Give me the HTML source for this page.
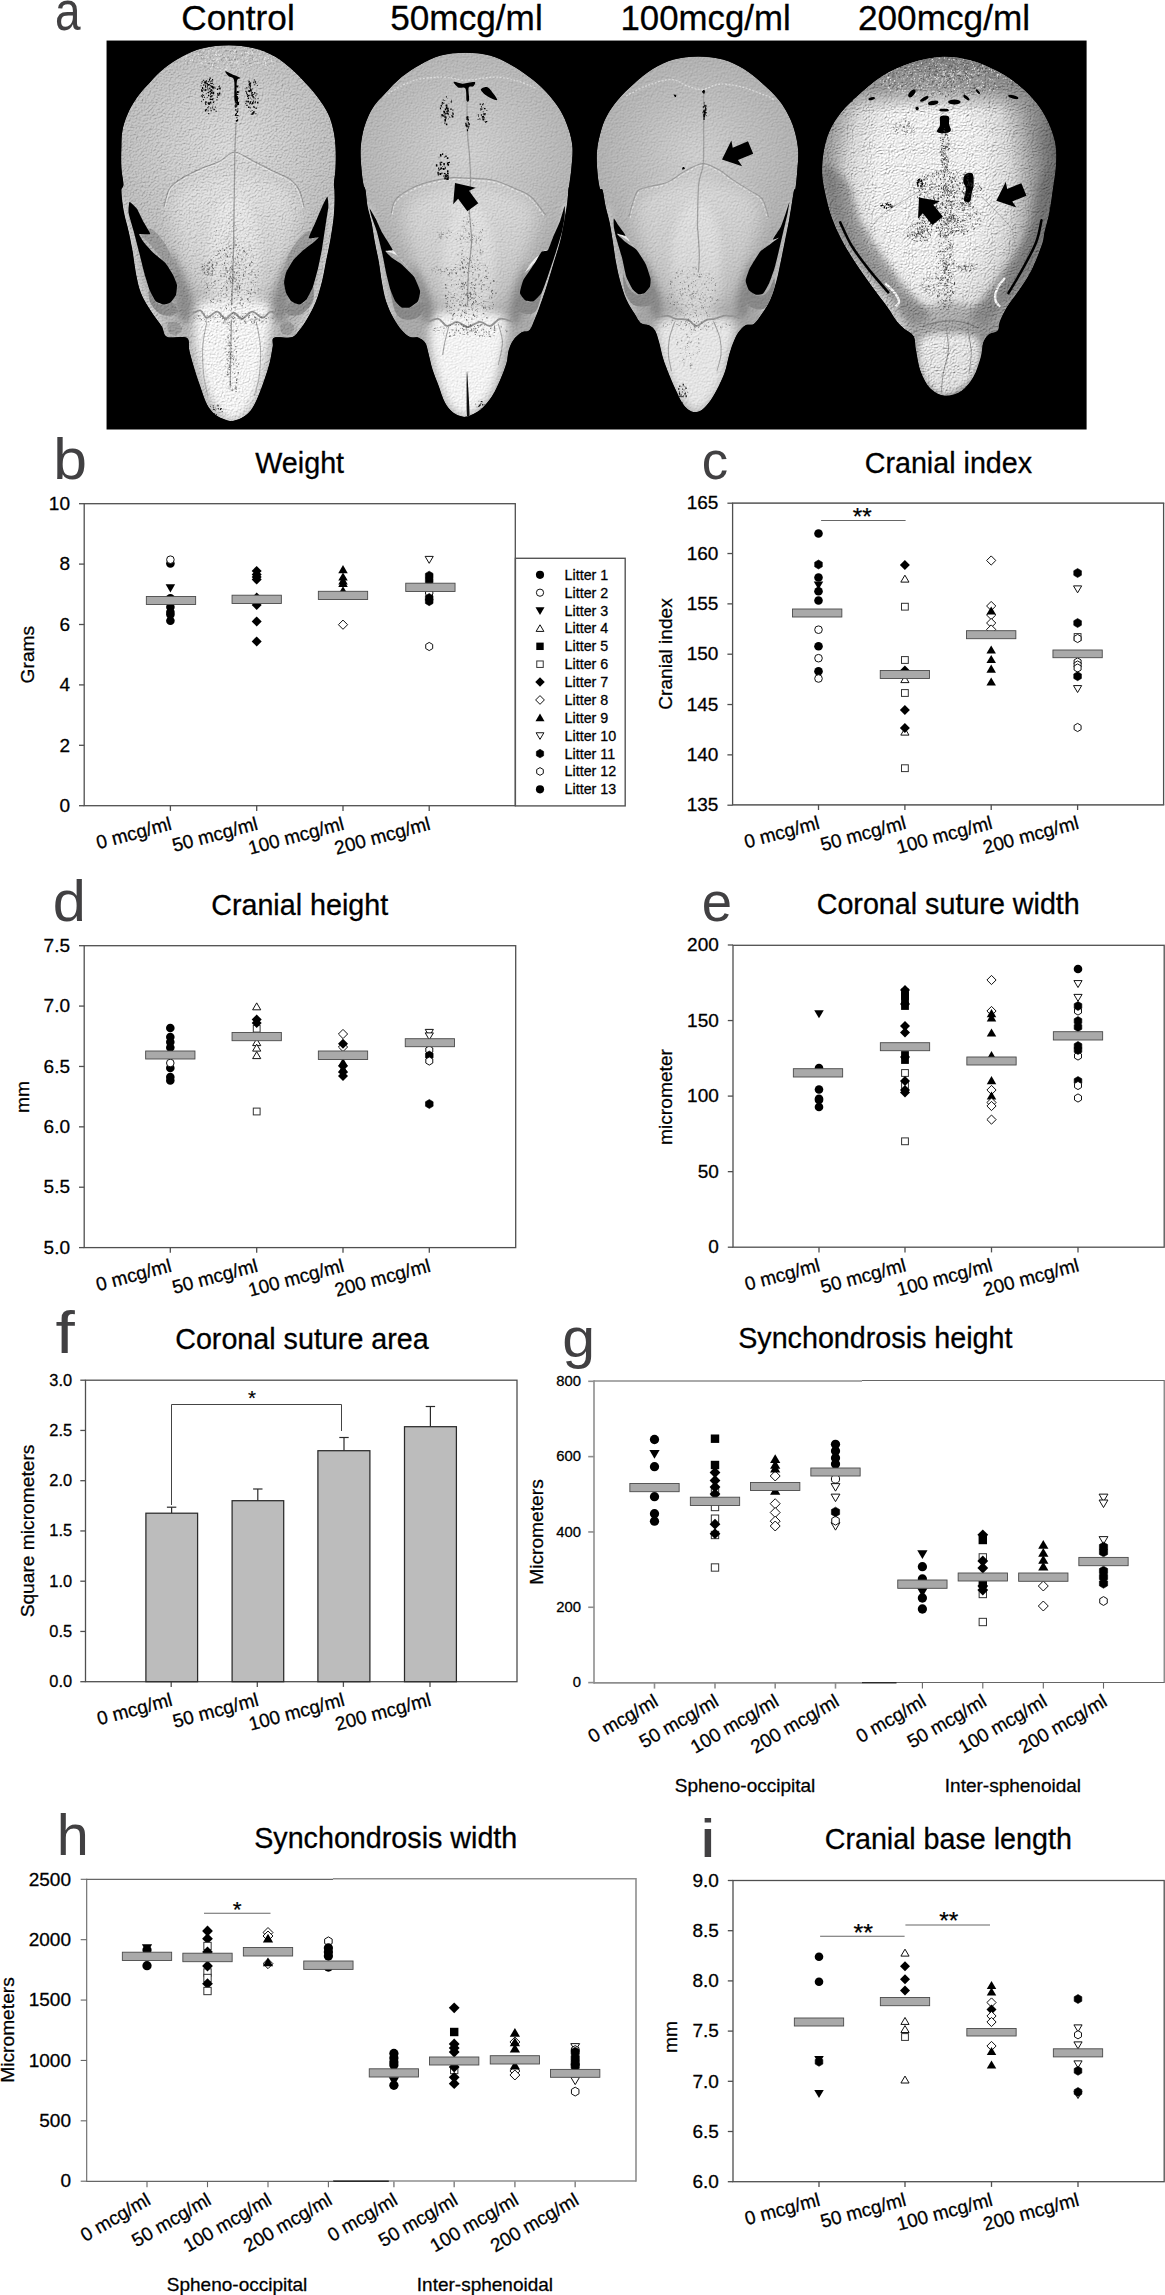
<!DOCTYPE html>
<html lang="en"><head><meta charset="utf-8"><title>Figure</title>
<style>
html,body{margin:0;padding:0;background:#fff;}
body{width:1165px;height:2295px;overflow:hidden;}
svg{display:block;}
text{font-family:"Liberation Sans",sans-serif;stroke:#000;stroke-width:0.28px;}
.lt{stroke:#414042;stroke-width:0;}
</style></head><body>
<svg width="1165" height="2295" viewBox="0 0 1165 2295">
<rect width="1165" height="2295" fill="#fff"/>
<defs>
<radialGradient id="g1" gradientUnits="userSpaceOnUse" cx="228" cy="150" r="130"><stop offset="0" stop-color="#e0e0e0"/><stop offset="0.45" stop-color="#d2d2d2"/><stop offset="0.8" stop-color="#c6c6c6"/><stop offset="1" stop-color="#bcbcbc"/></radialGradient>
<radialGradient id="g2" gradientUnits="userSpaceOnUse" cx="466" cy="155" r="130"><stop offset="0" stop-color="#d8d8d8"/><stop offset="0.45" stop-color="#c8c8c8"/><stop offset="0.8" stop-color="#bcbcbc"/><stop offset="1" stop-color="#b0b0b0"/></radialGradient>
<radialGradient id="g3" gradientUnits="userSpaceOnUse" cx="697" cy="155" r="125"><stop offset="0" stop-color="#d6d6d6"/><stop offset="0.45" stop-color="#c4c4c4"/><stop offset="0.8" stop-color="#b8b8b8"/><stop offset="1" stop-color="#acacac"/></radialGradient>
<radialGradient id="g4" gradientUnits="userSpaceOnUse" cx="930" cy="185" r="128" gradientTransform="translate(930 185) scale(1 1.75) translate(-930 -185)"><stop offset="0" stop-color="#ffffff"/><stop offset="0.4" stop-color="#ffffff"/><stop offset="0.5" stop-color="#f6f6f6"/><stop offset="0.63" stop-color="#e6e6e6"/><stop offset="0.81" stop-color="#a8a8a8"/><stop offset="0.95" stop-color="#848484"/><stop offset="1" stop-color="#707070"/></radialGradient>
<linearGradient id="sn1" gradientUnits="userSpaceOnUse" x1="0" y1="230" x2="0" y2="400"><stop offset="0" stop-color="#fff" stop-opacity="0"/><stop offset="0.55" stop-color="#fff" stop-opacity="0.55"/><stop offset="1" stop-color="#fff" stop-opacity="0.85"/></linearGradient>
<linearGradient id="sn2" gradientUnits="userSpaceOnUse" x1="0" y1="240" x2="0" y2="400"><stop offset="0" stop-color="#fff" stop-opacity="0"/><stop offset="0.55" stop-color="#fff" stop-opacity="0.55"/><stop offset="1" stop-color="#fff" stop-opacity="0.85"/></linearGradient>
<linearGradient id="sn3" gradientUnits="userSpaceOnUse" x1="0" y1="240" x2="0" y2="395"><stop offset="0" stop-color="#fff" stop-opacity="0"/><stop offset="0.55" stop-color="#fff" stop-opacity="0.55"/><stop offset="1" stop-color="#fff" stop-opacity="0.85"/></linearGradient>
<linearGradient id="top4" gradientUnits="userSpaceOnUse" x1="0" y1="55" x2="0" y2="112"><stop offset="0" stop-color="#808080" stop-opacity="0.95"/><stop offset="0.6" stop-color="#909090" stop-opacity="0.75"/><stop offset="1" stop-color="#a0a0a0" stop-opacity="0"/></linearGradient>
<filter id="bl6" x="-30%" y="-30%" width="160%" height="160%"><feGaussianBlur stdDeviation="5"/></filter><filter id="bl8" x="-30%" y="-30%" width="160%" height="160%"><feGaussianBlur stdDeviation="8"/></filter><filter id="bl3" x="-30%" y="-30%" width="160%" height="160%"><feGaussianBlur stdDeviation="3"/></filter>
<filter id="tex1" x="-2%" y="-2%" width="104%" height="104%" color-interpolation-filters="sRGB">
<feTurbulence type="fractalNoise" baseFrequency="0.85" numOctaves="2" seed="3" result="n"/>
<feDiffuseLighting in="n" surfaceScale="1.15" diffuseConstant="1.05" lighting-color="#ffffff" result="l"><feDistantLight azimuth="235" elevation="66"/></feDiffuseLighting>
<feComposite in="l" in2="SourceGraphic" operator="arithmetic" k1="1" k2="0" k3="0" k4="0" result="m"/>
<feComposite in="m" in2="SourceGraphic" operator="in"/>
</filter>
<filter id="tex2" x="-2%" y="-2%" width="104%" height="104%" color-interpolation-filters="sRGB">
<feTurbulence type="fractalNoise" baseFrequency="0.8" numOctaves="2" seed="7" result="n"/>
<feDiffuseLighting in="n" surfaceScale="0.6" diffuseConstant="1.05" lighting-color="#ffffff" result="l"><feDistantLight azimuth="235" elevation="66"/></feDiffuseLighting>
<feComposite in="l" in2="SourceGraphic" operator="arithmetic" k1="1" k2="0" k3="0" k4="0" result="m"/>
<feComposite in="m" in2="SourceGraphic" operator="in"/>
</filter>
<filter id="tex3" x="-2%" y="-2%" width="104%" height="104%" color-interpolation-filters="sRGB">
<feTurbulence type="fractalNoise" baseFrequency="0.8" numOctaves="2" seed="11" result="n"/>
<feDiffuseLighting in="n" surfaceScale="0.6" diffuseConstant="1.05" lighting-color="#ffffff" result="l"><feDistantLight azimuth="235" elevation="66"/></feDiffuseLighting>
<feComposite in="l" in2="SourceGraphic" operator="arithmetic" k1="1" k2="0" k3="0" k4="0" result="m"/>
<feComposite in="m" in2="SourceGraphic" operator="in"/>
</filter>
<filter id="tex4" x="-2%" y="-2%" width="104%" height="104%" color-interpolation-filters="sRGB">
<feTurbulence type="fractalNoise" baseFrequency="0.95" numOctaves="2" seed="5" result="n"/>
<feDiffuseLighting in="n" surfaceScale="1.6" diffuseConstant="1.05" lighting-color="#ffffff" result="l"><feDistantLight azimuth="235" elevation="62"/></feDiffuseLighting>
<feComposite in="l" in2="SourceGraphic" operator="arithmetic" k1="1" k2="0" k3="0" k4="0" result="m"/>
<feComposite in="m" in2="SourceGraphic" operator="in"/>
</filter>
</defs>
<g id="panel-a">
<text transform="translate(55.01 29.75) scale(0.9195 1.1012)" x="0" y="0" font-size="50" fill="#414042" class="lt">a</text>
<text x="238" y="29.6" font-size="35.2" text-anchor="middle" fill="#000" >Control</text>
<text x="466.5" y="29.6" font-size="35.2" text-anchor="middle" fill="#000" >50mcg/ml</text>
<text x="705.6" y="29.6" font-size="34.8" text-anchor="middle" fill="#000" >100mcg/ml</text>
<text x="944" y="29.6" font-size="35.2" text-anchor="middle" fill="#000" >200mcg/ml</text>
<rect x="106.55" y="40.55" width="980.05" height="388.95" fill="#000"/>
<clipPath id="clip1"><path d="M228.46,45.15C237.04,45.15 246.49,46.35 254.21,48.24C261.94,50.13 268.63,53.05 274.81,56.48C280.99,59.91 286.14,64.38 291.29,68.84C296.44,73.31 301.25,78.46 305.71,83.26C310.18,88.07 314.3,92.53 318.08,97.68C321.85,102.83 325.8,108.67 328.38,114.17C330.95,119.66 332.33,125.15 333.53,130.65C334.73,136.14 335.24,140.95 335.59,147.13C335.93,153.31 335.86,161.55 335.59,167.73C335.31,173.91 334.11,180.5 333.94,184.21C333.77,187.92 334.45,186.98 334.56,190C334.66,193.02 334.73,197.55 334.56,202.36C334.39,207.17 334.21,212.66 333.53,218.84C332.84,225.02 331.64,232.58 330.44,239.44C329.23,246.31 327.69,253.18 326.32,260.05C324.94,266.91 323.91,273.78 322.2,280.65C320.48,287.51 318.42,295.07 316.02,301.25C313.61,307.43 310.52,312.92 307.78,317.73C305.03,322.54 302.21,326.83 299.53,330.09C296.86,333.35 295.93,336.03 291.71,337.3C287.48,338.57 277.35,336.17 274.19,337.71C271.04,339.26 273.51,342.35 272.75,346.57C272,350.8 271.04,357.56 269.66,363.05C268.29,368.55 266.4,374.04 264.51,379.53C262.62,385.03 260.39,391.21 258.33,396.02C256.27,400.82 254.55,404.94 252.15,408.38C249.75,411.81 247,414.56 243.91,416.62C240.82,418.68 236.7,420.22 233.61,420.74C230.52,421.25 228.46,420.74 225.37,419.71C222.28,418.68 218.16,417.13 215.07,414.56C211.98,411.98 209.23,408.72 206.83,404.26C204.42,399.79 202.71,393.61 200.65,387.78C198.59,381.94 196.35,375.41 194.47,369.23C192.58,363.05 190.62,355.95 189.32,350.69C188.01,345.44 190.35,340.01 186.64,337.71C182.93,335.41 171.26,338.85 167.07,336.89C162.88,334.93 164.15,330.19 161.5,325.97C158.86,321.75 154.64,317.04 151.2,311.55C147.77,306.06 143.48,299.53 140.9,293.01C138.33,286.48 137.13,279.27 135.75,272.41C134.38,265.54 133.86,258.67 132.66,251.8C131.46,244.94 129.91,237.38 128.54,231.2C127.17,225.02 125.45,219.53 124.42,214.72C123.39,209.91 122.88,206.48 122.36,202.36C121.85,198.24 121.16,193.02 121.33,190C121.5,186.98 123.39,187.92 123.39,184.21C123.39,180.5 121.67,173.91 121.33,167.73C120.99,161.55 121.16,153.31 121.33,147.13C121.5,140.95 121.33,136.14 122.36,130.65C123.39,125.15 125.11,119.66 127.51,114.17C129.91,108.67 133.18,102.83 136.78,97.68C140.39,92.53 144.68,88.07 149.14,83.26C153.61,78.46 158.07,73.31 163.56,68.84C169.06,64.38 175.58,59.91 182.11,56.48C188.63,53.05 194.98,50.13 202.71,48.24C210.43,46.35 219.88,45.15 228.46,45.15Z"/></clipPath>
<g filter="url(#tex1)">
<path d="M228.46,45.15C237.04,45.15 246.49,46.35 254.21,48.24C261.94,50.13 268.63,53.05 274.81,56.48C280.99,59.91 286.14,64.38 291.29,68.84C296.44,73.31 301.25,78.46 305.71,83.26C310.18,88.07 314.3,92.53 318.08,97.68C321.85,102.83 325.8,108.67 328.38,114.17C330.95,119.66 332.33,125.15 333.53,130.65C334.73,136.14 335.24,140.95 335.59,147.13C335.93,153.31 335.86,161.55 335.59,167.73C335.31,173.91 334.11,180.5 333.94,184.21C333.77,187.92 334.45,186.98 334.56,190C334.66,193.02 334.73,197.55 334.56,202.36C334.39,207.17 334.21,212.66 333.53,218.84C332.84,225.02 331.64,232.58 330.44,239.44C329.23,246.31 327.69,253.18 326.32,260.05C324.94,266.91 323.91,273.78 322.2,280.65C320.48,287.51 318.42,295.07 316.02,301.25C313.61,307.43 310.52,312.92 307.78,317.73C305.03,322.54 302.21,326.83 299.53,330.09C296.86,333.35 295.93,336.03 291.71,337.3C287.48,338.57 277.35,336.17 274.19,337.71C271.04,339.26 273.51,342.35 272.75,346.57C272,350.8 271.04,357.56 269.66,363.05C268.29,368.55 266.4,374.04 264.51,379.53C262.62,385.03 260.39,391.21 258.33,396.02C256.27,400.82 254.55,404.94 252.15,408.38C249.75,411.81 247,414.56 243.91,416.62C240.82,418.68 236.7,420.22 233.61,420.74C230.52,421.25 228.46,420.74 225.37,419.71C222.28,418.68 218.16,417.13 215.07,414.56C211.98,411.98 209.23,408.72 206.83,404.26C204.42,399.79 202.71,393.61 200.65,387.78C198.59,381.94 196.35,375.41 194.47,369.23C192.58,363.05 190.62,355.95 189.32,350.69C188.01,345.44 190.35,340.01 186.64,337.71C182.93,335.41 171.26,338.85 167.07,336.89C162.88,334.93 164.15,330.19 161.5,325.97C158.86,321.75 154.64,317.04 151.2,311.55C147.77,306.06 143.48,299.53 140.9,293.01C138.33,286.48 137.13,279.27 135.75,272.41C134.38,265.54 133.86,258.67 132.66,251.8C131.46,244.94 129.91,237.38 128.54,231.2C127.17,225.02 125.45,219.53 124.42,214.72C123.39,209.91 122.88,206.48 122.36,202.36C121.85,198.24 121.16,193.02 121.33,190C121.5,186.98 123.39,187.92 123.39,184.21C123.39,180.5 121.67,173.91 121.33,167.73C120.99,161.55 121.16,153.31 121.33,147.13C121.5,140.95 121.33,136.14 122.36,130.65C123.39,125.15 125.11,119.66 127.51,114.17C129.91,108.67 133.18,102.83 136.78,97.68C140.39,92.53 144.68,88.07 149.14,83.26C153.61,78.46 158.07,73.31 163.56,68.84C169.06,64.38 175.58,59.91 182.11,56.48C188.63,53.05 194.98,50.13 202.71,48.24C210.43,46.35 219.88,45.15 228.46,45.15Z" fill="url(#g1)"/>
<g clip-path="url(#clip1)">
<path d="M198.59,305.37C204.77,296.44 221.94,301.25 233.61,301.25C245.28,301.25 263.14,296.44 268.63,305.37C274.13,314.3 268.98,339.02 266.57,354.81C264.17,370.61 259.7,389.15 254.21,400.14C248.72,411.12 240.48,420.05 233.61,420.74C226.74,421.42 219.19,415.24 213.01,404.26C206.83,393.27 198.93,371.29 196.53,354.81C194.12,338.33 192.41,314.3 198.59,305.37Z" fill="#ffffff" opacity="0.97" filter="url(#bl6)"/>
<path d="M175.93,194.12C185.54,183.13 213.69,175.58 233.61,175.58C253.52,175.58 285.46,183.13 295.41,194.12C305.37,205.11 297.13,226.05 293.35,241.5C289.58,256.96 282.71,275.5 272.75,286.83C262.79,298.16 246.31,309.49 233.61,309.49C220.91,309.49 206.14,298.16 196.53,286.83C186.91,275.5 179.36,256.96 175.93,241.5C172.49,226.05 166.31,205.11 175.93,194.12Z" fill="#ffffff" opacity="0.38" filter="url(#bl8)"/>
<path d="M169.74,251.8C171.12,249.06 178.33,264.17 182.11,272.41C185.88,280.65 191.38,293.01 192.41,301.25C193.44,309.49 190.69,319.45 188.29,321.85C185.88,324.25 180.39,321.16 177.99,315.67C175.58,310.18 175.24,299.53 173.86,288.89C172.49,278.24 168.37,254.55 169.74,251.8Z" fill="#606060" opacity="0.45" filter="url(#bl3)"/>
<path d="M293.35,251.8C291.81,249.06 284.43,264.17 280.99,272.41C277.56,280.65 273.44,293.01 272.75,301.25C272.07,309.49 274.47,319.45 276.87,321.85C279.28,324.25 284.94,321.16 287.17,315.67C289.41,310.18 289.23,299.53 290.26,288.89C291.29,278.24 294.9,254.55 293.35,251.8Z" fill="#606060" opacity="0.45" filter="url(#bl3)"/>
<path d="M121.95,198.24C122.36,200.99 123.32,209.23 124.42,214.72C125.52,220.22 127.17,225.02 128.54,231.2C129.91,237.38 131.46,244.94 132.66,251.8C133.86,258.67 134.38,265.54 135.75,272.41C137.13,279.27 138.33,286.48 140.9,293.01C143.48,299.53 147.77,306.06 151.2,311.55C154.64,317.04 159.79,323.57 161.5,325.97" fill="none" stroke="#f0f0f0" stroke-width="8" opacity="0.5" filter="url(#bl3)"/>
<path d="M334.56,198.24C334.39,201.67 334.21,211.98 333.53,218.84C332.84,225.71 331.64,232.58 330.44,239.44C329.23,246.31 327.69,253.18 326.32,260.05C324.94,266.91 323.91,273.78 322.2,280.65C320.48,287.51 318.42,295.07 316.02,301.25C313.61,307.43 310.52,312.92 307.78,317.73C305.03,322.54 300.91,328.03 299.53,330.09" fill="none" stroke="#f0f0f0" stroke-width="8" opacity="0.5" filter="url(#bl3)"/>
<ellipse cx="233.61" cy="257.99" rx="26" ry="62" fill="#fff" opacity="0.38" filter="url(#bl6)"/>
<path d="M149.14,289.92C150.07,289.81 153.26,299.15 155.74,301.66C158.21,304.17 161.3,304.85 163.98,304.96C166.65,305.06 169.47,301.18 171.8,302.28C174.14,303.38 178.33,309.32 177.99,311.55C177.64,313.78 172.83,315.33 169.74,315.67C166.65,316.01 162.71,315.84 159.44,313.61C156.18,311.38 151.89,306.23 150.17,302.28C148.46,298.33 148.22,290.02 149.14,289.92Z" fill="#929292"/>
<path d="M312.93,286.83C311.9,286.55 308.98,296.58 306.74,299.6C304.51,302.62 302.11,304.61 299.53,304.96C296.96,305.3 293.7,300.56 291.29,301.66C288.89,302.76 284.77,309.21 285.11,311.55C285.46,313.88 290.26,315.5 293.35,315.67C296.44,315.84 300.39,314.98 303.65,312.58C306.92,310.18 311.38,305.54 312.93,301.25C314.47,296.96 313.96,287.1 312.93,286.83Z" fill="#929292"/>
<path d="M151.2,229.14C154.98,230.34 160.13,236.7 163.56,241.5C167,246.31 169.74,252.83 171.8,257.99C173.86,263.14 176.27,270.69 175.93,272.41C175.58,274.12 172.49,271.03 169.74,268.29C167,265.54 162.88,260.05 159.44,255.93C156.01,251.8 152.23,247.17 149.14,243.56C146.05,239.96 140.56,236.7 140.9,234.29C141.25,231.89 147.43,227.94 151.2,229.14Z" fill="#a0a0a0"/>
<path d="M307.78,231.2C304,232.16 298.85,239.1 295.41,243.56C291.98,248.03 288.89,253.52 287.17,257.99C285.46,262.45 284.43,269.66 285.11,270.35C285.8,271.03 288.55,265.2 291.29,262.11C294.04,259.02 298.16,254.89 301.59,251.8C305.03,248.71 309.15,245.9 311.9,243.56C314.64,241.23 318.76,239.86 318.08,237.8C317.39,235.74 311.55,230.24 307.78,231.2Z" fill="#a0a0a0"/>
<path d="M167.68,323.91C168.71,322.02 173.52,321.16 175.93,321.85C178.33,322.54 181.76,325.97 182.11,328.03C182.45,330.09 180.05,333.35 177.99,334.21C175.93,335.07 171.46,334.9 169.74,333.18C168.03,331.46 166.65,325.8 167.68,323.91Z" fill="#a0a0a0"/>
<path d="M280.99,323.91C282.19,322.02 287,321.16 289.23,321.85C291.47,322.54 294.38,325.97 294.38,328.03C294.38,330.09 291.29,333.35 289.23,334.21C287.17,335.07 283.4,334.9 282.02,333.18C280.65,331.46 279.79,325.8 280.99,323.91Z" fill="#a0a0a0"/>
<path d="M163.98,206.87C164.94,203.78 166.72,193.14 169.74,188.33C172.77,183.52 176.61,181.46 182.11,178.03C187.6,174.6 196.53,170.48 202.71,167.73C208.89,164.98 213.87,164.12 219.19,161.55C224.51,158.97 228.8,152.28 234.64,152.28C240.48,152.28 247.52,158.29 254.21,161.55C260.91,164.81 268.63,168.76 274.81,171.85C280.99,174.94 287.17,177 291.29,180.09C295.41,183.18 297.41,185.93 299.53,190.39C301.66,194.86 303.31,204.13 304.07,206.87" fill="none" stroke="#9c9c9c" stroke-width="1.1"/>
<path d="M164.8,208.11C165.76,205.05 167.62,194.51 170.57,189.77C173.52,185.04 177.09,183.08 182.52,179.68C187.94,176.28 196.94,172.12 203.12,169.38C209.3,166.63 214.35,165.7 219.6,163.2C224.85,160.69 228.94,154.34 234.64,154.34C240.34,154.34 247.17,160 253.8,163.2C260.43,166.39 268.29,170.41 274.4,173.5C280.51,176.59 286.49,178.68 290.47,181.74C294.45,184.79 296.24,187.51 298.3,191.83C300.36,196.16 302.08,205.05 302.83,207.7" fill="none" stroke="#ffffff" stroke-width="1" opacity="0.55"/>
<path d="M236.08,122.41C235.88,127.38 235.12,141.98 234.85,152.28C234.57,162.58 234.64,169.58 234.43,184.21C234.23,198.84 233.75,230.49 233.61,240.04C233.47,249.59 233.75,235.42 233.61,241.5C233.47,247.58 233.13,265.88 232.79,276.53C232.44,287.17 231.76,300.56 231.55,305.37" fill="none" stroke="#a2a2a2" stroke-width="1.3"/>
<path d="M192.41,313.61C193.78,313.09 198.24,309.83 200.65,310.52C203.05,311.21 204.08,317.56 206.83,317.73C209.57,317.9 214.04,311.38 217.13,311.55C220.22,311.72 222.62,318.59 225.37,318.76C228.12,318.93 230.86,312.58 233.61,312.58C236.36,312.58 238.76,318.93 241.85,318.76C244.94,318.59 248.72,311.72 252.15,311.55C255.58,311.38 259.36,317.73 262.45,317.73C265.54,317.73 268.29,311.89 270.69,311.55C273.1,311.21 275.84,314.98 276.87,315.67" fill="none" stroke="#9a9a9a" stroke-width="1.8"/>
<path d="M206.83,321.85C206.14,325.97 203.22,337.64 202.71,346.57C202.19,355.5 202.88,367.17 203.74,375.41C204.6,383.65 207.17,392.58 207.86,396.02" fill="none" stroke="#b5b5b5" stroke-width="1.1"/>
<path d="M256.27,321.85C256.96,325.97 259.88,337.64 260.39,346.57C260.91,355.5 260.39,367.17 259.36,375.41C258.33,383.65 255.07,392.58 254.21,396.02" fill="none" stroke="#b5b5b5" stroke-width="1.1"/>
<path d="M231.55,319.79C231.41,325.63 230.93,343.48 230.73,354.81C230.52,366.14 230.38,382.28 230.31,387.78" fill="none" stroke="#a8a8a8" stroke-width="1.1"/>
<path d="M229.13,57.84h0.69v0.57h-0.69zM228.32,49.44h1.12v0.77h-1.12zM227.78,59.02h0.65v0.72h-0.65zM247.47,59.18h0.95v1.09h-0.95zM237.93,66.69h1.07v0.65h-1.07zM244.91,49.78h0.74v0.56h-0.74zM254.04,57.05h0.56v0.39h-0.56zM251.74,51.65h1.06v1.42h-1.06zM183.76,55.88h0.76v0.88h-0.76zM248.64,51.01h1.1v1.3h-1.1zM229.92,57.21h0.66v0.59h-0.66zM247.35,60.62h0.57v0.5h-0.57zM215.3,54.08h0.76v0.61h-0.76zM226.46,69.94h0.95v1.15h-0.95zM250.61,67h0.61v0.6h-0.61zM268.05,57.96h0.89v1.14h-0.89zM254.61,50.16h0.66v0.42h-0.66zM223.6,62.91h0.65v1h-0.65zM247.42,54.8h0.96v0.95h-0.96zM256.45,54.98h0.69v0.58h-0.69zM213.37,56.77h0.91v1.36h-0.91zM217.6,60.99h1.2v1.33h-1.2zM236.51,59.31h0.58v0.71h-0.58zM238.69,52.21h0.54v0.53h-0.54zM263.56,58.35h1.18v1.72h-1.18zM271.2,59.23h0.98v1.11h-0.98zM227.68,67.28h0.58v0.6h-0.58zM185.21,61.87h1.11v0.96h-1.11zM216.57,58.53h1.14v1.67h-1.14zM220.6,66.91h0.93v0.7h-0.93zM234.1,50.78h1.05v1.18h-1.05zM254.27,58.56h0.51v0.79h-0.51zM263.34,51.26h0.72v0.47h-0.72zM266.22,50.53h0.56v0.61h-0.56zM268.99,62.72h1.04v0.75h-1.04zM199.05,59.76h0.69v1.01h-0.69zM216.61,60.42h0.88v1.17h-0.88zM238.23,63.6h1.2v1.5h-1.2zM202.37,61.41h0.58v0.48h-0.58zM213.42,65.58h0.66v0.54h-0.66zM264.23,62.29h0.66v0.99h-0.66zM236.53,57.09h0.67v0.85h-0.67zM234.25,61.38h1.15v1.35h-1.15zM189.98,60.27h1.07v0.84h-1.07zM254.3,62.35h0.8v0.85h-0.8zM226.58,49.52h1.19v0.83h-1.19zM212.34,61.78h1.1v0.94h-1.1zM242.02,64.91h0.8v0.7h-0.8zM231.61,69.89h0.81v1.18h-0.81zM225.66,58.08h1.2v1.72h-1.2zM278.05,56.34h1.09v0.84h-1.09zM214.64,58.91h0.78v0.51h-0.78zM195.7,66.73h0.69v0.95h-0.69zM205.26,60.37h1.17v1.87h-1.17zM194.29,55.27h0.61v0.55h-0.61zM265.01,56.94h0.88v1.19h-0.88zM263.68,61.44h0.85v1.24h-0.85zM258.26,68.29h0.56v0.44h-0.56zM200.14,53.42h0.66v0.48h-0.66zM246.01,55.68h0.92v1.12h-0.92zM201.57,62.54h0.87v1.33h-0.87zM242.77,67.65h0.67v0.66h-0.67zM221.38,53.99h0.72v0.98h-0.72zM257.55,61.6h1.2v1.91h-1.2zM246.73,60.35h0.69v1.05h-0.69zM265.03,51.08h0.76v0.57h-0.76zM251.18,50.43h0.93v1.47h-0.93zM230.6,58.21h1.07v0.96h-1.07zM206.78,48.72h0.59v0.42h-0.59zM257.39,63.48h0.69v0.83h-0.69zM228.23,54.68h0.94v0.82h-0.94zM185.03,59.35h1.09v0.76h-1.09zM213.51,60.8h0.5v0.69h-0.5zM218.8,54.98h1.02v1.17h-1.02zM229.8,58.75h0.55v0.82h-0.55zM258.48,54.08h1.08v1.28h-1.08zM238.61,60.82h0.72v1.07h-0.72zM244.41,48.19h1.13v0.91h-1.13zM231.58,60.98h1.05v1.55h-1.05zM201.76,63.31h0.61v0.93h-0.61zM263.97,49.67h1.07v1.58h-1.07zM271.43,60.04h0.73v1.12h-0.73zM246.1,48.29h1.07v0.93h-1.07zM234,56.08h1.11v1.62h-1.11zM239.03,68.8h0.82v0.74h-0.82zM236.54,54.46h0.52v0.41h-0.52zM210.23,68.09h1.18v1.03h-1.18zM214.97,53.64h1.19v1.35h-1.19zM241.78,57.56h1.18v0.92h-1.18zM250.76,57.44h0.58v0.6h-0.58zM228.56,53.26h0.92v1.03h-0.92zM206.01,63.93h0.68v0.89h-0.68zM278.91,58.66h0.88v1.16h-0.88zM229.64,49.48h0.75v0.51h-0.75zM219.74,53.8h0.72v1.04h-0.72zM227.48,53.46h0.72v0.72h-0.72zM214.12,61.48h0.59v0.6h-0.59zM266.97,55.2h1.13v1.38h-1.13zM221.22,66.02h0.5v0.44h-0.5zM200.66,62.04h0.96v1.02h-0.96zM215.68,59.99h0.83v1.25h-0.83zM235.67,55.22h0.56v0.62h-0.56zM215.94,54.4h1.07v1.45h-1.07zM223.35,54.81h0.64v0.4h-0.64zM232.51,65.67h1.09v0.74h-1.09zM200.48,62.99h0.64v0.82h-0.64zM212.93,58.7h0.96v0.58h-0.96zM231.8,48.55h0.57v0.59h-0.57zM253.34,68.95h0.86v0.56h-0.86zM231.77,69.24h0.82v1.15h-0.82zM207.01,48.2h0.92v1.42h-0.92zM259.09,53.17h1v1.11h-1zM247.46,51.65h1.13v1.52h-1.13zM212.36,59.28h0.67v0.83h-0.67zM234.69,50.97h0.94v0.82h-0.94zM249.94,60.88h0.69v0.63h-0.69zM219.42,57.79h0.66v0.86h-0.66zM229.57,56.85h0.79v0.9h-0.79zM217.23,60.55h0.79v1.19h-0.79zM198.06,53.85h1.1v1.5h-1.1zM230.54,58.77h0.75v1.01h-0.75zM260.81,49.3h0.79v1.07h-0.79zM197.91,56.13h0.65v0.54h-0.65zM227.69,58.94h0.74v0.94h-0.74zM219.87,60.46h0.83v0.6h-0.83zM228.68,57.88h0.78v0.9h-0.78zM267.71,60.03h0.59v0.63h-0.59zM255.65,60.43h0.65v0.6h-0.65zM233.34,52.47h1.03v1.47h-1.03zM231.43,60.62h0.51v0.59h-0.51zM255.53,58.54h0.96v1.32h-0.96zM207.79,50.51h1.16v0.93h-1.16zM244.84,58.95h0.59v0.75h-0.59zM215.71,56.93h0.99v1.35h-0.99zM248.97,65.9h1.02v0.73h-1.02zM252.12,47.93h0.58v0.36h-0.58zM217.1,66.99h1.17v1.17h-1.17zM229.75,56.61h0.98v1.21h-0.98zM265.02,64.53h1.1v1.31h-1.1zM267.36,66.72h1.05v0.99h-1.05zM209.08,61.15h0.85v0.8h-0.85zM257.08,50.06h0.57v0.9h-0.57zM202.68,50.62h1v1.03h-1zM226.59,46.89h0.69v0.97h-0.69zM202.35,56.83h0.8v1.07h-0.8zM226.4,69.19h1.08v0.74h-1.08zM245.25,55.52h0.83v1h-0.83zM228.53,59.23h1.1v0.86h-1.1zM241.61,68.5h0.74v1.09h-0.74zM225.41,53.89h0.51v0.79h-0.51zM265.67,63.43h0.84v1.14h-0.84zM218.13,50.31h0.84v1.18h-0.84zM246.07,60.85h0.98v0.89h-0.98zM205.74,55.06h0.87v0.89h-0.87zM230.96,53.01h0.99v0.86h-0.99zM231.45,61.27h0.63v0.46h-0.63zM191.25,56.32h0.63v0.51h-0.63zM191.84,59.49h1.18v1.33h-1.18zM229.49,60.89h0.64v0.53h-0.64zM232.64,59.09h0.87v0.76h-0.87zM264.16,57.27h0.99v0.72h-0.99zM252.13,53.18h1.11v1.3h-1.11zM203.9,59.83h0.63v0.41h-0.63zM259.34,55.95h1.08v1.08h-1.08zM263.86,62.44h0.54v0.4h-0.54zM211.5,56.54h1.2v0.86h-1.2zM234.74,50.12h1.05v0.87h-1.05zM203.22,57.57h0.81v1.18h-0.81zM253.3,58.21h0.93v1.13h-0.93zM228.55,47.01h0.65v0.52h-0.65zM224.25,55.76h0.62v0.42h-0.62zM260.16,58.66h0.92v0.82h-0.92zM236.1,67.89h0.99v1.05h-0.99zM213.41,48.06h1.05v1.29h-1.05zM206.31,48.84h0.8v0.91h-0.8zM203.51,49.56h1.08v0.72h-1.08zM242.59,63.08h1.02v1.2h-1.02zM228.76,61.25h0.98v1.28h-0.98zM260.37,55.94h0.85v0.58h-0.85zM258.47,60.19h0.73v0.62h-0.73zM272.41,64.88h1.09v1.28h-1.09zM279.16,54.89h0.97v0.84h-0.97zM271.36,61.01h0.83v1.04h-0.83zM244.63,56.71h0.91v1.12h-0.91zM222.21,58.66h0.74v0.69h-0.74zM209.95,49.09h0.73v0.95h-0.73zM220.12,69.75h1.07v1.23h-1.07zM210.19,60.04h0.73v1.14h-0.73zM205.67,62.81h1.19v1.5h-1.19zM205.57,56.83h0.63v0.61h-0.63zM233.01,49.91h1.03v0.83h-1.03zM186.36,55.08h0.81v1.05h-0.81zM267.01,66.68h0.93v0.78h-0.93zM249.48,65.17h0.89v0.61h-0.89zM278.4,57.99h0.82v0.59h-0.82zM246.7,52.13h1v1.11h-1zM225.09,69h1.19v1h-1.19zM207.3,56.6h1.15v1.27h-1.15zM264.32,51.09h0.69v0.96h-0.69zM190.52,64.37h0.86v1.22h-0.86zM227.15,63.58h0.91v1.46h-0.91zM218.41,58.75h0.88v0.83h-0.88zM200.64,56.03h0.82v0.75h-0.82zM246.16,67.18h0.9v0.75h-0.9zM232.44,57.22h1.02v1.33h-1.02zM241.21,52.83h0.96v1.37h-0.96zM261.9,57.66h0.53v0.58h-0.53zM193.29,52.7h1.11v1.16h-1.11zM203.03,57.42h1.01v1.02h-1.01zM223.94,55.86h0.83v1.3h-0.83zM211.13,66.42h0.95v1.39h-0.95zM258.51,49.9h0.77v0.7h-0.77zM223.5,48.83h1.11v0.71h-1.11zM264.48,62.17h1.14v1.83h-1.14zM230.98,51.85h0.57v0.7h-0.57zM251.26,53.66h0.99v1.48h-0.99zM272.41,61.46h0.71v0.69h-0.71zM251.14,64.65h0.9v1.25h-0.9zM235.62,60.32h1.11v1.35h-1.11zM234.25,69.78h0.6v0.64h-0.6zM231.07,63.15h0.51v0.71h-0.51zM262.52,53.23h0.61v0.64h-0.61zM212.08,65.37h0.95v0.97h-0.95zM231.52,69.21h0.64v0.63h-0.64zM213.39,59h0.9v1.06h-0.9zM252.81,58.31h1.18v1.49h-1.18zM226.41,66.5h0.98v1.32h-0.98zM265.12,61.11h0.85v1.28h-0.85zM221.92,68.53h0.92v0.88h-0.92zM208.14,52.04h0.97v1.29h-0.97zM207.68,49.62h0.94v1.41h-0.94zM218.23,54.35h0.81v0.95h-0.81zM230.52,56.33h0.71v0.95h-0.71zM237.01,61.14h0.88v1.38h-0.88zM185.5,56.37h1.08v0.93h-1.08zM245.11,52.12h1.06v1.43h-1.06zM225.72,60.78h1.17v0.87h-1.17zM275.55,56.29h1.01v1.59h-1.01zM273.59,56.44h0.76v1.05h-0.76zM263.76,59.22h0.82v1.04h-0.82zM215.45,51.26h1.08v1.66h-1.08zM245.6,61.27h0.52v0.77h-0.52zM188.01,54.3h0.65v0.43h-0.65zM252.49,48.5h0.71v0.72h-0.71zM262.26,67.43h0.71v0.78h-0.71zM269.22,64.87h0.59v0.63h-0.59zM212.09,49.98h1.16v1.18h-1.16zM230.89,55.3h0.79v0.55h-0.79zM204.91,58.97h1.17v0.74h-1.17zM212.11,63.48h1.17v1.7h-1.17zM262.7,63.93h0.88v1.39h-0.88zM214.99,63.43h0.63v0.46h-0.63zM248.19,52.9h0.96v1.2h-0.96zM228.77,58.08h1.05v0.89h-1.05zM255.11,64.26h0.55v0.75h-0.55zM236.1,62.5h1.11v1.03h-1.11zM259.43,67.46h0.5v0.73h-0.5zM238.91,60.81h0.68v0.52h-0.68zM229.5,57.76h0.51v0.71h-0.51zM233.27,63.98h0.62v0.41h-0.62z" fill="#ffffff" opacity="0.7"/>
<path d="M229.89,50.9h1.02v1.1h-1.02zM237.04,51.13h0.58v0.64h-0.58zM236.78,58.09h1.05v1.54h-1.05zM202.86,57.61h1.17v0.78h-1.17zM205.38,59.38h0.98v1.07h-0.98zM238.33,57.5h0.56v0.67h-0.56zM250.1,60.49h0.94v1.08h-0.94zM208.88,69.19h0.87v0.92h-0.87zM223.73,57.08h0.99v1.44h-0.99zM207.29,50.43h1v0.82h-1zM214.58,59.82h0.74v0.78h-0.74zM223.23,59.71h0.8v1.01h-0.8zM222.11,60.83h1.15v0.76h-1.15zM236.22,56.56h0.57v0.76h-0.57zM244.1,51.17h0.91v1.06h-0.91zM226.04,60.96h0.75v0.95h-0.75zM231.63,47.67h1v1.58h-1zM212.12,55.14h0.9v0.74h-0.9zM221.84,55.03h0.58v0.83h-0.58zM203.7,65.88h0.9v1.27h-0.9zM259.19,48.8h1.07v1.3h-1.07zM229.11,57.81h1.15v1.64h-1.15zM229.9,62.14h0.99v0.9h-0.99zM230.8,58.83h1.11v1.29h-1.11zM221.2,60.33h0.94v0.59h-0.94zM231.13,54.45h0.79v0.75h-0.79zM204.3,65.5h1.04v1.22h-1.04zM237.03,59.32h0.61v0.74h-0.61zM222.31,54.26h0.96v1.05h-0.96zM212.71,60.26h1.03v0.73h-1.03zM212.85,60.66h0.97v1.06h-0.97zM228.69,57.35h0.78v0.93h-0.78zM253.12,58.79h0.65v0.48h-0.65zM230.75,64.04h0.51v0.68h-0.51zM242.99,63.99h0.99v1.09h-0.99zM253.05,49.6h0.55v0.8h-0.55zM234.53,58.74h1.14v1.67h-1.14zM201.44,54.82h1v1.01h-1zM234.04,59.07h0.73v1.02h-0.73zM199.15,51.41h1.14v0.79h-1.14zM241.95,54.84h0.91v1.03h-0.91zM214.07,61.76h0.74v0.69h-0.74zM246.91,65.07h0.58v0.64h-0.58zM251.43,55.34h1.01v1.43h-1.01zM238.79,54.53h0.6v0.48h-0.6zM198.53,52.6h0.96v0.75h-0.96zM235.92,51.29h1.03v1.4h-1.03zM186.65,62.12h0.9v1.11h-0.9zM199.53,50.9h0.94v0.71h-0.94zM257.23,61.36h0.71v0.62h-0.71zM260.73,61.12h0.72v0.75h-0.72zM272.72,62.23h0.55v0.81h-0.55zM253.41,51.8h0.85v0.91h-0.85zM191.54,55.13h1.13v1.18h-1.13zM245.15,50.27h0.73v0.78h-0.73zM235.71,59.93h0.57v0.86h-0.57zM209.66,66.44h0.85v0.66h-0.85zM231.95,65.27h0.81v0.91h-0.81zM245.15,63.59h0.7v0.7h-0.7zM213.16,65.66h1.05v1.31h-1.05zM240.33,59.47h0.97v0.86h-0.97zM225.43,49.72h1.13v1.67h-1.13zM214.41,65.66h0.6v0.57h-0.6zM269.64,56.66h0.77v0.93h-0.77zM251.91,56.54h0.76v1.06h-0.76zM246.16,50.18h1.08v1.45h-1.08zM218.95,51.51h0.95v0.97h-0.95zM215.67,63.04h0.63v0.51h-0.63zM260.12,56.2h0.66v0.49h-0.66zM270.85,63.51h0.57v0.78h-0.57zM254.92,49.07h0.53v0.49h-0.53zM232.78,55.66h0.76v0.58h-0.76zM251.94,49.82h1.07v0.82h-1.07zM206.75,61h0.97v0.82h-0.97zM212.05,60.25h1.02v1.07h-1.02zM210.05,57.42h1.07v1.14h-1.07zM244.2,53.41h1.16v1.84h-1.16zM211.54,59.72h0.77v0.87h-0.77zM273.98,56.35h1.06v0.78h-1.06zM231.55,67.33h1.11v1.28h-1.11zM267.1,64.95h1.1v0.97h-1.1zM233.21,53.72h1.13v0.85h-1.13zM187.11,62.96h0.66v0.69h-0.66zM229.23,59.31h0.54v0.59h-0.54zM235.99,70.45h0.76v0.48h-0.76zM271.66,54.07h0.95v1.33h-0.95zM245.09,62.35h1.08v1.4h-1.08zM256.74,65.74h0.81v0.49h-0.81zM248.47,60.75h1.08v1.25h-1.08zM226.99,50.95h0.58v0.51h-0.58zM229.67,59.9h0.79v1.11h-0.79zM221.21,59.23h1.13v1.36h-1.13zM262.82,59.32h0.67v0.5h-0.67zM199.44,62.21h0.67v0.68h-0.67zM226.96,56.7h1.18v0.79h-1.18zM200.87,57.32h1.19v1.38h-1.19zM208.78,63.04h0.94v1.49h-0.94zM231.49,59.21h1.05v0.99h-1.05zM227.69,49.92h1.04v1.39h-1.04zM228.75,59.72h0.88v1.25h-0.88zM250.59,67.52h0.83v1.07h-0.83zM202.32,50.91h0.54v0.75h-0.54zM211.1,59.88h0.53v0.42h-0.53zM277.55,61.52h0.86v1.37h-0.86zM213.12,57.32h1.03v0.81h-1.03zM205.37,66.44h1.11v1.03h-1.11zM249.17,62.74h1.12v1.51h-1.12zM251.83,54.75h1.18v1.3h-1.18zM184.24,58.72h0.86v1.21h-0.86zM230.34,56.53h0.92v1.31h-0.92zM209.88,57.01h0.56v0.7h-0.56zM219.36,66.43h0.8v1.03h-0.8zM228.29,59.6h1.11v1.06h-1.11zM251.78,58.48h1.19v1.84h-1.19zM264.05,62.52h0.75v1.06h-0.75zM210.81,48.06h0.6v0.72h-0.6zM232.48,57.42h0.55v0.75h-0.55zM214.51,63.1h0.9v1.08h-0.9zM210.77,48.1h0.76v1.04h-0.76zM202.91,55.1h0.78v0.97h-0.78z" fill="#909090" opacity="0.7"/>
<path d="M210.33,98.74h1.24v1.36h-1.24zM205.27,102.87h0.76v0.66h-0.76zM200.92,100.87h0.79v1.19h-0.79zM208.03,94.84h1.35v1.42h-1.35zM214.89,88.18h0.59v0.75h-0.59zM212.87,87.54h0.85v0.56h-0.85zM201.43,90h1.35v1.77h-1.35zM216.88,88.48h1.29v1.43h-1.29zM212.68,98.86h0.64v0.89h-0.64zM216.85,96.66h0.87v1.22h-0.87zM203.61,90.3h0.59v0.53h-0.59zM218.27,94.56h1.03v1.4h-1.03zM211.05,91.85h1.47v1.83h-1.47zM203.07,99.08h0.84v1.25h-0.84zM211.71,80.95h0.68v1.07h-0.68zM201.79,101.91h0.56v0.4h-0.56zM211.95,99h0.82v1.08h-0.82zM204.89,109.59h1.39v2.02h-1.39zM210.3,108.42h1.05v0.76h-1.05zM208.23,106.16h1v0.77h-1zM212.85,92.75h1.16v1.53h-1.16zM203.33,84.25h1.06v1.52h-1.06zM211.46,94.98h1.14v1.34h-1.14zM205.5,81.76h0.92v1.14h-0.92zM203.12,94.76h0.79v1.23h-0.79zM201.79,96.34h1.18v1.06h-1.18zM211.58,95.77h0.94v1.02h-0.94zM212.34,107.43h0.81v1.07h-0.81zM209.44,77.57h1.48v1.08h-1.48zM205.74,103.81h0.82v0.87h-0.82zM209.92,101.71h0.6v0.53h-0.6zM205.02,103.59h0.75v1.1h-0.75zM212.79,101.93h1.08v0.98h-1.08zM210.84,82.97h1.01v1.11h-1.01zM210.07,95.87h1.45v1.6h-1.45zM213.67,93.25h0.85v0.55h-0.85zM201.17,95.15h1.15v1.24h-1.15zM201.66,90.73h0.93v1.38h-0.93zM209.16,79.02h0.87v0.87h-0.87zM207.45,92.01h1.05v0.71h-1.05zM202.05,94.17h0.78v1.24h-0.78zM209.38,90.72h1.48v1.47h-1.48zM211.64,86.03h1.44v1.95h-1.44zM212.29,105.84h1v0.65h-1zM213.35,101.27h0.97v1.03h-0.97zM205.39,87.2h0.83v1h-0.83zM215.52,110.69h1.24v1.11h-1.24zM205.8,108.85h1.03v1.35h-1.03zM207.66,110.27h0.87v1.11h-0.87zM217.14,92.95h1.3v1.72h-1.3zM210.03,93.2h0.97v1.53h-0.97zM212.05,79.02h1.08v1.42h-1.08zM207.82,91.83h1.13v1.38h-1.13zM211.75,90.41h1.18v0.75h-1.18zM212.35,93.3h0.52v0.47h-0.52zM214.81,106.53h0.91v1.25h-0.91zM218.31,86.32h1.24v0.82h-1.24zM212.48,99.41h0.83v1.04h-0.83zM205.94,93.25h0.67v1.02h-0.67zM207.68,102.28h1.27v1.68h-1.27zM205.52,83.07h1.11v0.88h-1.11zM210.48,107.22h0.72v1.14h-0.72zM209.09,102.21h0.71v0.92h-0.71zM208.37,102.89h1.43v2h-1.43zM209.99,98.9h1.18v1.15h-1.18zM218.95,92.54h1.45v2.04h-1.45zM209.28,102.28h1.21v1.15h-1.21zM206.72,97.19h0.98v0.79h-0.98zM201.08,90.25h1.2v0.88h-1.2zM205.18,85.9h0.74v0.94h-0.74zM203.17,91.91h0.55v0.56h-0.55zM209.92,90.87h1.27v0.77h-1.27zM201.3,88.98h0.91v1.39h-0.91zM214.63,86.76h0.7v1.09h-0.7zM207.15,107.21h1.41v0.97h-1.41zM204.56,89.09h1.22v1.88h-1.22zM212.85,91.68h1.38v1.07h-1.38zM219.06,85.42h0.9v0.98h-0.9zM219.3,87.42h1.43v2.11h-1.43zM217.05,95.34h0.61v0.96h-0.61zM208.19,113.01h1.04v1.14h-1.04zM218.6,88.2h0.97v0.77h-0.97zM212.46,98.06h0.96v0.82h-0.96zM213.48,108.72h1.29v1.51h-1.29zM210.46,88.98h1.36v2.03h-1.36zM213.25,84.02h0.59v0.74h-0.59zM211.34,99.01h0.82v0.7h-0.82zM210.08,101.48h1.25v1.95h-1.25zM207.77,108.93h0.51v0.64h-0.51zM209.83,92.05h0.62v0.56h-0.62zM205.21,101.17h1.4v1.82h-1.4zM209.5,98.53h1.42v1.27h-1.42zM207.73,90.26h0.63v0.48h-0.63zM210.23,81.22h0.92v1.05h-0.92zM203.96,96.84h1.16v0.95h-1.16zM210.46,110.2h1.37v0.94h-1.37zM202.94,99.47h0.58v0.67h-0.58zM216.4,99.31h1.01v1.18h-1.01zM213.03,101.64h1.02v0.73h-1.02zM212.23,107.11h0.59v0.66h-0.59z" fill="#000" opacity="1.0"/>
<path d="M208.28,81.08h1.01v1.07h-1.01zM210.64,85.53h1.31v1.73h-1.31zM202.01,87.46h1.25v1.47h-1.25zM210.01,85.09h0.56v0.9h-0.56zM207.82,83.92h1.43v0.91h-1.43zM201.93,87h1.27v2h-1.27zM204.51,81.7h1.49v1.47h-1.49zM211.29,80.2h0.88v1.12h-0.88zM204.44,80.98h1.15v1.09h-1.15zM208.8,87.79h1.03v1.37h-1.03zM206.85,84.41h0.52v0.47h-0.52zM204.71,80.82h1.03v1.47h-1.03zM206.88,87.15h0.78v1.19h-0.78zM206.59,83.01h1.31v1.33h-1.31zM207.47,78.82h0.52v0.42h-0.52zM207.35,84.62h1.1v1.43h-1.1zM212.24,85.76h0.9v0.75h-0.9zM208.12,89.59h0.56v0.61h-0.56zM205.34,89.34h1.23v1.13h-1.23zM202.5,81.67h0.82v0.74h-0.82zM210.08,87.81h0.72v0.65h-0.72zM213.08,86.45h1.38v2.09h-1.38zM204.12,81.94h1v1.57h-1zM211.77,82.66h1.29v1.18h-1.29zM205.23,85.09h0.88v1.19h-0.88zM200.67,85.18h0.8v1.05h-0.8zM209.09,79h1.06v1.67h-1.06zM205.22,83.78h0.74v0.6h-0.74zM202.83,79.78h1.35v0.93h-1.35zM206.48,82.44h0.77v0.98h-0.77zM201.74,81h0.69v0.94h-0.69zM206.08,80.35h0.98v1.44h-0.98zM203.45,89.34h0.52v0.79h-0.52zM208.35,83.98h1.5v1.62h-1.5zM207.06,88.51h0.7v1.07h-0.7zM201.28,82.68h0.88v1h-0.88zM205.09,86.11h1.01v1.11h-1.01zM212.45,87.73h0.97v1.4h-0.97zM209.83,82.76h0.91v1.06h-0.91zM207.15,85.83h0.76v1.17h-0.76z" fill="#000" opacity="1.0"/>
<path d="M247.78,90.19h0.65v0.61h-0.65zM246.63,104.85h1v1.25h-1zM250.04,88.56h1.32v2.07h-1.32zM248.45,86.57h0.67v0.93h-0.67zM253.82,106.4h0.99v1.5h-0.99zM246.17,91.33h0.56v0.35h-0.56zM254.96,81.18h1.17v1.59h-1.17zM245.83,102.48h0.73v0.96h-0.73zM255.46,95.2h0.87v1.06h-0.87zM248.63,84.1h0.98v1.07h-0.98zM255.73,95.06h0.51v0.58h-0.51zM250.05,111.12h0.52v0.73h-0.52zM248.36,81.61h1.41v1h-1.41zM252.64,97.14h0.69v0.78h-0.69zM252.23,88.4h0.9v0.87h-0.9zM247.22,100.94h1.49v1.23h-1.49zM248.61,80.73h1.15v1.68h-1.15zM251.2,91.36h0.88v1.01h-0.88zM251.37,94.82h0.67v0.74h-0.67zM245.72,100.38h1.07v1.55h-1.07zM254.82,100.73h0.54v0.44h-0.54zM255.47,83.07h0.98v0.63h-0.98zM257.04,101.85h1.4v1.63h-1.4zM257.63,97.91h0.81v1.27h-0.81zM246.22,87.35h1.21v1.21h-1.21zM252.86,96.81h0.74v1.06h-0.74zM246.15,104.7h0.83v1.13h-0.83zM255.55,107.58h1.22v1.35h-1.22zM252.01,94.24h0.94v1.35h-0.94zM247.98,106.51h1.45v1.45h-1.45zM251.21,93.16h0.77v1.23h-0.77zM247.73,95.08h1.44v1.49h-1.44zM248.88,83.1h0.59v0.71h-0.59zM252.76,81.78h0.58v0.44h-0.58zM249.91,82.6h1.24v1.14h-1.24zM251.26,94.86h0.81v0.78h-0.81zM250.91,98.69h0.69v0.72h-0.69zM247.6,91.53h0.53v0.5h-0.53zM255.19,101.14h0.82v0.81h-0.82zM250.18,103.05h0.58v0.88h-0.58zM256.83,85.2h1.07v0.82h-1.07zM249.83,97.5h0.8v0.88h-0.8zM254.72,98.27h0.92v1h-0.92zM253.48,97.6h0.75v0.91h-0.75zM249.26,91.58h0.61v0.55h-0.61zM254.19,92.11h1.12v1.57h-1.12zM249.56,101.53h1.32v1.92h-1.32zM252.83,93.92h0.82v1.27h-0.82zM252.07,101.8h1.46v2.3h-1.46zM249.72,107.33h0.99v1.17h-0.99zM251.29,103.16h1.32v1.31h-1.32zM254.66,102.06h1.09v1.25h-1.09zM249.2,84.42h1.45v1.54h-1.45zM250.1,85.37h0.79v1.02h-0.79zM253.63,81.45h0.91v1h-0.91zM249.39,89.91h1.16v1.52h-1.16zM251.4,91.93h1.49v1.61h-1.49zM247.59,100.76h1.42v1.83h-1.42zM245.4,90.69h0.86v1.29h-0.86zM246.15,91.74h0.58v0.8h-0.58zM249.26,87.71h1.15v0.74h-1.15zM256.42,93.26h0.9v1.22h-0.9zM254.91,92.58h0.51v0.44h-0.51zM246.71,93.87h1.08v1.27h-1.08zM247.7,97.54h1.27v1.51h-1.27zM247.8,94.57h0.52v0.37h-0.52zM245.24,102.93h0.62v0.95h-0.62zM253.07,100.44h0.96v0.77h-0.96zM246.98,95.68h0.94v1.22h-0.94zM249.86,101.24h1.31v0.94h-1.31zM254.14,84.41h1.18v0.9h-1.18zM253.71,93.95h0.67v0.51h-0.67zM244.8,88.53h0.73v0.74h-0.73zM253.17,106h0.93v0.59h-0.93zM249.43,91.01h1.09v1.08h-1.09zM250.47,89.2h1.25v1.76h-1.25zM252.43,95.91h1.37v1.08h-1.37zM249.26,103.33h0.76v1.12h-0.76zM246.08,92.44h1.1v1.33h-1.1zM248.26,90.37h1.35v1.64h-1.35zM253.26,82.33h0.8v0.97h-0.8zM252.6,96.71h0.62v0.56h-0.62zM253.33,106.6h1.01v1.03h-1.01zM253.44,101.22h0.69v0.85h-0.69zM249.33,82.87h1.5v1.73h-1.5zM249.35,94.87h0.81v0.86h-0.81zM254.35,97.34h0.51v0.38h-0.51zM253.84,79.4h1.01v1.1h-1.01zM249.61,86.16h1.34v1.46h-1.34zM251.65,95.33h1.26v1.12h-1.26z" fill="#000" opacity="1.0"/>
<path d="M251.65,113.38h0.63v0.67h-0.63zM251.96,110.45h0.94v0.67h-0.94zM255.3,113.21h1.16v1.12h-1.16zM252.39,111.91h1.08v1.23h-1.08zM253.16,112.08h1.16v1.57h-1.16zM250.68,114.02h0.86v0.82h-0.86zM253.29,111.08h1.3v1.78h-1.3zM252.5,113.83h0.97v0.92h-0.97zM251.26,110.7h0.63v0.47h-0.63zM252.6,112.74h0.55v0.52h-0.55zM251.52,113.38h0.76v0.99h-0.76zM251.67,112.88h1.19v1.88h-1.19z" fill="#000" opacity="1.0"/>
<path d="M235.92,98.15h1.56v2.17h-1.56zM237.82,91.6h1.47v1.07h-1.47zM236.59,95.88h1.31v1.87h-1.31zM236.19,85.88h1.09v1.28h-1.09zM235.95,113.06h1.05v1.3h-1.05zM236.36,99.08h1.12v0.98h-1.12zM237,97.73h1.55v1.44h-1.55zM237.75,102.08h1.33v1.77h-1.33zM234.63,105.87h0.96v0.64h-0.96zM235.41,100.25h1.03v0.84h-1.03zM235.88,120.09h0.94v1.1h-0.94zM234.98,96.69h0.94v1.21h-0.94zM236.46,103.06h1.38v1.47h-1.38zM237.36,115.08h1.04v0.63h-1.04zM236.71,100.02h1.29v0.94h-1.29zM235.76,97.12h1.53v1.34h-1.53zM235.65,95.23h0.97v1.46h-0.97zM236.61,111.28h0.91v1.18h-0.91zM236.23,117.35h1.3v0.78h-1.3zM235.6,102.55h0.83v1.06h-0.83zM237.63,102.75h1.42v2.25h-1.42zM235.65,104.19h0.67v0.66h-0.67zM236.03,97.57h0.91v1.35h-0.91zM237.17,115.12h1.35v0.99h-1.35zM236.59,101.57h1.13v0.69h-1.13zM235.42,92.24h1.32v1.62h-1.32zM236.71,110.99h1.29v1.88h-1.29zM236.42,103.98h1.35v1.61h-1.35zM234.63,115.43h0.91v0.68h-0.91zM236.02,105.47h1.15v1.38h-1.15zM234.77,90.77h1.29v1.87h-1.29zM235.61,94.19h1.12v1.24h-1.12zM236.07,92.86h0.65v0.98h-0.65zM237.25,98.2h0.71v0.78h-0.71zM235.02,94.33h1.58v2.5h-1.58zM236.53,99.75h1.46v1.71h-1.46zM235.07,113.84h1.36v2.12h-1.36zM236.1,100.62h0.67v0.58h-0.67zM236.35,102.53h1.39v1.54h-1.39zM235.23,92.45h1.02v1.32h-1.02zM237.21,108.53h1.22v1.07h-1.22zM235.62,114.02h0.8v1.13h-0.8zM235.07,99.34h1.23v1.77h-1.23zM235.96,98.96h1.3v1.73h-1.3zM236.24,99.46h0.69v0.71h-0.69zM234.73,106.09h0.91v1.22h-0.91zM236.06,97.07h1.31v1.7h-1.31zM237.08,119.21h1.12v1.55h-1.12zM235.98,95.91h0.73v1h-0.73zM235.87,120.97h1.37v0.86h-1.37zM236.36,93.9h0.66v0.87h-0.66zM235.79,100.19h1.06v1.01h-1.06zM234.74,101.84h0.97v0.83h-0.97zM237.16,110.38h1.32v1.1h-1.32zM235.86,101.67h1.46v1.24h-1.46zM235.08,103.7h0.75v1.15h-0.75zM236.91,90.98h1.51v2.03h-1.51zM235.29,106.41h1.02v1.34h-1.02zM236.04,105.29h0.97v1.07h-0.97zM236.57,98.16h1.4v2.22h-1.4zM236.38,100.89h1.07v0.94h-1.07zM236.6,93.85h1.15v0.7h-1.15zM236.49,115.2h0.9v1.11h-0.9zM234.73,105.07h1.09v1.5h-1.09zM236.71,120.18h1.36v1.15h-1.36zM237.15,102.26h0.83v0.79h-0.83zM237.06,85.6h1.55v0.93h-1.55zM235.1,86.17h1.33v0.93h-1.33zM235.36,100.37h1.09v0.72h-1.09zM237.66,101.49h0.69v1.05h-0.69zM237.09,93.82h1.3v1.27h-1.3zM236.43,101.21h0.7v0.51h-0.7zM236.22,98.71h1.17v1.21h-1.17zM236.79,100.1h0.86v0.79h-0.86zM236.57,86.26h1.34v1.23h-1.34zM236.04,105.19h0.8v1.11h-0.8zM235.61,98.91h0.76v0.81h-0.76zM235.01,109.33h1.56v1.26h-1.56zM235.8,109.54h0.72v0.55h-0.72zM235.4,84.89h1.3v0.83h-1.3z" fill="#000" opacity="1.0"/>
<path d="M225.37,71.31C226.06,71.07 230.11,73.48 232.58,74.61C235.05,75.74 239.48,77.01 240.2,78.11C240.92,79.21 237.52,77.6 236.91,81.2C236.29,84.81 236.91,96.65 236.49,99.74C236.08,102.83 234.85,103.01 234.43,99.74C234.02,96.48 235.02,84.12 234.02,80.17C233.03,76.22 229.9,77.53 228.46,76.05C227.02,74.58 224.68,71.55 225.37,71.31Z" fill="#000"/>
<path d="M238.14,265.23h0.56v0.48h-0.56zM220.72,295.37h0.97v0.84h-0.97zM234.01,278.41h0.78v0.82h-0.78zM231.42,265.71h0.82v1.16h-0.82zM232.36,279.77h1.08v1.71h-1.08zM248.2,300.32h0.76v0.94h-0.76zM219.77,260.22h0.68v0.96h-0.68zM235.62,279.27h1.13v1.18h-1.13zM249.57,301.53h1.08v1.01h-1.08zM247.25,283.83h0.62v0.72h-0.62zM237.91,262.61h0.52v0.67h-0.52zM236,288.83h0.63v0.56h-0.63zM233.53,276.43h0.93v0.79h-0.93zM227.34,296.13h0.89v0.59h-0.89zM230.25,286.91h0.64v0.95h-0.64zM211.54,274.61h1.06v1.48h-1.06zM255.07,276.68h0.75v0.86h-0.75zM205.41,281.65h0.85v0.84h-0.85zM236.92,292.4h0.65v0.98h-0.65zM232.23,274h1.19v1.35h-1.19zM234.51,244.79h1.18v0.83h-1.18zM225.42,267.35h1.07v1.63h-1.07zM257.77,290.26h0.65v0.95h-0.65zM235.53,262.85h1.09v1.57h-1.09zM240.24,299.66h1.06v1.38h-1.06zM233.52,277.15h0.99v1.53h-0.99zM214.29,269.74h0.63v1h-0.63zM244.1,264.57h0.72v0.78h-0.72zM240.06,285.17h0.65v0.74h-0.65zM257.92,278.72h0.64v0.47h-0.64zM226.11,247.23h1.09v1.01h-1.09zM250.64,281.8h1.14v1.57h-1.14zM245.91,253.43h1.17v1.14h-1.17zM245.22,272.25h0.57v0.51h-0.57zM236.57,285.64h1.16v1.62h-1.16zM251.61,272.44h0.62v0.98h-0.62zM222.32,248.31h1.05v0.87h-1.05zM224.53,273.26h0.71v0.92h-0.71zM247.18,298.14h1.16v1.8h-1.16zM209.88,299.91h1.18v0.74h-1.18zM210.4,259.33h1.18v0.97h-1.18zM207.04,265.59h0.6v0.81h-0.6zM233.63,312.07h0.62v0.92h-0.62zM250.23,292.73h0.95v1.41h-0.95zM221.11,283.01h0.67v0.45h-0.67zM231.3,285.74h0.5v0.49h-0.5zM228.56,245.52h1.12v1.22h-1.12zM218.29,293.96h0.57v0.62h-0.57zM245.17,259.6h0.98v0.75h-0.98zM253.83,292.1h0.71v0.65h-0.71zM235.88,276.94h0.62v0.6h-0.62zM229.48,256.44h1.13v0.78h-1.13zM215.03,265.13h0.84v0.53h-0.84zM238.97,275.18h1.12v0.85h-1.12zM238.99,285.26h0.63v0.82h-0.63zM227.62,251.73h0.69v0.6h-0.69zM231.82,282.73h0.9v1.3h-0.9zM239.36,292.28h0.8v0.72h-0.8zM221.26,258.34h0.64v0.4h-0.64zM237.19,291.2h0.56v0.8h-0.56zM226.29,295.23h0.84v1.06h-0.84zM246.92,290.62h0.63v0.93h-0.63zM220.71,292.72h0.68v0.73h-0.68zM233.21,291.98h0.54v0.73h-0.54zM229.06,273.3h0.74v0.85h-0.74zM250.57,274.29h0.89v1.28h-0.89zM237.89,261.79h0.87v1.28h-0.87zM206.23,283.49h0.83v0.57h-0.83zM249.67,263.18h0.85v1.28h-0.85zM238.2,253.99h0.93v0.67h-0.93zM231.92,268.65h1.19v1.87h-1.19zM233.91,271.14h0.8v1.26h-0.8zM205.87,291.99h0.94v1.35h-0.94zM230.25,310.4h1.14v0.76h-1.14zM220.35,290.11h0.73v0.64h-0.73zM206.95,286.62h1.05v1.28h-1.05zM216.46,275.97h0.79v0.59h-0.79zM211.91,263.88h1.16v1.77h-1.16zM226.35,275.97h0.7v0.8h-0.7zM223.19,293.75h0.77v0.83h-0.77zM229.37,276.43h0.69v0.52h-0.69zM214.73,261.98h0.53v0.79h-0.53zM226.53,289.42h1.02v1.55h-1.02zM233.01,277.25h1.07v0.97h-1.07zM228.32,298.9h0.99v0.69h-0.99zM236.22,272.47h1.18v1.23h-1.18zM236.68,266.52h0.79v0.99h-0.79zM235.14,289.18h1.08v1.44h-1.08zM233.06,247.87h1.07v1.2h-1.07zM238.24,291.21h0.85v0.63h-0.85zM246.76,253.6h0.52v0.41h-0.52zM243.86,252.55h0.67v0.71h-0.67zM250.62,265.48h0.69v0.98h-0.69zM211.18,277.79h0.59v0.37h-0.59zM218.02,295.55h0.62v0.92h-0.62zM220.08,270.13h0.61v0.92h-0.61zM231.41,252.4h0.7v0.69h-0.7zM241.41,298.23h1.18v1.71h-1.18zM218.73,257.89h0.69v0.69h-0.69zM254.9,282.18h1.04v0.63h-1.04zM249.09,265.35h0.92v0.56h-0.92zM231.19,307.8h0.71v1.12h-0.71zM221.97,264.02h0.76v0.72h-0.76zM231.34,298.53h0.97v1.39h-0.97zM227.02,282.74h0.86v1.08h-0.86zM239.33,264.35h0.95v1.15h-0.95zM229.78,285.42h0.54v0.87h-0.54zM215.54,254.91h0.68v0.9h-0.68zM240.92,269.45h0.6v0.83h-0.6zM250.99,261.36h1.06v1.27h-1.06zM220.15,256.61h1v1.26h-1zM242.44,278.38h0.79v0.78h-0.79zM253,284.46h0.9v0.71h-0.9zM230.11,266.85h0.87v1.21h-0.87zM249.19,264.32h0.86v1.24h-0.86zM245.32,252.48h0.63v0.44h-0.63zM239.09,288.09h1.07v1.45h-1.07zM240.27,302.27h0.73v0.51h-0.73zM217.56,300.4h0.71v0.99h-0.71zM226.21,290.16h0.71v1.02h-0.71zM206.66,284.25h0.91v1.4h-0.91zM254.8,292.14h0.85v1.25h-0.85zM222.71,288.46h0.54v0.78h-0.54zM237.46,286.97h0.79v0.92h-0.79zM245.04,267.7h0.72v0.95h-0.72zM234.61,258.36h0.94v0.73h-0.94zM231.11,277.99h0.69v0.94h-0.69zM242.9,303.16h0.84v1.15h-0.84zM248.49,291.29h0.94v0.95h-0.94zM245.52,274.83h0.53v0.42h-0.53zM230.56,279.82h0.73v1.04h-0.73zM239.32,302.67h0.94v0.8h-0.94zM226.94,263.47h0.59v0.58h-0.59zM224.76,273.45h1.08v0.97h-1.08zM225.86,304.92h0.92v0.86h-0.92zM252.83,256.65h0.74v1.11h-0.74zM226.03,286.76h1.16v1.77h-1.16zM223.37,285.49h1.01v0.74h-1.01zM229.62,255.21h0.62v0.6h-0.62zM229.91,275.82h1.11v0.95h-1.11zM228.26,277.7h1.2v1.51h-1.2zM230.53,276.8h0.98v1h-0.98zM218.14,293.82h0.83v0.63h-0.83zM224.71,255.42h0.71v0.9h-0.71zM225.7,267h0.92v0.68h-0.92zM234.35,272.45h1v0.72h-1zM235.95,283.23h0.64v0.51h-0.64zM230.1,300.12h0.64v0.84h-0.64zM230.73,281.98h0.85v0.68h-0.85zM243.33,272.2h0.5v0.64h-0.5zM252.13,262.03h0.97v0.73h-0.97zM246.33,289.99h1.01v0.71h-1.01zM231.18,290.77h1.19v1.07h-1.19zM226.11,280.09h0.62v0.4h-0.62zM225.5,306.77h0.72v0.96h-0.72zM250.63,294.33h0.53v0.77h-0.53zM227.35,270.16h0.75v0.78h-0.75zM213.11,257.07h0.57v0.8h-0.57zM237.59,294.94h1.17v1.02h-1.17zM212.72,298.56h1.06v1.32h-1.06zM233.32,271.51h0.99v0.65h-0.99zM238.79,275.26h0.79v0.94h-0.79zM238.43,254.06h0.63v0.61h-0.63zM230.07,280.79h0.98v1.41h-0.98zM238.19,277.23h1.14v0.82h-1.14zM228.8,280.67h0.68v0.62h-0.68zM225.54,253.73h1.04v1.22h-1.04zM206.25,265.29h0.97v0.91h-0.97zM209.95,274.75h0.57v0.71h-0.57zM231.67,294.75h0.97v0.96h-0.97zM241.43,259.42h1.19v0.78h-1.19zM226.79,271.3h1.09v1.59h-1.09zM234.66,274.53h0.84v0.71h-0.84zM234.94,277.8h0.66v0.82h-0.66zM223.21,285.63h0.82v1.15h-0.82zM207.75,288.36h0.81v0.58h-0.81zM210.77,279h0.57v0.58h-0.57zM231.49,278.56h0.56v0.68h-0.56zM222.62,268.52h0.86v0.69h-0.86zM218.75,249.69h0.75v0.49h-0.75zM234.28,297.88h0.89v1.09h-0.89zM210.98,282.84h1v0.71h-1zM232.12,266.76h0.74v1.06h-0.74zM243.08,275.4h0.87v1.13h-0.87zM239.13,281.31h0.6v0.79h-0.6zM230.51,271.59h0.93v0.73h-0.93zM244.73,271.08h0.82v1.13h-0.82zM230.33,271.59h0.79v1.21h-0.79zM241.64,258.58h1.04v1.09h-1.04zM216.79,250.94h0.59v0.65h-0.59zM228.24,277.81h1.15v1.66h-1.15zM214.21,280.85h1.14v0.89h-1.14zM211.76,265.66h0.59v0.58h-0.59zM210.84,260.19h0.85v0.84h-0.85zM257.66,274.48h1.03v0.9h-1.03zM258.25,271.04h0.82v0.6h-0.82zM212.93,292.39h1.02v0.92h-1.02zM223.98,249.39h1v1.53h-1zM225.43,270.41h0.94v0.83h-0.94zM219.6,299.86h1.19v1.48h-1.19zM248.29,273.14h0.99v0.91h-0.99zM241.64,289.45h0.84v0.98h-0.84zM223.99,262.58h1.02v1.48h-1.02zM225.97,308.1h1.07v1.2h-1.07zM238.72,279.98h0.97v0.78h-0.97zM231.56,269.12h0.7v0.6h-0.7zM243.06,256.38h0.71v0.96h-0.71zM255.3,284.52h0.57v0.84h-0.57zM229.88,247.94h1.02v1.18h-1.02zM233.39,307.18h1.06v0.94h-1.06zM217.97,250.9h0.77v1.2h-0.77zM243.81,276.31h0.89v0.54h-0.89zM231.38,302.93h1.05v1.54h-1.05zM244.19,250.66h0.99v1.24h-0.99zM232.14,256.32h0.92v1.27h-0.92zM243.14,275.37h0.62v0.8h-0.62zM234.72,287.8h0.86v0.84h-0.86zM214.81,288.38h0.59v0.7h-0.59zM231.14,294.24h1v0.75h-1zM238.76,291.25h0.54v0.82h-0.54zM215.87,261.67h0.84v0.99h-0.84zM216.72,300.9h0.72v0.59h-0.72zM233.27,283.33h0.85v0.87h-0.85zM226.42,277.11h0.65v0.53h-0.65zM224.8,293.09h0.65v0.88h-0.65zM204.13,272.13h1.08v1.7h-1.08zM252.65,280.01h0.81v1.22h-0.81zM216.39,262.63h1.17v1.5h-1.17zM220.2,307.44h1.16v1.15h-1.16zM220.35,275.07h1.14v1.62h-1.14zM214.58,299.21h0.81v0.52h-0.81zM238.64,272.19h0.86v1.33h-0.86zM245.01,307.2h0.88v0.53h-0.88zM250.95,288.86h1.04v1.53h-1.04zM226.45,281.78h0.88v1.14h-0.88zM254.72,274.35h0.95v1.47h-0.95zM231.4,269.42h0.82v0.77h-0.82zM234.65,280.9h1.06v1.22h-1.06zM222.69,273.11h0.68v0.67h-0.68zM220.9,264.77h0.51v0.65h-0.51zM211.52,273.18h0.93v1.26h-0.93zM212.8,265h0.55v0.84h-0.55zM250.15,296.37h0.71v0.49h-0.71zM233.05,259.61h0.78v0.98h-0.78zM213.75,282.15h0.6v0.59h-0.6zM236.94,257.32h1.17v0.87h-1.17zM219.95,249.93h1.06v1.4h-1.06zM212.68,302.04h0.89v1.03h-0.89zM232.04,279.17h0.92v1.04h-0.92zM243.07,273.75h1.02v1.54h-1.02zM223.17,293.79h0.95v1.06h-0.95zM236.71,288.6h1.08v0.86h-1.08zM241.56,305h1.1v1.59h-1.1zM256.96,264.63h0.82v0.95h-0.82zM230.48,283.56h0.57v0.75h-0.57zM218.68,279.85h0.59v0.74h-0.59zM247.75,292.89h1.13v1.04h-1.13zM212.55,285.98h0.71v0.85h-0.71zM218.89,271.87h0.72v0.74h-0.72zM242.04,278.97h0.66v0.88h-0.66zM208.73,290.34h0.59v0.79h-0.59zM243.3,264.82h0.75v0.68h-0.75zM223.69,275.38h0.92v1.33h-0.92zM236.01,271.93h0.88v0.76h-0.88zM235.05,274.9h0.55v0.34h-0.55zM229.08,278.45h0.91v0.91h-0.91zM209.48,261.57h0.89v1.01h-0.89zM248.11,278.43h1.04v1.01h-1.04zM235.45,306.56h1.01v0.9h-1.01zM214.49,283.26h0.78v0.86h-0.78zM218.54,252.74h1.06v1.29h-1.06zM240.42,297.01h0.81v0.63h-0.81zM251.39,270.54h1.18v1.57h-1.18zM217.96,280.3h0.65v0.71h-0.65zM244.42,285.1h0.53v0.43h-0.53zM243.03,269.45h0.83v0.87h-0.83zM258,288.23h0.73v0.95h-0.73zM207.2,274.59h1.08v0.94h-1.08zM223.64,275.84h0.96v0.92h-0.96zM217.46,253.97h0.86v0.84h-0.86zM246.27,266.8h0.75v1.1h-0.75zM214.8,280.27h0.92v1.02h-0.92zM236.66,285.99h0.55v0.69h-0.55zM233.62,288.79h0.75v0.99h-0.75zM238.92,286.82h1.07v1.41h-1.07zM214.94,280.94h0.65v0.49h-0.65zM232.53,276.52h0.53v0.62h-0.53zM242.28,299.44h0.53v0.62h-0.53zM241.74,283.12h0.63v0.98h-0.63zM216.34,265.28h0.51v0.68h-0.51zM225.45,266.63h0.56v0.59h-0.56zM256.87,277.19h0.62v0.89h-0.62zM212.34,261.45h1.07v0.84h-1.07zM225.61,267.29h1.01v0.95h-1.01zM213,285.36h0.66v0.65h-0.66zM238.65,285.59h1.1v1.22h-1.1zM225.06,282.93h0.57v0.61h-0.57zM229.38,276.27h1.05v1.16h-1.05zM243.98,292.32h0.59v0.71h-0.59zM243.69,250.74h1.04v1.3h-1.04zM217.71,276.24h0.53v0.6h-0.53zM234.63,307.49h1.05v1.03h-1.05zM212.3,263.95h1.03v1.34h-1.03zM237.15,283.38h0.83v0.69h-0.83zM238.88,267.7h1.11v1.12h-1.11zM239.78,303.38h1.05v1.24h-1.05zM232.2,279.31h0.96v1.23h-0.96zM226.01,293.88h0.61v0.76h-0.61zM230.98,309.05h0.8v0.77h-0.8zM228.13,304.22h1.03v1.04h-1.03zM235.09,258.63h0.76v0.88h-0.76zM231.26,293.45h0.74v0.97h-0.74zM229.31,248.24h0.96v1.3h-0.96zM210.97,287.3h0.61v0.5h-0.61zM220.91,287.9h0.89v1.15h-0.89zM229.46,269.48h1.18v0.71h-1.18zM237.65,283.36h1.15v1.19h-1.15zM240.53,283.23h0.56v0.35h-0.56zM210.85,300.93h0.93v1.04h-0.93zM226.88,255.56h1.16v1.65h-1.16z" fill="#555" opacity="0.8"/>
<path d="M204.33,265.25h0.64v0.81h-0.64zM207.8,265.54h0.52v0.63h-0.52zM204.32,268.04h0.62v0.39h-0.62zM206.83,268.31h0.61v0.97h-0.61zM207.45,264.97h0.78v0.92h-0.78zM201.21,267.66h0.55v0.38h-0.55zM205.51,274.29h1.14v1.08h-1.14zM209.6,267.64h0.92v0.73h-0.92zM211.12,266.26h0.68v0.69h-0.68zM207.7,268.98h0.71v1.09h-0.71zM209.04,261.87h1.11v1.57h-1.11zM201.99,265.83h1.18v1.37h-1.18zM207.55,262.57h1.17v1.24h-1.17zM202.15,269.46h0.52v0.37h-0.52zM211.46,270.38h1.2v1.53h-1.2zM207.22,271.38h1.17v1.3h-1.17zM212.97,268.66h0.67v0.47h-0.67zM204.01,262.88h0.55v0.85h-0.55zM203.48,268.78h1.13v0.98h-1.13zM211.9,266.54h1.14v1.25h-1.14zM208.58,273.65h1.11v0.9h-1.11zM207.6,270.82h0.93v0.71h-0.93zM212,272.39h0.97v1.23h-0.97zM202.45,264.48h0.88v0.56h-0.88zM201.85,268.84h0.84v1.34h-0.84zM211.89,264.46h0.84v1.34h-0.84zM209.31,266.84h0.66v0.77h-0.66zM212.47,270.28h0.83v0.95h-0.83zM203.18,268.23h0.98v0.76h-0.98zM212.21,267.49h0.82v1.06h-0.82zM209.17,268.46h0.91v0.84h-0.91zM204.76,266.51h0.88v0.74h-0.88zM201.94,269.18h0.76v0.83h-0.76zM208.17,273.58h0.76v1.11h-0.76zM206.44,270.36h0.59v0.7h-0.59zM207.01,269.67h0.69v0.58h-0.69zM203.58,269.76h0.6v0.94h-0.6zM210.38,273.14h0.62v0.69h-0.62zM213.07,268.11h0.86v1.14h-0.86zM207.49,265.35h0.89v1.04h-0.89zM202.49,271.5h0.54v0.77h-0.54zM201.82,269.03h0.81v0.76h-0.81zM203.83,271.86h1.15v0.99h-1.15zM208.41,268.48h1.11v1.73h-1.11zM208.33,272.8h0.95v0.74h-0.95z" fill="#555" opacity="0.8"/>
<path d="M235.63,227.23h0.9v0.98h-0.9zM231.9,213.96h0.73v0.65h-0.73zM229.76,235.79h0.6v0.85h-0.6zM225.29,260.05h0.84v1.22h-0.84zM239.15,245.14h0.64v0.58h-0.64zM231.36,253.02h0.89v0.77h-0.89zM214.95,250.68h0.72v0.85h-0.72zM245.2,238.03h0.61v0.38h-0.61zM231.31,219.25h1.06v1.38h-1.06zM239.11,245.63h0.56v0.37h-0.56zM244.06,227.9h0.52v0.51h-0.52zM233.97,236.26h0.66v0.5h-0.66zM222.24,218.73h0.69v0.58h-0.69zM230.23,262.63h0.58v0.83h-0.58zM249.85,245.52h1.02v0.94h-1.02zM212.24,245.9h0.82v0.72h-0.82zM213.36,251.48h0.92v0.71h-0.92zM220.57,229h0.88v1.03h-0.88zM217.7,238.28h0.69v0.65h-0.69zM215.3,235.15h0.77v0.74h-0.77zM233.02,254.5h0.5v0.71h-0.5zM239.63,229.9h0.78v0.48h-0.78zM252.3,227.93h0.79v0.48h-0.79zM225.17,246.88h0.64v0.39h-0.64zM225.32,253h0.84v0.83h-0.84zM242.82,262.23h0.73v0.72h-0.73zM232.63,257.86h0.64v0.88h-0.64zM249.6,227.66h0.91v0.81h-0.91zM232.77,215.67h0.75v1.09h-0.75zM237.42,252.98h0.88v1.07h-0.88zM231.42,262.83h0.61v0.38h-0.61zM247.12,247.44h0.61v0.43h-0.61zM231.52,265.06h0.94v0.78h-0.94zM241.45,256.36h0.71v0.64h-0.71zM240.33,212.98h0.78v1.08h-0.78zM224.17,264.82h1.07v0.7h-1.07zM234.17,236.84h0.78v0.62h-0.78zM244,219.65h1v0.72h-1zM234.56,230.24h0.96v1h-0.96zM233.45,238.73h0.78v1.06h-0.78zM212.08,237.58h0.78v1h-0.78zM229.81,254.08h0.88v0.56h-0.88zM246.48,234.22h0.65v0.81h-0.65zM240.02,267.68h1.02v0.83h-1.02zM245.73,255.69h0.69v0.53h-0.69zM232.8,248.2h0.97v0.59h-0.97zM251.51,248.1h0.79v0.94h-0.79zM230.8,245.51h0.59v0.41h-0.59zM218.24,222.15h1.1v1.35h-1.1zM248.66,249.6h0.92v1.28h-0.92zM239.19,249.19h1.09v1.51h-1.09zM234.4,215.74h0.76v0.61h-0.76zM229.62,227.94h0.58v0.87h-0.58zM221.33,243.05h0.68v0.88h-0.68zM236.12,250.11h0.71v0.94h-0.71zM230.55,267.53h1.05v1.21h-1.05zM239.03,244.92h0.68v0.58h-0.68zM233.52,241.64h0.88v0.86h-0.88zM234.14,243.21h1.01v1.4h-1.01zM234.84,265.31h0.89v1.02h-0.89zM222.97,253.9h0.8v0.92h-0.8zM226.05,232.64h0.88v0.63h-0.88zM230.34,240.85h1v0.73h-1zM238.64,234.51h0.79v0.55h-0.79zM216.1,230.08h0.89v1.01h-0.89zM231.06,230.48h0.72v0.87h-0.72zM252.48,253.79h0.63v0.68h-0.63zM236.5,238.24h0.98v0.65h-0.98zM213.95,231.27h0.75v0.73h-0.75zM228.65,216.2h0.66v0.42h-0.66zM242.25,247.08h1.07v1.66h-1.07zM248.01,255.23h0.82v0.65h-0.82zM225.41,239.65h0.88v0.68h-0.88zM233.55,225.29h0.56v0.7h-0.56zM225.61,255.04h0.9v1.33h-0.9zM236.92,249.34h0.74v0.69h-0.74zM245.6,266.62h0.77v0.73h-0.77zM224.9,268.86h0.69v0.68h-0.69zM234.7,224.94h0.94v1.13h-0.94zM226.72,237.57h0.96v1.46h-0.96zM233.06,270.68h0.77v0.77h-0.77zM230.39,212.19h0.86v0.96h-0.86zM243.11,240.97h0.68v0.56h-0.68zM234.54,239.89h0.99v1.28h-0.99zM231.25,261.07h0.83v1.27h-0.83zM234.86,244h0.71v0.53h-0.71zM223.5,256.73h0.64v0.9h-0.64zM243.31,250.12h1.05v1.4h-1.05zM230.52,216.35h0.6v0.86h-0.6zM228.07,222.56h1.04v1.25h-1.04zM228.11,264.39h0.85v0.57h-0.85zM250.83,250.11h0.71v1h-0.71zM216.37,255.11h1.02v0.84h-1.02zM224.76,224.27h0.51v0.7h-0.51zM226.53,250.29h0.52v0.6h-0.52zM241.63,256.47h0.63v0.41h-0.63zM232.29,226.01h0.77v0.92h-0.77zM225.94,241.19h0.67v0.67h-0.67zM236.2,245.37h0.84v0.55h-0.84zM230.45,244.67h0.8v1.1h-0.8zM237.3,246.9h0.84v0.91h-0.84zM229.56,233.67h0.87v1.16h-0.87zM233.69,246.24h0.97v0.89h-0.97zM237.22,238.96h0.9v0.92h-0.9zM227.86,252.54h0.86v0.53h-0.86zM226.25,269.5h0.87v1.38h-0.87zM228.27,244.27h0.53v0.75h-0.53zM237.04,255.82h0.95v1.39h-0.95zM235.79,244.04h1.07v1.63h-1.07zM246.61,222.33h0.51v0.66h-0.51zM243.24,252.55h0.51v0.42h-0.51zM226.59,239.17h0.81v0.7h-0.81zM216.06,244.07h0.58v0.76h-0.58zM248.59,243.87h0.9v0.58h-0.9zM237.98,252.41h0.97v1.19h-0.97zM249.06,248.81h0.51v0.5h-0.51zM230.98,268.08h0.9v1.31h-0.9zM253.38,244.75h0.89v0.74h-0.89zM217.77,261.61h0.56v0.51h-0.56zM243.07,227.19h0.61v0.67h-0.61z" fill="#777" opacity="0.7"/>
<path d="M225.14,365.94h0.52v0.44h-0.52zM228.36,350.98h0.78v0.59h-0.78zM229.62,372.59h0.94v0.78h-0.94zM235.83,351.03h1.07v1.31h-1.07zM236.22,326.16h1.07v0.67h-1.07zM228.85,348.56h0.61v0.91h-0.61zM230.85,347.98h0.77v1.2h-0.77zM227.72,333.78h0.66v0.55h-0.66zM235.48,390.91h1.14v1.06h-1.14zM229.31,350.9h0.6v0.68h-0.6zM233.5,316.23h0.72v0.93h-0.72zM229.84,353.16h1.2v1.89h-1.2zM235.63,388.71h1.14v1.05h-1.14zM225.24,339.52h0.58v0.53h-0.58zM235.62,330.11h1.04v1.53h-1.04zM228.33,367.24h0.81v1.24h-0.81zM236.8,328.35h0.69v0.95h-0.69zM233.23,363.39h1.03v1.25h-1.03zM231.05,384.89h0.66v0.55h-0.66zM230.24,334.51h0.98v1.06h-0.98zM226.63,354.35h1v0.97h-1zM234.1,332.89h0.6v0.47h-0.6zM237.23,362.31h0.51v0.44h-0.51zM226.69,373.79h1.19v1.62h-1.19zM237.62,372.04h1.19v1.75h-1.19zM228.37,356.11h0.82v0.69h-0.82zM230.92,357.56h1.01v0.99h-1.01zM229.64,384.25h1.02v1.22h-1.02zM225.25,348.34h1.05v1.18h-1.05zM225.7,366.61h0.53v0.85h-0.53zM227.92,352.06h1.01v1.17h-1.01zM226.51,351.52h0.53v0.48h-0.53zM229.11,366.51h1.08v1.15h-1.08zM227.16,369.77h0.54v0.6h-0.54zM235.4,385.59h0.82v1.08h-0.82zM236,379.47h1.16v1.5h-1.16zM234.04,373.04h0.82v0.64h-0.82zM226.89,335.73h0.64v0.68h-0.64zM231.55,389.58h1.14v1.59h-1.14zM231.23,344.61h0.58v0.61h-0.58zM228.65,376.52h0.77v1.07h-0.77zM224.82,351.63h0.77v0.75h-0.77zM232.3,312.89h0.9v1.13h-0.9zM235.28,387.82h0.63v0.82h-0.63zM228.85,364.4h1.04v1.09h-1.04zM230.45,347.64h0.59v0.48h-0.59zM229.63,342.84h0.82v1.19h-0.82zM231.37,354.48h1.12v0.94h-1.12zM228.02,340.64h0.79v0.53h-0.79zM229.44,344.93h0.88v1.08h-0.88zM225.83,340.9h0.53v0.4h-0.53zM231.15,351.16h1.1v1.39h-1.1zM233.13,338.39h1.14v0.74h-1.14zM229.73,361.52h0.97v1.18h-0.97zM229.8,325.61h1.05v0.82h-1.05zM226.96,363.31h1.15v0.8h-1.15zM230.49,376.12h0.77v0.51h-0.77zM227.41,367.88h0.7v0.52h-0.7zM230.58,337.7h0.87v0.98h-0.87zM229.89,324.73h0.58v0.77h-0.58zM226.77,322.5h0.84v1.08h-0.84zM237.89,336.83h0.7v0.85h-0.7zM229.74,381.02h1.2v1.14h-1.2zM234.76,376.71h0.86v1.06h-0.86zM229.44,355.45h0.93v1.21h-0.93zM231.63,354.75h0.52v0.63h-0.52zM236.15,381.88h1.06v1.69h-1.06zM228.76,365.55h0.89v1.1h-0.89zM233.82,355.85h0.7v0.97h-0.7zM230,380.95h0.73v0.44h-0.73zM230.26,335.31h1.01v1.22h-1.01zM233.59,357.24h0.73v0.69h-0.73zM228.47,317.41h1.06v1.32h-1.06zM226.53,358.58h1.12v1.28h-1.12zM228.54,387.47h0.79v1.06h-0.79zM233.08,338.17h1.01v0.92h-1.01zM229.27,351.46h0.98v1.37h-0.98zM234.13,340.75h1.18v1.04h-1.18zM238.34,363.47h0.94v1.35h-0.94zM228.28,344.78h0.92v1.34h-0.92zM231.6,319.57h0.72v0.45h-0.72zM227.87,369.02h0.67v0.7h-0.67zM233.83,350.12h0.71v0.51h-0.71zM232.83,317.98h1.14v1.19h-1.14zM235.7,359.03h0.85v0.67h-0.85zM236.54,338.11h0.87v1.19h-0.87zM235.5,386.84h1.08v1.65h-1.08zM230.79,345.01h1.01v1.07h-1.01zM230.54,326.99h0.5v0.77h-0.5zM229.68,325.96h0.56v0.6h-0.56zM235.8,362.96h0.96v0.88h-0.96zM228.81,345.49h1.12v1.04h-1.12zM232.55,371.94h0.72v0.75h-0.72zM232.92,362.82h0.69v0.43h-0.69zM228.4,335.1h0.64v0.61h-0.64zM230.81,365.22h0.99v0.88h-0.99zM231.59,361.89h0.93v0.87h-0.93zM229.97,358.55h0.83v1.06h-0.83zM232.26,358.41h0.8v0.62h-0.8zM227.55,337.09h1.09v1.41h-1.09zM229.24,341.51h1.07v1.41h-1.07zM229.4,329.34h1.18v1.6h-1.18zM229.89,357.14h1.07v1.62h-1.07zM227.59,359.95h0.98v1.28h-0.98zM229.09,358.3h0.66v0.96h-0.66zM226.68,326.51h0.77v1.01h-0.77zM228.54,321.98h1.12v1.18h-1.12zM235.63,359.87h0.75v0.79h-0.75zM234.33,387.68h0.92v0.67h-0.92zM236.4,378.36h1.06v0.98h-1.06zM228.04,323.96h0.87v0.87h-0.87zM227.26,371.49h0.88v1.39h-0.88zM229.09,368.94h1.07v1.27h-1.07zM232.39,330.25h1.05v1.2h-1.05zM232.01,388.42h0.55v0.85h-0.55zM227.77,342.6h0.91v0.97h-0.91zM225.81,341.5h0.62v0.97h-0.62zM232.89,358.85h1.07v1.47h-1.07zM228.45,373.76h0.96v0.66h-0.96zM234.18,317.04h1.13v1.4h-1.13zM233.38,354.83h0.6v0.68h-0.6zM227.88,374.36h0.64v0.82h-0.64zM229.63,382.56h1.14v1.03h-1.14zM235.21,346.06h1.19v1.12h-1.19zM231.75,355.64h1.19v1.2h-1.19zM233.62,368.54h0.76v0.87h-0.76zM236.72,366.34h1.07v1.03h-1.07zM235.62,323.67h0.66v0.87h-0.66zM229.08,367.26h0.77v0.75h-0.77zM226.51,345.38h0.83v0.66h-0.83z" fill="#555" opacity="0.8"/>
<path d="M205.27,321.5h1.09v0.82h-1.09zM263.83,317.66h0.59v0.4h-0.59zM265.28,318.2h0.84v0.87h-0.84zM240.7,317.66h0.95v0.96h-0.95zM201.01,319.12h0.92v0.95h-0.92zM244.26,321.11h0.89v0.93h-0.89zM226.04,319.19h0.92v1.09h-0.92zM241.95,315.93h0.85v0.86h-0.85zM214.61,316.88h1.18v1.38h-1.18zM231.18,316.48h0.84v1.08h-0.84zM253.76,321.48h1.19v1.88h-1.19zM237.83,314.28h0.55v0.83h-0.55zM253.71,319.6h1.02v1.59h-1.02zM259.25,319.78h1.06v0.97h-1.06zM251.51,318.65h1.04v1.12h-1.04zM210.13,317.45h1.01v1.03h-1.01zM266.73,316.47h0.7v0.45h-0.7zM262.53,315.45h1.01v1.17h-1.01zM255.56,319.07h0.62v0.4h-0.62zM268.03,317.42h0.94v0.83h-0.94zM255.16,319.57h1.1v0.96h-1.1zM244.68,319.55h1.1v0.68h-1.1zM242.62,318.87h0.91v0.69h-0.91zM201.08,319.43h0.68v0.89h-0.68zM199.57,318.22h1.1v1.04h-1.1zM242.54,318.52h1.15v0.87h-1.15zM193.8,317.88h1.04v0.87h-1.04zM206.46,319.34h0.65v0.86h-0.65zM217.11,321.37h1.03v0.74h-1.03zM244.01,320.47h0.71v0.96h-0.71zM234,313.87h0.77v1h-0.77zM223.38,317.98h1.11v0.68h-1.11zM254.09,316.22h0.97v1.52h-0.97zM231.86,317.14h1.14v1.41h-1.14zM254.99,316.82h1.14v1.67h-1.14zM225.53,319.78h0.57v0.71h-0.57zM207.71,320.9h1.02v1.37h-1.02zM222.8,316.72h0.74v0.95h-0.74zM244.79,321.29h0.97v1.39h-0.97zM241.44,317.82h0.57v0.6h-0.57zM236.77,320.17h0.64v0.4h-0.64zM265.66,320.86h0.96v1.38h-0.96zM261.41,316.39h1v0.72h-1zM239.55,316.6h0.96v1.44h-0.96zM197.85,315.37h1.13v1.46h-1.13zM233.12,321.25h1.16v1.43h-1.16zM247.99,316.59h0.8v1.2h-0.8zM235.87,315.03h0.61v0.41h-0.61zM237.07,314.71h0.73v0.48h-0.73zM248.77,317.08h0.81v0.88h-0.81zM259.12,315.89h0.62v0.68h-0.62zM254.19,321.65h0.65v0.81h-0.65zM260.6,315.25h0.57v0.39h-0.57zM219.93,316.74h0.81v1.22h-0.81zM250.99,321.26h1.15v1.46h-1.15zM230.4,322.38h1.13v1.33h-1.13zM195.49,317.18h0.84v0.87h-0.84zM252.35,313.54h1.05v1.2h-1.05zM272.31,317.85h1.07v1.16h-1.07zM198.8,315.38h0.75v0.96h-0.75zM210.07,320.27h1.17v0.81h-1.17zM195.63,316.47h0.56v0.59h-0.56zM236.67,313.33h0.62v0.4h-0.62zM224.24,318.98h0.99v1.48h-0.99zM220.29,315.59h0.56v0.69h-0.56zM232.68,316.22h0.64v0.84h-0.64zM213.38,315.72h0.54v0.62h-0.54zM224.46,321.35h1.08v1.14h-1.08zM237.59,317.71h0.54v0.75h-0.54zM242.26,318.09h1.06v1.35h-1.06zM204.17,318.91h1.11v0.83h-1.11zM200.35,315.01h0.53v0.39h-0.53zM220.19,314.81h1.14v0.74h-1.14zM230.71,316.35h0.62v0.4h-0.62zM221.61,322.51h0.82v0.63h-0.82zM204.39,314.91h0.57v0.63h-0.57zM237.83,315.75h1.06v1.09h-1.06zM248.5,312.24h0.97v0.9h-0.97zM260.48,317.11h0.6v0.86h-0.6zM242.47,312.94h0.92v0.86h-0.92zM240.99,318.78h0.79v1.02h-0.79zM212.4,316.62h1.15v0.74h-1.15zM262.43,320.87h0.93v1.28h-0.93zM257.66,318.09h0.5v0.39h-0.5zM258.72,320.09h1.12v1.14h-1.12zM245.39,313.04h0.98v0.79h-0.98zM217.39,314.8h0.79v1.21h-0.79zM230.52,317.34h0.63v0.69h-0.63zM261.07,316.4h1.05v0.99h-1.05zM248.15,317.79h0.58v0.66h-0.58zM249.8,319.4h1.03v1.18h-1.03zM240,322.64h0.96v0.84h-0.96zM245.42,322.53h0.98v1.54h-0.98zM221.89,318.01h0.97v0.62h-0.97zM223.41,315.76h0.8v0.75h-0.8zM244.8,313.08h0.53v0.71h-0.53zM244.16,316.92h1.05v1.14h-1.05zM261.21,321.43h1v1.2h-1zM227.68,319.45h0.97v0.9h-0.97zM236.91,315.04h0.57v0.76h-0.57zM247.39,315.52h0.65v0.7h-0.65zM196.91,318.27h0.6v0.92h-0.6zM213.83,318.59h0.6v0.79h-0.6zM207.06,313.38h0.64v0.47h-0.64zM231.63,316.95h0.6v0.86h-0.6zM222.37,318.18h0.74v1.1h-0.74zM206.64,314.65h0.95v1.15h-0.95zM252.49,322.88h1.1v0.75h-1.1zM248.71,314.88h1.2v1.43h-1.2zM242.12,315.63h1.01v1.35h-1.01zM233.99,320.47h0.91v1.35h-0.91zM224.77,316.87h0.9v0.55h-0.9zM237.78,317.65h0.83v1.14h-0.83zM258.72,318.54h0.84v1.17h-0.84zM243.55,314.63h0.67v0.77h-0.67zM265.66,318.11h1.16v0.85h-1.16zM225.24,321.97h0.56v0.61h-0.56zM223.05,322.14h1.1v1.48h-1.1zM256.38,318.26h1.04v1.53h-1.04zM205.52,320.58h0.76v0.81h-0.76z" fill="#666" opacity="0.8"/>
<path d="M210.25,406.06h0.56v0.83h-0.56zM214.7,409.8h0.84v0.73h-0.84zM219.99,408.32h1.14v1.58h-1.14zM221.46,411.63h1.09v0.71h-1.09zM220.79,408.13h1.21v0.86h-1.21zM211.27,412.08h0.79v0.61h-0.79zM213.94,409.13h1.07v0.86h-1.07zM217.98,409.19h0.59v0.64h-0.59zM220.14,408.13h1.27v1.03h-1.27zM214.98,407.65h0.78v0.68h-0.78zM213.68,407.56h0.55v0.52h-0.55zM209.98,409.68h0.6v0.78h-0.6zM212.83,406.51h0.73v0.9h-0.73zM217.44,404.83h1.15v1.77h-1.15zM221.83,411.26h0.87v0.59h-0.87zM217.75,408.15h1.27v0.9h-1.27zM214.06,413.24h0.9v1.32h-0.9zM209.34,408.94h0.73v1.15h-0.73zM213.19,409.09h0.78v0.81h-0.78zM212.99,407.74h0.55v0.81h-0.55zM215.92,414.19h1.02v1.03h-1.02zM211.82,412.48h0.76v0.91h-0.76zM212.74,405.22h0.86v0.77h-0.86zM219.65,412.53h0.64v0.55h-0.64zM207.27,409.89h1.12v0.72h-1.12z" fill="#000" opacity="0.9"/>
</g></g>
<path d="M129.57,201.95C130.18,201.65 135.8,207.15 136.78,208.54C137.76,209.93 141.98,219.04 142.96,220.9C143.94,222.76 150.44,232.91 150.17,233.88C149.9,234.85 139.71,233.45 139.25,234.09C138.8,234.72 142.97,241.16 143.99,242.53C145.02,243.91 151.68,251.32 153.26,252.83C154.85,254.35 164.19,261.55 165.62,263.14C167.06,264.72 172,272.88 172.83,274.47C173.67,276.05 176.73,283.26 176.96,284.77C177.18,286.28 176.38,293.78 175.93,295.07C175.47,296.35 171.65,301.58 170.77,302.28C169.9,302.97 165.08,304.62 163.98,304.54C162.87,304.47 156.79,302.32 155.74,301.25C154.68,300.18 150.39,291.96 149.56,289.92C148.72,287.88 145.16,276.16 144.4,273.44C143.65,270.72 140.04,255.93 139.25,252.83C138.47,249.74 134.48,234.15 133.69,231.2C132.91,228.26 128.84,214.81 128.54,212.66C128.24,210.52 128.97,202.25 129.57,201.95Z" fill="#000"/>
<path d="M327.35,196.8C326.89,196.8 323.03,204.71 322.2,206.48C321.37,208.25 317,218.59 316.02,220.9C315.03,223.21 308.62,236.79 308.81,238C308.99,239.21 318.11,237.1 318.49,237.38C318.87,237.67 315.04,241.01 313.96,241.92C312.87,242.82 305.17,248.42 303.65,249.74C302.14,251.07 294.64,258.38 293.35,260.05C292.07,261.71 286.82,270.74 286.14,272.41C285.46,274.07 284.08,281.2 284.08,282.71C284.08,284.22 285.61,291.65 286.14,293.01C286.67,294.37 290.31,300.4 291.29,301.25C292.28,302.09 298.4,304.7 299.53,304.54C300.67,304.39 305.76,300.49 306.74,299.19C307.73,297.89 312.09,289.09 312.93,286.83C313.76,284.56 317.4,271.16 318.08,268.29C318.76,265.42 321.67,250.71 322.2,247.68C322.72,244.66 324.83,230.1 325.29,227.08C325.74,224.06 328.23,208.7 328.38,206.48C328.53,204.26 327.8,196.8 327.35,196.8Z" fill="#000"/>
<clipPath id="clip2"><path d="M465.37,52.77C473.61,52.77 482.54,53.46 490.09,55.45C497.64,57.44 504.17,61.12 510.69,64.72C517.22,68.33 523.4,72.62 529.23,77.08C535.07,81.55 540.56,86.01 545.71,91.5C550.87,97 556.36,103.86 560.14,110.05C563.91,116.23 566.32,122.41 568.38,128.59C570.44,134.77 571.98,140.6 572.5,147.13C573.01,153.65 571.98,161.55 571.47,167.73C570.95,173.91 569.92,180.5 569.41,184.21C568.89,187.92 568.72,186.98 568.38,190C568.03,193.02 568.03,197.21 567.35,202.36C566.66,207.51 565.46,214.38 564.26,220.9C563.05,227.43 561.85,234.64 560.14,241.5C558.42,248.37 556.02,255.24 553.96,262.11C551.9,268.97 549.84,276.18 547.78,282.71C545.71,289.23 543.65,295.41 541.59,301.25C539.53,307.09 537.41,312.92 535.41,317.73C533.42,322.54 531.98,327.62 529.65,330.09C527.31,332.56 524.15,330.85 521.41,332.56C518.66,334.28 515.29,337.37 513.16,340.39C511.04,343.41 509.73,346.92 508.63,350.69C507.53,354.47 507.95,358.25 506.57,363.05C505.2,367.86 502.79,374.04 500.39,379.53C497.99,385.03 495.24,391.21 492.15,396.02C489.06,400.82 485.35,405.22 481.85,408.38C478.35,411.54 473.71,413.6 471.14,414.97C468.56,416.34 467.88,416.34 466.4,416.62C464.92,416.89 464.51,417.3 462.28,416.62C460.05,415.93 455.93,414.9 453.01,412.5C450.09,410.09 447.17,406.66 444.77,402.2C442.36,397.73 440.65,391.21 438.59,385.71C436.53,380.22 434.12,374.73 432.41,369.23C430.69,363.74 429.49,357.15 428.29,352.75C427.08,348.36 426.91,345.4 425.2,342.86C423.48,340.32 420.56,338.47 417.99,337.51C415.41,336.55 412.49,338.33 409.74,337.1C407,335.86 404.25,333.32 401.5,330.09C398.76,326.86 395.84,322.54 393.26,317.73C390.69,312.92 387.94,307.09 386.05,301.25C384.16,295.41 383.13,289.23 381.93,282.71C380.73,276.18 380.04,268.97 378.84,262.11C377.64,255.24 375.92,248.03 374.72,241.5C373.52,234.98 372.83,228.8 371.63,222.96C370.43,217.13 368.54,211.98 367.51,206.48C366.48,200.99 366.14,193.71 365.45,190C364.76,186.29 364.08,187.92 363.39,184.21C362.7,180.5 361.78,173.91 361.33,167.73C360.88,161.55 360.2,154 360.71,147.13C361.23,140.26 362.43,133.05 364.42,126.53C366.41,120 369.23,113.48 372.66,107.99C376.1,102.49 380.22,98.71 385.02,93.56C389.83,88.41 395.67,81.89 401.5,77.08C407.34,72.28 413.52,68.33 420.05,64.72C426.57,61.12 433.09,57.44 440.65,55.45C448.2,53.46 457.13,52.77 465.37,52.77Z"/></clipPath>
<g filter="url(#tex2)">
<path d="M465.37,52.77C473.61,52.77 482.54,53.46 490.09,55.45C497.64,57.44 504.17,61.12 510.69,64.72C517.22,68.33 523.4,72.62 529.23,77.08C535.07,81.55 540.56,86.01 545.71,91.5C550.87,97 556.36,103.86 560.14,110.05C563.91,116.23 566.32,122.41 568.38,128.59C570.44,134.77 571.98,140.6 572.5,147.13C573.01,153.65 571.98,161.55 571.47,167.73C570.95,173.91 569.92,180.5 569.41,184.21C568.89,187.92 568.72,186.98 568.38,190C568.03,193.02 568.03,197.21 567.35,202.36C566.66,207.51 565.46,214.38 564.26,220.9C563.05,227.43 561.85,234.64 560.14,241.5C558.42,248.37 556.02,255.24 553.96,262.11C551.9,268.97 549.84,276.18 547.78,282.71C545.71,289.23 543.65,295.41 541.59,301.25C539.53,307.09 537.41,312.92 535.41,317.73C533.42,322.54 531.98,327.62 529.65,330.09C527.31,332.56 524.15,330.85 521.41,332.56C518.66,334.28 515.29,337.37 513.16,340.39C511.04,343.41 509.73,346.92 508.63,350.69C507.53,354.47 507.95,358.25 506.57,363.05C505.2,367.86 502.79,374.04 500.39,379.53C497.99,385.03 495.24,391.21 492.15,396.02C489.06,400.82 485.35,405.22 481.85,408.38C478.35,411.54 473.71,413.6 471.14,414.97C468.56,416.34 467.88,416.34 466.4,416.62C464.92,416.89 464.51,417.3 462.28,416.62C460.05,415.93 455.93,414.9 453.01,412.5C450.09,410.09 447.17,406.66 444.77,402.2C442.36,397.73 440.65,391.21 438.59,385.71C436.53,380.22 434.12,374.73 432.41,369.23C430.69,363.74 429.49,357.15 428.29,352.75C427.08,348.36 426.91,345.4 425.2,342.86C423.48,340.32 420.56,338.47 417.99,337.51C415.41,336.55 412.49,338.33 409.74,337.1C407,335.86 404.25,333.32 401.5,330.09C398.76,326.86 395.84,322.54 393.26,317.73C390.69,312.92 387.94,307.09 386.05,301.25C384.16,295.41 383.13,289.23 381.93,282.71C380.73,276.18 380.04,268.97 378.84,262.11C377.64,255.24 375.92,248.03 374.72,241.5C373.52,234.98 372.83,228.8 371.63,222.96C370.43,217.13 368.54,211.98 367.51,206.48C366.48,200.99 366.14,193.71 365.45,190C364.76,186.29 364.08,187.92 363.39,184.21C362.7,180.5 361.78,173.91 361.33,167.73C360.88,161.55 360.2,154 360.71,147.13C361.23,140.26 362.43,133.05 364.42,126.53C366.41,120 369.23,113.48 372.66,107.99C376.1,102.49 380.22,98.71 385.02,93.56C389.83,88.41 395.67,81.89 401.5,77.08C407.34,72.28 413.52,68.33 420.05,64.72C426.57,61.12 433.09,57.44 440.65,55.45C448.2,53.46 457.13,52.77 465.37,52.77Z" fill="url(#g2)"/>
<g clip-path="url(#clip2)">
<path d="M432.41,317.73C437.9,309.83 453.35,311.55 465.37,311.55C477.39,311.55 498.33,310.52 504.51,317.73C510.69,324.94 504.86,341.76 502.45,354.81C500.05,367.86 496.1,385.71 490.09,396.02C484.08,406.32 473.61,415.59 466.4,416.62C459.19,417.65 452.49,411.81 446.83,402.2C441.16,392.58 434.81,373.01 432.41,358.93C430,344.86 426.91,325.63 432.41,317.73Z" fill="#ffffff" opacity="0.97" filter="url(#bl6)"/>
<path d="M407.68,202.36C417.3,192.06 446.83,185.88 467.43,185.88C488.03,185.88 520.99,192.06 531.29,202.36C541.59,212.66 533.35,231.89 529.23,247.68C525.11,263.48 516.87,285.11 506.57,297.13C496.27,309.15 479.79,319.79 467.43,319.79C455.07,319.79 442.02,309.15 432.41,297.13C422.79,285.11 413.86,263.48 409.74,247.68C405.62,231.89 398.07,212.66 407.68,202.36Z" fill="#ffffff" opacity="0.38" filter="url(#bl8)"/>
<path d="M411.8,264.17C412.83,262.45 420.73,275.84 424.17,282.71C427.6,289.57 431.38,298.5 432.41,305.37C433.44,312.24 432.06,321.85 430.35,323.91C428.63,325.97 424.17,322.88 422.11,317.73C420.05,312.58 419.7,301.94 417.99,293.01C416.27,284.08 410.77,265.88 411.8,264.17Z" fill="#606060" opacity="0.4" filter="url(#bl3)"/>
<path d="M527.17,264.17C525.97,262.45 519.62,275.84 516.87,282.71C514.13,289.57 511.38,298.5 510.69,305.37C510.01,312.24 511.04,321.85 512.75,323.91C514.47,325.97 519.1,322.88 520.99,317.73C522.88,312.58 523.05,301.94 524.08,293.01C525.11,284.08 528.38,265.88 527.17,264.17Z" fill="#606060" opacity="0.4" filter="url(#bl3)"/>
<path d="M367.51,206.48C368.2,209.23 370.43,217.13 371.63,222.96C372.83,228.8 373.52,234.98 374.72,241.5C375.92,248.03 377.64,255.24 378.84,262.11C380.04,268.97 380.73,276.18 381.93,282.71C383.13,289.23 384.16,295.41 386.05,301.25C387.94,307.09 392.06,314.98 393.26,317.73" fill="none" stroke="#f0f0f0" stroke-width="8" opacity="0.5" filter="url(#bl3)"/>
<path d="M567.35,202.36C566.83,205.45 565.46,214.38 564.26,220.9C563.05,227.43 561.85,234.64 560.14,241.5C558.42,248.37 556.02,255.24 553.96,262.11C551.9,268.97 549.84,276.18 547.78,282.71C545.71,289.23 543.65,295.41 541.59,301.25C539.53,307.09 536.44,314.98 535.41,317.73" fill="none" stroke="#f0f0f0" stroke-width="8" opacity="0.5" filter="url(#bl3)"/>
<ellipse cx="468.46" cy="264.17" rx="26" ry="60" fill="#fff" opacity="0.34" filter="url(#bl6)"/>
<path d="M390.17,288.89C390.07,286.9 393.78,298.5 395.74,301.66C397.69,304.82 399.51,306.81 401.92,307.84C404.32,308.87 407.31,308.77 410.16,307.84C413.01,306.91 416.68,302.69 419.02,302.28C421.35,301.87 423.99,303.14 424.17,305.37C424.34,307.6 422.79,313.27 420.05,315.67C417.3,318.07 411.63,320.13 407.68,319.79C403.74,319.45 399.27,318.76 396.35,313.61C393.43,308.46 390.28,290.88 390.17,288.89Z" fill="#8e8e8e"/>
<path d="M541.59,293.01C541.32,291.39 536.51,300.56 533.77,301.87C531.02,303.17 527.41,301.97 525.11,300.84C522.81,299.7 521.68,294.31 519.96,295.07C518.25,295.82 514.3,302.28 514.81,305.37C515.33,308.46 519.62,312.58 523.05,313.61C526.49,314.64 532.32,314.98 535.41,311.55C538.5,308.12 541.87,294.62 541.59,293.01Z" fill="#8e8e8e"/>
<path d="M385.43,250.98C386.22,251.94 392.99,252.35 397.38,255.93C401.78,259.5 411.46,272.06 411.8,272.41C412.15,272.75 402.64,261.69 399.44,257.99C396.25,254.28 394.98,251.32 392.65,250.16C390.31,248.99 384.64,250.02 385.43,250.98Z" fill="#f4f4f4"/>
<path d="M547.78,250.57C546.68,251.6 539.19,254.35 535.41,257.99C531.64,261.62 525.11,271.72 525.11,272.41C525.11,273.09 532.6,265.54 535.41,262.11C538.23,258.67 539.95,253.73 542.01,251.8C544.07,249.88 548.87,249.54 547.78,250.57Z" fill="#f4f4f4"/>
<path d="M385.02,95.62C389.49,93.22 402.19,84.29 411.8,81.2C421.42,78.11 433.78,77.25 442.71,77.08C451.63,76.91 456.78,80.17 465.37,80.17C473.95,80.17 485.97,77.08 494.21,77.08C502.45,77.08 507.95,78.39 514.81,80.17C521.68,81.96 531.98,86.53 535.41,87.8" fill="none" stroke="#ffffff" stroke-width="1.3" stroke-dasharray="2 1.5" opacity="0.55"/>
<path d="M391.2,213.05C392.06,210.65 392.23,203.1 396.35,198.63C400.47,194.17 409.23,189.36 415.93,186.27C422.62,183.18 430.35,181.53 436.53,180.09C442.71,178.65 446.83,177.89 453.01,177.62C459.19,177.34 466.74,177.96 473.61,178.44C480.48,178.92 487.34,178.85 494.21,180.5C501.08,182.15 508.63,185.58 514.81,188.33C520.99,191.08 526.14,192.52 531.29,196.98C536.44,201.45 543.31,212.09 545.71,215.11" fill="none" stroke="#a0a0a0" stroke-width="1.2"/>
<path d="M392.23,214.29C393.09,211.95 393.37,204.64 397.38,200.28C401.4,195.92 409.74,191.18 416.34,188.13C422.93,185.07 430.83,183.39 436.94,181.94C443.05,180.5 446.9,179.75 453.01,179.47C459.12,179.2 466.74,179.82 473.61,180.3C480.48,180.78 487.45,180.74 494.21,182.36C500.98,183.97 508.19,187.27 514.19,189.98C520.2,192.69 525.25,194.24 530.26,198.63C535.28,203.03 541.94,213.4 544.27,216.35" fill="none" stroke="#ffffff" stroke-width="1.2" stroke-dasharray="3 2" opacity="0.6"/>
<path d="M467.02,101.8C467.09,106.96 467.02,123.78 467.43,132.71C467.84,141.63 468.97,147.47 469.49,155.37C470,163.27 470.52,170.89 470.52,180.09C470.52,189.3 469.32,200.37 469.49,210.6C469.66,220.84 471.72,231.2 471.55,241.5C471.38,251.8 469.15,261.76 468.46,272.41C467.77,283.05 467.6,299.88 467.43,305.37" fill="none" stroke="#a4a4a4" stroke-width="1.3"/>
<path d="M428.29,321.85C430,321.33 435.5,318.07 438.59,318.76C441.68,319.45 443.74,325.46 446.83,325.97C449.92,326.49 453.69,321.68 457.13,321.85C460.56,322.02 463.65,327 467.43,327C471.21,327 476.01,322.02 479.79,321.85C483.57,321.68 486.66,326.49 490.09,325.97C493.52,325.46 496.61,319.45 500.39,318.76C504.17,318.07 510.69,321.33 512.75,321.85" fill="none" stroke="#999" stroke-width="1.8"/>
<path d="M448.89,325.97C448.2,328.72 445.8,337.64 444.77,342.45C443.74,347.26 443.05,352.75 442.71,354.81" fill="none" stroke="#aaa" stroke-width="1.1"/>
<path d="M498.33,323.91C499.02,327 502.45,335.58 502.45,342.45C502.45,349.32 499.02,361.34 498.33,365.11" fill="none" stroke="#aaa" stroke-width="1.1"/>
<path d="M467.02,371.29C467.29,371.29 467.84,380.39 468.25,387.78C468.67,395.16 469.7,410.95 469.49,415.59C469.28,420.22 467.5,420.22 467.02,415.59C466.54,410.95 466.6,395.16 466.6,387.78C466.6,380.39 466.74,371.29 467.02,371.29Z" fill="#111"/>
<path d="M448.89,204.81C450.09,202.92 454.9,200.35 457.13,200.69C459.36,201.04 462.28,204.81 462.28,206.87C462.28,208.93 459.19,212.19 457.13,213.05C455.07,213.91 451.29,213.4 449.92,212.02C448.54,210.65 447.69,206.7 448.89,204.81Z" fill="#e4e4e4" opacity="0.8"/>
<path d="M481.85,202.75C483.05,201.38 488.03,200.01 490.09,200.69C492.15,201.38 494.38,205.16 494.21,206.87C494.04,208.59 490.95,210.65 489.06,210.99C487.17,211.34 484.08,210.31 482.88,208.93C481.68,207.56 480.65,204.13 481.85,202.75Z" fill="#dcdcdc" opacity="0.7"/>
<path d="M453.63,81.82C454.31,81.2 459.81,83.5 462.28,83.68C464.75,83.85 466.33,83.09 468.46,82.85C470.59,82.61 474.26,81.65 475.05,82.23C475.84,82.82 474.26,85.43 473.2,86.35C472.13,87.28 469.35,85.56 468.67,87.8C467.98,90.03 469.42,97.58 469.08,99.74C468.73,101.91 467.22,102.66 466.6,100.77C465.99,98.89 466.78,90.65 465.37,88.41C463.96,86.18 460.12,88.48 458.16,87.38C456.2,86.28 452.94,82.44 453.63,81.82Z" fill="#000"/>
<path d="M480.82,89.44C480.99,88.07 485.11,86.56 487,86.97C488.89,87.38 490.43,89.79 492.15,91.92C493.87,94.04 497.3,98.61 497.3,99.74C497.3,100.88 494.04,99.47 492.15,98.71C490.26,97.96 487.86,96.76 485.97,95.21C484.08,93.67 480.65,90.82 480.82,89.44Z" fill="#000"/>
<path d="M443.98,116.49h0.78v1.19h-0.78zM445.72,104.39h1.67v2.4h-1.67zM444.56,100.18h0.77v0.64h-0.77zM449.44,111.65h0.74v0.64h-0.74zM448.29,118.62h0.64v0.59h-0.64zM444.46,115.88h1.19v0.91h-1.19zM444.31,122.57h1.05v1.15h-1.05zM448.89,116.46h0.95v0.58h-0.95zM445.92,96.32h0.96v1.26h-0.96zM443.51,111.01h1.64v2.59h-1.64zM444.78,108.41h1.22v1.84h-1.22zM441.37,113.88h1.4v2.11h-1.4zM449.37,117.13h0.94v0.94h-0.94zM448.57,103.35h0.7v0.46h-0.7zM443.39,102.6h0.84v1.3h-0.84zM446.33,111.01h1.19v1.25h-1.19zM445.81,107.81h1.16v0.92h-1.16zM444.38,119.02h1.64v2.47h-1.64zM445.23,112.86h1.54v1.49h-1.54zM444.39,114.21h0.99v1.56h-0.99zM447.31,108.24h1.4v1.46h-1.4zM452.42,109.49h0.92v1.29h-0.92zM450.19,108.62h1.59v1.17h-1.59zM445.34,108.74h0.83v0.89h-0.83zM451.08,99.79h0.67v1.05h-0.67zM446.46,107.48h1.05v1.59h-1.05zM442.43,114.79h1.38v1.87h-1.38zM447.82,113.31h1.02v1.18h-1.02zM452.33,113.26h1.52v1.37h-1.52zM442.61,107.07h0.63v0.38h-0.63zM445.88,123.57h1.52v1.63h-1.52zM442.74,99.41h1.06v1.16h-1.06zM445.42,105.21h0.73v0.64h-0.73zM447.47,109.97h1.42v1.68h-1.42zM440.6,104.97h1.29v1.39h-1.29zM445.87,107.07h1.16v1.37h-1.16zM447.52,106.8h0.66v0.61h-0.66zM447.66,107.65h0.78v0.68h-0.78zM440.67,116.4h0.99v0.88h-0.99zM439.85,107.57h1.17v1.59h-1.17zM446.96,112.5h1.43v1.63h-1.43zM450.68,101.24h1.35v1.22h-1.35zM444.29,100.14h0.71v0.83h-0.71zM446.56,109.45h1.17v1.14h-1.17zM443.14,110.67h1.6v1.13h-1.6zM447.79,114.06h0.81v1.21h-0.81zM441.76,102h1.18v1.33h-1.18zM440.95,106.41h0.73v0.77h-0.73zM451.81,115.67h1.62v1.74h-1.62zM445.12,116.42h1.5v2.23h-1.5zM441.68,103.37h0.98v1.28h-0.98zM452.38,112.22h0.84v1.23h-0.84zM447.97,113.91h0.74v0.54h-0.74zM451.17,115.17h1.46v0.99h-1.46zM447.31,98.66h0.65v0.46h-0.65z" fill="#000" opacity="1.0"/>
<path d="M482.69,106.91h0.67v0.48h-0.67zM481.84,115.96h1.33v1.81h-1.33zM482.8,103.08h0.83v1.24h-0.83zM482.81,119.46h0.7v1.01h-0.7zM486.35,110.03h0.98v0.75h-0.98zM477.84,114.13h0.87v1.01h-0.87zM484.62,118.93h0.62v0.5h-0.62zM482.59,118.78h1.59v1.81h-1.59zM482.82,113.77h0.84v0.92h-0.84zM481.2,108.43h1.25v1.3h-1.25zM483.31,113.21h0.99v0.97h-0.99zM482.24,118.32h0.72v1.15h-0.72zM482.61,115.96h0.75v1.02h-0.75zM480.92,106.52h0.64v0.6h-0.64zM483.4,117.47h1.26v1.15h-1.26zM484.65,113.15h1.21v1.08h-1.21zM482.81,111.22h0.68v0.97h-0.68zM478.08,115.56h0.8v1.27h-0.8zM480.82,114.3h1.08v1.36h-1.08zM482.95,115.73h1.04v1.24h-1.04zM485.65,120.95h1.68v1.11h-1.68zM484.16,113.29h1.25v2h-1.25zM485.02,121.56h1.4v1.23h-1.4zM481.07,106.17h0.9v1.25h-0.9zM480.22,109.2h1.12v1.35h-1.12zM479.37,118.25h0.91v1.24h-0.91zM483.33,117.03h1.15v1.41h-1.15zM482.51,115.95h0.66v0.44h-0.66zM479.71,103.58h1.02v1.31h-1.02zM483.91,121.21h0.71v0.48h-0.71zM481.89,104.19h1.47v1.18h-1.47zM480.26,107.96h0.89v0.84h-0.89zM483.93,108.1h1.65v1.04h-1.65zM477.59,118.94h1.02v0.93h-1.02zM479.78,119.05h0.64v0.74h-0.64z" fill="#000" opacity="1.0"/>
<path d="M467.52,119.41h1.34v1.46h-1.34zM467.96,127.73h1.14v0.81h-1.14zM466.41,116.41h1.32v1.54h-1.32zM465.42,123.62h1.16v1.15h-1.16zM465.25,122.7h1.26v1.2h-1.26zM467.82,121.84h0.73v0.47h-0.73zM467.46,118.73h1.37v0.86h-1.37zM467.67,119.73h0.79v0.74h-0.79zM466.48,125.79h1.3v1.1h-1.3zM466.27,117.4h1.52v1.01h-1.52zM466.73,126.37h0.72v0.66h-0.72zM465.44,124.38h1.21v1.82h-1.21zM466.87,129.35h1.23v1.95h-1.23zM466.35,125.64h1.22v1.71h-1.22zM468.12,126.43h1v1.11h-1zM467.1,118.2h1.25v1.21h-1.25zM466,124.57h1.46v2.03h-1.46zM467.64,117.5h0.96v0.62h-0.96zM467.97,122.29h0.9v1.21h-0.9zM468.36,126.77h0.79v0.74h-0.79zM468.42,125.57h1.13v0.91h-1.13zM467.39,116.01h0.97v1.36h-0.97zM465.95,124.8h0.88v0.88h-0.88zM466.29,118.75h1.39v1.08h-1.39zM468.41,123.23h1.48v1.74h-1.48z" fill="#000" opacity="1.0"/>
<path d="M444.28,177.98h1.42v1.51h-1.42zM446.87,162.45h1.28v1.75h-1.28zM438.41,169.2h1.29v1.45h-1.29zM441.5,168.24h0.77v0.98h-0.77zM441.49,172.57h0.95v1.36h-0.95zM444.82,167.35h1.05v1.5h-1.05zM441.07,161.69h1.26v1.27h-1.26zM444.37,168.35h0.87v1.24h-0.87zM438.16,167.6h1.08v1.35h-1.08zM444.59,166.5h0.75v0.64h-0.75zM444.43,156.51h0.79v1.15h-0.79zM446.82,163.9h0.62v0.91h-0.62zM446.95,170.25h1.55v2.33h-1.55zM439.83,169.2h1.32v0.91h-1.32zM447.94,162.04h0.75v0.54h-0.75zM442.06,153.34h1.17v1.68h-1.17zM449.04,161.82h0.88v1.3h-0.88zM442.83,168.65h1.49v1.38h-1.49zM439.58,162.27h1.42v1.19h-1.42zM441.11,167.23h0.79v1.24h-0.79zM440.21,167.52h1.25v1.36h-1.25zM437.95,174.55h0.95v0.97h-0.95zM439.91,154.12h1.57v2.41h-1.57zM439.1,173.47h1.5v0.93h-1.5zM447.53,163.77h1.53v1.93h-1.53zM447.74,162.03h1.47v1.23h-1.47zM439.8,163.81h1.65v1.59h-1.65zM443.32,162.91h1.55v2.26h-1.55zM437.7,173.52h1.03v1.63h-1.03zM442.66,168.08h1.5v1.26h-1.5zM444.3,177.28h1.61v1.98h-1.61zM446.93,158.25h1.05v0.66h-1.05zM446.79,157.23h1.63v1.75h-1.63zM437.41,171.66h1.39v2.05h-1.39zM445.32,155.4h1.37v1.51h-1.37zM439.78,172.98h1.49v2h-1.49zM442.17,165.97h0.66v0.82h-0.66zM438.64,157.62h0.75v0.75h-0.75zM440.55,161.5h0.69v0.52h-0.69zM435.89,164.36h1.51v2.06h-1.51z" fill="#000" opacity="1.0"/>
<path d="M447.12,173.05h1.59v1.46h-1.59zM443.4,175.27h1.06v1.37h-1.06zM446.99,172.67h1v1.01h-1zM446.93,177.43h1.74v2.59h-1.74zM446.26,177.79h1.72v2.15h-1.72zM443.84,172.94h1.77v1.42h-1.77zM445.54,174.12h1.2v1.24h-1.2zM445.76,175.49h1.17v1.81h-1.17zM447.56,176.54h1.24v1.88h-1.24zM443.62,175.59h0.92v1.21h-0.92zM446.78,177.46h1.58v1.4h-1.58zM445.08,174.97h1.66v1.99h-1.66zM447.04,174.9h1.48v1.5h-1.48zM445.14,175.36h1.09v0.94h-1.09z" fill="#000" opacity="1.0"/>
<path d="M451.54,270.35h0.76v0.97h-0.76zM468.47,293.39h0.59v0.55h-0.59zM462.49,267.09h1v1.31h-1zM468.62,279.18h0.57v0.37h-0.57zM464.8,304.33h1.14v1.81h-1.14zM493.07,279.92h0.92v1.24h-0.92zM479.04,296.9h0.93v0.84h-0.93zM459.24,304.05h1.18v1.37h-1.18zM460.62,286.21h0.85v1.3h-0.85zM474.02,286.96h0.72v0.82h-0.72zM473.13,299.24h0.53v0.39h-0.53zM485.35,270.11h1.02v1.56h-1.02zM464.62,325.15h0.93v1.26h-0.93zM468.49,308.91h1.12v1.03h-1.12zM491,291.99h0.61v0.88h-0.61zM457.29,267.32h0.54v0.4h-0.54zM469.81,296.48h0.68v0.89h-0.68zM445.62,306.96h1.15v0.74h-1.15zM456.81,315.2h0.84v0.92h-0.84zM482.81,266.16h0.59v0.41h-0.59zM474.8,285h0.62v0.68h-0.62zM466.07,325.87h0.91v1.08h-0.91zM485.81,288.94h0.9v0.91h-0.9zM488.64,306.9h0.97v1.45h-0.97zM489.1,297.48h0.98v0.97h-0.98zM448.32,274.32h1.09v0.82h-1.09zM489.42,308.42h0.96v1.01h-0.96zM486.84,286.06h0.5v0.79h-0.5zM455.53,264.12h0.73v0.97h-0.73zM467.01,258.26h0.9v0.73h-0.9zM487.7,300.97h0.73v0.48h-0.73zM492.17,307.96h0.77v0.77h-0.77zM480.57,324.59h1.11v0.76h-1.11zM473.87,284.92h1.05v0.93h-1.05zM469.8,266.27h0.58v0.64h-0.58zM449.12,305.78h0.72v0.92h-0.72zM482.76,312.89h1.08v1.2h-1.08zM445.66,295.16h0.83v0.97h-0.83zM450.55,306.77h1.07v1.3h-1.07zM456.39,300.98h0.53v0.5h-0.53zM460.6,295.88h0.98v0.74h-0.98zM450.69,293.77h0.87v0.77h-0.87zM447.06,305.9h0.83v0.62h-0.83zM486.3,317.12h1.09v1.22h-1.09zM468.62,297.11h0.55v0.36h-0.55zM480.63,305.38h0.57v0.71h-0.57zM460.45,287.26h0.68v0.46h-0.68zM463.81,292.84h0.96v0.75h-0.96zM475.08,310.06h0.56v0.82h-0.56zM464.21,316.71h0.82v1.04h-0.82zM462.18,283.03h1.18v1.73h-1.18zM472.56,303.21h1.02v1.23h-1.02zM473.24,287.59h0.87v0.53h-0.87zM475.12,300.03h0.83v1.08h-0.83zM486.72,267.21h0.92v1h-0.92zM450.72,269.06h0.75v0.96h-0.75zM464.52,275.52h0.71v0.52h-0.71zM475.08,293.68h0.51v0.8h-0.51zM474.99,283.68h0.95v1.19h-0.95zM452.26,303.19h1.05v0.83h-1.05zM464.72,312.95h0.83v0.52h-0.83zM472.99,301.35h0.99v1.55h-0.99zM446.47,298.78h0.91v0.73h-0.91zM448.74,279.61h0.54v0.33h-0.54zM455.48,272.25h1.19v1.72h-1.19zM468.02,268.04h0.89v0.79h-0.89zM453.85,294.71h0.91v1.11h-0.91zM459.71,264.85h0.84v1.11h-0.84zM455.5,289.53h0.72v0.48h-0.72zM480.51,280.84h0.83v0.91h-0.83zM480.98,286.59h0.99v0.61h-0.99zM467.55,304.03h0.74v0.62h-0.74zM474.09,326.08h0.74v0.89h-0.74zM480.12,270.58h0.59v0.53h-0.59zM463.42,259.05h1.08v1.38h-1.08zM467.35,262.47h1.06v1.53h-1.06zM461.75,282.71h1.02v1.3h-1.02zM475.28,301.45h0.92v0.65h-0.92zM447.13,311.06h0.71v0.58h-0.71zM470.99,293.64h1.12v1.07h-1.12zM481.86,319.49h1.13v0.71h-1.13zM482.77,300.78h0.93v0.67h-0.93zM471.12,306.76h0.74v0.71h-0.74zM492.21,302.51h0.69v0.52h-0.69zM463.48,271.95h0.97v1.27h-0.97zM482.55,284.03h0.82v1.18h-0.82zM473.63,297.81h0.93v1.28h-0.93zM490.96,282.81h0.53v0.37h-0.53zM453.32,269.2h1.14v0.86h-1.14zM465.65,312.61h0.85v1.14h-0.85zM485.05,308.52h0.73v0.54h-0.73zM477.97,276.53h0.79v1.08h-0.79zM470.15,324.03h0.74v0.82h-0.74zM480.69,302.21h1.03v0.99h-1.03zM465.96,284.73h1.03v1.05h-1.03zM472.53,323.56h0.79v0.8h-0.79zM447.02,301.26h1.06v1.02h-1.06zM476.12,294.74h0.51v0.71h-0.51zM473.82,290.79h0.72v1.14h-0.72zM471.38,297.39h1.03v1.3h-1.03zM454.24,267h0.54v0.67h-0.54zM465.05,266.79h0.86v0.77h-0.86zM453.27,308.89h0.89v0.8h-0.89zM468.37,259.36h0.51v0.44h-0.51zM445.33,287.11h0.99v1.04h-0.99zM474.21,315.6h1.05v1.32h-1.05zM461.74,261.68h1.05v1.05h-1.05zM473.14,307.72h0.53v0.49h-0.53zM466.21,264.2h0.59v0.94h-0.59zM468.45,299.67h0.89v0.99h-0.89zM469.81,283.04h0.52v0.73h-0.52zM461.46,285.7h1.04v1.38h-1.04zM475.03,292.38h0.54v0.53h-0.54zM460.71,280.54h0.53v0.67h-0.53zM477.38,303.9h1.02v1.07h-1.02zM491.71,289.7h1.19v1.39h-1.19zM484.27,277h0.87v1.04h-0.87zM463.13,305.07h1.05v1.38h-1.05zM459.87,267.87h0.86v0.73h-0.86zM461.12,314.77h1.08v1.03h-1.08zM486.22,309.39h1.08v0.74h-1.08zM491.62,305.63h0.83v0.87h-0.83zM458.19,309.82h0.91v1.02h-0.91zM461.42,301.7h0.85v0.87h-0.85zM446.49,305.6h0.84v1.33h-0.84zM472.49,284.7h0.59v0.77h-0.59zM483.47,313.47h1.1v0.79h-1.1zM473.07,313.75h1.02v1.58h-1.02zM452.37,318.46h0.92v0.93h-0.92zM482.24,309.77h0.53v0.4h-0.53zM451.63,318.86h0.71v0.77h-0.71zM471.19,284.13h0.91v0.59h-0.91zM488.34,272.56h0.65v0.92h-0.65zM463.53,293.59h0.74v1.09h-0.74zM454.19,305.08h0.9v1.34h-0.9zM472.51,272.04h1v1.21h-1zM470.7,270.76h0.82v0.86h-0.82zM447.17,303.25h0.73v1.02h-0.73zM462.37,276.45h0.66v0.66h-0.66zM445.09,284.11h1.12v1.5h-1.12zM455.19,267.17h1v1.17h-1zM475.32,265.93h0.89v0.65h-0.89zM461.85,288.87h0.93v1.1h-0.93zM486.08,300.93h0.63v0.68h-0.63zM474.2,288.07h1.16v0.9h-1.16zM491.31,296.63h0.67v0.88h-0.67zM480.7,279.77h1.06v1.29h-1.06zM467.07,295.38h1.1v0.69h-1.1zM456.53,300.5h1.1v1.01h-1.1zM469.23,300.9h0.57v0.44h-0.57zM475.67,303.9h0.56v0.51h-0.56zM463.23,298.72h0.93v0.86h-0.93zM473,293.85h0.77v0.71h-0.77zM459.4,301.53h0.76v1.09h-0.76zM475.65,301.12h1.03v1.22h-1.03zM448.2,294.31h0.77v0.55h-0.77zM483.61,300.84h0.78v0.85h-0.78zM461.63,300.15h1.12v0.97h-1.12zM488.72,286.79h0.67v0.78h-0.67zM471.97,277.72h0.78v0.54h-0.78zM463.88,284.11h1.18v1.15h-1.18zM491.28,290.21h0.88v0.9h-0.88zM482.15,282.11h0.5v0.53h-0.5zM474.71,279.74h1.18v0.71h-1.18zM483.75,284.24h0.92v1.32h-0.92zM460.37,304.85h0.94v1.12h-0.94zM466.51,292.74h1.02v1.18h-1.02zM465.24,310.86h0.59v0.43h-0.59zM459.5,287.88h0.8v0.97h-0.8zM480.74,288.74h0.98v0.92h-0.98zM467.97,322.44h0.82v0.69h-0.82zM481.68,291.2h0.82v0.99h-0.82zM489.48,295.78h0.95v0.57h-0.95zM445.57,297.93h0.97v0.98h-0.97zM485.57,275.8h1.03v1.18h-1.03zM473.95,267.13h0.55v0.35h-0.55zM479.19,269.31h0.97v0.92h-0.97zM478.24,263.9h0.75v0.58h-0.75zM471.76,265.22h0.51v0.54h-0.51zM483.06,285.05h0.66v0.41h-0.66zM464.72,326.35h0.75v0.52h-0.75zM460.96,282.8h1v0.84h-1zM456.71,293.7h0.7v1.05h-0.7zM467.17,281.41h0.64v0.91h-0.64zM450.76,312.85h0.9v0.98h-0.9zM451.07,284.41h0.9v1.15h-0.9zM465.96,290.89h0.59v0.39h-0.59zM468.43,317.25h0.66v0.74h-0.66zM471.14,281.91h0.97v1.55h-0.97zM463.62,271.31h0.68v0.79h-0.68zM445.66,302.83h0.95v1.46h-0.95zM493.05,304.03h0.8v1.28h-0.8zM466.5,320.18h0.83v0.79h-0.83zM470.84,260.04h0.66v0.58h-0.66zM456.48,302.9h0.5v0.4h-0.5zM484.8,304.98h0.52v0.69h-0.52zM483.61,290.3h0.55v0.47h-0.55zM475.36,306.66h0.94v0.65h-0.94zM447.27,296.9h0.91v1.12h-0.91zM464.51,304.79h0.58v0.48h-0.58zM467.66,296.96h0.73v1.02h-0.73zM489.9,282.54h0.93v1.27h-0.93zM456.98,275.61h0.56v0.37h-0.56zM480.77,296.33h1.09v0.73h-1.09zM486.54,317.38h0.81v0.73h-0.81zM466.77,289.19h0.97v1.13h-0.97zM465.8,310.62h0.57v0.77h-0.57zM471.41,318.03h0.96v0.59h-0.96zM452.98,313.44h1.12v1.36h-1.12zM456.22,322.11h1.05v1.1h-1.05zM465.62,303.02h0.57v0.68h-0.57zM489.57,305.57h0.64v0.75h-0.64zM462.97,282.46h0.79v1.05h-0.79zM460.41,297.57h1.06v0.7h-1.06zM464,311.65h1.17v1.59h-1.17zM460.54,323.65h1.04v0.78h-1.04zM465.06,308.88h0.76v0.46h-0.76zM452.53,278.83h0.54v0.6h-0.54zM481.41,265.17h0.8v0.63h-0.8zM476.95,325.05h1.05v0.99h-1.05zM459.55,268.74h1.19v1.42h-1.19zM460.84,314.43h1.17v1.43h-1.17zM463.14,297.94h0.82v1.14h-0.82zM478.17,296.27h0.5v0.41h-0.5zM471.8,318.69h0.67v0.89h-0.67zM480.96,288.13h1.02v0.82h-1.02zM479.85,325.74h0.75v0.51h-0.75zM475.11,294.49h0.7v0.56h-0.7zM450.97,277.7h0.53v0.33h-0.53zM471.95,303.03h1.12v1.48h-1.12zM460.29,313.14h0.62v0.39h-0.62zM482.91,264.87h0.51v0.66h-0.51zM453.56,314h0.58v0.89h-0.58zM466.24,305.48h1.07v1.34h-1.07zM493.34,280.21h1.2v1.78h-1.2zM472.27,289.32h0.6v0.92h-0.6zM471.77,282.13h0.76v0.75h-0.76zM448.75,272.27h0.67v0.43h-0.67zM463.45,285.53h0.87v1.22h-0.87zM467.92,297.09h1.06v1.56h-1.06zM484.63,264.73h1.12v0.91h-1.12zM482.87,303.41h0.96v0.64h-0.96zM448.24,291.41h0.95v1.06h-0.95zM454.29,293.19h0.73v0.71h-0.73zM462.46,266.24h0.85v0.73h-0.85zM449.54,312.82h0.91v0.58h-0.91zM471.11,304.58h1.1v1.1h-1.1zM461.24,324.12h0.9v1.38h-0.9zM457.45,309.86h0.59v0.41h-0.59zM457.73,298.92h0.91v0.97h-0.91zM459.13,279.34h0.83v0.83h-0.83zM473.4,277.83h0.77v0.6h-0.77zM471.43,319.37h0.75v0.51h-0.75zM478.44,274.16h0.95v1.32h-0.95zM474.08,289.85h0.55v0.35h-0.55zM472.05,303.98h0.73v0.66h-0.73zM477.47,267.73h0.69v0.9h-0.69zM495.46,292.55h1.03v1.38h-1.03zM470.28,292.34h0.71v1.01h-0.71zM472.34,274.34h0.78v0.93h-0.78zM460.87,275.38h0.86v1.17h-0.86zM477.55,308.23h0.66v0.89h-0.66zM453.34,296.63h1.05v1.43h-1.05zM466.89,272.37h1.05v0.96h-1.05zM477.73,320.73h0.99v0.8h-0.99zM453.04,300.41h0.76v0.9h-0.76zM486.76,317.95h0.51v0.71h-0.51zM475.66,278.41h0.79v1.02h-0.79zM451.57,310.25h0.88v0.81h-0.88zM491.21,297.43h1.15v0.86h-1.15zM480.93,288.15h0.94v1.13h-0.94zM451.16,272.59h1.19v0.95h-1.19zM456.53,307.74h0.63v0.45h-0.63zM455.99,284.28h1.13v0.78h-1.13zM483.1,307.5h0.52v0.67h-0.52zM461.48,293.8h0.55v0.86h-0.55zM467.51,305.7h0.96v0.64h-0.96zM484.85,301.04h0.62v0.91h-0.62zM463.46,298.24h0.58v0.66h-0.58zM465.53,293.76h1.17v1.71h-1.17zM475.37,301.68h0.8v1.05h-0.8zM451.46,297h1.16v1.37h-1.16zM449.54,292.58h0.69v0.42h-0.69zM471.86,297.11h0.78v1.1h-0.78zM445.47,287.56h1.12v1.18h-1.12zM450.84,279.62h0.7v1.04h-0.7zM449.99,300.61h1v0.9h-1zM452.48,272.76h0.62v0.53h-0.62zM486.41,275.97h0.82v1.24h-0.82zM476.6,315.17h0.78v1.2h-0.78zM471.02,325.61h0.69v0.85h-0.69zM463.13,325.7h0.99v1.31h-0.99zM472.73,314.5h1.19v1.38h-1.19zM473.79,292.83h0.57v0.78h-0.57zM462.65,311.32h0.68v0.75h-0.68zM465.44,294.37h0.99v1.33h-0.99zM453.95,312.92h1.1v1.1h-1.1zM475.19,293.54h1.14v1.06h-1.14zM469.36,271.32h0.55v0.63h-0.55zM470.7,327.7h0.6v0.85h-0.6zM473.59,284.25h0.51v0.36h-0.51zM464.9,315.35h0.77v0.52h-0.77zM471.18,265.7h0.61v0.58h-0.61zM470,296.34h0.97v0.79h-0.97zM461.95,263h1.07v1.33h-1.07zM464.44,260.39h0.77v0.7h-0.77zM470.06,293.28h1.04v1.42h-1.04zM481.28,285.18h0.67v0.46h-0.67zM446.75,309.89h0.74v0.58h-0.74zM465.09,282.1h1.12v1.56h-1.12zM473.1,283.98h0.62v0.63h-0.62zM478.76,303.32h0.89v0.71h-0.89zM473.99,315.6h1.16v0.83h-1.16zM472.34,310.05h0.62v0.62h-0.62zM464.06,310.02h0.82v0.55h-0.82zM477.14,268.58h0.76v0.51h-0.76zM471.69,308.26h0.92v1.46h-0.92zM482.97,306.9h1.19v1.73h-1.19zM481.45,323.8h0.92v1.45h-0.92zM462.93,267.13h1.18v1.53h-1.18zM460.16,315.81h1.12v1.03h-1.12zM478.78,275.66h0.73v0.89h-0.73zM458.07,283.65h0.95v0.79h-0.95zM447.5,274.36h0.66v0.81h-0.66zM478.59,283.45h1.02v1.38h-1.02zM466.84,289.58h0.76v0.68h-0.76zM474.45,302.67h0.53v0.8h-0.53zM449.08,273h1.02v0.94h-1.02zM466.13,319.04h1.03v1.16h-1.03zM488.49,289.27h0.7v0.44h-0.7zM476.35,279.38h0.67v0.76h-0.67zM485.76,278.03h0.67v0.87h-0.67zM465.99,268.06h0.77v0.71h-0.77zM468.81,293.36h1.11v0.74h-1.11zM476.18,317.49h0.6v0.48h-0.6zM484.6,306.61h1.08v1.66h-1.08zM469.86,299.03h1.01v0.92h-1.01zM467.77,279.77h0.62v0.53h-0.62zM466.22,313.03h0.94v0.82h-0.94zM470.36,286.98h1.18v1.18h-1.18zM476.73,310.66h0.85v1.14h-0.85zM470.96,261.75h1.06v0.65h-1.06zM452.38,314.86h1.03v1.57h-1.03zM463.72,287.57h1.01v0.86h-1.01zM454.93,297.69h0.76v0.92h-0.76zM475.3,296.91h0.83v0.63h-0.83zM469.95,294.59h0.85v1.13h-0.85zM444.89,294.84h1.16v1.82h-1.16zM458.47,308.63h0.95v1.13h-0.95zM467.24,295.02h1.15v1.13h-1.15zM461.92,288.43h0.81v0.69h-0.81zM487.18,278.12h0.86v0.93h-0.86zM461.88,267.12h0.96v1.46h-0.96zM468.62,279.71h0.52v0.74h-0.52zM456.04,272.94h0.99v1.23h-0.99zM468.42,313.72h0.98v0.83h-0.98zM449.37,272.19h1.09v0.67h-1.09zM472,266.77h1.14v1.14h-1.14zM448.78,275.76h0.86v0.68h-0.86zM449.3,307.71h0.68v0.61h-0.68zM488.5,287.59h0.77v0.7h-0.77zM449.35,310.31h1.01v0.7h-1.01zM455.2,270.23h0.74v0.55h-0.74zM469.29,258.79h0.78v0.71h-0.78zM491.97,290.46h0.5v0.34h-0.5zM464.01,271.37h0.96v1.28h-0.96zM475.74,308.91h0.99v0.79h-0.99zM479.87,324.58h0.82v1.15h-0.82zM470.9,297.57h0.63v0.85h-0.63zM468.07,326.45h0.79v0.96h-0.79zM452.77,270.03h0.62v0.55h-0.62zM461.88,303.19h0.74v0.88h-0.74zM449.98,296.78h0.57v0.38h-0.57zM469.5,291.87h0.91v1.44h-0.91zM483.03,306.07h0.51v0.61h-0.51zM490.9,290.56h1.15v1.24h-1.15zM462.01,310.03h0.76v1.13h-0.76zM492.06,292.9h1.16v1.47h-1.16zM466.95,296.37h0.75v0.7h-0.75zM481.64,305.26h0.99v1.31h-0.99z" fill="#555" opacity="0.8"/>
<path d="M472.17,236.63h0.86v1.27h-0.86zM467.48,264.46h0.99v0.96h-0.99zM461.79,226.34h0.79v0.8h-0.79zM474.76,268.98h1.07v1.52h-1.07zM476.3,243.03h0.53v0.74h-0.53zM465.86,256.63h0.86v0.86h-0.86zM467.65,238.14h0.76v1.16h-0.76zM482.07,228.99h1.01v1.53h-1.01zM468.9,228.84h0.62v0.46h-0.62zM460.1,238.95h1.01v1.12h-1.01zM477.78,259.92h0.68v0.87h-0.68zM457.33,233.27h0.6v0.63h-0.6zM477.33,256.45h0.64v0.52h-0.64zM469.7,219.09h0.55v0.57h-0.55zM468.66,233.37h1.06v1.59h-1.06zM469.99,231.15h0.65v0.7h-0.65zM472.07,237.35h0.58v0.66h-0.58zM469.09,235.99h0.92v1.35h-0.92zM480.06,231.15h0.86v1.07h-0.86zM461.54,258.1h0.94v0.92h-0.94zM463.62,225.9h1.01v1.43h-1.01zM470,248.04h0.55v0.38h-0.55zM468.7,212.89h0.95v0.68h-0.95zM461.04,261.33h1.07v1.26h-1.07zM471.49,241.55h0.82v1.19h-0.82zM475.74,239.8h0.72v0.92h-0.72zM472.04,223.34h0.86v0.71h-0.86zM462.31,253.39h0.78v0.58h-0.78zM481.06,232.2h0.8v0.84h-0.8zM466.57,236.86h0.9v1.26h-0.9zM466.64,221.46h0.69v1.09h-0.69zM479.46,262.47h0.92v1h-0.92zM473.55,225.36h0.92v0.9h-0.92zM475.93,239.86h1v0.81h-1zM468.17,215.76h0.92v0.6h-0.92zM472.27,234.77h0.79v0.79h-0.79zM479.9,239.31h1.01v1.61h-1.01zM463.24,237.34h0.91v1.44h-0.91zM469.84,225.97h0.82v0.72h-0.82zM468.01,232.48h1.01v1.01h-1.01zM477.29,259.52h0.85v1.19h-0.85zM475.95,222.4h0.77v0.59h-0.77zM476.54,259.21h0.67v0.5h-0.67zM471.76,265.51h0.94v0.57h-0.94zM468.06,221.35h0.91v1.44h-0.91zM477.59,264.67h0.76v1.09h-0.76zM471.92,238.89h1.08v0.85h-1.08zM482.55,251.08h0.89v1.06h-0.89zM479.4,237.41h0.74v0.47h-0.74zM469.98,259.65h0.91v1.42h-0.91zM465.45,229.13h0.92v1.28h-0.92zM463.11,220.39h1.02v1.27h-1.02zM467.85,263.49h0.72v0.52h-0.72zM476.86,250.53h0.9v1h-0.9zM478.87,244.43h0.84v0.74h-0.84zM469.14,215.98h0.61v0.66h-0.61zM464.69,228.32h0.84v0.59h-0.84zM481.55,252.4h0.98v0.77h-0.98zM469.83,239.73h0.83v0.95h-0.83zM472.72,224.7h0.81v0.96h-0.81zM466.81,216.72h0.57v0.78h-0.57zM482.17,235.55h0.61v0.73h-0.61zM473.44,259.47h0.98v0.71h-0.98zM472.69,248.7h0.6v0.69h-0.6zM470.29,239.2h1.09v1.2h-1.09zM463.5,256.32h0.75v1.16h-0.75zM475.52,241.51h1.07v1.2h-1.07zM471.63,219.57h0.77v0.9h-0.77zM466.48,223.58h1.09v1.04h-1.09zM464.93,239.11h0.56v0.79h-0.56zM469.84,250.79h0.68v0.97h-0.68zM478.96,235.94h0.63v0.6h-0.63zM476.43,257.05h0.54v0.47h-0.54zM459.88,260.41h0.74v0.51h-0.74zM469.29,257.99h0.92v1.04h-0.92zM479.66,251.85h1.1v1.42h-1.1zM471.96,255.56h0.89v1.27h-0.89zM463.46,231.5h0.59v0.94h-0.59zM468.5,242.45h0.86v0.58h-0.86zM471.61,246.02h0.83v0.55h-0.83zM465.11,230.13h0.7v0.61h-0.7zM472.84,233.74h0.51v0.49h-0.51zM476.45,238.54h0.56v0.86h-0.56zM474.53,262.96h0.68v0.97h-0.68zM460.54,242.76h0.92v1.35h-0.92zM460.13,234.77h1.04v0.8h-1.04zM476.32,236.39h0.71v0.95h-0.71zM478.3,237.65h0.86v1.24h-0.86zM466.21,242.53h0.51v0.56h-0.51zM471.33,247.35h0.73v0.97h-0.73zM480.06,249.32h1.08v1.42h-1.08zM469.54,262.7h0.92v0.72h-0.92zM481.4,239.29h0.8v0.7h-0.8zM457.42,254.12h1.03v1.45h-1.03zM465.22,266.85h1.07v1.08h-1.07zM468.49,246.64h0.55v0.73h-0.55zM473.22,238.62h0.53v0.72h-0.53zM461.45,235.4h1.02v1.6h-1.02zM461.74,250.1h0.94v1.01h-0.94zM455.57,238.68h1.03v1.34h-1.03zM461.22,253.47h1.05v1.41h-1.05zM467.05,218.66h0.95v0.8h-0.95zM468.55,212.61h0.99v1.47h-0.99zM459.75,237.78h0.86v1.35h-0.86zM463.63,217.06h0.81v0.67h-0.81zM480.52,253.57h0.81v1.25h-0.81zM463.21,248.6h0.72v0.52h-0.72zM474.04,235.66h0.82v1.13h-0.82zM473.93,250.2h0.68v0.55h-0.68zM468.78,221.35h0.63v0.57h-0.63zM478.87,232.52h1v0.63h-1zM459.76,246.43h0.79v0.76h-0.79zM464.69,232.37h0.71v0.43h-0.71zM472.82,235.62h0.71v0.5h-0.71zM467,241.77h0.81v0.61h-0.81zM475.52,254.24h0.59v0.75h-0.59zM470.58,257h0.68v0.7h-0.68zM474.49,265.11h0.57v0.59h-0.57zM471.57,234.41h0.71v0.74h-0.71zM461.44,262.56h0.62v0.49h-0.62z" fill="#666" opacity="0.7"/>
<path d="M488.68,331h1.02v1.53h-1.02zM476.05,332h0.84v1.06h-0.84zM467.43,333.89h0.89v1.24h-0.89zM465.64,326.98h1.04v1.53h-1.04zM433.55,330.01h1.09v1.08h-1.09zM475.66,331.03h0.51v0.39h-0.51zM437.92,330.09h0.67v0.85h-0.67zM449.04,335.85h1.02v1.05h-1.02zM463.86,334.19h1.03v0.88h-1.03zM483.15,333.67h0.67v0.92h-0.67zM494.37,324.84h0.67v0.96h-0.67zM478.98,335.29h1.07v1.39h-1.07zM458,330.06h1.19v1.42h-1.19zM460.49,328.22h0.59v0.38h-0.59zM505.52,329.69h0.8v0.97h-0.8zM473.47,330.56h0.79v0.71h-0.79zM460.36,328.22h0.74v0.79h-0.74zM441.62,329.77h0.71v0.62h-0.71zM466,333.39h0.79v0.73h-0.79zM473.36,330.31h0.54v0.72h-0.54zM474.81,334.11h1.14v0.8h-1.14zM484.06,336.28h0.75v0.68h-0.75zM471.03,330.29h0.89v1.3h-0.89zM454.44,335.04h0.75v1.04h-0.75zM450.8,329.46h0.96v0.77h-0.96zM443.41,334.38h0.59v0.79h-0.59zM488.52,333.4h1.14v1.43h-1.14zM480.36,335.19h1.15v0.77h-1.15zM452.29,329.14h1.01v1.6h-1.01zM478.46,335.41h0.53v0.42h-0.53zM455.71,329.26h1.11v1.62h-1.11zM500.61,326.29h1.13v1.18h-1.13zM462.23,323.67h0.55v0.56h-0.55zM490.85,328.28h0.52v0.62h-0.52zM466.51,328.51h0.53v0.62h-0.53zM477.59,324.88h1.02v1.02h-1.02zM455.74,324.27h1.18v0.9h-1.18zM469.58,326.51h1.05v1.05h-1.05zM467.92,332.21h0.61v0.5h-0.61zM458.08,324.05h1.05v1.11h-1.05zM463.14,325.79h0.71v0.58h-0.71zM462.99,325.63h0.62v0.4h-0.62zM469.78,330.81h0.6v0.9h-0.6zM483.14,328.85h1.05v1.31h-1.05zM469.7,336.2h0.87v0.53h-0.87zM454.12,334.12h0.76v0.52h-0.76zM462.59,325.67h1.01v1.01h-1.01zM456.27,328.04h0.54v0.76h-0.54zM475.37,327.93h1.18v0.91h-1.18zM493.7,329.29h1.19v1.63h-1.19zM471,328.66h1.02v1h-1.02zM449.9,324.87h0.94v1.09h-0.94zM474.87,327.87h0.69v0.81h-0.69zM480.54,324.73h0.61v0.51h-0.61zM466.68,326.65h1.13v0.78h-1.13zM474.35,332.04h1.1v0.87h-1.1zM439.07,330.42h0.95v0.59h-0.95zM475.39,331.87h0.78v0.94h-0.78zM474.95,330.56h0.67v1.01h-0.67zM476.95,329.83h0.87v1.15h-0.87zM479,325.5h0.76v0.47h-0.76zM484.05,324.95h0.95v0.61h-0.95zM469.56,331.32h0.6v0.74h-0.6zM506.46,330.67h1.17v0.83h-1.17zM467.94,326.82h1v0.8h-1zM444.27,330.66h0.81v0.62h-0.81zM464.44,331.74h0.54v0.7h-0.54zM463.39,328.93h1.08v0.76h-1.08zM462.61,334.28h1.09v0.81h-1.09zM471.87,329.82h0.8v0.6h-0.8zM461.98,328.04h1.12v1.1h-1.12zM494.25,326.03h0.58v0.45h-0.58zM475.4,330.99h1.17v1.12h-1.17zM463.11,329.05h1.15v1.74h-1.15zM490.66,327.09h0.62v0.71h-0.62zM445.99,326.96h0.61v0.77h-0.61zM458.98,335.85h0.74v0.52h-0.74zM494.1,327.46h1.15v1.63h-1.15zM467.98,328.97h0.5v0.77h-0.5zM486.31,334.28h0.72v0.72h-0.72zM463.74,324.27h0.83v0.56h-0.83zM436.9,326.9h0.69v0.48h-0.69zM481.01,330.02h0.77v0.71h-0.77zM443.38,332.59h0.79v1.1h-0.79zM453.18,335.28h0.96v0.81h-0.96zM449.17,332.19h0.87v0.99h-0.87zM477.93,326.86h0.91v0.93h-0.91zM443.53,327.54h1.02v1.33h-1.02zM469.55,330.21h1.2v0.74h-1.2zM435.08,327.66h1.14v0.75h-1.14zM449.69,335.15h1.11v1.57h-1.11zM466.77,331.82h1.1v1.72h-1.1zM481.53,328.74h1.08v0.71h-1.08zM493.46,335.28h0.99v0.97h-0.99zM506.04,331.22h0.76v0.99h-0.76zM466.3,329.13h1.09v1.6h-1.09zM487.93,330.74h0.56v0.38h-0.56zM439.65,327.54h0.6v0.47h-0.6zM468.23,324.38h0.99v0.89h-0.99zM454.4,331.82h1.05v1.36h-1.05zM467.12,331.95h1.12v0.71h-1.12zM469.66,325.76h0.51v0.73h-0.51zM454.72,324.32h0.89v1.27h-0.89zM489.98,327.99h1v1.02h-1zM490.09,335.81h0.87v1.36h-0.87zM478.55,331.76h0.93v0.76h-0.93zM482.01,335.3h0.89v1.29h-0.89zM478.57,326.33h0.72v0.89h-0.72zM474.51,328.34h1.06v1.32h-1.06zM472.22,331.48h0.55v0.67h-0.55zM471.27,329.62h0.7v0.8h-0.7zM493.78,332.04h1.03v0.94h-1.03zM443.19,328.46h0.52v0.45h-0.52zM494.69,329.41h0.89v1.24h-0.89zM485.71,330.97h1.16v0.71h-1.16zM459.75,332.35h0.78v0.62h-0.78zM469.84,324.5h1.18v1.54h-1.18zM486.08,332.23h1.02v0.71h-1.02zM473.05,328.35h0.91v0.89h-0.91zM440.4,326.86h0.7v0.53h-0.7zM435.53,331.57h0.57v0.75h-0.57zM493.95,326.09h0.96v1.31h-0.96zM489.12,335.87h0.86v1.14h-0.86zM448.51,324.67h0.74v1.02h-0.74zM459.62,332.99h1.1v1.13h-1.1zM494.05,326.38h0.77v0.62h-0.77zM464.72,329.36h0.61v0.74h-0.61zM436.85,330.18h0.6v0.88h-0.6zM433.94,328.09h1.05v0.72h-1.05zM483.5,331.82h1.15v0.88h-1.15z" fill="#666" opacity="0.8"/>
<path d="M441.78,236.71h0.55v0.43h-0.55zM443.24,232.38h0.78v0.67h-0.78zM447.99,231.7h0.58v0.42h-0.58zM441.76,234.08h1.02v1.02h-1.02zM448.57,230.61h0.58v0.56h-0.58zM448.13,230.3h0.72v0.93h-0.72zM438.79,234.22h1.03v1.32h-1.03zM437.37,231.77h0.94v0.8h-0.94zM442.85,234.14h1.01v0.9h-1.01zM445.57,236.5h0.54v0.54h-0.54zM440.86,234.52h0.78v0.97h-0.78zM447.44,232.58h0.55v0.73h-0.55zM450.92,231.95h0.96v0.77h-0.96zM440.58,236.26h1.1v1.19h-1.1zM440.95,231.45h0.67v0.43h-0.67zM446,236.74h0.88v0.81h-0.88zM449.57,234.98h0.73v1.12h-0.73zM439.14,236.41h0.78v0.51h-0.78zM449.24,230.73h0.91v0.79h-0.91zM441.55,233.63h0.54v0.54h-0.54zM440.35,238.06h1.02v1.15h-1.02zM440.83,232.59h1v0.69h-1zM446.55,232.93h0.95v0.73h-0.95zM439.53,236.5h0.79v1.01h-0.79zM446.84,237.58h0.71v0.92h-0.71z" fill="#666" opacity="0.7"/>
<path d="M438.31,269.42h0.97v1.16h-0.97zM444.58,270.73h0.87v0.8h-0.87zM447.17,268.99h0.95v1.26h-0.95zM437.62,270.29h0.78v0.58h-0.78zM439.88,268.66h1.08v1.09h-1.08zM438.41,269.31h0.77v1.1h-0.77zM442.21,270.94h1.08v0.75h-1.08zM440.32,273.18h0.75v0.86h-0.75zM440.88,271.06h0.71v1.1h-0.71zM444.61,268.84h0.51v0.72h-0.51zM446.88,269.69h0.8v1.18h-0.8zM436.5,266.51h0.77v0.78h-0.77zM435.07,271.4h0.81v1.11h-0.81zM440.6,270.09h0.76v0.59h-0.76zM433.73,267.85h0.73v1.05h-0.73zM436.69,267.24h0.67v0.82h-0.67zM445.79,267.69h1.1v1.54h-1.1zM443.88,271.11h0.87v0.88h-0.87zM431.22,269.39h1.06v0.74h-1.06zM432.81,270.26h0.52v0.46h-0.52z" fill="#666" opacity="0.7"/>
<path d="M478.25,406.12h0.96v0.95h-0.96zM480.78,408.06h0.7v1.1h-0.7zM482.1,403.9h1.26v1.64h-1.26zM479.78,405.12h0.9v0.74h-0.9zM478.83,409.76h0.81v1.17h-0.81zM480.55,402.69h0.79v1.19h-0.79zM479.56,405.42h0.72v0.7h-0.72zM481.56,401.31h1.08v1.01h-1.08zM484.6,404.02h0.79v1.25h-0.79zM481.09,408.73h1.26v1.77h-1.26zM478.74,404.73h1.11v1.75h-1.11zM481.94,409.42h1.01v1.05h-1.01zM483.26,407.79h1v1.24h-1zM480.74,400.95h1.1v0.95h-1.1zM475.23,403.71h0.76v0.53h-0.76zM476.45,406.67h1.07v0.67h-1.07zM478.55,400.73h0.66v0.65h-0.66zM479.73,404.09h0.96v1.19h-0.96z" fill="#000" opacity="0.9"/>
</g></g>
<path d="M369.57,208.13C369.87,208.28 374.85,217.07 375.75,218.84C376.66,220.61 380.69,229.97 381.93,232.23C383.17,234.5 392.39,248.37 392.65,249.74C392.9,251.12 385.46,250.38 385.43,250.98C385.4,251.58 391.05,257.02 392.23,257.99C393.41,258.95 399.92,262.81 401.5,264.17C403.09,265.53 412.51,274.56 413.86,276.53C415.22,278.49 419.74,289.13 420.05,290.95C420.35,292.76 418.74,300.04 417.99,301.25C417.23,302.46 410.95,306.98 409.74,307.43C408.54,307.88 402.56,307.88 401.5,307.43C400.45,306.98 396.15,302.61 395.32,301.25C394.49,299.89 390.85,291 390.17,288.89C389.49,286.77 386.66,275.13 386.05,272.41C385.45,269.69 382.61,254.83 381.93,251.8C381.25,248.78 377.54,233.77 376.78,231.2C376.03,228.63 372.16,218.47 371.63,216.78C371.1,215.09 369.27,207.98 369.57,208.13Z" fill="#000"/>
<path d="M564.67,206.07C564.34,206.37 561,218.61 560.14,220.9C559.27,223.2 553.83,235.22 552.93,237.38C552.02,239.54 548.61,249.31 547.78,250.36C546.94,251.42 542.5,250.94 541.59,251.8C540.69,252.67 536.17,260.9 535.41,262.11C534.66,263.31 532.2,266.93 531.29,268.29C530.39,269.65 523.88,278.83 523.05,280.65C522.22,282.46 519.81,291.57 519.96,293.01C520.11,294.44 524.13,299.6 525.11,300.22C526.1,300.84 532.15,301.98 533.35,301.45C534.56,300.93 540.54,294.84 541.59,293.01C542.65,291.18 546.72,279.55 547.78,276.53C548.83,273.51 554.96,255.13 556.02,251.8C557.07,248.48 561.56,233.77 562.2,231.2C562.83,228.63 564.49,218.63 564.67,216.78C564.85,214.94 565,205.77 564.67,206.07Z" fill="#000"/>
<clipPath id="clip3"><path d="M698.31,56.48C706.55,56.48 715.48,57.51 723.03,59.57C730.58,61.63 737.11,64.89 743.63,68.84C750.16,72.79 756.34,78.11 762.17,83.26C768.01,88.41 774.19,94.25 778.65,99.74C783.12,105.24 786.21,110.73 788.96,116.23C791.7,121.72 793.59,126.87 795.14,132.71C796.68,138.54 797.88,144.72 798.23,151.25C798.57,157.77 797.64,165.67 797.2,171.85C796.75,178.03 796.06,185.31 795.55,188.33C795.03,191.36 794.69,187.66 794.11,190C793.52,192.34 792.9,197.21 792.05,202.36C791.19,207.51 790.16,214.38 788.96,220.9C787.75,227.43 786.21,234.64 784.84,241.5C783.46,248.37 782.09,255.58 780.71,262.11C779.34,268.63 778.31,274.47 776.59,280.65C774.88,286.83 772.82,293.69 770.41,299.19C768.01,304.68 764.92,309.49 762.17,313.61C759.43,317.73 756.68,321.99 753.93,323.91C751.19,325.83 748.27,323.77 745.69,325.15C743.12,326.52 740.54,329.27 738.48,332.15C736.42,335.04 734.88,338.67 733.33,342.45C731.79,346.23 730.58,350.01 729.21,354.81C727.84,359.62 726.81,366.14 725.09,371.29C723.37,376.44 721.31,380.91 718.91,385.71C716.51,390.52 713.42,396.19 710.67,400.14C707.92,404.08 705,407.42 702.43,409.41C699.85,411.4 697.62,412.08 695.22,412.08C692.81,412.08 690.24,411.05 688.01,409.41C685.78,407.76 683.89,405.46 681.83,402.2C679.77,398.93 677.71,394.3 675.65,389.84C673.59,385.37 671.53,380.56 669.47,375.41C667.41,370.26 665,364.43 663.29,358.93C661.57,353.44 660.54,347.19 659.17,342.45C657.79,337.71 656.76,333.39 655.05,330.5C653.33,327.62 651.27,326.42 648.86,325.15C646.46,323.88 643.03,324.8 640.62,322.88C638.22,320.96 636.85,317.56 634.44,313.61C632.04,309.66 628.61,304.68 626.2,299.19C623.8,293.69 621.74,286.83 620.02,280.65C618.31,274.47 617.1,268.63 615.9,262.11C614.7,255.58 613.84,248.03 612.81,241.5C611.78,234.98 610.92,228.8 609.72,222.96C608.52,217.13 606.8,211.98 605.6,206.48C604.4,200.99 603.47,193.02 602.51,190C601.55,186.98 600.69,191.36 599.83,188.33C598.97,185.31 597.84,178.03 597.36,171.85C596.88,165.67 596.43,157.77 596.95,151.25C597.46,144.72 598.84,138.54 600.45,132.71C602.06,126.87 603.71,121.72 606.63,116.23C609.55,110.73 613.33,105.24 617.96,99.74C622.6,94.25 628.61,88.41 634.44,83.26C640.28,78.11 646.46,72.79 652.99,68.84C659.51,64.89 666.03,61.63 673.59,59.57C681.14,57.51 690.07,56.48 698.31,56.48Z"/></clipPath>
<g filter="url(#tex3)">
<path d="M698.31,56.48C706.55,56.48 715.48,57.51 723.03,59.57C730.58,61.63 737.11,64.89 743.63,68.84C750.16,72.79 756.34,78.11 762.17,83.26C768.01,88.41 774.19,94.25 778.65,99.74C783.12,105.24 786.21,110.73 788.96,116.23C791.7,121.72 793.59,126.87 795.14,132.71C796.68,138.54 797.88,144.72 798.23,151.25C798.57,157.77 797.64,165.67 797.2,171.85C796.75,178.03 796.06,185.31 795.55,188.33C795.03,191.36 794.69,187.66 794.11,190C793.52,192.34 792.9,197.21 792.05,202.36C791.19,207.51 790.16,214.38 788.96,220.9C787.75,227.43 786.21,234.64 784.84,241.5C783.46,248.37 782.09,255.58 780.71,262.11C779.34,268.63 778.31,274.47 776.59,280.65C774.88,286.83 772.82,293.69 770.41,299.19C768.01,304.68 764.92,309.49 762.17,313.61C759.43,317.73 756.68,321.99 753.93,323.91C751.19,325.83 748.27,323.77 745.69,325.15C743.12,326.52 740.54,329.27 738.48,332.15C736.42,335.04 734.88,338.67 733.33,342.45C731.79,346.23 730.58,350.01 729.21,354.81C727.84,359.62 726.81,366.14 725.09,371.29C723.37,376.44 721.31,380.91 718.91,385.71C716.51,390.52 713.42,396.19 710.67,400.14C707.92,404.08 705,407.42 702.43,409.41C699.85,411.4 697.62,412.08 695.22,412.08C692.81,412.08 690.24,411.05 688.01,409.41C685.78,407.76 683.89,405.46 681.83,402.2C679.77,398.93 677.71,394.3 675.65,389.84C673.59,385.37 671.53,380.56 669.47,375.41C667.41,370.26 665,364.43 663.29,358.93C661.57,353.44 660.54,347.19 659.17,342.45C657.79,337.71 656.76,333.39 655.05,330.5C653.33,327.62 651.27,326.42 648.86,325.15C646.46,323.88 643.03,324.8 640.62,322.88C638.22,320.96 636.85,317.56 634.44,313.61C632.04,309.66 628.61,304.68 626.2,299.19C623.8,293.69 621.74,286.83 620.02,280.65C618.31,274.47 617.1,268.63 615.9,262.11C614.7,255.58 613.84,248.03 612.81,241.5C611.78,234.98 610.92,228.8 609.72,222.96C608.52,217.13 606.8,211.98 605.6,206.48C604.4,200.99 603.47,193.02 602.51,190C601.55,186.98 600.69,191.36 599.83,188.33C598.97,185.31 597.84,178.03 597.36,171.85C596.88,165.67 596.43,157.77 596.95,151.25C597.46,144.72 598.84,138.54 600.45,132.71C602.06,126.87 603.71,121.72 606.63,116.23C609.55,110.73 613.33,105.24 617.96,99.74C622.6,94.25 628.61,88.41 634.44,83.26C640.28,78.11 646.46,72.79 652.99,68.84C659.51,64.89 666.03,61.63 673.59,59.57C681.14,57.51 690.07,56.48 698.31,56.48Z" fill="url(#g3)"/>
<g clip-path="url(#clip3)">
<path d="M659.17,321.85C664.83,315.33 682.86,315.67 695.22,315.67C707.58,315.67 727.67,315.33 733.33,321.85C739,328.37 731.96,343.14 729.21,354.81C726.46,366.49 722.52,382.35 716.85,391.9C711.18,401.44 702.09,412.43 695.22,412.08C688.35,411.74 681.31,399.38 675.65,389.84C669.98,380.29 663.97,366.14 661.23,354.81C658.48,343.48 653.5,328.37 659.17,321.85Z" fill="#ffffff" opacity="0.8" filter="url(#bl6)"/>
<path d="M638.56,198.24C647.83,187.94 676.68,181.76 696.25,181.76C715.82,181.76 746.38,187.94 755.99,198.24C765.61,208.54 757.71,227.77 753.93,243.56C750.16,259.36 742.95,280.3 733.33,293.01C723.72,305.71 708.27,319.79 696.25,319.79C684.23,319.79 670.5,305.71 661.23,293.01C651.96,280.3 644.4,259.36 640.62,243.56C636.85,227.77 629.29,208.54 638.56,198.24Z" fill="#ffffff" opacity="0.38" filter="url(#bl8)"/>
<path d="M642.68,257.99C643.71,256.27 649.89,269.66 652.99,276.53C656.08,283.39 660.2,292.32 661.23,299.19C662.26,306.06 660.88,315.67 659.17,317.73C657.45,319.79 652.99,316.7 650.93,311.55C648.86,306.4 648.18,295.75 646.8,286.83C645.43,277.9 641.65,259.7 642.68,257.99Z" fill="#606060" opacity="0.4" filter="url(#bl3)"/>
<path d="M753.93,257.99C752.73,256.27 746.38,269.66 743.63,276.53C740.89,283.39 738.14,292.32 737.45,299.19C736.76,306.06 737.79,315.67 739.51,317.73C741.23,319.79 745.86,316.7 747.75,311.55C749.64,306.4 749.81,295.75 750.84,286.83C751.87,277.9 755.13,259.7 753.93,257.99Z" fill="#606060" opacity="0.4" filter="url(#bl3)"/>
<ellipse cx="696.25" cy="260.05" rx="25" ry="58" fill="#fff" opacity="0.34" filter="url(#bl6)"/>
<path d="M605.6,206.48C606.29,209.23 608.52,217.13 609.72,222.96C610.92,228.8 611.78,234.98 612.81,241.5C613.84,248.03 614.7,255.58 615.9,262.11C617.1,268.63 618.31,274.47 620.02,280.65C621.74,286.83 623.8,293.69 626.2,299.19C628.61,304.68 633.07,311.21 634.44,313.61" fill="none" stroke="#f0f0f0" stroke-width="8" opacity="0.4" filter="url(#bl3)"/>
<path d="M792.05,202.36C791.53,205.45 790.16,214.38 788.96,220.9C787.75,227.43 786.21,234.64 784.84,241.5C783.46,248.37 782.09,255.58 780.71,262.11C779.34,268.63 778.31,274.47 776.59,280.65C774.88,286.83 772.82,293.69 770.41,299.19C768.01,304.68 763.55,311.21 762.17,313.61" fill="none" stroke="#f0f0f0" stroke-width="8" opacity="0.4" filter="url(#bl3)"/>
<path d="M623.11,274.47C623.63,273.51 626.03,283.87 628.26,287.24C630.5,290.6 633.69,293.63 636.5,294.66C639.32,295.69 642.58,294.72 645.16,293.42C647.73,292.12 650.14,286.55 651.96,286.83C653.77,287.1 656.59,291.98 656.08,295.07C655.56,298.16 652.47,303.65 648.86,305.37C645.26,307.09 638.39,307.43 634.44,305.37C630.5,303.31 627.06,298.16 625.17,293.01C623.28,287.86 622.6,275.43 623.11,274.47Z" fill="#8e8e8e"/>
<path d="M774.53,278.59C773.85,277.28 771.1,286.62 769.38,289.3C767.67,291.98 766.47,293.63 764.23,294.66C762,295.69 758.74,296.37 755.99,295.48C753.25,294.59 749.64,289.02 747.75,289.3C745.86,289.57 743.98,294.11 744.66,297.13C745.35,300.15 748.61,305.54 751.87,307.43C755.13,309.32 760.63,310.18 764.23,308.46C767.84,306.74 771.79,302.11 773.5,297.13C775.22,292.15 775.22,279.89 774.53,278.59Z" fill="#8e8e8e"/>
<path d="M617.14,233.88C617.76,234.84 625.21,237.49 629.29,241.5C633.38,245.52 641.31,257.57 641.65,257.99C642,258.4 634.03,247.68 631.35,243.98C628.68,240.27 627.95,237.42 625.59,235.74C623.22,234.05 616.52,232.92 617.14,233.88Z" fill="#f4f4f4"/>
<path d="M779.07,237.8C778.31,238.89 770.14,243.98 766.29,247.68C762.45,251.39 755.99,259.36 755.99,260.05C755.99,260.73 763.82,254.96 766.29,251.8C768.77,248.65 768.7,243.43 770.83,241.09C772.95,238.76 779.82,236.7 779.07,237.8Z" fill="#c8c8c8"/>
<path d="M626.2,96.04C629.64,94.32 639.25,88.48 646.8,85.74C654.36,82.99 664.66,79.45 671.53,79.56C678.39,79.66 682.86,84.71 688.01,86.35C693.16,88 697.28,89.79 702.43,89.44C707.58,89.1 712.73,84.81 718.91,84.29C725.09,83.78 731.61,84.47 739.51,86.35C747.41,88.24 760.46,93.32 766.29,95.62C772.13,97.92 773.16,99.4 774.53,100.16" fill="none" stroke="#ffffff" stroke-width="1.4" stroke-dasharray="2 1.5" opacity="0.55"/>
<path d="M628.68,217.17C629.98,213.05 633.48,197.43 636.5,192.45C639.53,187.47 641.65,189.02 646.8,187.3C651.96,185.58 661.23,184.73 667.41,182.15C673.59,179.58 678.05,174.94 683.89,171.85C689.72,168.76 696.59,163.95 702.43,163.61C708.27,163.27 713.76,167.04 718.91,169.79C724.06,172.54 728.18,176.66 733.33,180.09C738.48,183.52 745.01,187.3 749.81,190.39C754.62,193.48 759.01,194.17 762.17,198.63C765.33,203.1 767.67,214.08 768.77,217.17" fill="none" stroke="#a2a2a2" stroke-width="1.1"/>
<path d="M629.91,218.41C631.18,214.36 634.65,199.01 637.53,194.1C640.42,189.19 642.17,190.67 647.22,188.95C652.26,187.23 661.64,186.37 667.82,183.8C674,181.22 678.53,176.55 684.3,173.5C690.07,170.44 696.73,165.81 702.43,165.46C708.13,165.12 713.45,168.73 718.5,171.44C723.55,174.15 727.63,178.31 732.71,181.74C737.79,185.17 744.28,188.95 748.99,192.04C753.69,195.13 757.88,195.89 760.94,200.28C763.99,204.68 766.26,215.39 767.32,218.41" fill="none" stroke="#ffffff" stroke-width="1.1" stroke-dasharray="3 2" opacity="0.55"/>
<path d="M703.67,90.47C703.67,96.48 703.73,114.34 703.67,126.53C703.6,138.72 704.08,154 703.25,163.61C702.43,173.22 699.68,173.91 698.72,184.21C697.76,194.51 697.62,217.58 697.48,225.41C697.35,233.25 697.59,226.12 697.9,231.2C698.21,236.29 699.27,249.06 699.34,255.93C699.41,262.79 698.48,269.66 698.31,272.41" fill="none" stroke="#a6a6a6" stroke-width="1.3"/>
<path d="M655.05,317.73C657.11,317.39 663.97,315.5 667.41,315.67C670.84,315.84 672.21,318.07 675.65,318.76C679.08,319.45 684.57,318.59 688.01,319.79C691.44,320.99 693.16,325.97 696.25,325.97C699.34,325.97 703.46,320.99 706.55,319.79C709.64,318.59 711.7,319.45 714.79,318.76C717.88,318.07 720.97,315.84 725.09,315.67C729.21,315.5 737.11,317.39 739.51,317.73" fill="none" stroke="#999" stroke-width="1.8"/>
<path d="M674.62,321.85C673.76,324.6 670.5,332.84 669.47,338.33C668.44,343.83 668.09,349.32 668.44,354.81C668.78,360.31 671.01,368.55 671.53,371.29" fill="none" stroke="#aaa" stroke-width="1.1"/>
<path d="M713.76,321.85C714.79,324.6 718.74,332.84 719.94,338.33C721.14,343.83 721.49,349.32 720.97,354.81C720.46,360.31 717.54,368.55 716.85,371.29" fill="none" stroke="#aaa" stroke-width="1.1"/>
<path d="M703.5,113.65h1.5v1.34h-1.5zM703.17,110.33h1.38v1.91h-1.38zM704.32,104.41h0.87v1.34h-0.87zM702.81,106.36h1.18v0.83h-1.18zM702.39,112.67h0.71v0.62h-0.71zM704.45,110.03h1.09v1.05h-1.09zM704.76,107.11h1.09v0.68h-1.09zM706.25,114.97h0.68v0.87h-0.68zM703.29,113.9h1.51v2.12h-1.51zM704.12,111.4h0.78v0.91h-0.78zM703.9,110.58h1.58v2.51h-1.58zM702.31,111.72h1.15v0.87h-1.15zM703.95,102.55h0.79v0.5h-0.79zM705.62,111.89h0.75v1.1h-0.75zM704.72,113.11h0.93v0.76h-0.93zM703.74,102.54h0.87v0.94h-0.87zM705.22,109.83h1.15v1.03h-1.15zM704.03,105.57h1.11v1.11h-1.11zM704.33,113.54h1.29v1.91h-1.29zM703.82,115.67h1.18v1.62h-1.18zM703.27,118.17h1.55v1.69h-1.55zM705.09,107.76h1.35v1.91h-1.35zM702.81,106.65h1.03v1.2h-1.03zM702.8,115.72h0.66v0.51h-0.66zM705.61,112.26h1.19v1.06h-1.19zM704.93,105.21h1.57v1.49h-1.57zM704.82,111.58h0.92v1.28h-0.92zM703.83,112.19h1.26v1.22h-1.26zM704.18,109.04h0.92v0.56h-0.92zM703.38,115.71h1.4v2.09h-1.4z" fill="#000" opacity="1.0"/>
<path d="M702.13,91.02h1.14v1.29h-1.14zM703.33,92.12h1.15v1.7h-1.15zM703,91.19h1.4v1.43h-1.4zM702.87,90.38h0.89v0.71h-0.89zM703.14,90.05h1.49v1.52h-1.49zM703.15,92.01h0.89v0.88h-0.89zM702.29,91.02h1.18v1.72h-1.18zM704.24,91.33h0.86v1.23h-0.86z" fill="#000" opacity="1.0"/>
<path d="M681.93,168.53h1.53v0.98h-1.53zM682.92,167.55h0.88v1.23h-0.88zM682.96,167.13h1.4v1.4h-1.4zM682.44,167.5h1.29v1.28h-1.29zM682.78,166.91h1.48v2.32h-1.48zM683.61,168.25h1.29v0.81h-1.29z" fill="#000" opacity="1.0"/>
<path d="M674.06,95.23h0.87v0.81h-0.87zM673.68,94.44h0.92v0.73h-0.92zM674.61,94.78h1.43v2.28h-1.43zM675.24,94.67h0.98v1.36h-0.98zM675.11,96.14h0.85v0.79h-0.85z" fill="#000" opacity="1.0"/>
<path d="M675.06,277.25h0.66v0.51h-0.66zM701.92,305.4h0.58v0.84h-0.58zM692.58,267.25h1.08v1.09h-1.08zM686.48,295.12h0.82v0.96h-0.82zM678.6,269.64h0.69v0.92h-0.69zM693.68,303.9h0.68v0.46h-0.68zM670.07,283.86h0.9v1.2h-0.9zM693.32,297.52h1.08v0.72h-1.08zM701,293.8h0.99v0.78h-0.99zM699,298.72h0.85v0.96h-0.85zM705.65,275.05h0.69v0.72h-0.69zM701.26,307.29h1.05v0.86h-1.05zM675.4,313.8h1.02v1.14h-1.02zM693.64,284.47h0.67v0.51h-0.67zM683.84,316.78h0.89v0.66h-0.89zM707.2,277.02h0.64v0.96h-0.64zM692.96,295.15h0.9v0.94h-0.9zM689.72,319.43h0.55v0.57h-0.55zM701.51,307.03h0.8v0.53h-0.8zM691.41,298.45h0.89v1.18h-0.89zM682.37,298.56h0.74v0.89h-0.74zM676.54,289.85h0.76v0.97h-0.76zM676.82,271.38h0.63v0.41h-0.63zM702.16,295.47h0.54v0.38h-0.54zM694.87,312.83h0.93v0.92h-0.93zM708.97,306.41h1.03v0.89h-1.03zM698.16,315.75h0.71v0.63h-0.71zM674.91,280.18h0.56v0.61h-0.56zM687.39,277.14h0.68v1.03h-0.68zM692.96,305.45h0.54v0.43h-0.54zM697.49,288.81h0.51v0.55h-0.51zM688.22,300.22h0.66v0.45h-0.66zM682.12,270.39h0.86v1.34h-0.86zM678.49,284.55h0.65v0.46h-0.65zM699.47,275.92h1.09v1.57h-1.09zM684.78,291.74h0.59v0.41h-0.59zM685.07,314.29h0.77v1.03h-0.77zM702.16,292.31h0.79v0.76h-0.79zM704.62,294.16h0.93v1.38h-0.93zM695.71,268.17h1.04v1.25h-1.04zM707.29,307h0.94v0.58h-0.94zM715.24,289.65h0.9v0.66h-0.9zM682.43,293.15h0.94v1.49h-0.94zM678.71,310.61h0.62v0.96h-0.62zM675.8,272.1h1.03v1.31h-1.03zM704.1,283.54h1.07v1.21h-1.07zM690.22,314.26h1.03v1.02h-1.03zM669.66,306.85h0.69v0.44h-0.69zM679.93,291.34h0.87v0.9h-0.87zM667.72,300.64h0.98v0.87h-0.98zM707.82,289.73h0.91v0.97h-0.91zM707.02,315.15h0.87v1.11h-0.87zM688.53,304.07h0.98v0.6h-0.98zM702.52,295.95h0.86v0.56h-0.86zM687.18,307.58h0.9v0.54h-0.9zM692.02,306.44h0.67v0.98h-0.67zM681.16,272.93h0.59v0.41h-0.59zM688.77,320.69h0.62v0.73h-0.62zM699.97,297.7h0.78v0.75h-0.78zM699.3,274.1h0.75v1.18h-0.75zM700.42,299.34h0.68v0.62h-0.68zM673.88,284.66h0.69v0.82h-0.69zM688.71,284.73h0.58v0.67h-0.58zM690.66,297.76h0.84v1.03h-0.84zM679.56,289h1.03v1.06h-1.03zM701.58,305.1h0.69v1.06h-0.69zM688.57,276.99h0.76v0.77h-0.76zM690.34,294.22h0.84v1.3h-0.84zM673.34,303.98h0.87v0.78h-0.87zM692.88,310.52h0.58v0.66h-0.58zM682.03,288.26h0.95v0.95h-0.95zM691.54,293.45h0.98v1.45h-0.98zM688.85,293.91h0.53v0.76h-0.53zM685.04,282.51h0.56v0.5h-0.56zM680.21,294.51h0.54v0.72h-0.54zM682.5,272.85h0.53v0.43h-0.53zM705.13,310.86h0.8v0.66h-0.8zM681.66,270.65h0.68v0.62h-0.68zM692.89,292.95h0.79v1.02h-0.79zM692.14,293.02h0.86v0.62h-0.86zM699.15,298.27h0.78v1.12h-0.78zM688.9,294.29h0.57v0.58h-0.57zM714.63,290.36h1.01v1.15h-1.01zM700.78,273.74h1.02v1.24h-1.02zM674.87,301.42h0.61v0.87h-0.61zM687.98,286.22h0.94v1.08h-0.94zM681.32,294.76h0.9v1.4h-0.9zM672.55,293.94h0.73v0.95h-0.73zM703.14,302.48h0.75v0.47h-0.75zM675.34,298h0.51v0.46h-0.51zM677.42,272.55h0.87v0.56h-0.87zM713.25,277.97h0.78v1.03h-0.78zM687.81,320.26h0.71v1.04h-0.71zM679.69,292.74h0.92v0.92h-0.92zM710,301.02h0.71v0.94h-0.71zM681.19,311.76h0.97v0.85h-0.97zM693.02,280.91h0.74v1.12h-0.74zM684.09,281.83h0.78v0.99h-0.78zM670.23,280.8h0.97v1.09h-0.97zM700.25,302.25h1.07v1.02h-1.07zM681.93,283.02h0.53v0.77h-0.53zM694.86,297.59h0.56v0.86h-0.56zM670.91,296.42h1.09v1.53h-1.09zM691.1,282.86h1.04v0.8h-1.04zM708.81,278.61h0.75v0.5h-0.75zM687.78,289.04h1.01v0.68h-1.01zM693.66,273.35h1v1.53h-1zM683.38,312.65h0.73v1.15h-0.73zM684.6,288.95h0.65v0.68h-0.65zM690.23,301.89h0.6v0.84h-0.6zM695.08,284.77h0.85v1.04h-0.85zM687.96,284.99h0.99v1.47h-0.99zM683.31,304.55h0.83v0.56h-0.83zM700.38,313.64h1.05v1.3h-1.05zM669.27,293.6h0.84v0.9h-0.84zM681.01,309.03h0.84v0.62h-0.84zM705.21,299.33h0.73v0.49h-0.73zM711.44,304.13h0.68v0.49h-0.68zM694.35,312.48h0.7v0.58h-0.7zM715.01,283.36h0.65v0.85h-0.65zM713.62,303.54h1.08v0.73h-1.08zM671.42,281.58h1.06v1.17h-1.06zM689.32,295.23h0.92v0.65h-0.92zM668.06,297.79h0.66v0.41h-0.66zM686.79,302.31h0.7v0.96h-0.7zM703.05,307.1h0.94v1.43h-0.94zM679.83,271.14h0.64v0.43h-0.64zM715.08,284.63h0.92v1.26h-0.92zM717.15,299.1h1.07v1.28h-1.07zM688.74,289.89h0.83v1.29h-0.83zM691.77,296.01h0.52v0.58h-0.52zM683.67,280.41h0.68v0.99h-0.68zM693.87,292.67h0.53v0.73h-0.53zM698.43,276.28h1.02v1.3h-1.02zM690.83,274.58h0.53v0.73h-0.53zM687.29,278.41h0.76v0.56h-0.76zM669.84,302.87h1.09v1.05h-1.09zM697.17,307.71h0.53v0.44h-0.53zM684.31,287.76h0.95v1.41h-0.95zM696.82,274.85h1.09v0.67h-1.09zM687.89,269.23h0.55v0.4h-0.55zM693.36,295.85h0.71v0.89h-0.71zM692.53,304.84h0.86v0.93h-0.86zM695.23,296.24h0.65v0.74h-0.65zM671.18,293.73h0.71v1.08h-0.71zM695.94,314.72h1.06v1.47h-1.06zM687.01,313.06h0.82v0.71h-0.82zM686.94,276.61h0.53v0.8h-0.53zM686.98,273.71h0.67v0.54h-0.67zM708.77,313.9h0.64v0.86h-0.64zM695.31,306.61h0.99v0.73h-0.99zM712.16,289.99h0.89v0.94h-0.89zM704.17,304.33h0.52v0.46h-0.52zM675.13,309.32h0.55v0.48h-0.55zM679.86,282.11h1.02v1h-1.02zM700.39,295.56h0.61v0.63h-0.61zM702.85,296.94h0.82v0.78h-0.82zM710.25,296.22h1.04v1.58h-1.04zM710.88,279.73h0.85v1.16h-0.85zM679.79,313.67h0.76v0.78h-0.76zM689.4,270.62h0.53v0.38h-0.53zM676.35,307.41h0.91v1.32h-0.91zM706.17,286.8h0.84v0.99h-0.84zM684.89,292.08h0.73v0.98h-0.73zM697.73,289.92h0.51v0.71h-0.51zM696.56,291.49h0.65v0.74h-0.65zM685.04,305.46h0.87v0.84h-0.87zM680.31,273.16h0.99v1.19h-0.99zM704.56,306.28h0.69v0.6h-0.69zM698.69,307.73h0.76v0.81h-0.76zM707.33,289.44h1.01v0.82h-1.01zM715.34,302.65h0.67v0.81h-0.67zM690.64,296.77h0.61v0.83h-0.61zM688.27,318.05h0.58v0.71h-0.58zM703.33,308.95h0.53v0.38h-0.53zM711.49,298.15h1.02v1.2h-1.02zM712.02,298.79h0.54v0.71h-0.54zM691.56,303.82h0.91v1.32h-0.91zM679.66,310.7h0.86v0.82h-0.86zM705.14,300.43h0.81v0.68h-0.81zM686.17,305.45h0.99v1.01h-0.99zM677.24,273.15h0.59v0.54h-0.59zM695,280.36h0.74v0.93h-0.74zM667.04,298.04h0.87v0.66h-0.87zM715.88,300.37h1.05v0.66h-1.05zM674.79,277.75h0.81v1.11h-0.81zM674.36,292.02h0.71v0.58h-0.71zM693.28,290.78h0.94v0.92h-0.94zM696.5,292.94h0.55v0.84h-0.55zM694.69,310.11h0.84v0.97h-0.84zM673.92,304.1h1.01v1.14h-1.01zM706.71,298.27h0.81v0.85h-0.81zM689.37,317.53h0.68v0.57h-0.68zM693.07,316.25h0.72v0.76h-0.72zM692.06,286.83h0.64v0.86h-0.64zM701.44,283.61h0.71v0.79h-0.71zM708.72,282.39h0.86v0.91h-0.86zM676.83,302.22h1v0.72h-1zM670.95,287.52h0.74v0.88h-0.74zM698.68,301.33h0.67v0.61h-0.67zM704.5,300.5h1.09v1.28h-1.09zM677.53,275.71h1.04v1.54h-1.04zM698.02,293.63h0.66v0.76h-0.66zM711.24,283.34h0.58v0.37h-0.58zM673.91,302.03h1.09v0.8h-1.09zM708.55,273.42h1.04v0.99h-1.04zM678.02,303.71h0.93v0.67h-0.93zM711.41,277.4h0.85v1.04h-0.85zM695.1,292.89h0.94v0.9h-0.94zM678.94,297.73h0.77v1.1h-0.77zM688.34,309.18h0.58v0.45h-0.58zM694.58,266.8h1.06v0.73h-1.06zM706.43,281.15h0.72v0.9h-0.72zM681.52,303.82h0.81v0.96h-0.81zM696.9,291.15h0.68v0.64h-0.68zM669.96,282.83h0.85v1.22h-0.85zM681.57,298.65h0.69v0.54h-0.69zM706.13,311.99h0.94v1.5h-0.94zM696.15,310.17h0.85v1.03h-0.85zM700.88,299.81h0.57v0.5h-0.57z" fill="#666" opacity="0.7"/>
<path d="M665.6,325.97h0.67v1.02h-0.67zM725.7,323.56h1.05v1.34h-1.05zM703.81,325.45h1v1.36h-1zM729.26,324.87h1.08v1.23h-1.08zM696.58,323.74h1v0.63h-1zM706.27,329.42h0.84v1.12h-0.84zM664.9,323.22h0.68v0.48h-0.68zM687.58,318.78h0.77v0.79h-0.77zM693.58,329.31h1.1v1.46h-1.1zM709.19,325.85h0.55v0.76h-0.55zM693.91,321.19h0.8v0.7h-0.8zM680.87,321.16h0.97v1.26h-0.97zM682.75,329.13h0.76v1.16h-0.76zM700.67,321.33h1v1.27h-1zM698.75,323.51h0.88v0.54h-0.88zM708.1,326.2h1.07v1.36h-1.07zM695.33,325.5h0.99v1.32h-0.99zM693.89,325.8h1.03v1.59h-1.03zM714.59,320.08h0.5v0.33h-0.5zM685.01,323.2h0.61v0.62h-0.61zM694.75,326.95h0.85v1.05h-0.85zM669.55,324.35h0.61v0.55h-0.61zM697.98,326.43h0.79v1.1h-0.79zM682.6,325.74h0.79v0.55h-0.79zM721.32,327.47h0.95v0.85h-0.95zM712.35,323.39h0.9v0.64h-0.9zM680.47,324.5h0.57v0.74h-0.57zM687.82,319.1h0.79v1.11h-0.79zM676.94,324.13h0.64v0.57h-0.64zM663.11,323.65h0.97v0.64h-0.97zM698.17,321.59h0.69v0.68h-0.69zM678.58,325.03h1.05v0.91h-1.05zM693.94,321.12h0.99v0.9h-0.99zM675.69,326.09h0.6v0.48h-0.6zM671.77,319.82h0.87v0.81h-0.87zM694.41,323.67h0.93v1.31h-0.93zM720.02,326.43h1.05v1.43h-1.05zM670.94,322.45h0.81v0.78h-0.81zM699.38,325.47h0.82v1.2h-0.82zM700.24,329.01h1.05v0.97h-1.05zM702.46,328.63h1.06v0.68h-1.06zM730.46,324.63h0.56v0.56h-0.56zM686.45,324.07h0.68v0.57h-0.68zM698.15,321.68h0.66v0.48h-0.66zM701.93,319.55h0.58v0.78h-0.58zM695.45,324.97h0.54v0.72h-0.54zM697.76,320.68h0.51v0.73h-0.51zM688.64,322.93h0.94v1.31h-0.94zM704.94,327.88h0.69v0.63h-0.69zM693.66,323.88h0.66v0.53h-0.66zM693.85,328.36h0.78v0.7h-0.78zM725.57,327.14h0.84v0.91h-0.84zM715.64,321.79h0.65v0.4h-0.65zM677.51,323.97h0.72v0.83h-0.72zM706.07,325.24h1.09v1.08h-1.09zM698.26,326.88h0.84v1.04h-0.84zM680.87,328.41h1.09v0.75h-1.09zM712.05,328.65h0.79v0.67h-0.79zM712.44,327.23h0.78v1.04h-0.78zM684.41,323.03h0.96v0.82h-0.96zM689.91,326.51h0.59v0.54h-0.59zM678.67,322.64h0.5v0.65h-0.5zM697.22,318.8h0.83v0.76h-0.83zM686.85,321.7h0.93v1.03h-0.93zM718.84,319.28h0.55v0.39h-0.55zM690.56,321.04h0.95v0.73h-0.95zM696.13,322.2h0.76v1.2h-0.76zM715.41,324.71h0.6v0.85h-0.6zM666.94,324.3h0.83v0.83h-0.83zM690.42,327.12h0.68v1.03h-0.68zM686.09,320.5h0.87v0.84h-0.87zM690.87,322.67h0.81v0.65h-0.81zM674.79,320.8h0.81v0.69h-0.81zM662.8,325.23h1.06v1.39h-1.06zM701.57,322.73h0.81v1.16h-0.81zM715.7,324.11h0.59v0.39h-0.59zM712.01,323.53h0.61v0.79h-0.61zM680.11,323.26h0.54v0.57h-0.54zM705.83,326.31h0.84v0.69h-0.84zM672.68,319.79h0.66v0.94h-0.66zM712.95,320.87h0.68v0.84h-0.68zM684.9,325.23h0.82v1.04h-0.82zM704.78,324.66h0.94v0.83h-0.94zM695.66,325.12h0.98v1.16h-0.98zM697.92,321.16h0.96v1.15h-0.96zM690.97,329h1.02v1.3h-1.02zM686.06,324.2h0.97v1.54h-0.97zM722.18,326.7h0.59v0.45h-0.59zM707.77,321.98h1.04v0.68h-1.04zM676.05,323.66h0.9v0.83h-0.9z" fill="#666" opacity="0.7"/>
<path d="M685.33,346.56h0.84v0.82h-0.84zM682.65,357.52h0.69v0.77h-0.69zM677.21,341.65h1.01v1.56h-1.01zM697.96,338.29h0.93v1.33h-0.93zM681.24,340.27h0.97v1.25h-0.97zM681.74,341h0.71v0.44h-0.71zM683.33,358.83h0.9v1.2h-0.9zM689.81,364.75h1.1v1.69h-1.1zM685.35,352.23h0.95v0.58h-0.95zM680.86,352.93h0.5v0.46h-0.5zM692.96,354.34h0.65v0.99h-0.65zM687.14,344.96h0.66v0.72h-0.66zM696.96,352.49h0.65v0.8h-0.65zM698.31,342.16h1.02v1.55h-1.02zM696.71,346.22h0.79v0.85h-0.79zM694.95,330.37h0.98v0.63h-0.98zM698.92,351.24h0.59v0.79h-0.59zM690.01,341.66h0.75v1.09h-0.75zM696.23,353.62h0.54v0.37h-0.54zM676.6,339h0.62v0.75h-0.62zM698.55,349.16h1.01v0.92h-1.01zM685.18,321.3h0.85v1.32h-0.85zM676.57,343.82h0.74v1.07h-0.74zM687.15,342.96h1v1.1h-1zM687.73,341.67h0.77v0.67h-0.77zM690.37,363.04h0.6v0.81h-0.6zM688.12,346.14h0.66v0.63h-0.66zM683.62,362.39h0.92v1.07h-0.92zM685.42,348h0.55v0.74h-0.55zM691.27,364.39h1.08v1.48h-1.08zM689,337.23h0.72v0.49h-0.72zM687.28,336.2h1v1.25h-1zM691.08,341.47h0.95v0.7h-0.95zM696.89,353.79h0.61v0.45h-0.61zM686.31,355.63h0.61v0.91h-0.61zM690.26,357.26h0.92v0.79h-0.92zM679.84,347.78h0.71v0.88h-0.71zM679.74,352.88h1v0.64h-1zM691.13,334.19h0.82v0.67h-0.82zM686.32,333.82h0.99v1.38h-0.99zM690.48,367.6h0.8v1.15h-0.8zM688.62,341.55h0.96v0.83h-0.96zM686.96,347.07h0.57v0.72h-0.57zM689.19,353.08h0.85v0.83h-0.85zM682.05,359.98h0.52v0.68h-0.52zM680.53,328.12h0.5v0.52h-0.5zM683.51,364.38h0.56v0.85h-0.56zM685.57,361.98h0.61v0.38h-0.61zM690.53,331.51h0.85v0.88h-0.85zM679.48,361.15h0.65v0.63h-0.65z" fill="#666" opacity="0.7"/>
<path d="M679.43,401.09h0.77v1.21h-0.77zM685.39,387.62h1.31v1.45h-1.31zM677.42,398.34h1.36v1.36h-1.36zM685.52,395.18h1.33v1.98h-1.33zM687.45,391.67h0.68v1.07h-0.68zM681.84,391.32h0.8v1.25h-0.8zM684.42,393.06h1.19v1.67h-1.19zM680.18,394.76h0.5v0.37h-0.5zM683.75,390.77h0.57v0.48h-0.57zM682.15,395.91h0.72v0.93h-0.72zM683.53,389.4h0.93v0.88h-0.93zM677.29,395.5h1.13v1.71h-1.13zM679.24,385.53h1.14v1.55h-1.14zM683,395.44h1.19v0.87h-1.19zM682.64,383.86h1.24v1.65h-1.24zM679.05,396.57h0.56v0.61h-0.56zM681.58,386.4h0.7v0.85h-0.7zM682.16,388.51h0.81v1.15h-0.81zM678.05,388.19h1.32v1.65h-1.32zM683.03,396.56h0.69v0.71h-0.69zM679.45,400.87h0.88v0.78h-0.88zM677.87,400.21h0.53v0.83h-0.53zM680.34,395.42h1.11v1.6h-1.11zM680.81,394.38h1.12v0.78h-1.12zM685.17,386.78h0.51v0.47h-0.51zM679.09,391.41h0.91v0.99h-0.91zM684.9,392.51h1.19v1.08h-1.19zM681.59,401.94h1.04v1.46h-1.04zM678.97,395.65h0.93v0.87h-0.93zM678.94,392.77h1.21v1.91h-1.21zM678.82,392.84h1.11v0.83h-1.11zM678.85,402.91h1.03v0.82h-1.03zM683.67,385.83h0.91v0.59h-0.91zM681.56,396.42h0.94v0.91h-0.94zM685.36,388.53h0.73v0.68h-0.73z" fill="#000" opacity="0.9"/>
</g></g>
<path d="M613.84,218.43C614.22,218.35 618.13,224.78 618.99,226.05C619.85,227.32 625.72,235.16 625.59,235.74C625.45,236.31 617.09,233.38 617.14,233.88C617.18,234.38 624.78,241.37 626.2,242.53C627.62,243.7 635.07,248.16 636.5,249.74C637.94,251.33 644.75,262.05 645.77,264.17C646.8,266.28 650.21,276.92 650.51,278.59C650.82,280.25 650.32,285.77 649.89,286.83C649.47,287.88 645.58,292.46 644.74,293.01C643.91,293.55 639.47,294.55 638.56,294.24C637.66,293.94 633.29,290.19 632.38,288.89C631.48,287.59 626.96,278.79 626.2,276.53C625.45,274.26 622.81,260.78 622.08,257.99C621.36,255.19 616.92,240.68 616.31,238.41C615.71,236.15 614.02,228.55 613.84,227.08C613.66,225.62 613.46,218.51 613.84,218.43Z" fill="#000"/>
<path d="M789.37,201.95C789.23,201.95 786.5,210.82 785.87,212.66C785.23,214.5 781.67,225.12 780.71,227.08C779.76,229.05 773.02,238.66 772.89,239.44C772.75,240.23 779.04,237.46 778.86,237.8C778.68,238.13 771.79,242.95 770.41,243.98C769.04,245 761.62,250.02 760.11,251.8C758.6,253.59 750.87,266.17 749.81,268.29C748.75,270.4 745.77,279.06 745.69,280.65C745.62,282.23 748.03,288.89 748.78,289.92C749.54,290.94 754.94,294.4 755.99,294.66C757.05,294.91 762.22,294.3 763.2,293.42C764.19,292.54 768.55,284.55 769.38,282.71C770.21,280.86 773.85,270.55 774.53,268.29C775.21,266.02 778.01,254.52 778.65,251.8C779.3,249.09 782.73,234.07 783.39,231.2C784.06,228.33 787.28,214.81 787.72,212.66C788.16,210.52 789.5,201.95 789.37,201.95Z" fill="#000"/>
<clipPath id="clip4"><path d="M942.37,56.82C952.39,56.42 962,58.02 971.21,60.43C980.42,62.83 989.64,67.04 997.65,71.24C1005.66,75.45 1012.87,80.46 1019.28,85.66C1025.69,90.87 1031.29,96.48 1036.1,102.48C1040.91,108.49 1044.91,114.9 1048.12,121.71C1051.32,128.52 1054.01,136.13 1055.33,143.34C1056.65,150.55 1056.45,157.36 1056.05,164.97C1055.65,172.58 1054.05,180.99 1052.92,189C1051.8,197.01 1050.72,205.83 1049.32,213.04C1047.92,220.25 1045.71,227.05 1044.51,232.26C1043.31,237.47 1044.31,237.87 1042.11,244.28C1039.91,250.69 1035.1,263.1 1031.29,270.71C1027.49,278.32 1023.28,283.93 1019.28,289.94C1015.27,295.95 1010.47,301.56 1007.26,306.76C1004.06,311.97 1001.65,317.18 1000.05,321.18C998.45,325.19 999.57,328.55 997.65,330.8C995.73,333.04 990.92,332.64 988.52,334.64C986.11,336.64 984.51,339.05 983.23,342.81C981.95,346.58 982.43,351.62 980.83,357.23C979.22,362.84 976.82,370.85 973.62,376.46C970.41,382.07 966.41,387.67 961.6,390.88C956.79,394.08 949.98,396.08 944.78,395.68C939.57,395.28 934.36,392.48 930.36,388.47C926.35,384.47 923.15,378.06 920.74,371.65C918.34,365.24 917.14,355.95 915.94,350.02C914.74,344.09 915.54,339.69 913.53,336.08C911.53,332.48 906.72,330.88 903.92,328.39C901.12,325.91 899.51,324.79 896.71,321.18C893.91,317.58 891.1,312.37 887.1,306.76C883.09,301.16 877.89,294.75 872.68,287.54C867.47,280.33 861.06,271.51 855.86,263.5C850.65,255.49 845.44,247.08 841.44,239.47C837.43,231.86 834.43,225.05 831.82,217.84C829.22,210.63 827.42,203.42 825.81,196.21C824.21,189 822.61,181.79 822.21,174.58C821.81,167.37 822.21,160.16 823.41,152.95C824.61,145.74 826.42,138.13 829.42,131.32C832.42,124.51 836.63,118.11 841.44,112.1C846.24,106.09 851.45,101.28 858.26,95.28C865.07,89.27 873.48,81.46 882.29,76.05C891.1,70.64 901.12,66.04 911.13,62.83C921.14,59.63 932.36,57.22 942.37,56.82Z"/></clipPath>
<g filter="url(#tex4)">
<path d="M942.37,56.82C952.39,56.42 962,58.02 971.21,60.43C980.42,62.83 989.64,67.04 997.65,71.24C1005.66,75.45 1012.87,80.46 1019.28,85.66C1025.69,90.87 1031.29,96.48 1036.1,102.48C1040.91,108.49 1044.91,114.9 1048.12,121.71C1051.32,128.52 1054.01,136.13 1055.33,143.34C1056.65,150.55 1056.45,157.36 1056.05,164.97C1055.65,172.58 1054.05,180.99 1052.92,189C1051.8,197.01 1050.72,205.83 1049.32,213.04C1047.92,220.25 1045.71,227.05 1044.51,232.26C1043.31,237.47 1044.31,237.87 1042.11,244.28C1039.91,250.69 1035.1,263.1 1031.29,270.71C1027.49,278.32 1023.28,283.93 1019.28,289.94C1015.27,295.95 1010.47,301.56 1007.26,306.76C1004.06,311.97 1001.65,317.18 1000.05,321.18C998.45,325.19 999.57,328.55 997.65,330.8C995.73,333.04 990.92,332.64 988.52,334.64C986.11,336.64 984.51,339.05 983.23,342.81C981.95,346.58 982.43,351.62 980.83,357.23C979.22,362.84 976.82,370.85 973.62,376.46C970.41,382.07 966.41,387.67 961.6,390.88C956.79,394.08 949.98,396.08 944.78,395.68C939.57,395.28 934.36,392.48 930.36,388.47C926.35,384.47 923.15,378.06 920.74,371.65C918.34,365.24 917.14,355.95 915.94,350.02C914.74,344.09 915.54,339.69 913.53,336.08C911.53,332.48 906.72,330.88 903.92,328.39C901.12,325.91 899.51,324.79 896.71,321.18C893.91,317.58 891.1,312.37 887.1,306.76C883.09,301.16 877.89,294.75 872.68,287.54C867.47,280.33 861.06,271.51 855.86,263.5C850.65,255.49 845.44,247.08 841.44,239.47C837.43,231.86 834.43,225.05 831.82,217.84C829.22,210.63 827.42,203.42 825.81,196.21C824.21,189 822.61,181.79 822.21,174.58C821.81,167.37 822.21,160.16 823.41,152.95C824.61,145.74 826.42,138.13 829.42,131.32C832.42,124.51 836.63,118.11 841.44,112.1C846.24,106.09 851.45,101.28 858.26,95.28C865.07,89.27 873.48,81.46 882.29,76.05C891.1,70.64 901.12,66.04 911.13,62.83C921.14,59.63 932.36,57.22 942.37,56.82Z" fill="url(#g4)"/>
<g clip-path="url(#clip4)">
<rect x="815" y="50" width="250" height="70" fill="url(#top4)"/>
<path d="M922.98,92.72h0.88v0.69h-0.88zM939.51,76.97h0.73v0.9h-0.73zM911.09,70.54h0.53v0.7h-0.53zM942.49,79.58h0.57v0.75h-0.57zM913.33,67.82h0.69v1.09h-0.69zM931.5,69.14h1.08v1.55h-1.08zM936.99,63.41h0.82v0.56h-0.82zM928.18,79.79h1.18v1.47h-1.18zM971.7,69.17h1.19v0.81h-1.19zM999.59,68.85h0.8v0.5h-0.8zM971.04,73.68h0.96v1.42h-0.96zM964.92,66.53h0.58v0.46h-0.58zM940.04,84.7h0.86v1.25h-0.86zM944.99,93.13h0.76v0.82h-0.76zM945.31,64.87h1.02v1.41h-1.02zM932.46,90.97h0.92v1.39h-0.92zM928.68,68.8h0.79v0.49h-0.79zM926.34,78.5h0.69v0.82h-0.69zM976.96,74.7h0.65v0.4h-0.65zM937.24,78.65h0.7v0.92h-0.7zM967.38,63.84h0.94v0.88h-0.94zM885.54,88.25h0.51v0.48h-0.51zM917.21,85.37h0.82v1.11h-0.82zM957.22,91.12h0.97v0.83h-0.97zM1010.69,79.65h1.18v1.45h-1.18zM908.04,72.48h0.65v1.02h-0.65zM919.95,82.23h0.72v0.92h-0.72zM997.53,78.71h0.62v0.59h-0.62zM871.69,84.37h0.52v0.81h-0.52zM897.93,71.83h0.66v1.01h-0.66zM979.6,86.43h1.09v0.76h-1.09zM957.72,95.55h0.9v0.7h-0.9zM977.72,90.16h1.01v1.02h-1.01zM888.78,84.95h0.79v0.95h-0.79zM926.16,84.97h0.57v0.85h-0.57zM1004.84,71.96h0.72v0.82h-0.72zM887.73,87.32h0.85v0.9h-0.85zM962.89,65.91h1.15v0.89h-1.15zM930.38,88.55h0.73v0.78h-0.73zM976.56,92.55h0.77v0.96h-0.77zM983.64,74.32h0.95v1.15h-0.95zM978.33,86.99h1.2v1.44h-1.2zM933.98,56.94h0.73v0.62h-0.73zM900.57,71.06h0.56v0.55h-0.56zM939.21,57.73h0.96v1.1h-0.96zM987.91,62.54h0.61v0.59h-0.61zM958.63,71.86h1.16v1.76h-1.16zM927.8,83.65h1.13v0.91h-1.13zM914.09,77.85h0.92v1.47h-0.92zM964.53,57.27h0.85v0.6h-0.85zM913.8,70.44h1.14v0.87h-1.14zM868.56,80.63h0.5v0.32h-0.5zM911.07,59.83h1.2v1.75h-1.2zM980.6,80.69h0.68v0.9h-0.68zM989.73,87.59h0.95v1.08h-0.95zM988.57,77.83h1.01v0.9h-1.01zM887.75,86.44h1.04v1h-1.04zM932.22,63.81h0.95v0.98h-0.95zM956.8,79.7h0.68v0.97h-0.68zM942.75,71.74h0.62v0.63h-0.62zM903.22,91.9h1.06v0.86h-1.06zM989.25,84.45h0.55v0.83h-0.55zM913.3,76.44h0.68v0.61h-0.68zM880.34,81.81h0.99v1.16h-0.99zM888.94,66.81h0.6v0.54h-0.6zM949.43,85.87h0.75v0.67h-0.75zM962.56,74.18h0.94v1.01h-0.94zM911.54,79.19h1.02v1.32h-1.02zM962.33,82.78h0.77v0.95h-0.77zM968.27,77.23h0.71v0.84h-0.71zM938.7,91.93h1.02v1.63h-1.02zM896.12,84.02h0.62v0.58h-0.62zM981.27,90.9h0.72v0.7h-0.72zM973.56,67.03h0.62v0.7h-0.62zM975.04,92.59h0.51v0.79h-0.51zM923.56,83.41h0.66v0.58h-0.66zM953.95,59.36h0.95v0.91h-0.95zM871.58,80.79h1.13v1.63h-1.13zM979.57,62.15h0.87v0.72h-0.87zM959.59,90.41h0.78v0.54h-0.78zM936.73,78.7h0.89v1.01h-0.89zM938.48,57.9h1.18v0.77h-1.18zM915.53,72.98h0.68v0.91h-0.68zM921.01,62.29h0.67v0.87h-0.67zM934.46,76.62h0.93v1.07h-0.93zM962.86,79.45h1.08v0.72h-1.08zM983,68.79h0.54v0.45h-0.54zM896.57,69.04h0.82v0.94h-0.82zM949.25,67.24h0.94v0.75h-0.94zM952.57,78.4h0.64v0.73h-0.64zM952.66,87.85h0.9v1.06h-0.9zM953.17,72.75h1.12v1.54h-1.12zM965.17,92.22h0.93v0.98h-0.93zM1006.42,76.1h0.92v1.01h-0.92zM963.98,87.18h0.86v1.33h-0.86zM920.71,93.28h0.67v0.59h-0.67zM910.61,72.75h0.81v1.27h-0.81zM986.83,72h0.72v1.14h-0.72zM920.83,77.08h0.55v0.56h-0.55zM917.51,93.89h0.81v1h-0.81zM919.34,74.59h1.05v1.42h-1.05zM953.4,88.06h0.72v0.82h-0.72zM969.18,81.24h0.93v1.09h-0.93zM954.38,80.55h1.04v1.44h-1.04zM975.47,64.72h0.61v0.95h-0.61zM999.88,74.29h1.05v1.45h-1.05zM933.35,94.96h0.83v1.21h-0.83zM935.7,80.93h0.73v0.7h-0.73zM941.03,64.62h0.8v0.79h-0.8zM886.42,84.28h0.78v1.23h-0.78zM901.75,89.72h1.18v1.62h-1.18zM1002.95,77.96h0.65v0.85h-0.65zM931.5,85.69h0.73v1.01h-0.73zM918.58,87.9h0.64v0.52h-0.64zM872.41,75.72h0.57v0.48h-0.57zM921.07,86.69h1v1.08h-1zM951.26,75.63h0.96v1.24h-0.96zM982,69.5h0.7v0.84h-0.7zM931.26,78.9h0.95v0.83h-0.95zM892.05,89.88h0.58v0.42h-0.58zM942.33,66.95h1.04v1.06h-1.04zM954.36,80.38h0.71v0.57h-0.71zM967.19,79.98h0.9v1.23h-0.9zM939,88.86h0.7v0.44h-0.7zM944.02,73.03h1.05v1.38h-1.05zM915.07,92.52h1.13v1.19h-1.13zM960.23,71.99h0.83v0.88h-0.83zM912.78,89.26h0.99v0.85h-0.99zM942.29,74.62h0.58v0.59h-0.58zM904.93,83.37h0.53v0.6h-0.53zM984.09,69.54h0.51v0.53h-0.51zM989.69,78.53h1.06v1.47h-1.06zM889.5,76.73h0.94v1.26h-0.94zM872.14,68.22h1.05v1.18h-1.05zM963.23,59.08h0.56v0.85h-0.56zM882.58,63.36h1.03v1.4h-1.03zM913.57,79.47h0.82v1.21h-0.82zM938.36,61.28h0.55v0.69h-0.55zM915.71,86.85h0.98v1.4h-0.98zM937.54,76.61h0.9v0.55h-0.9zM944.66,74.95h0.66v0.68h-0.66zM940.86,83.03h0.97v0.9h-0.97zM885.78,79.99h1.04v1.22h-1.04zM898.77,90.53h1.11v0.83h-1.11zM946.09,69.5h0.63v0.39h-0.63zM886.8,65.43h1.05v1.19h-1.05zM976.64,73.48h0.72v0.6h-0.72zM951.03,84.43h0.8v0.69h-0.8zM967.04,73.37h0.75v0.55h-0.75zM977.69,69.37h1.08v1.06h-1.08zM882.85,81.66h1.02v1h-1.02zM903.63,79.5h0.64v0.63h-0.64zM948.2,72.57h0.62v0.94h-0.62zM939.53,71.53h1.03v0.74h-1.03zM887.64,77.01h1.02v0.94h-1.02zM970.34,94.5h1.06v1.02h-1.06zM941.81,80.37h0.82v0.5h-0.82zM955.91,66.1h1.1v1.05h-1.1zM1007.25,70.15h0.8v1.16h-0.8zM917.95,95.04h0.56v0.7h-0.56zM906.93,83.6h1.17v1.02h-1.17zM921.1,68.8h0.6v0.51h-0.6zM925.38,74.18h0.61v0.79h-0.61zM943.22,73.23h1.06v1.56h-1.06zM921.67,67.57h0.79v0.6h-0.79zM977.26,92.92h1.18v1.58h-1.18zM951.12,70.42h1.12v0.79h-1.12zM967.41,86.51h0.71v0.88h-0.71zM968.27,71.77h0.72v1h-0.72zM907.15,92.1h0.52v0.77h-0.52zM950.17,74.84h0.76v0.92h-0.76zM921.19,75.18h0.51v0.76h-0.51zM1007.13,86.9h0.58v0.62h-0.58zM1011.96,74.18h0.88v0.64h-0.88zM897.06,67.24h0.72v0.77h-0.72zM957.55,73.33h0.96v0.93h-0.96zM895.7,65.68h0.83v1.13h-0.83zM957.29,70.92h0.65v0.48h-0.65zM968.09,73.55h0.56v0.39h-0.56zM883.35,86.5h0.57v0.47h-0.57zM965.64,89.75h0.73v1.15h-0.73zM918.16,65.02h0.9v1.34h-0.9zM943.55,71.22h0.8v1h-0.8zM877.04,66.93h0.52v0.79h-0.52zM935.39,77.63h0.64v0.5h-0.64zM946.94,77.52h1.06v0.8h-1.06zM919.15,88.2h0.84v0.79h-0.84zM895.63,63.49h0.9v0.95h-0.9zM954.62,90.03h0.88v0.63h-0.88zM930.5,92.4h1.15v1.07h-1.15zM965.78,71.24h1.06v1.16h-1.06zM886.6,71.51h0.97v0.91h-0.97zM931.18,75.7h0.76v0.94h-0.76zM960.24,75.02h0.66v0.7h-0.66zM981.71,84.52h0.71v1.04h-0.71zM927.07,86.53h1.19v0.81h-1.19zM974.78,66.86h0.78v1.2h-0.78zM967.2,75.99h1.09v0.89h-1.09zM1004.81,77.74h0.75v0.9h-0.75zM982.99,90.72h0.87v1.21h-0.87zM924.22,81.49h1.16v1.32h-1.16zM931.39,78.88h0.62v0.76h-0.62zM891.37,64.05h1.03v0.77h-1.03zM993.94,71.02h1.1v0.97h-1.1zM1015.09,71.14h0.71v1.06h-0.71zM1013.36,72.81h0.83v0.61h-0.83zM942.65,76.02h0.68v0.78h-0.68zM914.53,93.56h0.93v1.45h-0.93zM981.33,79.95h0.6v0.85h-0.6zM948.52,58.91h1.17v0.98h-1.17zM955.37,61.7h0.77v0.61h-0.77zM948.53,73.35h1.17v1.03h-1.17zM956.46,73.16h1.02v1.57h-1.02zM967.9,85.28h0.97v1.32h-0.97zM959.73,76.35h0.72v0.5h-0.72zM910.54,67.51h0.96v0.86h-0.96zM987.21,87.53h0.82v0.55h-0.82zM1014.78,73.58h0.74v0.64h-0.74zM981.99,75.28h1.12v0.8h-1.12zM889.96,78.92h1.11v1.44h-1.11zM960.09,60.21h0.66v0.46h-0.66zM997.13,75.84h0.92v0.88h-0.92zM982.33,65.05h1.09v1.7h-1.09zM892.18,82.95h1.11v0.97h-1.11zM937.23,68.04h0.68v0.75h-0.68zM882.14,84.59h1.19v0.81h-1.19zM996.35,86.26h0.67v0.73h-0.67zM893.06,67.9h0.57v0.79h-0.57zM928.97,63.16h1.09v1.06h-1.09zM869.03,73.8h0.77v0.92h-0.77zM886.43,66.9h1.17v1.37h-1.17zM990.17,87.2h0.75v0.96h-0.75zM977.45,69.84h0.78v1.04h-0.78zM904.47,89.91h1.1v1.29h-1.1zM868.43,73.32h1.07v1.31h-1.07zM952.54,61.18h0.52v0.6h-0.52zM1016.54,78.96h0.57v0.87h-0.57zM962.4,60.86h1.09v0.93h-1.09zM957.77,67.43h1.18v1h-1.18zM933.62,76.84h0.82v1.31h-0.82zM936.89,93h0.65v0.89h-0.65zM908.64,73.4h0.78v0.74h-0.78zM970.09,59.76h1.1v1.03h-1.1zM895.36,65.23h1.09v0.9h-1.09zM949.82,72.5h1.01v1.25h-1.01zM923.95,87.37h0.63v0.62h-0.63zM936.73,91.68h0.75v1.05h-0.75zM993.18,66.05h1.17v1.08h-1.17zM983.19,84.87h1.14v1.48h-1.14zM882.78,69.94h0.88v0.87h-0.88zM933.95,69.97h0.56v0.67h-0.56zM972,68.63h0.68v0.9h-0.68zM902.4,73.9h1.14v0.81h-1.14zM1007.38,71.33h1.12v1h-1.12zM930.1,74.57h1.2v1.25h-1.2zM991.9,79.38h0.97v0.85h-0.97zM873.76,76.66h1.19v1h-1.19zM951.08,90.64h0.65v0.4h-0.65zM942.58,77.38h0.93v1.34h-0.93zM898.2,82.79h0.9v0.91h-0.9zM973.15,64.88h0.94v1.4h-0.94zM1005.41,73.92h0.99v1.57h-0.99zM952.48,68.62h0.76v1.14h-0.76zM974.79,72.57h0.75v1.17h-0.75zM988.95,89.51h1.19v1.01h-1.19zM924.33,74.91h1.19v1.64h-1.19zM896.05,75.49h0.72v1.01h-0.72zM893.18,66.38h1v1.25h-1zM869.6,69.45h0.83v0.97h-0.83zM995.03,80.74h0.85v0.88h-0.85zM964.09,74.36h0.89v1.03h-0.89zM977.19,79.43h1.11v0.83h-1.11zM937.58,73.35h1v1.17h-1zM1001.43,70.85h1v1.09h-1zM921.14,57.65h1.19v0.97h-1.19zM894.08,79.89h0.97v0.9h-0.97zM878.02,68.3h1.16v0.87h-1.16zM884.58,72.28h0.72v0.44h-0.72zM894.89,66.03h0.75v0.54h-0.75zM997.24,74.03h0.87v1.16h-0.87zM939.15,68.54h0.92v1.25h-0.92zM952.51,81.51h0.95v1.05h-0.95zM952.87,78.56h1.16v1.36h-1.16zM980.5,72.81h0.79v1.02h-0.79zM966.16,83.28h0.57v0.54h-0.57zM923.46,58.43h0.85v0.67h-0.85zM919.9,80.16h1.19v1.47h-1.19zM908.24,89.89h0.87v0.54h-0.87zM881.86,63.83h0.54v0.53h-0.54zM979.61,93.04h0.87v0.53h-0.87zM937.63,77.12h1.13v1.32h-1.13zM990.31,61.07h0.63v0.77h-0.63zM953.55,82.32h0.74v1.09h-0.74zM988.89,68.75h0.9v1.34h-0.9zM923.07,58.45h0.62v0.47h-0.62zM945.21,74.48h0.53v0.6h-0.53zM1014.52,71.05h1.07v0.97h-1.07zM932.76,85.3h0.63v0.7h-0.63zM981.13,68.85h0.92v1.47h-0.92zM1007.72,66.84h1.15v1.32h-1.15zM908.32,83.38h0.58v0.67h-0.58zM922.05,84.45h0.67v0.95h-0.67zM958.01,85.87h0.75v1.14h-0.75zM1001.63,67.84h1.14v1.49h-1.14zM950.56,72.7h0.86v1.09h-0.86zM921,87.59h0.9v1.02h-0.9zM902.16,84.13h0.64v0.59h-0.64zM918.6,78.12h1.16v1.19h-1.16zM929.9,77.43h0.52v0.36h-0.52zM891.24,70.74h0.71v1.14h-0.71zM950.82,59.52h0.99v1.12h-0.99zM1014.89,81.03h0.71v0.85h-0.71zM983.57,68.4h0.95v1.27h-0.95zM933.38,75.54h0.71v0.56h-0.71zM952.03,75.48h1.08v1.59h-1.08zM938.8,63.36h0.62v0.61h-0.62zM919.44,58.26h0.57v0.88h-0.57zM990.35,66.18h0.55v0.44h-0.55zM957.7,90.15h0.51v0.78h-0.51zM958.77,90.88h1.15v0.69h-1.15zM946.45,93.33h1.08v1.71h-1.08zM1010.41,74.63h0.76v1.09h-0.76zM961.45,77.46h0.67v0.85h-0.67zM973.85,68.65h0.9v1.32h-0.9zM924.33,71.35h1.12v1.49h-1.12zM933.85,91.32h0.79v0.8h-0.79zM929.64,94.35h1.07v1.17h-1.07zM896.91,67.57h0.78v1.01h-0.78zM886.84,80.76h0.66v0.81h-0.66zM996.73,88.38h0.84v0.66h-0.84zM907.38,93.03h0.68v0.87h-0.68zM979.49,71.62h0.88v0.77h-0.88zM927.47,74.25h0.58v0.83h-0.58zM998.52,63.2h0.89v0.98h-0.89zM996.62,90.33h0.83v0.59h-0.83zM951.56,93.49h0.63v0.86h-0.63zM952.39,69.11h0.93v0.97h-0.93zM976.29,86.94h0.53v0.81h-0.53zM944.93,69.85h0.65v0.59h-0.65zM874.12,67.97h0.74v1.15h-0.74zM975.37,71.52h0.64v0.8h-0.64zM926.11,79.44h0.7v0.47h-0.7zM952.36,81.86h0.96v1h-0.96zM950.7,73.81h0.67v0.76h-0.67zM923.61,74.25h1.17v0.77h-1.17zM925.72,66.22h0.87v1.07h-0.87zM978.2,92.74h0.76v0.56h-0.76zM964.78,80.44h0.77v0.89h-0.77zM967.66,60.73h0.58v0.48h-0.58zM906.22,66.39h0.55v0.69h-0.55zM1005.51,65.89h0.95v0.84h-0.95zM909.13,68.43h1.02v1.31h-1.02zM914.22,69.88h1.19v1.26h-1.19zM960.72,73.44h0.88v0.84h-0.88zM977.41,87.54h0.62v0.97h-0.62zM1013.81,75.95h0.76v0.47h-0.76zM949.23,71.21h0.82v1.08h-0.82zM915.68,74.22h0.78v1.13h-0.78zM897.3,91.35h0.79v0.81h-0.79zM937.79,64.78h0.77v0.74h-0.77zM923.53,85.38h1.01v0.81h-1.01zM947.42,82.19h0.64v0.94h-0.64zM912.3,64.01h1.13v1.3h-1.13zM946.03,65.41h0.95v0.77h-0.95zM952.78,79.33h0.96v0.86h-0.96zM974.83,61.54h0.94v0.61h-0.94zM952.91,88.96h0.61v0.6h-0.61zM919,75.39h0.81v1.05h-0.81zM898.07,85.94h0.69v0.93h-0.69zM922.8,73.94h0.78v1.08h-0.78zM955.86,86.22h0.83v1.22h-0.83zM992.98,89.96h0.72v1.11h-0.72zM894.5,65.59h1.11v1.42h-1.11zM945.59,72.56h0.51v0.74h-0.51zM1008.34,81.87h0.72v1.08h-0.72zM948.41,81.13h0.65v0.94h-0.65zM894.83,90.24h0.91v1.3h-0.91zM882.13,78.49h0.7v0.49h-0.7zM875.29,69h0.61v0.62h-0.61zM887.81,73.17h0.61v0.7h-0.61zM866.69,79.81h0.98v1.48h-0.98zM1000.27,73.81h0.6v0.63h-0.6zM943.06,71.11h0.77v0.75h-0.77zM944.79,77.18h0.98v1.39h-0.98zM990.99,70.27h0.63v0.94h-0.63zM1016.13,72.48h0.9v1.33h-0.9zM1013.85,74.64h0.55v0.4h-0.55zM929.8,85.95h0.6v0.96h-0.6zM957.36,61.45h1.17v1.08h-1.17zM924.32,57.34h0.56v0.67h-0.56zM943.69,75h1.12v1.14h-1.12zM976.3,91.66h0.63v0.56h-0.63zM869.63,73.64h0.84v1.27h-0.84zM969.48,78.41h0.71v0.75h-0.71zM934.84,76.92h1.02v1.39h-1.02zM929.49,76.94h0.89v0.65h-0.89zM997.93,74.09h1.01v0.63h-1.01zM889.16,88.75h0.77v0.49h-0.77zM913.83,62.35h0.73v1.03h-0.73zM982.25,62.63h0.79v0.74h-0.79zM1000.35,70.47h0.89v0.97h-0.89zM934.72,94.72h1.14v0.78h-1.14zM924.78,68.28h0.86v0.61h-0.86zM967.36,60.09h0.57v0.39h-0.57zM927.64,79.91h1.06v1.46h-1.06zM944.36,75.46h0.51v0.72h-0.51zM980.51,65.66h0.61v0.75h-0.61zM973.69,67.64h1.11v1.54h-1.11zM956.45,78.88h0.99v0.79h-0.99zM942.04,72.6h0.56v0.88h-0.56zM1008.58,76.46h0.66v0.43h-0.66zM973.25,80.36h0.87v0.94h-0.87zM967.52,94.8h0.92v0.73h-0.92zM928.32,90.82h1.11v0.73h-1.11zM943.27,76.58h0.62v0.5h-0.62zM973.79,86.29h1.18v1.54h-1.18zM938.63,72.91h0.63v0.58h-0.63zM964.2,75.77h0.94v1.13h-0.94zM903.45,68.65h0.7v0.72h-0.7zM970.74,61.65h0.87v1.09h-0.87zM971.47,74.53h1.03v0.68h-1.03zM976.51,79.69h1.01v1.24h-1.01zM947.86,72.94h1.04v1.36h-1.04zM1005.62,77.27h0.56v0.67h-0.56zM975.47,71.13h0.98v1.25h-0.98zM970.37,79.2h1.09v1.14h-1.09zM940.08,64.09h0.85v1.16h-0.85zM912.1,94.47h0.63v0.75h-0.63zM978.65,78.61h0.83v0.88h-0.83zM1003.91,67.81h1.18v1.26h-1.18zM978.43,69.25h0.6v0.81h-0.6zM937.29,76.77h0.6v0.55h-0.6zM998.84,75.12h0.78v0.48h-0.78zM957.39,61.57h0.62v0.74h-0.62zM948.42,79.57h0.77v0.58h-0.77zM939.59,77.22h0.77v0.7h-0.77zM991.64,72.4h0.66v0.72h-0.66zM935.24,65.07h1.16v0.88h-1.16zM953.02,75.51h1.17v0.78h-1.17zM921.74,86.72h0.7v0.59h-0.7zM1005.11,70.07h0.79v0.49h-0.79zM934.71,81.2h0.94v1.21h-0.94zM926.25,78.03h0.59v0.52h-0.59zM931.77,59.05h1.1v1.07h-1.1zM953.46,75.51h0.81v0.83h-0.81zM951.35,84.88h0.66v0.98h-0.66zM914.29,93.42h1.18v1.64h-1.18zM892.42,71.44h0.73v0.58h-0.73zM966.98,82.53h0.94v1.48h-0.94zM949.51,89.8h0.67v0.95h-0.67zM896.53,76.89h0.51v0.57h-0.51zM995,85.29h0.94v0.64h-0.94zM887.75,76.85h1.12v1.75h-1.12zM937.9,87.42h1.04v1.45h-1.04zM939.09,81.11h1.09v0.72h-1.09zM943.59,90.57h0.73v1.04h-0.73zM922.2,76.62h0.69v0.64h-0.69zM996.99,74.75h0.88v1.25h-0.88zM896.31,60.65h0.92v0.66h-0.92zM935.83,60.01h0.64v0.89h-0.64zM928.97,92.67h0.8v1.13h-0.8zM972.76,76.58h0.6v0.38h-0.6zM904.99,62.57h0.56v0.59h-0.56zM959.62,73.24h0.94v1.08h-0.94zM888.95,66.88h0.58v0.5h-0.58zM932.45,91.52h0.82v0.62h-0.82zM994.62,90.05h0.59v0.86h-0.59zM905.67,72.82h0.72v0.95h-0.72zM888.77,71.57h0.95v0.95h-0.95zM910.51,91.69h0.52v0.46h-0.52zM894.24,70.65h1.12v0.73h-1.12zM938.52,71.31h0.54v0.36h-0.54zM971.09,86.4h1.16v0.97h-1.16zM944.61,56.45h0.74v0.75h-0.74zM942.63,63.87h0.88v0.99h-0.88zM916.74,67.92h0.61v0.87h-0.61zM959.88,65.56h0.58v0.88h-0.58zM940.44,83.38h0.95v1.1h-0.95zM1007.85,81.8h0.66v0.42h-0.66zM947.81,83.12h0.61v0.89h-0.61zM907.02,76.02h1.03v1.31h-1.03zM1006.6,78.05h0.84v1.07h-0.84zM925.63,63.61h0.53v0.63h-0.53zM956.04,89.3h0.51v0.66h-0.51zM908.6,71.18h1.13v0.86h-1.13zM954.06,88.63h1.14v1.53h-1.14zM932.23,89.06h0.86v0.65h-0.86zM958.86,89.51h0.73v0.68h-0.73zM941.23,80.55h0.7v0.44h-0.7zM896.36,67.09h0.86v0.86h-0.86zM945.73,78.03h1.06v1.43h-1.06zM960.17,71.44h0.9v1.21h-0.9zM971.84,62.89h1.12v1.59h-1.12zM935.85,78.05h0.94v1.09h-0.94zM964.61,70.98h0.86v0.78h-0.86zM947.31,81.96h0.73v0.81h-0.73zM930.74,60.44h0.82v0.81h-0.82zM944.16,57.18h0.84v1h-0.84zM958.76,61.58h1.16v0.78h-1.16zM942.57,76.09h0.52v0.34h-0.52zM973.83,76.62h0.5v0.52h-0.5zM932.27,56.77h0.57v0.55h-0.57zM895.84,60.51h1.02v0.99h-1.02zM931.53,90.64h0.71v0.45h-0.71zM956.86,79.54h0.82v1.26h-0.82zM1015.24,74.08h0.58v0.72h-0.58zM1005.73,71.04h1.12v1.71h-1.12zM950.09,79.91h1.01v1.06h-1.01zM988.08,65.9h0.69v0.43h-0.69zM931.96,74.93h0.98v0.8h-0.98zM910.83,82.12h0.53v0.54h-0.53zM919.88,77.31h0.51v0.76h-0.51zM900.42,59.87h1.11v1.46h-1.11zM937.41,69.63h0.69v0.87h-0.69zM965.95,74.63h0.98v1.39h-0.98zM951.15,75.99h0.89v1.3h-0.89zM885.56,70.39h1.05v1.39h-1.05zM940.85,67.72h0.56v0.54h-0.56zM964.28,64.25h0.76v1.14h-0.76zM934.82,63.19h0.72v0.9h-0.72zM897.93,83.59h0.76v1.2h-0.76zM944.59,70.84h0.97v1.45h-0.97zM923.64,66.52h1.17v0.81h-1.17zM941.98,81.04h1.15v1.43h-1.15zM894.16,80h0.98v1.45h-0.98zM901.66,91.73h1.19v0.89h-1.19zM911.54,88.22h1.02v1.48h-1.02zM873.7,67.26h1.05v1.5h-1.05zM888.23,86.63h1.12v1.78h-1.12zM894.92,72.6h0.9v0.77h-0.9zM871.28,70.07h1.02v1.31h-1.02zM953.48,64.26h0.73v1.05h-0.73zM890.24,89.7h0.87v1.23h-0.87zM949.61,85.48h0.79v1.06h-0.79zM987.18,85.13h0.82v1.17h-0.82zM961.55,72.25h0.5v0.7h-0.5zM925.98,75.93h0.6v0.4h-0.6zM969.84,73.77h0.78v1.12h-0.78zM927.71,75.03h1.07v0.67h-1.07zM959.83,76.93h0.63v0.87h-0.63zM969.27,79.36h1.17v1.19h-1.17zM916.56,84.31h0.99v0.89h-0.99zM922.56,80.37h0.8v0.95h-0.8zM887.39,77.97h0.53v0.58h-0.53zM976.79,77.82h0.52v0.68h-0.52zM968.03,68.22h0.88v0.61h-0.88zM921.36,62.79h0.75v1.17h-0.75zM936.11,76.15h0.53v0.57h-0.53zM980.82,69.43h0.88v0.6h-0.88zM932.44,60.43h1.15v1.21h-1.15zM942.2,68.65h1.19v0.75h-1.19zM918.38,91.64h1.1v0.9h-1.1zM939.69,76.48h0.59v0.86h-0.59zM956.71,57.32h0.81v0.89h-0.81zM883.4,79.61h0.77v1.18h-0.77zM937.02,74.07h0.91v1.18h-0.91zM869.9,77.09h0.71v0.54h-0.71zM933.36,84.99h0.58v0.44h-0.58zM955.53,70.54h0.84v0.51h-0.84zM953.18,59.06h1.13v1.56h-1.13zM965.21,77.71h0.74v0.95h-0.74zM958.06,70.17h0.81v1.06h-0.81zM955.74,73.92h0.6v0.8h-0.6zM991.63,71.65h0.81v0.78h-0.81zM940.75,74.8h0.87v1.12h-0.87zM931.62,72.93h0.83v0.73h-0.83zM902.45,72.2h0.55v0.47h-0.55zM978.39,72.96h0.78v1.19h-0.78zM1001.56,65.96h0.58v0.45h-0.58zM889.42,69.62h0.81v1.3h-0.81zM920.95,81.66h0.55v0.76h-0.55zM958.94,85.95h0.89v0.74h-0.89zM953.81,79.95h0.99v0.61h-0.99zM1003.76,82.28h0.58v0.73h-0.58zM939.92,75.67h1.12v0.82h-1.12zM1004.06,67.45h1.06v0.84h-1.06zM896.38,77.94h0.57v0.56h-0.57zM908.42,66.37h1.06v0.79h-1.06zM976.37,84.98h1.1v0.74h-1.1zM865.34,74.38h0.9v0.76h-0.9zM943.85,58.35h0.75v0.62h-0.75zM941.52,78.82h0.8v1.18h-0.8zM943.58,74.46h0.97v1.49h-0.97zM899.86,84.98h1.11v1.49h-1.11zM981.04,86.26h1.05v1.57h-1.05zM903.42,63h0.61v0.73h-0.61zM927.12,92.29h0.8v0.51h-0.8zM955.06,77.49h1.12v0.84h-1.12zM917.87,68.32h0.78v0.83h-0.78zM968.03,58.41h0.71v0.81h-0.71zM926.44,83.81h1.16v1.29h-1.16zM888.93,87.96h0.98v1.27h-0.98zM991.03,69.54h0.96v1.13h-0.96zM928.08,76.76h0.84v0.79h-0.84zM886.16,74.5h0.68v0.59h-0.68zM938.02,84.36h0.86v0.78h-0.86zM1002.84,65.63h0.9v0.85h-0.9zM918.72,92.46h0.86v0.87h-0.86zM938.64,86.97h0.96v1.32h-0.96zM957.54,72.85h1.04v0.93h-1.04zM927.64,66.99h0.88v0.81h-0.88zM958.24,62.98h0.62v0.82h-0.62zM982.96,65.79h0.64v0.9h-0.64zM953.87,70.72h0.95v1.05h-0.95zM943.66,88.08h0.69v0.81h-0.69zM922.62,74.84h0.92v0.79h-0.92zM1008.37,72.44h1.19v0.72h-1.19zM970.21,93.73h1.15v1.21h-1.15zM995.79,75.26h0.69v0.81h-0.69zM945.42,78.41h0.8v1.26h-0.8zM904.03,69.34h0.77v0.55h-0.77zM958.42,84.95h1.06v0.69h-1.06zM960.6,69.37h0.88v0.77h-0.88zM957.98,57.53h0.98v0.79h-0.98zM983.03,67.57h0.51v0.48h-0.51zM919.82,70.31h0.8v0.67h-0.8zM903.6,66.91h0.69v0.79h-0.69zM953.62,71.55h0.89v0.81h-0.89zM954.99,92.94h1.08v0.87h-1.08zM886.15,63.13h0.56v0.76h-0.56zM973.26,74.98h0.84v0.58h-0.84zM957.67,70.31h0.82v0.63h-0.82zM954.88,82.2h0.58v0.48h-0.58zM923.24,88.79h0.92v0.91h-0.92zM945.93,79.94h0.56v0.73h-0.56zM883.32,81.77h0.77v0.93h-0.77zM905.34,84.95h0.69v1.02h-0.69zM876.36,76.95h0.87v0.8h-0.87zM886.83,76.14h1.09v1.31h-1.09zM899.81,87.25h0.92v1.2h-0.92zM894.91,87.82h0.64v0.59h-0.64zM918,80.29h0.7v0.58h-0.7zM905.27,69.1h0.52v0.79h-0.52zM944.63,91.58h0.82v1.14h-0.82zM914,82.16h0.77v0.84h-0.77zM930.59,57.58h0.56v0.48h-0.56zM947.56,85.87h1.2v1.29h-1.2zM976.57,91.66h0.95v1.14h-0.95zM967.97,59.51h1.19v1.14h-1.19zM943.35,72.35h1.14v0.79h-1.14zM939.14,73.73h0.56v0.85h-0.56zM910.76,78.51h1.1v0.97h-1.1zM966.39,72.46h0.72v0.8h-0.72zM944.05,79.8h0.54v0.67h-0.54zM958.49,57.15h1.16v0.9h-1.16zM870.94,70.36h1.13v0.94h-1.13zM951.2,70.09h1v0.67h-1zM996.78,86.39h0.63v0.45h-0.63zM879.73,79.9h1.01v0.76h-1.01zM968.96,72.95h0.51v0.74h-0.51zM947.39,63.58h0.51v0.57h-0.51zM960.36,77.77h0.53v0.4h-0.53zM989.74,89.36h1.08v1.27h-1.08zM937.03,83.41h0.62v0.44h-0.62zM943.01,90.68h1.03v0.69h-1.03zM942.07,76.12h0.82v1.15h-0.82zM924.47,66.67h0.88v0.88h-0.88zM867.39,73h1.16v1.11h-1.16zM893.6,66.28h1.02v1.38h-1.02zM901.2,74.48h0.85v0.94h-0.85zM951.12,69.8h0.92v0.89h-0.92zM925.94,89.46h0.79v0.77h-0.79zM918.04,82.4h0.64v0.39h-0.64zM890.01,81.81h0.6v0.88h-0.6zM958.42,60.24h0.95v0.86h-0.95zM942.52,77.17h0.66v0.68h-0.66zM896.8,77.02h0.83v1.22h-0.83zM901.29,78.52h0.54v0.83h-0.54zM1001.21,64.65h0.71v0.46h-0.71zM903.23,78.29h0.96v0.99h-0.96zM911.58,70.44h0.86v0.93h-0.86zM1007.06,68.75h0.84v0.8h-0.84zM968,93.76h0.62v0.98h-0.62zM979.74,88.55h0.69v0.43h-0.69zM952.03,88.48h0.52v0.52h-0.52zM955.97,64.97h0.94v0.83h-0.94zM989.03,80.01h0.59v0.61h-0.59zM877.99,77.35h0.53v0.72h-0.53zM935.37,62.74h0.55v0.86h-0.55zM978.39,71.91h0.96v1h-0.96zM937.06,68.23h0.6v0.91h-0.6zM975.63,81.7h0.78v0.5h-0.78zM917.75,94.34h0.64v0.74h-0.64zM883.09,84.71h0.61v0.7h-0.61zM940,94.85h0.5v0.33h-0.5zM961.85,69.92h0.84v0.56h-0.84zM866.92,79.95h1.15v1.25h-1.15zM982.04,81.64h1.13v1.37h-1.13zM1011.44,73.75h1.17v1h-1.17zM875.34,69.42h1.07v1h-1.07zM917.01,65.06h0.97v1.39h-0.97zM891.92,67.86h1.06v1.47h-1.06zM944.37,93.37h0.8v0.7h-0.8zM973.63,72.87h1.18v1.88h-1.18zM993.61,80.44h1.06v0.91h-1.06zM965.55,64.21h1.09v0.89h-1.09zM986.25,72.87h0.61v0.42h-0.61zM905.34,73.47h1.02v1.04h-1.02zM935.81,79.06h0.61v0.66h-0.61zM952.89,74.75h0.72v1.07h-0.72z" fill="#ffffff" opacity="0.85"/>
<path d="M880.23,82.87h0.61v0.65h-0.61zM1015.56,79.7h0.58v0.49h-0.58zM976.79,67.67h1.17v1.39h-1.17zM884.75,86.05h0.7v0.85h-0.7zM953.36,80.8h0.73v0.71h-0.73zM954.13,77.78h1.06v0.64h-1.06zM896.37,72.99h0.56v0.89h-0.56zM962.92,62.26h1.19v0.72h-1.19zM950.75,80.44h1.19v1.15h-1.19zM915.52,59.95h0.75v0.88h-0.75zM1012.11,80.69h0.73v0.47h-0.73zM875.27,66.18h0.93v1.32h-0.93zM950.38,81.46h0.77v1.23h-0.77zM984.61,84.73h0.93v1.05h-0.93zM958.28,68.83h0.55v0.66h-0.55zM938.78,90.71h0.99v0.69h-0.99zM895.23,66.49h0.52v0.76h-0.52zM911.6,62.71h1.07v1.02h-1.07zM909.34,75.58h0.99v1h-0.99zM952.29,69.25h1.19v1.08h-1.19zM929.05,82.59h0.6v0.46h-0.6zM989.58,82.65h0.58v0.41h-0.58zM922.82,77.72h0.55v0.76h-0.55zM922.07,63.43h1v1.04h-1zM983.52,86.29h1.16v1.34h-1.16zM878.85,66.04h0.65v0.69h-0.65zM963.19,77.2h0.63v0.42h-0.63zM1010.81,79.55h0.68v0.53h-0.68zM884.17,76.27h0.78v1.02h-0.78zM933.9,80.41h0.73v1.14h-0.73zM911.7,80.22h1.14v1.33h-1.14zM941.59,75.43h1.05v1.63h-1.05zM901.69,82.15h1.19v0.89h-1.19zM963.83,71.15h0.92v1.44h-0.92zM994.17,67.3h0.79v1.09h-0.79zM900.74,64.46h1.06v1.03h-1.06zM989.22,76.26h1.08v1.19h-1.08zM951.11,85.03h0.96v1.28h-0.96zM892.33,75.65h1.12v1.79h-1.12zM900.29,66.84h0.8v1.25h-0.8zM956.34,65.1h1v1.15h-1zM880.15,72.08h0.53v0.5h-0.53zM895.38,83.98h1.05v1.13h-1.05zM995.81,62.89h1.14v1.38h-1.14zM946.52,84.9h0.91v0.96h-0.91zM924.41,90.14h0.53v0.44h-0.53zM967.04,71.72h0.69v0.78h-0.69zM1015.3,80.92h0.81v0.81h-0.81zM873.85,84.32h1.06v0.93h-1.06zM962.5,64.01h0.79v0.87h-0.79zM1005.86,71.05h0.95v0.86h-0.95zM934.5,74.58h1.19v0.97h-1.19zM925.13,68.96h0.58v0.49h-0.58zM994.28,75.15h0.73v0.84h-0.73zM960.78,90.65h0.56v0.69h-0.56zM947.25,75.61h0.59v0.8h-0.59zM939.38,90.94h0.97v0.99h-0.97zM963.67,72.39h0.61v0.43h-0.61zM973.59,72.39h0.88v1.01h-0.88zM1012.39,84.3h1.11v1.61h-1.11zM971.05,76.2h1.05v1.46h-1.05zM1013.86,69.37h0.58v0.61h-0.58zM989.15,87.52h1.05v1.11h-1.05zM984.71,86.52h0.69v0.47h-0.69zM951.51,66.68h0.77v0.61h-0.77zM1000.98,70.63h1.14v1.39h-1.14zM1005.93,72.88h1.19v0.91h-1.19zM915.31,86.67h0.98v0.78h-0.98zM1006.48,75.13h0.75v0.7h-0.75zM893.11,86.6h0.57v0.64h-0.57zM952.36,69.79h0.63v0.78h-0.63zM951.72,59.91h0.55v0.87h-0.55zM950.83,90.8h1.14v1.25h-1.14zM947.62,65.84h0.95v0.76h-0.95zM985.63,79.04h0.5v0.48h-0.5zM1016.51,74.57h0.95v0.97h-0.95zM982.26,59.36h1.1v0.76h-1.1zM972.28,64.46h0.89v0.64h-0.89zM973.7,85.25h1.2v1.59h-1.2zM912.09,88.17h0.52v0.75h-0.52zM928.25,84.13h1.08v0.96h-1.08zM948.83,74.01h0.71v1.11h-0.71zM962.1,81.93h0.77v0.58h-0.77zM919.92,85.13h0.55v0.62h-0.55zM972.87,80.04h0.71v0.44h-0.71zM977.85,74.97h1v1.47h-1zM992.1,70.19h1.1v1.06h-1.1zM967.77,80.48h0.73v1.09h-0.73zM953.2,82.21h1.06v0.88h-1.06zM930.91,93.53h0.89v1.01h-0.89zM985.09,62.68h0.88v1.04h-0.88zM930.19,68.09h0.89v0.8h-0.89zM992.95,66.03h0.53v0.8h-0.53zM891.36,83.22h0.69v0.45h-0.69zM1010.66,84.12h0.91v0.64h-0.91zM896.93,77.75h0.75v0.86h-0.75zM937.54,89.83h0.89v1.24h-0.89zM961.88,78.88h0.95v1.12h-0.95zM980.18,65.28h0.51v0.42h-0.51zM936.53,70.48h1.17v1.71h-1.17zM865.08,74.84h0.5v0.57h-0.5zM932.68,92.89h1.04v0.82h-1.04zM932.05,75.23h0.65v0.82h-0.65zM960.01,88.01h0.74v0.74h-0.74zM880.88,65.93h0.7v0.6h-0.7zM953.61,72.39h0.79v0.99h-0.79zM865.6,76.34h0.78v0.62h-0.78zM942.03,80.8h0.63v0.78h-0.63zM985.38,86.4h0.59v0.38h-0.59zM1005.84,75.86h1.01v1.3h-1.01zM960.4,81.16h1.17v1.38h-1.17zM906.63,63.12h1.08v0.66h-1.08zM962.59,80.17h0.6v0.8h-0.6zM958.05,58.38h0.73v0.74h-0.73zM910.31,63.18h0.81v0.65h-0.81zM925.27,71.07h0.75v1.1h-0.75zM979.1,64.39h0.84v1.31h-0.84zM914.91,78.97h0.8v0.61h-0.8zM955.83,58.78h1.02v1.15h-1.02zM947.14,80.15h0.7v0.62h-0.7zM971.09,90.97h0.83v1.13h-0.83zM983.55,80.64h0.71v0.59h-0.71zM963.74,93.25h1.09v1.7h-1.09zM936.63,87.93h0.81v0.59h-0.81zM953.49,61.61h0.77v1.22h-0.77zM888.18,71.36h0.6v0.52h-0.6zM921.75,81.62h0.57v0.83h-0.57zM908.18,75.14h0.78v0.52h-0.78zM958.12,74.94h1.13v0.96h-1.13zM945.09,95.44h1.15v1.68h-1.15zM876.47,67.52h1.15v1.41h-1.15zM943.81,76h1.17v1.09h-1.17zM923.28,63.76h0.9v0.54h-0.9zM948.11,80.01h0.71v0.97h-0.71zM941.88,93.23h0.91v1.12h-0.91zM905.77,59.02h0.9v0.86h-0.9zM901.49,85.9h1.12v1.04h-1.12zM966.14,68.47h1.03v1.17h-1.03zM899.15,76.53h0.89v1.15h-0.89zM999.94,87.23h0.66v0.97h-0.66zM954.09,86.38h1.2v0.81h-1.2zM910.14,58.21h0.81v0.6h-0.81zM940.35,69.17h0.57v0.49h-0.57zM978.71,70.79h1.19v1.48h-1.19zM997.84,64.25h0.57v0.86h-0.57zM931.04,73.59h0.68v0.81h-0.68zM940.69,56.93h0.67v0.72h-0.67zM938.6,81.68h1.03v1.37h-1.03zM984.69,70.63h1.19v1.67h-1.19zM954.21,73.46h0.85v0.71h-0.85zM942.27,76.04h0.99v1.52h-0.99zM943.45,62.79h0.62v0.82h-0.62zM994.72,74.41h0.97v0.77h-0.97zM954.77,69.54h0.53v0.41h-0.53zM954.07,70.36h0.71v0.47h-0.71zM889.43,80.51h0.52v0.69h-0.52zM936.1,66.27h1.03v1.4h-1.03zM964.37,66.48h0.98v1.41h-0.98zM963.72,84.56h0.62v0.39h-0.62zM973.75,91.86h0.79v0.54h-0.79zM949.24,78.73h0.79v0.82h-0.79zM935.47,70.64h1v1.31h-1zM979.69,67.49h1.13v1.35h-1.13zM994.48,72.79h0.73v0.77h-0.73zM968.11,63.82h0.96v0.78h-0.96zM920.77,77.89h1.09v1.13h-1.09zM920.32,88.95h1.15v1.61h-1.15zM955.16,70.56h0.71v0.97h-0.71zM928.16,76.87h0.91v1.27h-0.91zM949.42,77.9h1.02v1.15h-1.02zM974.79,65.63h0.78v0.97h-0.78zM926.55,59.17h0.54v0.42h-0.54zM989.74,64.02h0.67v0.43h-0.67zM974.41,65.9h0.55v0.63h-0.55zM985.37,82.44h0.57v0.49h-0.57zM877.22,70.75h0.53v0.58h-0.53zM952.69,71.76h1.05v1.37h-1.05zM959.69,78.84h0.81v0.83h-0.81zM933.49,73.5h1.03v1.09h-1.03zM909.92,57.97h0.74v0.47h-0.74zM948.63,76.17h0.97v0.6h-0.97zM944.84,74.44h0.73v0.99h-0.73zM961.48,63.2h0.56v0.44h-0.56zM957.08,74.9h1.05v1.19h-1.05zM896.74,88.27h1.02v1.23h-1.02zM927.51,56.58h0.72v0.91h-0.72zM955.75,64.15h0.7v0.63h-0.7zM969.92,87.07h0.6v0.77h-0.6zM910.83,73.97h0.87v1.18h-0.87zM982.22,90.22h0.7v0.86h-0.7zM980.56,78.72h0.53v0.55h-0.53zM996.13,78.34h0.5v0.43h-0.5zM943.39,85.55h0.74v0.71h-0.74zM892.61,74.77h0.78v0.91h-0.78zM944.21,81.31h0.69v0.57h-0.69zM916.97,89.53h0.76v1.08h-0.76zM950.98,66.22h0.53v0.7h-0.53zM935.31,74.24h0.65v0.65h-0.65zM974.43,65.59h0.93v1.29h-0.93zM998.15,77.58h0.95v1.45h-0.95zM963.66,73.25h0.55v0.47h-0.55zM959.53,77.39h0.77v1.11h-0.77zM979.1,85.38h0.87v0.53h-0.87zM921.05,70.54h1.1v0.86h-1.1zM987.79,72.14h1.15v1.28h-1.15zM895.82,87.53h0.87v0.58h-0.87zM940.01,81.44h0.55v0.71h-0.55zM918.04,70.26h0.62v0.73h-0.62zM912.04,62.01h0.79v0.6h-0.79zM944.32,86.93h1v0.97h-1zM934.64,63.41h0.65v0.59h-0.65zM944.77,72.63h1.11v1.58h-1.11zM922.46,95.13h0.77v0.74h-0.77zM942.49,59.58h1.11v0.71h-1.11zM919.55,80.12h0.97v0.91h-0.97zM928.88,68.3h1.17v1.77h-1.17zM956.07,76.57h0.76v0.77h-0.76zM936.26,84.32h0.9v1.28h-0.9zM868.94,75.43h1.04v1.38h-1.04zM907.35,85.81h0.85v0.66h-0.85zM978.17,75.02h1.18v1.26h-1.18zM947.82,73.58h0.98v0.63h-0.98zM938.29,73.55h1.1v0.92h-1.1zM964.93,72.7h1.04v0.99h-1.04zM956.67,69.23h0.72v0.94h-0.72zM920.92,80.33h0.6v0.42h-0.6zM987.57,83.88h0.87v1.15h-0.87zM954.23,63.34h0.92v0.74h-0.92zM895.31,68.03h0.64v0.52h-0.64zM913.13,81.15h0.66v0.98h-0.66zM980.43,63.44h1.17v1.78h-1.17zM905.49,68.04h1.03v0.96h-1.03zM907.5,83.51h0.85v0.86h-0.85zM875.76,70.2h1.12v0.69h-1.12zM969.41,92.02h1.2v0.75h-1.2zM993.66,86.48h0.58v0.42h-0.58zM881.9,65.19h0.67v0.66h-0.67zM882.36,78.76h0.68v0.61h-0.68zM959.87,75.45h1.01v1.02h-1.01zM998.25,76.33h0.65v0.63h-0.65zM947.36,71.32h0.54v0.49h-0.54zM958.62,78.04h0.87v1.19h-0.87zM930.76,88.68h0.66v0.66h-0.66zM874.14,78.56h0.91v1.24h-0.91zM923.49,79.24h1.01v1.55h-1.01zM904.42,68.35h0.55v0.58h-0.55zM920.76,85.39h0.56v0.87h-0.56zM918.82,59.14h0.71v0.79h-0.71zM889.27,85.02h1.08v1.33h-1.08zM948.76,66.84h0.84v0.84h-0.84zM881.58,82.75h0.53v0.69h-0.53zM956.19,79.23h1.05v0.65h-1.05zM966.17,77.7h1.19v1.34h-1.19zM954.08,85.96h1.12v0.77h-1.12zM946.7,74.89h0.61v0.64h-0.61zM915.21,90.76h0.57v0.44h-0.57zM956.55,94.23h0.75v1.06h-0.75zM918.62,75.7h0.9v0.98h-0.9zM966.98,67.06h0.89v1.34h-0.89zM886.55,62.41h1.08v0.96h-1.08zM959.16,75.03h0.71v0.82h-0.71zM963.35,57h1.05v0.99h-1.05zM947.93,94.03h1.14v1.52h-1.14zM901.44,74.14h0.65v0.81h-0.65zM928.75,72.99h0.57v0.55h-0.57zM940.68,74.93h1.08v1.19h-1.08zM995.65,75.46h0.55v0.49h-0.55zM875.88,67.48h1v1.05h-1zM940.16,93.26h0.78v0.94h-0.78zM875.23,67.58h0.79v0.97h-0.79zM967.61,59.11h0.96v1.37h-0.96zM901.91,63.22h1.02v1.3h-1.02zM947.23,58.18h0.56v0.63h-0.56zM982.62,89.38h0.91v1.12h-0.91zM923.87,73.86h0.9v0.8h-0.9zM952.39,57.83h0.9v1.25h-0.9zM989.29,60.9h1.12v0.8h-1.12zM978.05,61.47h0.66v0.91h-0.66zM949.47,65.12h0.89v1.4h-0.89zM995.05,80.89h0.52v0.6h-0.52zM974.46,88.16h0.82v0.83h-0.82zM986.81,66.82h0.62v0.51h-0.62zM870.42,68.52h0.66v0.8h-0.66zM915.57,89.37h1.14v1.42h-1.14zM982.04,68.51h0.96v1.11h-0.96zM1009.78,77.96h0.7v0.42h-0.7zM919.06,84.88h0.96v1.53h-0.96zM985.18,68.31h0.8v0.51h-0.8zM964.5,60.16h0.78v1.07h-0.78zM922.82,74.61h0.96v0.67h-0.96zM892.21,71.81h0.74v0.91h-0.74zM966.08,72.88h0.89v1.26h-0.89zM998.23,86.22h1.12v1.53h-1.12zM954.57,67.73h0.74v1.12h-0.74zM992.78,88.22h1.04v1.04h-1.04zM974.26,87.15h1.04v1.51h-1.04zM932.44,94.44h1.1v1.57h-1.1zM975.17,90.11h0.5v0.63h-0.5zM888.01,74.83h1.14v1.12h-1.14zM959.72,76.01h1.19v1.17h-1.19zM946.36,79.34h0.64v0.77h-0.64zM972.73,60.43h0.52v0.8h-0.52zM935.03,77.93h0.95v0.65h-0.95zM933.8,73.71h1.02v0.67h-1.02zM922.94,79.31h0.94v0.75h-0.94zM904.03,70.44h0.79v0.59h-0.79zM938.98,69.16h0.7v0.43h-0.7zM898.3,76.39h0.7v0.53h-0.7zM932.47,64.92h0.6v0.6h-0.6zM980.85,64.57h0.92v0.87h-0.92zM928.57,74.76h1.11v1.47h-1.11zM976.26,59.26h1.15v1.81h-1.15zM874.29,68.44h0.55v0.75h-0.55zM1016.12,78.77h0.97v0.84h-0.97zM967.08,74.85h0.82v0.56h-0.82zM992.26,90.14h0.75v1.15h-0.75zM963.89,94.03h0.78v0.83h-0.78zM983.27,70.88h0.64v1.03h-0.64zM992.07,67.69h0.56v0.42h-0.56zM922.76,80.78h0.8v1.13h-0.8zM977.04,74.9h0.83v0.95h-0.83zM981.27,74.56h0.63v0.66h-0.63zM981.96,67.8h0.71v0.85h-0.71zM939,70.36h0.91v0.59h-0.91zM964.13,69.65h0.53v0.75h-0.53zM912.98,79.53h0.54v0.56h-0.54zM913.98,60.04h0.78v0.88h-0.78zM1007.73,67.86h1.02v1.12h-1.02zM869.33,74.47h0.55v0.79h-0.55zM896.65,62.05h1.13v1.34h-1.13zM949.76,72.46h0.64v0.71h-0.64zM964.78,75.09h0.88v1.18h-0.88zM879.82,76.93h0.92v0.77h-0.92zM881.36,83.89h1.11v1.27h-1.11zM992.02,63.58h0.62v0.8h-0.62zM939.64,77.58h0.66v0.89h-0.66zM947.75,75.69h1.05v1.25h-1.05zM934.08,65.2h0.98v1.56h-0.98zM884.17,80.53h0.78v1.2h-0.78zM946.03,86.63h1.05v0.78h-1.05zM952.52,66.52h0.5v0.57h-0.5zM1001.97,85h0.63v0.77h-0.63zM932.24,80.93h1.19v1.53h-1.19zM940.17,75.16h0.73v1.17h-0.73zM997.7,70.13h0.78v0.59h-0.78zM994.2,82.6h1.16v0.78h-1.16zM910.13,72.12h0.78v0.82h-0.78zM935.64,74.89h0.91v1.25h-0.91zM937.36,87.05h0.93v0.82h-0.93zM938.21,75.73h0.61v0.91h-0.61z" fill="#4a4a4a" opacity="0.8"/>
<path d="M1056.05,143.34C1058.97,148.95 1056.57,157.36 1056.05,164.97C1055.53,172.58 1054.85,177.79 1052.92,189C1051,200.22 1048.12,218.64 1044.51,232.26C1040.91,245.88 1037.5,258.3 1031.29,270.71C1025.09,283.13 1010.47,305.96 1007.26,306.76C1004.06,307.56 1008.06,287.14 1012.07,275.52C1016.07,263.9 1026.49,250.29 1031.29,237.07C1036.1,223.85 1038.9,209.03 1040.91,196.21C1042.91,183.4 1043.71,170.98 1043.31,160.16C1042.91,149.35 1036.38,134.13 1038.5,131.32C1040.63,128.52 1053.12,137.73 1056.05,143.34Z" fill="#6a6a6a" opacity="0.3" filter="url(#bl6)"/>
<path d="M822.21,174.58C820.81,181.39 822.61,185.4 825.81,196.21C829.02,207.03 833.63,224.25 841.44,239.47C849.25,254.69 863.47,273.92 872.68,287.54C881.89,301.16 891.9,319.18 896.71,321.18C901.52,323.19 905.12,309.17 901.52,299.55C897.91,289.94 883.89,276.32 875.08,263.5C866.27,250.69 855.05,235.87 848.65,222.65C842.24,209.43 839.03,195.41 836.63,184.2C834.23,172.98 836.63,156.96 834.23,155.36C831.82,153.75 823.61,167.77 822.21,174.58Z" fill="#808080" opacity="0.25" filter="url(#bl6)"/>
<path d="M896.71,304.36C899.92,302.36 911.93,314.37 923.15,316.38C934.36,318.38 950.78,319.18 964,316.38C977.22,313.57 996.45,297.55 1002.45,299.55C1008.46,301.56 1003.66,321.18 1000.05,328.39C996.45,335.6 994.84,340.41 980.83,342.81C966.81,345.22 928.75,345.22 915.94,342.81C903.12,340.41 907.13,334.8 903.92,328.39C900.72,321.98 893.51,306.36 896.71,304.36Z" fill="#8a8a8a" opacity="0.15" filter="url(#bl6)"/>
<path d="M823.91,168.76C821.04,173.76 826.41,198.8 830.34,211.67C834.28,224.55 841.07,235.28 847.51,246.01C853.95,256.74 861.82,267.47 868.97,276.05C876.12,284.64 883.28,289.64 890.43,297.51C897.58,305.38 905.45,320.4 911.89,323.26C918.33,326.12 930.49,321.12 929.06,314.68C927.63,308.24 911.17,294.65 903.3,284.64C895.44,274.62 889,265.32 881.85,254.59C874.69,243.86 866.11,232.42 860.39,220.26C854.66,208.1 853.59,190.21 847.51,181.63C841.43,173.05 826.77,163.75 823.91,168.76Z" fill="#707070" opacity="0.55" filter="url(#bl3)"/>
<path d="M1055.67,168.76C1057.45,173.76 1051.73,199.51 1049.23,211.67C1046.72,223.83 1044.94,230.99 1040.64,241.72C1036.35,252.45 1029.91,265.32 1023.48,276.05C1017.04,286.78 1008.45,298.23 1002.02,306.09C995.58,313.96 989.86,321.83 984.85,323.26C979.84,324.69 970.54,321.12 971.97,314.68C973.4,308.24 986.28,294.65 993.43,284.64C1000.59,274.62 1008.45,265.32 1014.89,254.59C1021.33,243.86 1028.13,232.42 1032.06,220.26C1035.99,208.1 1034.56,190.21 1038.5,181.63C1042.43,173.05 1053.88,163.75 1055.67,168.76Z" fill="#707070" opacity="0.55" filter="url(#bl3)"/>
<path d="M899.01,297.51C901.87,293.93 916.18,305.38 924.76,306.09C933.35,306.81 941.93,301.8 950.52,301.8C959.1,301.8 968.4,306.81 976.27,306.09C984.13,305.38 995.58,293.22 997.73,297.51C999.87,301.8 992.72,325.41 989.14,331.85C985.57,338.28 988.43,335.42 976.27,336.14C964.11,336.85 927.63,337.57 916.18,336.14C904.74,334.71 910.46,333.99 907.6,327.55C904.74,321.12 896.15,301.09 899.01,297.51Z" fill="#909090" opacity="0.5" filter="url(#bl3)"/>
<path d="M916.18,336.14C917.25,340.43 919.76,354.02 922.62,361.89C925.48,369.76 929.41,377.98 933.35,383.35C937.28,388.71 944.08,392.29 946.22,394.08" fill="none" stroke="#808080" stroke-width="5" opacity="0.5" filter="url(#bl3)"/>
<path d="M982.7,336.14C981.99,340.43 980.92,354.02 978.41,361.89C975.91,369.76 971.62,377.98 967.68,383.35C963.75,388.71 956.95,392.29 954.81,394.08" fill="none" stroke="#808080" stroke-width="5" opacity="0.5" filter="url(#bl3)"/>
<path d="M920.74,340.41C924.75,333.2 937.57,333.2 947.18,333.2C956.79,333.2 974.02,333.2 978.42,340.41C982.83,347.62 979.22,367.25 973.62,376.46C968.01,385.67 953.19,395.68 944.78,395.68C936.37,395.68 927.15,385.67 923.15,376.46C919.14,367.25 916.74,347.62 920.74,340.41Z" fill="#ffffff" opacity="0.85" filter="url(#bl3)"/>
<path d="M923.15,325.99C926.35,325.19 935.56,321.78 942.37,321.18C949.18,320.58 957.99,321.18 964,322.38C970.01,323.59 976.02,327.39 978.42,328.39" fill="none" stroke="#8a8a8a" stroke-width="1.4"/>
<path d="M945.98,325.99C946.38,329.99 948.78,342.41 948.38,350.02C947.98,357.63 944.78,364.44 943.57,371.65C942.37,378.86 941.57,389.68 941.17,393.28" fill="none" stroke="#999" stroke-width="1"/>
<path d="M967.61,328.39C968.21,332.4 971.01,344.81 971.21,352.42C971.41,360.04 969.21,370.45 968.81,374.05" fill="none" stroke="#999" stroke-width="1"/>
<path d="M884.69,282.73C886.3,284.33 891.9,289.14 894.31,292.34C896.71,295.55 898.91,299.55 899.11,301.96C899.31,304.36 896.11,305.96 895.51,306.76" fill="none" stroke="#ffffff" stroke-width="2.4"/>
<path d="M1004.86,277.92C1003.66,279.53 999.25,283.93 997.65,287.54C996.05,291.14 994.84,296.35 995.25,299.55C995.65,302.76 999.25,305.56 1000.05,306.76" fill="none" stroke="#ffffff" stroke-width="2.4"/>
<path d="M870.28,251.49C870.07,248.28 866.67,238.67 869.07,232.26C871.48,225.85 877.69,219.04 884.69,213.04C891.7,207.03 905.12,199.82 911.13,196.21C917.14,192.61 919.14,192.21 920.74,191.41" fill="none" stroke="#bdbdbd" stroke-width="1"/>
<path d="M980.83,196.21C983.63,199.02 992.44,207.43 997.65,213.04C1002.86,218.64 1009.26,224.25 1012.07,229.86C1014.87,235.47 1014.07,243.88 1014.47,246.68" fill="none" stroke="#bdbdbd" stroke-width="1"/>
<path d="M940.45,116.42C941.89,114.94 947.18,115.14 948.62,116.42C950.06,117.71 948.74,121.71 949.1,124.11C949.46,126.52 951.51,129.32 950.78,130.84C950.06,132.37 947.06,133.09 944.78,133.25C942.49,133.41 937.89,133.13 937.09,131.8C936.28,130.48 939.41,127.88 939.97,125.32C940.53,122.75 939.01,117.91 940.45,116.42Z" fill="#000"/>
<path d="M965.2,174.58C966.73,173.22 971.01,172.02 972.41,173.62C973.82,175.22 973.74,180.83 973.62,184.2C973.5,187.56 972.29,190.93 971.69,193.81C971.09,196.69 971.29,200.38 970.01,201.5C968.73,202.62 964.68,202.62 964,200.54C963.32,198.46 966.05,192.13 965.93,189C965.81,185.88 963.4,184.2 963.28,181.79C963.16,179.39 963.68,175.94 965.2,174.58Z" fill="#000"/>
<ellipse cx="911.85" cy="93.35" rx="4.81" ry="2.4" fill="#000" transform="rotate(-50 911.85 93.35)"/>
<ellipse cx="924.35" cy="98.88" rx="4.81" ry="1.68" fill="#000" transform="rotate(-30 924.35 98.88)"/>
<ellipse cx="933.24" cy="102.97" rx="5.29" ry="2.16" fill="#000" transform="rotate(-10 933.24 102.97)"/>
<ellipse cx="954.39" cy="102" rx="6.25" ry="2.4" fill="#000" transform="rotate(0 954.39 102)"/>
<ellipse cx="966.41" cy="97.68" rx="3.85" ry="1.44" fill="#000" transform="rotate(40 966.41 97.68)"/>
<ellipse cx="977.94" cy="91.67" rx="2.88" ry="1.2" fill="#000" transform="rotate(50 977.94 91.67)"/>
<ellipse cx="1013.27" cy="96.96" rx="5.29" ry="1.68" fill="#000" transform="rotate(15 1013.27 96.96)"/>
<ellipse cx="871.72" cy="98.64" rx="3.36" ry="1.44" fill="#000" transform="rotate(-15 871.72 98.64)"/>
<ellipse cx="851.05" cy="101.28" rx="2.16" ry="0.96" fill="#000" transform="rotate(-20 851.05 101.28)"/>
<ellipse cx="944.06" cy="110.18" rx="4.81" ry="1.44" fill="#000" transform="rotate(0 944.06 110.18)"/>
<ellipse cx="917.14" cy="108.49" rx="1.68" ry="1.68" fill="#000" transform="rotate(0 917.14 108.49)"/>
<path d="M920.63,182.76h0.73v0.88h-0.73zM918.73,178.93h1.19v1.87h-1.19zM916.86,180.26h1.16v1.03h-1.16zM921.26,185.28h1v1.34h-1zM916.54,182.02h1.28v1.13h-1.28zM916.87,183.15h1.11v1.57h-1.11zM921.38,180.46h1.1v1.05h-1.1zM920.46,186.03h1.06v1.05h-1.06zM920.03,185.8h1.29v0.81h-1.29zM918,181.06h1.4v2.19h-1.4zM921.39,183.54h1.58v1.73h-1.58zM917.31,181.81h0.83v1.02h-0.83zM920.93,180.86h1.35v1.02h-1.35zM919.86,180.52h1.22v1.33h-1.22zM919.06,178.46h1.18v1.51h-1.18zM921.63,182.29h1.31v1.83h-1.31zM917.22,184.84h1.49v1.89h-1.49zM921,179.54h1.05v1.4h-1.05zM918.07,184.54h0.73v0.94h-0.73zM920.66,185.91h0.86v1.16h-0.86zM919.9,180.84h0.86v0.97h-0.86zM917.29,182.85h0.83v1.18h-0.83zM918.24,181.38h0.92v1.43h-0.92zM917.91,178.94h1.46v2.03h-1.46z" fill="#000" opacity="1"/>
<path d="M887.56,203.95h1.35v1.55h-1.35zM890.24,203.69h0.68v0.69h-0.68zM886.02,207.16h1.33v1.05h-1.33zM886.78,202.48h1.35v1.05h-1.35zM889.78,204.34h1.37v1.06h-1.37zM888.68,204.52h1.16v1.09h-1.16zM882.19,203.42h0.68v1h-0.68zM887.73,204.63h1.17v1.13h-1.17zM891.46,205.22h1.02v1.58h-1.02zM890.8,204.24h0.61v0.56h-0.61zM881.05,205.04h1.26v1.04h-1.26zM888.11,206.9h0.7v0.89h-0.7zM881.63,204.71h1.34v0.96h-1.34zM882.19,205.08h0.64v0.71h-0.64zM885.03,202.89h0.82v0.52h-0.82zM887.62,204.01h0.85v0.78h-0.85zM883.31,205.26h0.86v0.61h-0.86zM885.92,203.39h1.31v1.86h-1.31zM880.22,205.27h1.02v0.85h-1.02zM880.78,206.06h0.64v0.99h-0.64zM885.76,207.52h1.16v1.44h-1.16zM891.61,206.7h1.23v0.78h-1.23zM883.92,206.24h1.09v1.69h-1.09zM889.87,206.31h0.98v0.65h-0.98zM886.19,204.14h0.98v0.86h-0.98zM890.64,206.8h1.02v1.49h-1.02zM885.24,205.55h0.71v0.66h-0.71zM888.57,202.45h0.94v0.62h-0.94zM883.74,207.1h1.01v1.4h-1.01zM882.62,205.39h0.84v0.64h-0.84z" fill="#000" opacity="1"/>
<path d="M941.72,153.49h0.74v0.99h-0.74zM942.48,138.73h0.74v0.88h-0.74zM948.21,148.24h0.72v0.95h-0.72zM942.93,148.07h0.59v0.92h-0.59zM948.19,139.93h1.07v1.1h-1.07zM943.44,158.33h1.1v1.62h-1.1zM948.18,158.65h0.76v0.63h-0.76zM942.97,145.77h1.17v0.86h-1.17zM947.34,136.99h1.08v1.51h-1.08zM944.58,150.12h0.5v0.47h-0.5zM945.66,154.69h0.94v1.09h-0.94zM944.47,157.51h0.71v1.03h-0.71zM941.53,150.97h0.91v1.45h-0.91zM940.98,153.86h1.1v1.74h-1.1zM944.55,167.01h0.95v0.98h-0.95zM947.54,147.22h0.6v0.37h-0.6zM941.96,164.66h1.02v0.78h-1.02zM942.92,159.09h1.17v1.32h-1.17zM944.55,146.07h0.88v1.25h-0.88zM943.93,145.15h0.54v0.44h-0.54zM946.81,170.3h0.5v0.46h-0.5zM946.17,159.9h0.51v0.35h-0.51zM944.12,162.75h0.61v0.81h-0.61zM943.7,153.38h0.62v0.66h-0.62zM943.16,152.42h0.82v1.14h-0.82zM946.47,144.15h0.72v0.98h-0.72zM941.7,166.63h0.84v0.82h-0.84zM947.18,134.74h0.73v0.89h-0.73zM939.88,151.52h0.97v1.02h-0.97zM946.73,143.21h1.01v1h-1.01zM942.61,150.64h0.81v0.58h-0.81zM943.34,153.66h0.98v0.78h-0.98zM944.98,133.47h1.15v1.44h-1.15zM948.8,147.91h1.15v1.06h-1.15zM945.65,167.98h0.9v1.09h-0.9zM943.8,130.1h1.17v1.56h-1.17zM945.19,135.21h0.91v1.13h-0.91zM944.34,169.36h0.67v0.51h-0.67zM941.83,136.92h0.67v0.79h-0.67zM945.35,147.91h0.89v0.81h-0.89zM941.42,160.43h0.95v1.27h-0.95zM945.33,147.15h1.07v0.95h-1.07zM947.21,146.92h0.68v0.58h-0.68zM945.61,133.55h0.93v1.23h-0.93zM945.26,165.84h1.08v1.57h-1.08zM942.62,155.85h0.62v0.42h-0.62zM945.82,156.16h1.13v1.21h-1.13zM941.03,150.36h0.58v0.63h-0.58zM945.87,145.97h0.91v1.05h-0.91zM945.65,148.22h0.6v0.85h-0.6zM944.07,148.02h1.06v1.05h-1.06zM945.19,131.13h0.88v0.68h-0.88zM945.52,146.35h0.89v1.07h-0.89zM948.32,144.47h0.86v0.95h-0.86zM941.88,147.93h0.65v0.87h-0.65zM943.36,140.94h0.86v0.67h-0.86zM942.36,143.05h0.54v0.78h-0.54zM944.07,128h1.04v0.83h-1.04zM943.68,163.6h1.15v1.43h-1.15zM945.83,132.37h0.9v0.64h-0.9zM948.09,161.88h0.61v0.5h-0.61zM943.42,129.98h1.11v0.69h-1.11zM946.07,166.67h1.05v1.39h-1.05zM942.01,146.75h0.52v0.47h-0.52zM940.38,155.52h1.01v0.8h-1.01zM942.84,147.77h0.5v0.51h-0.5zM942.41,154.52h0.92v0.63h-0.92zM945.32,151.64h0.53v0.4h-0.53zM945.02,159.73h0.58v0.75h-0.58zM943.16,139.13h0.83v1.04h-0.83zM947.38,158.76h1.02v0.7h-1.02zM946.06,161.56h0.59v0.46h-0.59zM946.94,166.66h0.81v1.07h-0.81zM941.56,132.82h1.03v1.58h-1.03zM945.21,169.95h1.01v0.64h-1.01zM941.56,146.9h0.74v0.84h-0.74zM942.52,140.77h1.11v1.57h-1.11zM944.23,147.91h1.04v0.91h-1.04zM945.73,159.07h1.05v1.35h-1.05zM943.16,148.47h0.74v0.45h-0.74zM941.54,131.71h0.61v0.54h-0.61zM947.11,168.97h0.91v1.19h-0.91zM940.78,171.1h1.01v1.45h-1.01zM947.77,161.13h0.96v1.35h-0.96zM944.89,171.32h0.92v0.67h-0.92zM943.01,138.56h0.51v0.36h-0.51zM945.16,151.86h0.69v0.71h-0.69zM942.61,161.8h0.76v0.69h-0.76zM945.55,149.08h0.52v0.8h-0.52zM947.26,139.39h0.52v0.82h-0.52zM946.53,147.14h0.75v0.57h-0.75zM944.42,168.12h0.54v0.65h-0.54zM947.73,160.43h1.17v1.21h-1.17zM944.28,151.62h0.66v0.48h-0.66zM943.33,171.09h1.13v1.07h-1.13zM943.74,175.47h1.08v1.39h-1.08zM942.96,146.17h1v0.88h-1zM944.06,158.78h0.93v1.4h-0.93zM941.52,161.52h1.14v1.41h-1.14zM940.92,169.93h0.72v0.48h-0.72zM940.49,159.64h1.2v1.17h-1.2zM942.75,156.26h0.67v0.73h-0.67zM947.52,166.63h0.68v0.7h-0.68zM946.6,163.55h1.04v1.45h-1.04zM943.54,152.73h0.52v0.78h-0.52zM944.93,137.01h0.57v0.57h-0.57zM944.13,148.34h0.61v0.68h-0.61zM941.03,148.62h1.07v1.36h-1.07zM942.81,155.07h0.52v0.69h-0.52zM947.92,149.8h0.82v0.66h-0.82zM946.83,156.74h0.67v0.71h-0.67zM944.17,157.17h0.53v0.78h-0.53zM941.99,165.24h0.69v0.62h-0.69zM944.52,145.95h0.99v0.62h-0.99zM942.67,149.94h0.87v0.98h-0.87zM942.36,163.8h0.8v0.68h-0.8zM945.17,154.01h0.5v0.4h-0.5zM941.89,132.97h0.64v0.64h-0.64zM946.13,131.79h0.81v0.69h-0.81zM941.65,157.94h1.08v0.73h-1.08zM941.32,144.84h1.08v1.41h-1.08zM943.61,153.31h1.19v1.19h-1.19zM942.09,157.93h0.73v0.87h-0.73zM944.19,131.67h0.54v0.64h-0.54zM943.47,147.92h0.68v0.42h-0.68zM942.13,138.73h0.88v1.36h-0.88zM947.65,161.14h1.03v1.5h-1.03zM942.7,145.63h0.5v0.43h-0.5zM944.8,152.89h1.05v0.67h-1.05zM941.68,143.08h1.07v0.96h-1.07zM946.16,133.87h1.15v1.14h-1.15zM940.15,137.61h0.95v1.18h-0.95zM945.15,169.35h0.98v1.38h-0.98zM941.61,164.14h0.7v0.71h-0.7zM943.32,156.31h0.65v0.58h-0.65zM946.9,157.49h0.69v0.57h-0.69zM945.09,163.01h0.63v0.84h-0.63zM947.75,149.07h0.92v1.08h-0.92zM948.3,139.86h0.81v0.5h-0.81zM942.93,130.21h0.62v0.63h-0.62zM947.78,151.55h0.52v0.55h-0.52zM939.73,150.83h0.88v0.68h-0.88zM944.61,154.69h0.61v0.77h-0.61zM948.28,156.63h0.94v0.65h-0.94zM948.39,142.91h1.16v1.62h-1.16zM944.41,172.04h1.03v1.2h-1.03zM940.27,140h1.05v1.1h-1.05zM944.71,157.25h1.18v1.85h-1.18zM943.67,136.88h0.94v1.47h-0.94zM946.85,146.13h1.07v1.55h-1.07z" fill="#333" opacity="0.85"/>
<path d="M978.9,185.51h1.13v1.02h-1.13zM965.27,201.58h0.82v1.21h-0.82zM934.01,198.86h1.15v1.35h-1.15zM927.52,193.55h0.81v0.49h-0.81zM960.92,204.28h0.68v0.44h-0.68zM927.3,190.91h0.57v0.82h-0.57zM956.63,180.49h0.56v0.67h-0.56zM968.24,197.03h0.56v0.42h-0.56zM967.16,179.4h0.91v1.27h-0.91zM932.1,182.57h1.13v0.85h-1.13zM944.55,178.73h1.16v1.47h-1.16zM961.92,176.73h0.54v0.34h-0.54zM930.78,201.5h0.68v0.95h-0.68zM951.83,178.39h0.75v0.48h-0.75zM967.32,180.35h0.62v0.55h-0.62zM967.79,179.45h0.89v0.83h-0.89zM942.08,191.92h1.15v1.36h-1.15zM963.23,177.44h0.95v0.74h-0.95zM927.29,174.86h1.15v1.5h-1.15zM942.22,202.85h0.77v0.65h-0.77zM944.94,203.12h0.52v0.55h-0.52zM945.27,191.72h0.51v0.59h-0.51zM954.14,192.06h1.19v1.13h-1.19zM949.06,171.55h0.78v0.9h-0.78zM962.03,197.74h0.9v1.25h-0.9zM951.02,201.71h0.87v0.96h-0.87zM923.73,176.98h0.6v0.51h-0.6zM913.68,191.55h1.03v1.07h-1.03zM930.58,183.97h0.94v0.62h-0.94zM943.61,195.48h1.08v1.28h-1.08zM948.32,173.05h0.75v1.02h-0.75zM923.31,178.84h1.2v1.77h-1.2zM945.61,184.9h0.65v0.86h-0.65zM959.82,183.2h1.19v0.76h-1.19zM946.54,202.26h0.57v0.53h-0.57zM948.31,187.79h0.62v0.93h-0.62zM944.57,197.52h0.6v0.44h-0.6zM959.66,194.15h0.52v0.41h-0.52zM946.5,190.6h0.9v0.9h-0.9zM972.95,195.36h0.84v1.27h-0.84zM946.74,172.31h0.59v0.51h-0.59zM920.1,185.1h0.94v1.08h-0.94zM973.43,184.67h1.11v1.17h-1.11zM940.88,187.77h0.56v0.48h-0.56zM913.48,186.88h1.05v1.51h-1.05zM924.17,175.88h0.94v1.45h-0.94zM923.95,184.95h0.88v1.23h-0.88zM947.39,208.65h0.78v0.95h-0.78zM917.1,195.96h0.77v0.7h-0.77zM952.11,186.68h0.74v0.64h-0.74zM937.3,202.78h0.58v0.7h-0.58zM942.7,173.97h0.54v0.7h-0.54zM930.67,190.37h0.99v0.97h-0.99zM941.62,179.96h0.55v0.37h-0.55zM945.19,186.4h1.08v1.23h-1.08zM951.08,171.94h0.64v0.59h-0.64zM924.54,197.36h0.59v0.66h-0.59zM946.12,199h0.54v0.59h-0.54zM969.68,193.22h0.96v0.86h-0.96zM961.51,198.67h0.91v0.71h-0.91zM942.57,198.72h0.76v1.12h-0.76zM953.28,173.2h0.89v0.92h-0.89zM943,189.04h1.05v0.91h-1.05zM975.9,190.53h0.72v0.73h-0.72zM928.8,201.4h0.74v1.1h-0.74zM921.36,181.71h0.72v0.66h-0.72zM952.41,205.55h1.06v0.67h-1.06zM967.95,202.16h0.76v1.06h-0.76zM967.56,177.15h1.1v0.86h-1.1zM924.06,196.62h0.54v0.54h-0.54zM935.09,201.2h0.66v0.43h-0.66zM938.4,174.71h0.61v0.48h-0.61zM953.74,196.57h1.17v1.64h-1.17zM919.17,196.99h0.99v1.06h-0.99zM924.27,198.63h0.93v0.92h-0.93zM955.22,192.61h1v0.7h-1zM923.98,203.09h0.85v1.33h-0.85zM926.22,186.38h0.77v0.51h-0.77zM949.39,169.33h0.51v0.55h-0.51zM929.49,187.94h1v1.59h-1zM968.67,202.11h0.62v0.74h-0.62zM965.17,184.95h1.05v0.64h-1.05zM953.37,178.24h1.2v1.21h-1.2zM946.39,194.63h1.07v0.72h-1.07zM943.25,170.29h0.54v0.61h-0.54zM950.9,205.36h0.84v0.69h-0.84zM933.9,200.38h0.77v1.04h-0.77zM968.65,192.94h1.18v1.46h-1.18zM938.09,194.8h0.86v0.78h-0.86zM963.31,198.3h1.03v1.13h-1.03zM959.25,182.22h1.03v1.59h-1.03zM971.9,193.44h0.8v0.72h-0.8zM930.22,199.97h0.74v0.55h-0.74zM957.38,206.28h0.58v0.89h-0.58zM962.38,202.01h0.81v1.11h-0.81zM926.57,178.34h1.18v1.52h-1.18zM925.79,177.07h0.56v0.58h-0.56zM951.33,172.62h0.67v0.6h-0.67zM929.79,176.4h0.84v0.53h-0.84zM962.35,179.21h0.77v0.59h-0.77zM965.29,194.24h1v1.25h-1zM975.26,195.64h0.92v0.91h-0.92zM947.25,191.17h0.73v0.9h-0.73zM970.68,191.93h1.05v0.88h-1.05zM943.14,176.87h0.6v0.74h-0.6zM951.08,206.67h1.12v0.68h-1.12zM966.41,174.95h1.05v1.41h-1.05zM920.41,187.54h0.78v0.84h-0.78zM939.95,207.16h1.09v1.03h-1.09zM953.3,195.77h1.14v1.78h-1.14zM945.81,200.01h1.08v0.87h-1.08zM930.9,186.86h0.55v0.66h-0.55zM952.59,204.33h0.89v0.55h-0.89zM936.28,173.87h1.06v1.35h-1.06zM948.53,202.9h0.6v0.64h-0.6zM921.73,188.78h1.11v1.48h-1.11zM954.78,176.31h0.8v0.95h-0.8zM938,188.51h1.12v1.45h-1.12zM978.57,196.44h0.72v0.85h-0.72zM960.82,197.86h0.69v0.73h-0.69zM958.33,196.68h0.53v0.36h-0.53zM944.04,175.17h1.02v1h-1.02zM946.96,196.95h1.13v1.62h-1.13zM933.17,177.85h0.61v0.51h-0.61zM940.87,187.31h1.18v1.88h-1.18zM935.91,178.63h0.77v1.1h-0.77zM968.61,184.35h1.19v1.33h-1.19zM943.06,188.78h0.9v1.38h-0.9zM951.01,192.97h1.07v0.66h-1.07zM951.1,207.28h0.51v0.66h-0.51zM932.89,196.33h0.58v0.88h-0.58zM922.57,188.28h0.97v1.12h-0.97zM953.72,177.66h0.77v0.47h-0.77zM959.71,193.28h0.76v1.06h-0.76zM939.46,207.27h0.66v0.77h-0.66zM969.83,182.58h0.95v0.65h-0.95zM943.17,188.85h0.84v0.86h-0.84zM947.39,171.06h0.95v0.75h-0.95zM935.98,205.85h0.91v1.31h-0.91zM947.99,187.15h0.64v0.88h-0.64zM976.99,190.87h0.78v0.61h-0.78zM926.99,201.64h1.16v1.8h-1.16zM930.98,183.09h0.55v0.34h-0.55zM940.07,178.63h1.18v1.5h-1.18zM941.53,190.77h0.51v0.64h-0.51zM959.8,184.68h0.56v0.39h-0.56zM965.44,172.25h0.66v0.58h-0.66zM955.04,176.83h0.57v0.69h-0.57zM967.98,182.51h1.04v1.11h-1.04zM945.4,188.85h1.04v1.42h-1.04zM926.99,194.6h0.71v0.52h-0.71zM924.84,186.13h0.94v0.71h-0.94zM924.72,178.49h0.87v0.99h-0.87zM927.08,184.49h0.94v0.68h-0.94zM921.6,186.22h0.95v1.31h-0.95zM949.84,189.77h1.06v1.09h-1.06zM927.5,202.47h0.9v1.34h-0.9zM970.56,191.04h0.59v0.91h-0.59zM968.09,202.56h1.03v0.99h-1.03zM961.57,177.24h0.9v1.29h-0.9zM947.87,189.96h1.18v1.37h-1.18zM979.8,189.71h1.13v1.09h-1.13zM950.66,191.46h0.82v0.77h-0.82zM934.21,206.84h0.82v0.87h-0.82zM940.17,174.45h0.6v0.54h-0.6zM924.21,178.91h0.57v0.72h-0.57zM958.56,177.64h0.7v0.84h-0.7zM919.94,178.52h0.81v0.63h-0.81zM967.84,203.86h0.73v0.87h-0.73zM919.29,194.42h1.12v1.69h-1.12zM944.72,205h0.69v0.5h-0.69zM954.38,180.47h0.71v0.77h-0.71zM954.96,181.27h1.05v0.76h-1.05zM952.04,184.79h1.09v1.06h-1.09zM960.15,175.23h0.51v0.68h-0.51zM963.66,193.08h1.15v1.72h-1.15zM919.47,199.35h0.82v0.67h-0.82zM967.06,202.44h0.83v0.64h-0.83zM958.96,200.39h0.73v0.96h-0.73zM947.38,188.52h0.56v0.63h-0.56zM974.97,183.16h0.63v0.81h-0.63zM944.61,181.79h0.6v0.61h-0.6zM922.27,201.2h1.15v1.6h-1.15zM932.94,197.58h0.54v0.51h-0.54zM922.75,183.06h1.16v0.8h-1.16zM917.36,180.15h0.93v1.34h-0.93zM952.62,186.21h1.07v0.74h-1.07zM949.47,192.17h1.12v1.5h-1.12zM951.35,206.19h1.06v0.69h-1.06zM937.21,186.26h0.52v0.35h-0.52zM933.5,192.78h0.51v0.79h-0.51zM946.11,204.58h1.19v0.82h-1.19zM918.48,188.56h0.89v0.83h-0.89zM939.34,205.64h0.6v0.7h-0.6zM924.06,191.75h0.9v1.32h-0.9zM940.18,191.54h0.68v1.06h-0.68zM949.02,178.28h1.01v1.58h-1.01zM952.88,176.9h0.6v0.64h-0.6zM957.09,172.74h0.56v0.84h-0.56zM946.36,185.91h0.68v0.44h-0.68zM933.63,199.72h0.93v0.76h-0.93zM955.33,199.74h0.71v1.11h-0.71zM952.9,173.34h0.81v0.91h-0.81zM956.43,183.98h1.11v0.83h-1.11zM929.42,187.01h0.69v0.79h-0.69zM965.43,191.68h0.64v0.73h-0.64zM981.02,187.72h1.12v1.72h-1.12zM924.89,188.72h1.18v1.08h-1.18zM951.63,207.7h1.06v1.3h-1.06zM957.79,180.39h0.6v0.39h-0.6zM937.46,198.81h0.81v0.71h-0.81zM963,192.03h0.93v0.89h-0.93zM935.47,196.9h0.64v0.5h-0.64zM957.85,176.61h0.88v0.82h-0.88zM947.88,184.83h0.85v1.1h-0.85zM944.07,174.07h0.92v1.37h-0.92zM952.02,191.06h0.57v0.79h-0.57zM953.27,187.62h1.19v0.74h-1.19zM940.33,196.5h1.16v1.49h-1.16zM972.23,194.2h0.62v0.39h-0.62zM943.69,179.23h0.66v0.94h-0.66zM971.27,182.57h0.56v0.43h-0.56zM953.12,189.02h0.59v0.62h-0.59zM935.9,204.67h0.9v1.32h-0.9zM955.87,191.01h0.79v1.12h-0.79zM952.2,187.35h0.58v0.47h-0.58zM945.2,183.02h1.11v1.75h-1.11zM932.45,176.31h0.68v0.84h-0.68zM944.92,187.79h0.7v1.09h-0.7zM919.03,189.8h0.99v1.43h-0.99zM925.37,191.98h1.15v1.51h-1.15zM932.96,183.7h0.52v0.43h-0.52zM947.21,186.03h0.51v0.5h-0.51zM970.7,185.21h1.18v1.62h-1.18zM973.33,190.18h0.91v0.55h-0.91zM928.37,204.6h1.11v1.15h-1.11zM920.75,188.37h1.03v0.69h-1.03zM923.54,185.17h1.14v1.77h-1.14zM963.02,188.44h0.93v1.39h-0.93zM963.26,186.56h1.03v0.87h-1.03zM931.14,198.58h0.6v0.58h-0.6zM951.43,190.19h1.17v1.37h-1.17zM925.1,182.12h0.78v0.8h-0.78zM972.65,180.02h0.54v0.62h-0.54zM943.02,177.34h0.53v0.69h-0.53zM948.25,200.93h0.69v0.88h-0.69zM940.33,170.04h0.96v1.13h-0.96zM941.54,202.27h1.17v1.14h-1.17zM947.27,189.32h0.84v0.82h-0.84zM952.56,184.53h0.73v0.6h-0.73zM927.17,176.01h0.55v0.45h-0.55zM937.68,194.28h1.13v0.88h-1.13zM964.5,196.99h0.63v0.42h-0.63zM959.84,206.76h0.99v0.74h-0.99zM950.82,180.5h1.1v0.74h-1.1zM946.94,187.21h0.53v0.79h-0.53zM924.37,196.19h0.75v0.45h-0.75zM949.17,176.05h1.14v1.27h-1.14zM947.58,194.33h1.13v0.78h-1.13zM937.98,193.33h0.6v0.91h-0.6zM942.07,203.95h1.17v1.78h-1.17zM920.31,193.43h1.2v1.38h-1.2zM966.53,187.71h1.1v1.61h-1.1zM967.28,196.27h0.92v0.94h-0.92zM949.14,191.03h1.17v0.98h-1.17zM932.35,172.89h1.06v1.57h-1.06zM957.87,196.74h0.86v0.59h-0.86zM927.9,191.77h0.52v0.62h-0.52zM966.47,189.08h0.56v0.53h-0.56zM961.27,202.45h0.89v0.69h-0.89zM917.21,197.1h0.57v0.79h-0.57zM945.67,183.26h0.75v1.13h-0.75zM951.98,176.63h1.14v1.5h-1.14zM938.3,176.64h0.8v1.1h-0.8zM935.72,188.87h0.76v0.87h-0.76zM967.63,195.77h0.72v0.97h-0.72zM939.83,178.03h0.99v0.69h-0.99zM943.57,188.22h0.54v0.85h-0.54zM940.56,195.16h0.87v1.23h-0.87zM937.94,184.85h0.88v0.86h-0.88zM967,184.61h0.91v1.36h-0.91zM951.75,181.34h1.17v1.07h-1.17zM953.4,190.28h0.86v0.66h-0.86zM947.42,183.4h0.54v0.62h-0.54zM930.69,180.45h0.94v1.35h-0.94zM950.59,203.86h0.61v0.52h-0.61zM943.66,200.91h0.7v0.56h-0.7zM965.98,201.03h0.87v0.62h-0.87zM918.22,198.17h0.75v0.9h-0.75zM947.63,189.76h0.59v0.72h-0.59zM950.49,189.16h0.65v0.42h-0.65zM971.53,183.03h0.65v0.48h-0.65zM942.88,176.99h1.1v0.8h-1.1zM956.17,183.77h1v0.64h-1zM948.55,184.26h0.57v0.53h-0.57zM959.62,191.23h0.64v0.82h-0.64zM954.49,180.55h1.06v0.88h-1.06zM956.45,178.81h0.75v1.13h-0.75zM965.31,196.34h0.59v0.4h-0.59zM956.59,189.8h0.92v0.93h-0.92zM966.6,178.73h1.02v1.09h-1.02zM929.88,198.79h1.1v0.84h-1.1zM947.05,176.16h0.58v0.81h-0.58zM944.59,206.67h1.02v1.45h-1.02zM963.15,193.2h0.61v0.72h-0.61zM950.72,182.79h0.58v0.63h-0.58zM930.33,188.93h0.89v0.86h-0.89zM963.52,174.11h1.14v1.2h-1.14zM947.8,170.56h0.77v1h-0.77zM952.62,187.49h0.86v0.85h-0.86zM937.66,195.63h0.7v0.96h-0.7zM946.43,203.89h0.81v0.83h-0.81zM973.05,187.05h0.92v0.73h-0.92zM950.09,199.71h0.51v0.63h-0.51zM933.19,197.04h0.59v0.45h-0.59zM967.82,202.72h0.58v0.52h-0.58zM954.21,194.46h0.79v0.58h-0.79zM954.82,180.67h0.96v1.24h-0.96zM946.24,194.31h0.98v1.41h-0.98zM925.6,174.38h0.87v0.95h-0.87zM979.87,187.35h0.93v1.25h-0.93zM955.25,186.78h0.67v0.61h-0.67zM949.77,185.8h0.92v1.18h-0.92zM946.23,195.48h0.74v0.62h-0.74zM969.28,203.56h1.19v1.85h-1.19zM957.54,188h0.76v0.5h-0.76zM935.45,187.61h0.68v0.55h-0.68zM958.86,173.19h0.67v0.45h-0.67zM962.52,173.63h0.87v0.88h-0.87zM928.24,200.31h0.76v0.81h-0.76zM942.73,170.38h0.89v0.78h-0.89zM937.67,199.05h0.91v1.36h-0.91zM951.16,181.39h1.04v1.56h-1.04zM925.65,174.5h0.75v0.63h-0.75zM933.35,197.59h1.1v1.09h-1.1zM968.64,183.18h0.85v1.33h-0.85zM957.64,191.6h0.7v0.47h-0.7zM937.81,197.31h0.87v1.32h-0.87zM918.28,180.65h1.16v1.75h-1.16zM945.04,192.41h0.74v1.01h-0.74zM934.48,183.86h1.16v1.36h-1.16zM923.08,199.71h0.63v0.91h-0.63zM948.46,200.47h1.19v0.87h-1.19zM928.99,200.7h1.19v1.03h-1.19zM922.91,201.62h0.7v1.12h-0.7zM971.29,184.75h0.91v0.77h-0.91zM973.21,177.47h1.07v0.97h-1.07zM941.1,197.03h1v0.66h-1zM936.41,186.19h1.04v0.86h-1.04zM972.38,185.3h0.51v0.58h-0.51zM944.14,184.78h1.16v1.65h-1.16zM954.78,186.54h0.58v0.57h-0.58zM941.06,187.86h1.15v1.02h-1.15zM956.45,197.19h1.18v1.04h-1.18zM962.22,182.25h1.13v1.58h-1.13zM945.33,206.73h0.96v1.22h-0.96zM967.06,192.69h0.95v0.73h-0.95zM929.57,175.09h0.52v0.58h-0.52zM956.13,171.56h1.07v0.88h-1.07zM928.82,192.91h0.9v0.9h-0.9zM942.45,194.56h0.83v0.59h-0.83zM968.4,181.19h0.53v0.73h-0.53zM938.12,172.51h1.07v1.64h-1.07zM976.95,196.31h0.76v0.95h-0.76zM945.05,187.07h0.52v0.39h-0.52zM953.48,184.31h0.59v0.54h-0.59zM936.36,202.58h1.16v0.84h-1.16zM961.65,190.43h1.18v1.52h-1.18zM970.06,202.19h1.03v1.17h-1.03zM942.9,186.41h1.2v1.8h-1.2zM950.66,195.11h0.94v0.89h-0.94zM963.3,202.8h0.62v0.82h-0.62zM938.73,185.35h1.01v1.47h-1.01zM950.6,179.74h1v1.57h-1zM928.36,203.8h0.96v0.78h-0.96zM948.12,194.74h0.95v1.3h-0.95zM922.41,194.49h0.63v0.71h-0.63zM946.91,188.87h0.75v0.81h-0.75zM936.25,171.66h1.08v1.5h-1.08zM949.02,195.99h0.8v0.88h-0.8zM966.9,186.94h0.56v0.37h-0.56zM951.05,188.66h0.63v0.76h-0.63zM949.01,184.58h0.85v0.65h-0.85zM957.66,180.9h0.57v0.62h-0.57zM950.95,192.31h0.95v1.48h-0.95zM958.96,188.15h1.17v1.5h-1.17zM940.19,184.51h0.56v0.82h-0.56zM932.04,173.67h0.8v1.05h-0.8zM944.85,206.94h1.05v1.13h-1.05zM934.62,203.66h0.59v0.48h-0.59zM958.63,187.71h0.98v0.74h-0.98zM977.81,183.43h0.86v1.06h-0.86zM947.58,180.56h1.2v1.13h-1.2zM977.67,187.92h0.9v1.18h-0.9zM933.9,175.79h1.1v0.86h-1.1zM964.63,186.25h0.76v1.09h-0.76zM922.22,175.57h0.65v0.81h-0.65zM957.39,184.65h1.13v1.57h-1.13zM918.39,191.27h0.55v0.68h-0.55zM933.8,187.42h0.98v1.07h-0.98zM956.99,193.45h0.84v0.77h-0.84zM967.57,173.89h1.04v1.3h-1.04zM946.43,189.88h0.96v0.79h-0.96zM933.69,195.96h0.54v0.75h-0.54zM940.94,182.89h1.08v1.16h-1.08zM943.92,191.17h1.01v1.41h-1.01zM961.83,191.51h0.9v1.26h-0.9zM970.61,183.22h0.76v0.78h-0.76zM946.18,185.89h0.9v1.36h-0.9zM936.9,198.25h0.51v0.78h-0.51zM969.89,197.64h0.91v0.74h-0.91zM937.56,200.83h0.75v0.59h-0.75zM947.01,189.02h0.6v0.51h-0.6zM938.6,191.2h0.51v0.62h-0.51zM943.37,185.83h1.01v0.7h-1.01zM935.67,206.93h0.9v1.22h-0.9zM917.57,197.2h0.78v0.89h-0.78zM936.3,180.5h0.9v1.01h-0.9zM949.24,194.54h0.84v0.91h-0.84zM968.07,195.75h1.04v0.76h-1.04zM932.27,176.6h0.52v0.81h-0.52zM936.04,170.65h0.87v0.94h-0.87zM931.44,186.33h1.09v1.67h-1.09zM971.48,183.42h1.13v1.47h-1.13zM944.47,193.11h0.56v0.77h-0.56zM942.16,194.47h1.17v1.49h-1.17zM952.69,174.78h0.63v0.45h-0.63zM954.62,190.29h0.55v0.79h-0.55zM950.34,177.07h0.76v1.22h-0.76zM929.07,184.55h1.15v1.24h-1.15zM947.11,188.83h0.79v0.92h-0.79zM935.33,194.36h0.97v1h-0.97zM928.49,196.89h0.92v1.39h-0.92zM951.87,186.57h1.07v1.06h-1.07zM932.08,201.63h0.52v0.76h-0.52zM964.9,191.2h0.75v0.97h-0.75zM943.82,189.38h1.02v1.6h-1.02zM924.94,183.34h1.17v1.22h-1.17zM966.25,198.27h0.96v0.7h-0.96zM943.22,182.41h0.64v0.83h-0.64zM924.72,180.2h0.63v0.59h-0.63zM952.18,193.74h0.79v0.64h-0.79zM936.82,207.87h1.1v1.33h-1.1zM968.23,181.8h0.89v1.04h-0.89zM938.13,197.95h1.15v1.16h-1.15zM933.81,192.43h0.73v0.63h-0.73zM973.33,177.99h1.02v0.93h-1.02zM946.93,192.2h1.13v1.37h-1.13zM921.62,200.59h0.91v1.23h-0.91zM948.44,204.65h1.1v0.96h-1.1z" fill="#333" opacity="0.85"/>
<path d="M938.8,219.77h1.12v1.65h-1.12zM947.82,229.28h0.97v1.22h-0.97zM941.87,216.08h0.53v0.5h-0.53zM929.84,223.94h0.83v1.28h-0.83zM973.67,216.85h0.87v1.2h-0.87zM921.12,215.57h0.69v0.58h-0.69zM950.45,218.21h1.13v1.32h-1.13zM966.6,227.92h0.58v0.63h-0.58zM963.67,220.06h1.13v1.26h-1.13zM957.74,230.04h1.05v1.02h-1.05zM927.91,219.96h1.1v0.8h-1.1zM949.71,219.83h0.69v0.72h-0.69zM939.4,233.95h0.6v0.73h-0.6zM924.07,211.46h0.6v0.8h-0.6zM944.69,221.35h0.58v0.77h-0.58zM921.66,221.72h1.11v1.25h-1.11zM941.29,214.68h0.91v1.11h-0.91zM966.22,203.01h0.89v0.92h-0.89zM960.04,201.88h0.93v1.43h-0.93zM948.49,226.63h0.71v0.61h-0.71zM941.89,226.05h0.56v0.46h-0.56zM934.15,215.49h1.12v1h-1.12zM960.96,232.27h0.61v0.78h-0.61zM968.49,230.02h0.64v0.67h-0.64zM956.54,226.59h0.96v0.59h-0.96zM951.65,228.08h0.91v1h-0.91zM940,203.4h0.78v1.11h-0.78zM951.01,216.41h1.05v1.67h-1.05zM934.92,206.32h1.13v1.32h-1.13zM944.57,232.33h1.17v0.88h-1.17zM951.58,214.71h0.96v1.05h-0.96zM953.19,216.15h0.68v1.09h-0.68zM940.47,232.95h0.54v0.45h-0.54zM957.27,202.58h1.16v0.89h-1.16zM958.58,206.16h0.7v0.69h-0.7zM960.56,231.22h1.01v1.37h-1.01zM950.15,212.04h0.59v0.95h-0.59zM941.33,213.28h0.6v0.44h-0.6zM923.7,228.24h0.65v0.96h-0.65zM950.99,224.02h0.68v0.72h-0.68zM972.11,223.59h0.97v1h-0.97zM920.25,222.49h0.51v0.74h-0.51zM961.57,226.2h0.93v1.25h-0.93zM937.76,233.16h0.54v0.47h-0.54zM946.66,219.59h1.16v0.9h-1.16zM952.21,230.07h1.04v1.47h-1.04zM950.87,219.17h0.69v1.05h-0.69zM950.57,215.81h0.88v0.93h-0.88zM975.42,212.77h1.07v1.49h-1.07zM951.15,217.34h0.82v0.62h-0.82zM963.72,230.98h0.7v1.04h-0.7zM975.45,223.44h1.01v1.52h-1.01zM947.94,234.32h0.82v1.13h-0.82zM973.78,227.94h0.95v1.23h-0.95zM944.19,224.17h0.57v0.8h-0.57zM926.32,208.24h1.15v0.75h-1.15zM936.33,226.88h0.88v1.33h-0.88zM963.4,229.13h0.94v0.88h-0.94zM952.83,215.95h0.61v0.73h-0.61zM956.73,206.15h0.98v0.97h-0.98zM950.27,210.44h0.68v0.75h-0.68zM947.55,200.55h0.84v1.03h-0.84zM924.18,222.35h0.55v0.44h-0.55zM953.51,220.2h0.53v0.6h-0.53zM952.98,217.43h0.99v1.56h-0.99zM923.54,212.79h1.02v0.66h-1.02zM976.8,208.96h0.55v0.8h-0.55zM962.14,209.62h0.99v1.38h-0.99zM969.94,212.67h0.75v0.89h-0.75zM940.67,213.17h0.75v0.9h-0.75zM946.83,201.23h0.58v0.4h-0.58zM963.05,232.83h1.16v1.57h-1.16zM949.61,229.8h0.63v0.39h-0.63zM954.86,214.12h0.58v0.45h-0.58zM939.01,205.38h0.68v1.01h-0.68zM926.61,229.6h1.14v1.52h-1.14zM970.36,217.95h0.64v1h-0.64zM944.6,227.63h1.13v0.7h-1.13zM929.38,217.68h0.86v1.01h-0.86zM943.36,224.15h0.51v0.39h-0.51zM964.1,208h0.76v0.85h-0.76zM936.32,228.2h1.11v0.88h-1.11zM941.44,207.81h0.94v1.41h-0.94zM930.99,225.72h0.65v1h-0.65zM937.89,213.21h0.66v0.52h-0.66zM966.29,212.77h1.06v0.8h-1.06zM944.14,221.6h0.79v1.18h-0.79zM946.29,220.42h1.07v0.78h-1.07zM937.31,207.8h1.15v0.86h-1.15zM948.46,220.61h1.15v1.78h-1.15zM950.87,211.68h0.61v0.56h-0.61zM950.75,203.82h0.78v0.81h-0.78zM924.83,221.11h0.61v0.61h-0.61zM961.39,205.13h0.96v1.5h-0.96zM965.17,220.25h0.73v0.63h-0.73zM926.1,216.65h0.89v0.62h-0.89zM951.46,221.46h0.96v1.3h-0.96zM962.05,219.66h0.87v1.27h-0.87zM947.11,213.12h1.07v0.73h-1.07zM953.2,215.06h1.08v1.49h-1.08zM940.11,223.37h0.96v1.43h-0.96zM944.58,206.52h1.11v1.27h-1.11zM918.58,213.85h0.71v0.43h-0.71zM950.16,214.02h0.73v0.84h-0.73zM962.72,220.69h0.71v0.52h-0.71zM949.71,217.72h1.06v0.82h-1.06zM976.65,210.45h0.85v1.05h-0.85zM921.66,219.78h0.86v1.19h-0.86zM972.2,214.56h0.7v1.03h-0.7zM949.4,202.78h0.58v0.6h-0.58zM958.97,223.42h0.63v0.76h-0.63zM945.66,208.02h0.6v0.41h-0.6zM955.28,225.01h0.54v0.48h-0.54zM933.88,210.37h1.06v0.75h-1.06zM946.27,200.74h1.14v1.33h-1.14zM968.29,205.43h0.56v0.82h-0.56zM923.17,223.03h0.78v0.95h-0.78zM962.49,216.77h0.98v0.69h-0.98zM962.8,229.7h0.58v0.66h-0.58zM976.88,223.59h0.8v0.49h-0.8zM946.11,213.06h0.5v0.3h-0.5zM973.63,212.11h0.88v0.7h-0.88zM926.48,227.79h0.5v0.62h-0.5zM945.13,222.64h0.67v0.76h-0.67zM951.96,231.94h1.15v1.33h-1.15zM958.72,226.15h1.07v0.82h-1.07zM954.29,203.12h0.54v0.57h-0.54zM932.2,215.72h1.08v1.46h-1.08zM975.86,211.29h0.62v0.72h-0.62zM972.11,207.3h0.85v1.27h-0.85zM935.97,203.23h0.64v0.91h-0.64zM927.78,225.9h0.85v1.05h-0.85zM972.74,206.1h1.14v1.54h-1.14zM950.66,212.52h0.82v0.69h-0.82zM920.03,212.19h0.58v0.91h-0.58zM958.44,230.4h1.05v0.84h-1.05zM953.03,230.41h0.57v0.65h-0.57zM918.28,216.94h0.74v0.59h-0.74zM947.52,203.47h0.54v0.59h-0.54zM942.71,203.44h1.16v0.72h-1.16zM967.95,214.68h0.77v0.96h-0.77zM929.14,223.93h0.76v0.9h-0.76zM979.26,218.5h0.88v0.61h-0.88zM942.4,211.96h1.04v1.27h-1.04zM931.83,219.94h0.79v0.83h-0.79zM942.73,217.77h1.18v1.2h-1.18zM963.78,207.31h0.88v0.79h-0.88zM944.49,213.28h0.97v1.55h-0.97zM953.3,213.54h0.77v0.75h-0.77zM965.69,215.11h0.77v0.59h-0.77zM964.44,208.93h0.57v0.52h-0.57zM956.07,230.15h0.92v1.36h-0.92zM957.21,224.85h0.92v1.17h-0.92zM948.76,217.36h0.81v0.73h-0.81zM968.45,230.11h0.52v0.45h-0.52zM923.38,220.16h0.79v0.94h-0.79zM954.2,217.79h0.81v0.98h-0.81zM928.3,219.02h0.89v1.06h-0.89zM941.02,230.71h0.68v0.65h-0.68zM933.62,209.64h0.78v0.53h-0.78zM922.19,216.96h1.06v1.54h-1.06zM963.75,224.65h0.7v0.74h-0.7zM963.79,214.89h0.78v0.92h-0.78zM951.98,214.33h0.77v1.06h-0.77zM937.23,216.35h0.72v1h-0.72zM961.29,229.25h1.06v1.57h-1.06zM945.28,222.47h1.08v1.72h-1.08zM953.73,221.73h0.82v0.82h-0.82zM944.02,230.06h0.54v0.78h-0.54zM958.47,228.32h0.68v0.76h-0.68zM949.6,217.75h1.11v1.31h-1.11zM958.45,230.43h0.53v0.57h-0.53zM939.19,207.7h0.67v0.8h-0.67zM921.8,220.45h1.02v0.72h-1.02zM931.36,232.4h0.67v0.5h-0.67zM975.83,214.06h1.14v0.74h-1.14zM955.23,231.21h1v1.37h-1zM931.38,224.96h1.11v1.33h-1.11zM948.44,217.01h1.18v1.13h-1.18zM943.93,229.38h1.04v0.82h-1.04zM930.3,222.27h1.09v1.74h-1.09zM929.95,222.87h0.85v0.92h-0.85zM949.21,216.72h0.58v0.62h-0.58zM929.41,224.61h0.52v0.37h-0.52zM949.6,207.91h1.12v0.81h-1.12zM953.19,234.69h0.71v1.12h-0.71zM964.66,227.05h0.53v0.57h-0.53zM933.86,202.83h0.89v1.36h-0.89zM956.29,209.62h0.71v0.45h-0.71zM966.47,229.58h0.58v0.88h-0.58zM935.88,211.36h0.83v0.76h-0.83zM941.04,220.27h1.16v0.9h-1.16zM938.13,212.58h0.65v0.8h-0.65zM939.93,209.3h0.52v0.57h-0.52zM933.19,218.98h0.88v1.13h-0.88zM939.37,229h0.92v0.85h-0.92zM972.56,226.79h0.66v0.55h-0.66zM977.66,218.45h1.18v1.05h-1.18zM948.11,211.7h0.62v0.88h-0.62zM953.03,216.42h1.02v1.01h-1.02zM932.83,203.31h1.15v0.77h-1.15zM945.7,207.42h1.15v1.42h-1.15zM937.08,210.04h0.61v0.84h-0.61zM929.18,215.2h0.67v0.64h-0.67zM939.1,230.18h0.89v0.68h-0.89zM937.56,213.87h0.98v0.92h-0.98zM946.3,210.08h0.78v1.24h-0.78zM942.13,225.74h0.56v0.37h-0.56zM947.5,219.8h1.1v0.71h-1.1zM947.41,221.02h0.81v0.74h-0.81zM923.48,220.49h0.95v0.91h-0.95zM960.93,225.67h0.87v1.17h-0.87zM948.81,213.97h1.05v1.12h-1.05zM941.04,223.93h1.06v1.25h-1.06zM953.78,225.02h1.13v0.91h-1.13zM939.89,227.28h0.87v0.72h-0.87zM957.38,222.22h0.56v0.77h-0.56zM945.14,211.71h0.95v1.44h-0.95zM967.09,216.62h0.53v0.57h-0.53zM940.36,216.68h1.14v0.76h-1.14zM954.85,207.49h0.83v0.51h-0.83zM957.91,208.95h0.72v0.48h-0.72zM957.16,227.13h0.71v0.66h-0.71zM933.47,203.38h1.01v1.09h-1.01zM956.46,207.26h0.57v0.67h-0.57zM963.31,224.02h0.83v0.75h-0.83zM962.94,209.77h1.01v1.06h-1.01zM943.09,221.32h1.07v1.27h-1.07zM962.52,221.01h0.65v0.64h-0.65zM931.06,211.44h1.12v1.38h-1.12zM921.2,225.35h0.74v0.89h-0.74zM925.41,210.9h0.98v0.7h-0.98zM928.85,215.44h0.84v0.98h-0.84zM938.23,216.57h1.15v1.51h-1.15zM962.5,229.91h0.88v0.89h-0.88zM920.04,215.52h0.62v0.55h-0.62zM944.43,234.81h1.04v0.94h-1.04zM949.79,201.11h0.97v1.28h-0.97zM934,212.82h0.89v1.32h-0.89zM962.79,203.01h0.73v0.96h-0.73zM937.84,227.12h1.16v1.56h-1.16zM951.78,215.96h0.6v0.63h-0.6zM927.36,210.58h0.93v1.39h-0.93zM965.59,204.72h1.07v0.97h-1.07zM926.94,214.53h1.14v1.19h-1.14zM951.01,218.3h0.73v0.86h-0.73zM940.07,234.57h1.15v1.62h-1.15zM956.34,202.99h0.64v0.71h-0.64zM963.85,209.7h0.77v0.87h-0.77zM971.76,225.01h0.95v0.77h-0.95zM923.38,217.58h1.09v0.78h-1.09zM960.01,221.16h1.19v1.3h-1.19zM937,216.08h1.14v1.34h-1.14zM951.3,217.02h1.06v1.33h-1.06zM968.57,205.95h0.9v1.3h-0.9zM958.67,209h0.9v0.88h-0.9zM966.85,230.83h1.15v1.36h-1.15zM954.49,232.84h0.56v0.8h-0.56zM941.93,228.13h1.03v1.39h-1.03zM924.09,221.08h1.04v1.32h-1.04zM957.78,230.69h0.51v0.69h-0.51zM958.11,222.45h0.91v0.55h-0.91zM969.48,214.86h1.1v1.74h-1.1zM941.27,230.25h0.72v0.52h-0.72zM949,215.9h0.54v0.61h-0.54zM962.19,204.21h1.1v1.45h-1.1zM963.71,220.03h1.12v1h-1.12zM947.24,212.02h0.55v0.52h-0.55zM940.76,203.45h0.85v0.83h-0.85zM925.03,227.61h0.56v0.72h-0.56zM927.26,217.08h0.9v0.73h-0.9zM950.73,230.69h0.99v1.22h-0.99zM919.36,212.95h1.18v1.71h-1.18zM935.23,221.63h1.17v1.23h-1.17zM950.13,231.16h1.1v1.57h-1.1zM950.87,228.7h0.63v0.6h-0.63zM954.2,215.32h0.7v0.7h-0.7zM948.06,216.06h0.59v0.66h-0.59zM950.8,228.69h0.82v1.19h-0.82zM932.78,215.12h1.04v1.01h-1.04zM979.62,218.34h0.71v0.79h-0.71zM940.75,222.65h0.55v0.72h-0.55zM946.98,218.74h0.57v0.92h-0.57zM919.62,221.96h0.94v0.76h-0.94zM922.46,214.39h1.14v1.15h-1.14zM946.51,235.44h1.17v0.75h-1.17zM939.4,207.53h0.59v0.94h-0.59zM957.76,218.08h0.79v0.81h-0.79zM967.82,213.3h0.57v0.71h-0.57zM941.38,208.58h0.87v1.03h-0.87zM926.77,209.47h1.15v1.35h-1.15zM946.34,216.91h0.85v0.73h-0.85zM950.75,200.91h1.1v1.35h-1.1zM949.36,217.51h0.62v0.69h-0.62zM950.69,210.52h0.93v0.98h-0.93zM947.81,225.89h1.17v0.83h-1.17zM942.06,202.6h1.04v1.18h-1.04zM955.76,215.07h0.84v0.89h-0.84zM951.23,217.06h1.18v1.66h-1.18zM980.25,213.4h1.05v1.43h-1.05zM964.39,204.56h1.04v1.42h-1.04zM963.18,219.56h0.65v0.71h-0.65zM944.91,217.46h0.85v0.97h-0.85zM925.13,222.97h1.17v0.96h-1.17zM951.28,227.35h1.03v1.08h-1.03zM952.51,214.82h1v1.21h-1zM944.6,215.12h1.17v0.92h-1.17zM962.94,203.3h1.18v0.93h-1.18zM955.01,221h0.69v0.53h-0.69zM961.73,219.57h0.96v0.74h-0.96zM969.83,205.7h0.93v1.23h-0.93zM938.06,226.08h0.51v0.69h-0.51zM953.5,218.82h0.98v1.27h-0.98zM956.4,211.7h0.9v0.68h-0.9zM931.01,228.8h1.09v1.35h-1.09zM967.47,221.79h0.93v0.65h-0.93zM944.09,214.37h1.03v1.17h-1.03zM928.05,220.5h1.01v1.09h-1.01zM948.47,200.07h1.11v1.3h-1.11zM952.26,222.99h0.55v0.61h-0.55zM947.11,222.27h0.7v0.61h-0.7zM967.74,209.4h0.65v0.66h-0.65zM971.43,227.74h0.54v0.42h-0.54zM936.43,224.57h0.98v0.8h-0.98zM941.24,218.59h0.78v1.01h-0.78zM964.31,232.87h0.61v0.38h-0.61zM927.31,209.38h0.67v0.99h-0.67zM942.81,220.13h0.9v0.72h-0.9zM970.78,214.65h0.51v0.54h-0.51zM947.41,216.89h0.57v0.48h-0.57zM935.89,231.14h1.18v0.74h-1.18zM927.47,220.92h0.56v0.76h-0.56zM967.49,220.07h0.61v0.43h-0.61zM933.83,215.54h0.53v0.59h-0.53zM967.4,208.96h0.85v0.67h-0.85zM977.18,220.3h0.72v1.1h-0.72zM953.4,203.37h1.05v1.69h-1.05zM956.6,221.15h1.07v1.67h-1.07zM948.67,217.93h0.68v0.57h-0.68zM979.31,223.72h1.08v1.46h-1.08zM942.34,232.5h1.13v0.89h-1.13zM964.15,228.3h0.51v0.48h-0.51zM954.44,229.95h1.03v0.76h-1.03zM946.24,200.75h1.01v1.2h-1.01zM940.11,232.62h1.06v1.14h-1.06zM959.26,229.47h0.65v0.51h-0.65zM939.86,211.1h0.57v0.86h-0.57zM944.27,218.41h0.83v1.17h-0.83zM949.14,216.54h1.18v0.87h-1.18zM976.12,212.79h0.75v0.86h-0.75zM952.01,219h0.57v0.67h-0.57zM973.4,228.99h0.88v1.33h-0.88zM972.72,226.21h0.88v0.88h-0.88zM950.21,210.36h0.92v1.05h-0.92zM933.22,223.39h0.8v1.18h-0.8zM973.69,216.19h0.59v0.63h-0.59zM979.49,217.75h0.85v0.74h-0.85zM947.34,218.2h1.02v1.06h-1.02zM932.28,203.06h1.18v0.84h-1.18zM962.81,219.38h1.09v0.8h-1.09zM946.29,218.61h0.78v1.05h-0.78zM952.28,200.76h1.04v1.6h-1.04zM956.35,229.96h1.01v0.74h-1.01zM954.32,225.61h0.66v0.75h-0.66zM936.8,217.4h1.16v0.74h-1.16zM955.73,223.13h1.18v1.19h-1.18zM948.07,223.35h1v0.61h-1zM957.93,219.91h1.02v1.11h-1.02zM957.38,216.07h0.51v0.77h-0.51zM960.25,217.9h0.65v0.43h-0.65zM969.67,219.14h0.67v0.6h-0.67zM945.82,208.55h0.67v0.47h-0.67zM969.72,218.19h0.9v1.24h-0.9zM956.89,217.82h0.58v0.82h-0.58zM980.24,220.37h1.1v1.08h-1.1zM950.01,204.85h1.07v0.79h-1.07zM919.1,218.44h1.02v1.21h-1.02zM923.39,214.85h1.01v1.35h-1.01zM937.4,211.58h0.88v1.17h-0.88zM939.73,234.82h1.17v1.8h-1.17zM963.62,209.06h0.84v0.72h-0.84zM949.71,220.07h1.14v1.62h-1.14zM969.39,215.89h0.98v0.83h-0.98zM954.17,220.22h1.08v1.68h-1.08zM954.98,219.57h1.12v1.03h-1.12zM938.47,207.69h0.76v0.65h-0.76zM923.2,217.73h1.17v1.07h-1.17zM959.41,216.89h0.68v0.99h-0.68zM965.28,218.51h0.73v0.61h-0.73zM947.24,218.65h0.73v1.12h-0.73zM940.1,213.58h0.91v1.18h-0.91zM961.19,210.27h0.6v0.39h-0.6zM957.05,219.46h1.12v1.48h-1.12zM958.84,204.72h0.88v0.61h-0.88zM919.41,217.1h0.96v1.07h-0.96zM927.74,209.33h1.18v0.88h-1.18zM955.85,214.95h0.87v0.96h-0.87zM960.92,220.84h0.73v0.54h-0.73zM953.83,234.56h0.95v0.75h-0.95zM937.93,233.94h0.66v1.05h-0.66zM963.11,218.68h0.61v0.42h-0.61zM953.76,200.63h0.89v0.83h-0.89zM926.14,213.65h1.16v1.42h-1.16zM956.69,200.62h0.74v0.46h-0.74zM934.63,203.51h0.58v0.37h-0.58zM940.45,219h0.54v0.55h-0.54zM955.23,218.32h0.89v1h-0.89zM946.95,218.24h1.01v1.35h-1.01zM963.81,233.73h0.59v0.79h-0.59zM965.32,213.35h0.75v0.54h-0.75zM942.48,211.98h0.87v0.85h-0.87zM931.88,217.98h1.03v0.85h-1.03zM961.29,202.6h1.14v1.54h-1.14zM939.87,231.14h1.18v1.07h-1.18zM953.21,222.01h0.81v1.28h-0.81zM957.83,211.64h1.08v0.67h-1.08zM938.91,212.06h0.5v0.55h-0.5zM948.64,204.89h0.64v0.86h-0.64zM941.16,218.09h0.66v0.77h-0.66zM932.43,223h0.79v0.61h-0.79z" fill="#3a3a3a" opacity="0.85"/>
<path d="M927.53,229.24h1.02v0.74h-1.02zM907.13,234.73h0.78v1.23h-0.78zM907.67,231.74h0.99v0.98h-0.99zM912.8,238.53h0.78v0.59h-0.78zM926.46,239.47h1.17v1.43h-1.17zM907.15,235.82h1.1v1.14h-1.1zM921.31,229.12h0.94v1.01h-0.94zM922.67,225.69h0.9v1.12h-0.9zM917.58,233.01h1.18v0.84h-1.18zM910.96,231.86h0.84v0.76h-0.84zM921,235.14h1.1v1.56h-1.1zM916.48,236.36h0.79v1.06h-0.79zM916.02,234.12h0.58v0.4h-0.58zM920.03,226.88h0.68v0.91h-0.68zM914.73,236.08h0.9v0.7h-0.9zM927.15,230.86h0.69v0.61h-0.69zM922.49,224.71h0.57v0.75h-0.57zM914.52,232.4h0.89v1h-0.89zM918.16,232.3h0.97v0.81h-0.97zM919.75,239.78h1.05v1.16h-1.05zM925.12,225.77h1.01v1.14h-1.01zM916.59,240.7h0.88v1.4h-0.88zM909.36,237.34h0.51v0.74h-0.51zM923.19,223.17h0.63v0.48h-0.63zM922.16,229.2h0.96v0.84h-0.96zM919.53,229.34h1.1v0.79h-1.1zM914.03,234.82h1.02v1.15h-1.02zM929.88,232.51h0.85v0.59h-0.85zM916.97,223.25h0.77v1.22h-0.77zM918.85,233.63h0.99v0.7h-0.99zM908.41,235.14h0.94v1.42h-0.94zM920.45,232.83h0.69v1.07h-0.69zM921.16,241.39h0.83v0.6h-0.83zM925.58,237.06h1.02v1.22h-1.02zM909.64,233.8h0.79v1.09h-0.79zM925.21,236.7h0.77v1.18h-0.77zM919.1,222.71h0.98v1.19h-0.98zM918.35,231.02h0.86v0.6h-0.86zM911.96,225.13h0.95v1.34h-0.95zM915.53,236.61h0.51v0.36h-0.51zM920.18,237.66h0.66v0.74h-0.66zM918.11,231.58h1.15v1.33h-1.15zM913.59,224.37h0.87v0.52h-0.87zM922.92,236.73h1.03v1.36h-1.03zM907.04,234.18h0.57v0.36h-0.57zM917.4,230.26h0.93v1.47h-0.93zM924.6,239.89h0.97v1.44h-0.97zM908.22,227.05h0.68v0.74h-0.68zM921.15,234.47h0.74v0.61h-0.74zM912.16,234.03h1.1v1.66h-1.1zM928.58,232.64h0.88v1.12h-0.88zM917.09,227.42h0.75v1.09h-0.75zM917.71,232.26h0.96v1.21h-0.96zM915.59,240.49h0.59v0.88h-0.59zM921.62,231.63h1.08v1.07h-1.08zM929.94,234.62h0.92v1.26h-0.92zM908.21,229.43h0.68v0.86h-0.68zM928.53,233.33h0.98v0.94h-0.98zM909.8,235.24h0.67v0.97h-0.67zM923.43,229.73h1.02v1.51h-1.02zM921.75,235.78h1.02v1.46h-1.02zM926.6,226.9h0.77v0.47h-0.77zM922.05,230.75h0.75v1.19h-0.75zM926.85,230.2h1.04v1.55h-1.04zM924.27,239.68h0.99v1.28h-0.99zM910.43,226.07h0.9v0.8h-0.9zM922.9,227.38h0.65v0.4h-0.65zM926.63,228.05h0.92v1.3h-0.92zM920.44,228.15h0.66v0.49h-0.66zM917.06,233.42h0.83v0.8h-0.83zM921.13,226.11h0.77v0.69h-0.77zM917.31,228.63h0.97v1.49h-0.97zM921.15,229.52h0.88v0.61h-0.88zM913.55,240h1.12v0.98h-1.12zM913.67,232.29h1.2v1.3h-1.2zM921.86,226.05h0.8v1.24h-0.8zM916.42,235.66h0.74v0.99h-0.74zM920.55,231.16h0.88v0.6h-0.88zM911.4,234.18h1.07v0.78h-1.07zM910.02,227.72h0.85v0.59h-0.85zM916.23,234.32h1.1v1.36h-1.1zM919.15,223.64h0.82v0.68h-0.82zM915.94,234.06h1.05v1.09h-1.05zM917.45,222.35h1.04v1.06h-1.04zM915.37,232.85h0.75v0.78h-0.75zM922.22,232.82h1.08v1.15h-1.08zM911.68,238.83h1.03v1.11h-1.03zM928.17,232h0.84v1.11h-0.84zM919.85,238.17h0.71v0.59h-0.71zM922.01,232.57h0.81v1.15h-0.81zM922.34,227.05h0.73v0.77h-0.73zM918.96,233.37h0.89v0.83h-0.89zM919.15,227.09h0.87v1.38h-0.87zM921.24,230.35h0.86v0.78h-0.86zM924.58,233.8h0.68v0.41h-0.68zM914.86,228.12h0.64v0.7h-0.64zM927.98,235.89h0.64v0.6h-0.64zM916.63,222.6h0.78v0.79h-0.78zM923.78,237.63h0.65v0.74h-0.65zM916.49,223.58h0.93v0.93h-0.93zM917.85,231.5h0.68v1.04h-0.68zM912.16,231.5h0.98v0.76h-0.98zM914.86,224.37h1.04v0.9h-1.04zM917.82,232.89h0.87v1.24h-0.87zM919.32,226.39h0.9v1.21h-0.9zM923.63,231.04h1.1v1.13h-1.1zM918.32,232.63h0.63v0.8h-0.63zM915.35,237.41h1.02v1.12h-1.02zM923.78,228.1h0.74v0.63h-0.74zM916.5,232.91h0.99v0.62h-0.99zM922.08,226.69h0.6v0.47h-0.6zM919.92,237.38h1.09v1.15h-1.09zM918.79,233.6h0.62v0.96h-0.62zM919.81,233.89h1.03v1.48h-1.03zM922.63,225.77h0.84v1.02h-0.84zM920.8,231.85h0.62v0.85h-0.62zM924.37,239.93h0.76v0.68h-0.76zM921.65,227.73h0.89v0.56h-0.89zM919.44,234.09h0.8v0.94h-0.8zM921.19,240.91h0.63v0.39h-0.63z" fill="#3a3a3a" opacity="0.85"/>
<path d="M947.06,291.72h1.17v1.37h-1.17zM942.94,265.46h1.19v1.03h-1.19zM943.05,251.08h1.08v0.71h-1.08zM936.1,255.82h0.82v1.21h-0.82zM945.34,223.06h1.06v0.72h-1.06zM949.82,255.76h1.04v1.56h-1.04zM940.98,226.05h0.7v0.56h-0.7zM948.29,307.12h0.63v0.95h-0.63zM942.27,280.09h0.58v0.82h-0.58zM946.97,284.87h0.81v1.28h-0.81zM945,267.69h0.66v0.76h-0.66zM944.33,228.89h0.73v0.48h-0.73zM950,245.06h0.93v1.47h-0.93zM941.24,301.59h0.65v0.79h-0.65zM950.21,295.14h1.19v1.31h-1.19zM943.03,266.1h1.13v0.81h-1.13zM941.14,283.19h0.53v0.84h-0.53zM939.68,258.04h0.59v0.61h-0.59zM940.21,280.41h0.73v0.56h-0.73zM949.08,244.27h0.71v1.12h-0.71zM941.42,258.36h1.02v1.22h-1.02zM952.66,273.91h0.85v0.98h-0.85zM944.72,269.05h1.02v1.63h-1.02zM944.97,225.61h0.52v0.33h-0.52zM952.67,270.75h0.57v0.89h-0.57zM948.66,240.64h0.62v0.85h-0.62zM951.68,245.52h1.16v1.72h-1.16zM944.84,272.67h0.68v0.8h-0.68zM948.22,271.96h1.13v1.07h-1.13zM945.95,283.18h0.5v0.39h-0.5zM944.11,272.3h1.07v1.61h-1.07zM946.39,246.93h1.18v0.84h-1.18zM947.42,257.07h0.74v0.68h-0.74zM942.92,224.71h0.66v0.66h-0.66zM938.16,267.45h0.89v1.16h-0.89zM945.6,283h1.04v0.83h-1.04zM949.45,304.79h0.78v0.59h-0.78zM944.49,268.99h0.88v0.83h-0.88zM944.64,237.2h0.95v0.69h-0.95zM948.93,232.89h1.03v0.71h-1.03zM945.76,263.85h1.05v1.41h-1.05zM937.47,296.28h0.93v1.13h-0.93zM946.91,265.08h0.67v0.73h-0.67zM946.7,295.56h0.72v0.7h-0.72zM949.78,306.15h0.77v0.92h-0.77zM949.69,242.23h0.9v1.35h-0.9zM939.37,308.13h0.57v0.42h-0.57zM943.47,273.13h0.66v0.71h-0.66zM945.37,293.46h1.16v1.69h-1.16zM944.1,289.61h0.97v1.07h-0.97zM948.09,259.28h0.57v0.86h-0.57zM941.99,226.12h0.8v0.84h-0.8zM944.86,264.56h0.9v0.68h-0.9zM944.45,237.45h0.69v1.01h-0.69zM944.37,283.25h0.99v0.66h-0.99zM941.52,228.04h0.75v0.69h-0.75zM943.74,306.11h0.6v0.71h-0.6zM947.67,279.08h1.09v1.22h-1.09zM935.99,284.52h0.82v0.61h-0.82zM935.18,278.26h0.76v1.02h-0.76zM946.49,258.36h0.57v0.65h-0.57zM943.78,250.53h1.06v0.98h-1.06zM952.5,251.37h0.91v1.22h-0.91zM949.03,264.3h0.88v0.96h-0.88zM938.17,282.88h1.08v0.86h-1.08zM945.7,285.13h0.62v0.74h-0.62zM940.26,260.01h0.75v0.91h-0.75zM949.18,276.24h1v1.27h-1zM948.7,263.48h1.12v1.04h-1.12zM936.34,267.43h1.01v1.15h-1.01zM947.9,240.89h1.18v1.09h-1.18zM936.92,284h0.59v0.83h-0.59zM950.96,271.68h0.78v0.56h-0.78zM942.3,261.33h0.71v0.58h-0.71zM946.49,225.38h1.02v0.69h-1.02zM942.3,261.23h0.61v0.48h-0.61zM939.93,300.15h0.87v0.83h-0.87zM947.48,224.44h0.78v1.06h-0.78zM950.46,266.4h0.89v0.7h-0.89zM945.38,224.49h0.95v0.66h-0.95zM952.79,254.67h0.67v0.59h-0.67zM943.2,299.93h0.92v1.27h-0.92zM938.91,246.34h0.78v1.11h-0.78zM942.48,272.41h0.78v0.67h-0.78zM947.08,248.51h1.09v1.7h-1.09zM942.73,279.97h0.55v0.79h-0.55zM944.4,265.94h0.66v0.45h-0.66zM944.64,259.83h0.65v0.63h-0.65zM946.95,301h0.59v0.53h-0.59zM943.02,270.27h0.91v0.9h-0.91zM945.95,268.52h1.18v1.8h-1.18zM948.52,291.03h0.53v0.53h-0.53zM937.12,294.94h1.02v1.47h-1.02zM954.03,284.26h1.11v1.1h-1.11zM946.03,298.31h1.16v0.71h-1.16zM941.58,260.81h0.62v0.54h-0.62zM952.16,290.84h0.96v1.4h-0.96zM943.24,254.26h1.11v0.88h-1.11zM944.38,269.5h1.16v1.41h-1.16zM944.38,277.23h0.8v0.59h-0.8zM945.39,277.37h0.74v1.12h-0.74zM942.57,312.17h0.64v0.5h-0.64zM935.69,276.67h0.87v0.93h-0.87zM936.51,290.04h0.52v0.76h-0.52zM945.76,285.93h0.7v0.86h-0.7zM948.69,273.77h0.8v0.54h-0.8zM942.57,288.23h0.86v0.89h-0.86zM953.6,267.78h0.85v1.03h-0.85zM946.39,287.46h0.63v0.93h-0.63zM943.98,284.45h0.72v0.98h-0.72zM950.18,282.11h0.65v0.62h-0.65zM946.42,228.16h0.85v0.84h-0.85zM944.54,300.69h1.2v0.92h-1.2zM950.65,239.82h0.76v0.63h-0.76zM946.14,258.32h0.89v0.57h-0.89zM943.67,255.3h0.86v1.15h-0.86zM944.02,303.74h1.19v0.72h-1.19zM941.51,293.4h0.74v1.09h-0.74zM935.24,273.6h0.62v0.62h-0.62zM943.97,289.64h0.91v0.56h-0.91zM946.81,236.95h0.65v0.74h-0.65zM944.37,294.71h0.71v1.03h-0.71zM939.44,239.21h0.71v0.74h-0.71zM950.89,260.03h0.69v0.73h-0.69zM940.78,282.98h0.88v0.92h-0.88zM939.59,233.19h1.11v0.95h-1.11zM939.74,282.79h0.98v0.96h-0.98zM945.45,299.87h1.07v1.67h-1.07zM951.59,282.99h1.12v0.77h-1.12zM940.38,290.01h0.93v0.59h-0.93zM950.12,278.43h1.15v0.88h-1.15zM945.01,266.6h0.86v0.81h-0.86zM942.38,234.73h1.09v1.07h-1.09zM943.87,285.24h0.79v1.17h-0.79zM953.86,277.56h0.66v0.56h-0.66zM944.19,294.52h0.86v0.69h-0.86zM938.93,289.71h0.97v0.6h-0.97zM938.34,289.43h1.12v0.81h-1.12zM947.56,262.34h0.63v0.63h-0.63zM950.64,233.23h0.95v1.31h-0.95zM938.5,241.98h0.82v1.02h-0.82zM941.65,275.26h1.03v1.32h-1.03zM945.2,263.06h0.83v0.67h-0.83zM941.03,278.98h1.07v1.39h-1.07zM941.63,227.53h0.85v0.92h-0.85zM938.22,291.24h0.72v1.15h-0.72zM944.47,271.28h0.97v0.88h-0.97zM950.45,300.4h0.99v0.65h-0.99zM940.78,242.65h1.04v1.41h-1.04zM939.71,261.23h1.01v0.63h-1.01zM942.39,277.71h0.54v0.36h-0.54zM945.33,235.72h1.17v1.76h-1.17zM947.91,269.72h1.07v1.26h-1.07zM945.43,238.56h0.93v1.19h-0.93zM938.87,255.69h0.61v0.44h-0.61zM949.21,299.17h1.18v1.61h-1.18zM945.29,251.15h0.56v0.75h-0.56zM950.46,253.76h1.08v0.98h-1.08zM944.36,293.74h0.7v0.44h-0.7zM943.39,235.75h0.98v1.24h-0.98zM946.56,266.81h1.04v1.62h-1.04zM941.56,313.39h0.92v0.57h-0.92zM943.09,307.65h0.93v0.94h-0.93zM949.79,272.4h0.63v0.76h-0.63zM947.15,243.86h0.5v0.43h-0.5zM942.59,259.92h1.2v1h-1.2zM951.7,247.94h0.69v0.96h-0.69zM947.71,233.78h1.05v1.36h-1.05zM945.49,261.25h1.01v0.72h-1.01zM935.92,276.01h0.5v0.62h-0.5zM948.62,262.81h0.66v0.47h-0.66zM949.52,247.74h1.1v1.5h-1.1zM946.57,263.66h0.96v0.81h-0.96zM946.1,223.45h0.96v1.44h-0.96zM943.7,260.8h0.5v0.77h-0.5zM945.12,257.91h0.54v0.65h-0.54zM948.81,297.2h0.53v0.78h-0.53zM946.58,297.13h0.88v0.98h-0.88zM952.58,240.46h0.55v0.41h-0.55zM946.44,279.35h1.16v1.34h-1.16zM939.93,235.77h1.08v1.56h-1.08zM940.34,309.3h0.96v0.6h-0.96zM948.52,292.17h0.91v0.85h-0.91zM938.05,254.35h0.83v0.72h-0.83zM950.56,282.51h0.8v0.95h-0.8zM950.1,290.08h1.13v1.64h-1.13zM947.58,293.32h0.77v0.48h-0.77zM947.17,270.73h0.51v0.63h-0.51zM937.77,277.79h1.06v1.69h-1.06zM938.11,285.57h1.12v0.98h-1.12zM946.47,308.67h0.77v0.96h-0.77zM941.86,250.97h0.87v1.23h-0.87zM944.5,268.44h0.63v0.83h-0.63zM942.68,302.83h0.96v0.86h-0.96zM942.02,248.15h0.79v0.49h-0.79zM952.78,292.69h1.17v1.24h-1.17zM944.8,282.91h1.14v1.33h-1.14zM937.6,291.7h0.99v0.84h-0.99zM938.87,296.04h0.5v0.76h-0.5zM943.41,291.58h0.59v0.81h-0.59zM944.37,263.46h0.75v0.97h-0.75zM939.28,281.76h0.56v0.63h-0.56zM940.17,277.13h1.16v1.48h-1.16zM953.72,260.37h1.08v0.94h-1.08zM949.25,247.42h0.6v0.57h-0.6zM943.59,241.38h0.85v0.95h-0.85zM943.47,305.64h0.79v1.26h-0.79zM948.25,264.11h0.53v0.53h-0.53zM936.63,277.42h1.18v1.19h-1.18zM942.72,262.45h0.91v1.06h-0.91zM935.45,272.66h1.12v1.69h-1.12zM945.6,272.76h0.68v0.82h-0.68zM942.62,277.21h0.79v0.96h-0.79zM950.18,270.12h0.55v0.58h-0.55zM951.01,254.56h0.62v0.93h-0.62zM937.69,301.49h1.14v1.76h-1.14zM943.29,257.47h1.14v1.37h-1.14zM951.04,258.83h0.65v0.88h-0.65zM943.92,225.14h0.78v0.87h-0.78zM943.36,241.68h0.63v0.96h-0.63zM940.83,276.68h0.67v0.76h-0.67zM953.96,282.28h1.07v1.59h-1.07zM945.52,259.75h0.64v0.72h-0.64zM947.85,305.25h0.56v0.89h-0.56zM944.08,270.65h1.13v1h-1.13zM954.15,282.83h0.99v1.51h-0.99zM949.08,295.59h1.02v0.68h-1.02zM946.91,230.76h0.96v1.4h-0.96zM950.3,240.33h0.89v0.73h-0.89zM947.2,278.98h1.07v1.17h-1.07zM948.97,296.88h0.88v0.64h-0.88zM939.32,251.36h0.95v1.36h-0.95zM942.71,277.18h1.05v1.62h-1.05zM950.94,302.06h0.73v1.15h-0.73zM943.99,263.2h0.63v0.59h-0.63zM945.53,300.5h0.84v0.86h-0.84zM938.14,242.4h0.94v0.81h-0.94zM949.15,254.19h1.14v1.33h-1.14zM953.07,262.46h1.14v1.81h-1.14zM954.47,278.39h0.76v0.86h-0.76zM946.07,262.43h0.96v0.81h-0.96zM950.02,257.47h0.79v0.55h-0.79zM938.11,262.99h1.18v0.89h-1.18zM945.63,223.38h0.95v1.3h-0.95zM944.95,267.14h0.67v1.04h-0.67zM942.51,268.94h0.61v0.51h-0.61zM947.63,275.02h0.96v0.88h-0.96zM944.39,269.59h0.85v0.93h-0.85zM943.77,262.3h1.19v1.13h-1.19zM945.05,276.84h0.9v1.14h-0.9zM947.33,265.66h0.73v0.9h-0.73zM948.36,239.58h0.55v0.44h-0.55zM941.44,269.9h0.53v0.47h-0.53zM946.49,286.95h1.2v1.05h-1.2zM938.54,278.34h0.5v0.44h-0.5zM939.63,279.69h1.17v1.19h-1.17zM947.21,280.55h1.19v1.81h-1.19zM950.57,243.76h0.83v0.76h-0.83zM945.99,234.92h1.05v1.29h-1.05zM952.4,263.09h1.1v1.73h-1.1zM951.33,288.21h1.17v0.9h-1.17zM940.15,262.87h0.69v0.68h-0.69zM945.76,267.46h1.07v1.24h-1.07zM944.71,268.7h0.74v1h-0.74zM943.64,227.34h0.72v1.04h-0.72zM944.25,306.3h0.93v1.18h-0.93zM944.83,304.44h1.15v0.74h-1.15zM938.86,269.76h0.54v0.33h-0.54zM945.01,310.39h0.51v0.46h-0.51zM946.52,261.63h0.69v0.43h-0.69zM945.27,234.66h1.05v1.21h-1.05zM948.52,305.4h0.52v0.42h-0.52zM938.62,295.17h1.04v1.39h-1.04zM950.85,275.78h1.14v1.3h-1.14zM937,295.65h0.94v1.22h-0.94zM950.4,271.9h0.88v0.66h-0.88zM941.7,298.82h0.74v1.16h-0.74zM939.07,293.34h1v0.8h-1zM945.82,285.08h1v0.74h-1zM947.71,273.44h1.19v1.07h-1.19zM948.41,244.3h0.86v0.56h-0.86zM945.43,241.82h0.53v0.7h-0.53zM940.03,250.62h1.18v1.41h-1.18zM952.15,277.65h0.58v0.76h-0.58zM952.16,291.65h1.08v1.32h-1.08zM953.74,262.62h0.56v0.44h-0.56zM946.38,258.54h0.77v0.54h-0.77zM942.7,285.06h0.74v0.48h-0.74zM947.51,289.88h0.63v0.45h-0.63zM940.38,254.16h0.71v0.75h-0.71zM940.77,224.79h0.6v0.55h-0.6zM940.02,251.58h0.5v0.54h-0.5zM943.66,305.74h0.71v0.94h-0.71zM946.07,266.65h0.87v1.3h-0.87zM946.11,223.54h1.13v0.77h-1.13zM944.8,248.17h1.02v1.45h-1.02zM937.57,251.43h0.9v0.92h-0.9zM947.05,228.58h1.2v0.88h-1.2zM941.63,278.25h0.99v1.17h-0.99zM949.13,257.3h1.18v0.87h-1.18z" fill="#444" opacity="0.85"/>
<path d="M959.14,268.6h0.71v0.52h-0.71zM958.48,266.19h0.81v0.66h-0.81zM961.57,267.61h0.73v1.03h-0.73zM965.39,266.24h0.78v0.8h-0.78zM967.75,265.94h1.01v1.5h-1.01zM973.83,267.81h0.69v0.42h-0.69zM963.78,265.59h1.1v1.31h-1.1zM956.45,263.19h0.54v0.73h-0.54zM964.43,264.92h0.59v0.72h-0.59zM961.5,269.17h1.04v1.1h-1.04zM961.55,268.03h0.92v0.76h-0.92zM973.16,268.3h0.63v0.63h-0.63zM975.45,267.12h0.8v0.59h-0.8zM972.02,265.41h1.07v1.17h-1.07zM964.88,268.08h1.07v1.69h-1.07zM963.89,265.24h0.72v0.97h-0.72zM971.21,265.43h0.7v0.65h-0.7zM963.63,265.81h0.51v0.59h-0.51zM964.76,262.5h0.74v0.71h-0.74zM969.06,270.37h1.09v1.49h-1.09zM961.28,267.5h1.11v1.33h-1.11zM965.16,264.69h0.85v0.93h-0.85zM963.87,268.36h0.51v0.8h-0.51zM957.71,268.26h1.09v0.99h-1.09zM960.35,267.23h0.71v1.04h-0.71zM970.12,268.16h1.15v0.71h-1.15zM969.78,269.95h0.54v0.6h-0.54zM972.35,266.33h0.64v0.39h-0.64zM957.87,267.28h0.94v0.65h-0.94zM964.12,265.92h0.8v0.75h-0.8zM964.82,266.17h0.59v0.51h-0.59zM970.4,266.76h0.73v0.76h-0.73zM965.5,269.82h1.18v1.57h-1.18zM964.85,266.64h1.07v1.38h-1.07zM973.43,265.68h0.54v0.71h-0.54zM974.59,269.24h0.56v0.69h-0.56zM958.35,265.38h0.78v1.22h-0.78zM976.26,264.18h0.78v0.64h-0.78zM961.09,269.93h0.89v0.71h-0.89zM962.69,269.08h0.68v0.87h-0.68zM958.79,266.72h0.5v0.65h-0.5zM969.92,266.38h0.67v0.9h-0.67zM959.36,266.31h1.01v1.16h-1.01zM966.42,266.05h0.95v1.11h-0.95zM970.74,268.92h0.8v0.68h-0.8zM970.26,269.94h0.98v1.18h-0.98zM956.35,266.46h0.59v0.69h-0.59zM969.63,264.3h0.53v0.78h-0.53zM971.19,264.84h1.03v1.46h-1.03zM976.6,264.06h0.82v1h-0.82z" fill="#444" opacity="0.8"/>
<path d="M900.84,125.14h0.62v0.66h-0.62zM904.87,134.11h0.61v0.81h-0.61zM909.9,122.13h0.53v0.45h-0.53zM907.28,131.47h0.68v1.08h-0.68zM911.77,128.79h0.66v0.92h-0.66zM898.86,126.17h0.65v0.58h-0.65zM899.39,121.77h0.87v1.29h-0.87zM913,126.86h0.73v0.67h-0.73zM913.11,130.1h0.98v0.71h-0.98zM895.28,131.35h0.81v0.84h-0.81zM900.74,121.18h0.64v1h-0.64zM904.09,126.63h1.08v1.5h-1.08zM907.97,126.26h0.61v0.84h-0.61zM896.05,128.89h1.05v1.58h-1.05zM896.88,126.73h0.65v1h-0.65zM895.69,129.8h0.99v0.63h-0.99zM894.77,131.04h1.01v0.64h-1.01zM903.99,126.37h0.89v0.58h-0.89zM903.1,127.04h0.93v0.72h-0.93zM898.71,126.44h0.94v0.64h-0.94zM907.86,121.29h1.05v0.95h-1.05zM914.42,128.97h0.69v0.88h-0.69zM908.74,123.03h1.03v1.14h-1.03zM898.04,128.42h0.76v1.16h-0.76zM907.55,122.81h0.61v0.88h-0.61zM904.12,130.76h1.06v1.34h-1.06zM897.28,132.09h1.07v1.07h-1.07zM908.44,125.65h0.79v0.53h-0.79zM899.66,125.1h0.92v1.14h-0.92zM905.87,131.43h0.65v0.77h-0.65zM905.07,120.46h1.02v1.47h-1.02zM901.15,119.67h0.92v0.62h-0.92zM896.27,122.87h0.8v0.95h-0.8zM900.03,124.07h0.72v1.06h-0.72zM895.51,122.59h0.65v0.92h-0.65zM904.97,122.1h0.65v0.48h-0.65zM905.35,131.97h1.13v0.79h-1.13zM911.59,130.28h0.91v1.4h-0.91zM895.23,125.27h0.96v1.45h-0.96zM901.51,129.46h1.15v0.95h-1.15zM913.22,127.15h0.63v0.66h-0.63zM903.27,118.6h1.11v0.82h-1.11zM906.83,131.71h0.87v1.32h-0.87zM908.71,125.23h1.08v1.65h-1.08zM907.24,130.08h0.82v0.91h-0.82zM893.25,126.89h1.04v1.17h-1.04zM906.32,125.49h0.82v1.01h-0.82zM902.95,125.64h0.96v1.51h-0.96zM902.38,130.51h0.53v0.69h-0.53zM907.8,126.31h1.01v1.18h-1.01z" fill="#555" opacity="0.7"/>
<path d="M925.56,288.31h1.02v1.2h-1.02zM920.89,283.07h0.69v0.43h-0.69zM925.8,279.45h0.98v1.2h-0.98zM921.73,281.63h0.63v0.81h-0.63zM927.96,285.33h0.93v1.42h-0.93zM930.32,289.43h0.58v0.84h-0.58zM934.77,288.47h0.79v0.78h-0.79zM929.02,286.6h0.73v1.09h-0.73zM927.28,277.51h0.78v0.69h-0.78zM920.37,285.18h1.16v1.07h-1.16zM927.99,280.26h0.85v0.59h-0.85zM930.96,284.32h0.8v0.49h-0.8zM932.77,287.19h0.74v1.02h-0.74zM923.53,288.4h0.59v0.76h-0.59zM925.25,289.35h0.75v0.69h-0.75zM932.15,292.73h1.1v0.95h-1.1zM928.64,278.29h0.83v0.74h-0.83zM932.37,292.13h0.64v0.72h-0.64zM934.76,279.9h0.51v0.7h-0.51zM931.56,277.68h1.11v1.47h-1.11zM920.53,287.98h0.79v0.51h-0.79zM922.99,279.14h0.69v1.04h-0.69zM923.67,284.71h0.62v0.87h-0.62zM927.48,286.18h0.93v1.05h-0.93zM933.5,286.47h1.11v1.5h-1.11zM929.36,292.47h0.51v0.7h-0.51zM923.43,278.48h0.83v0.9h-0.83zM931.86,277.92h0.9v0.98h-0.9zM929.97,281.2h0.61v0.53h-0.61zM928.99,290.13h0.69v0.42h-0.69zM927.59,286.13h0.64v0.87h-0.64zM923.51,290.5h0.71v0.79h-0.71zM933.34,284.44h0.85v1.05h-0.85zM928.47,288.88h0.51v0.48h-0.51zM931.08,277.85h0.53v0.67h-0.53zM925.86,286.32h0.93v0.81h-0.93zM923.92,278.14h0.53v0.44h-0.53zM934.28,290.16h0.92v1.25h-0.92zM926.33,288.7h1.09v0.67h-1.09zM929.23,289.26h0.53v0.37h-0.53zM927.73,277.62h0.83v0.94h-0.83zM922.47,286.88h1.17v0.83h-1.17zM926.14,290.98h0.8v0.69h-0.8zM932.23,281.7h0.61v0.37h-0.61zM921.63,284.04h1.09v1h-1.09zM923.36,278.07h0.99v1.39h-0.99zM927.06,291.79h0.61v0.76h-0.61zM929.43,294.75h0.8v1.07h-0.8zM924.59,290.18h1v1.36h-1zM930.15,289.84h0.84v1.28h-0.84z" fill="#555" opacity="0.7"/>
</g></g>
<path d="M840.21,222.4C842.15,226.34 847.01,238.14 851.8,246.01C856.6,253.88 862.89,261.89 868.97,269.61C875.05,277.34 885.06,288.57 888.28,292.36" fill="none" stroke="#000" stroke-width="2.5" stroke-linecap="round"/>
<path d="M1041.5,220.26C1040.64,223.83 1039.36,233.85 1036.35,241.72C1033.35,249.59 1028.13,258.88 1023.48,267.47C1018.83,276.05 1010.96,288.93 1008.45,293.22" fill="none" stroke="#000" stroke-width="2.5" stroke-linecap="round"/>
<polygon points="455,183 475.75,187.63 469.01,190.71 478.25,203.31 467.35,211.29 458.12,198.69 453.16,204.18" fill="#000"/>
<polygon points="722,159.5 731.34,140.4 732.76,147.67 747.99,141.28 753.21,153.72 737.98,160.11 742.17,166.22" fill="#000"/>
<polygon points="996.3,200.7 1005.8,181.68 1007.16,188.96 1021.34,183.15 1026.46,195.65 1012.28,201.45 1016.41,207.59" fill="#000"/>
<polygon points="919,197.6 939.92,201.37 933.32,204.72 942.88,216.69 932.32,225.11 922.77,213.14 918.04,218.84" fill="#000"/>
</g>

<g id="chart-b">
<rect x="84.2" y="503.7" width="431.1" height="302" fill="none" stroke="#4f4f4f" stroke-width="1.3"/>
<line x1="79" y1="503.7" x2="84.2" y2="503.7" stroke="#4f4f4f" stroke-width="1.3"/>
<text x="70" y="509.93" font-size="19" text-anchor="end" fill="#000" >10</text>
<line x1="79" y1="564.1" x2="84.2" y2="564.1" stroke="#4f4f4f" stroke-width="1.3"/>
<text x="70" y="570.33" font-size="19" text-anchor="end" fill="#000" >8</text>
<line x1="79" y1="624.5" x2="84.2" y2="624.5" stroke="#4f4f4f" stroke-width="1.3"/>
<text x="70" y="630.73" font-size="19" text-anchor="end" fill="#000" >6</text>
<line x1="79" y1="684.9" x2="84.2" y2="684.9" stroke="#4f4f4f" stroke-width="1.3"/>
<text x="70" y="691.13" font-size="19" text-anchor="end" fill="#000" >4</text>
<line x1="79" y1="745.3" x2="84.2" y2="745.3" stroke="#4f4f4f" stroke-width="1.3"/>
<text x="70" y="751.53" font-size="19" text-anchor="end" fill="#000" >2</text>
<line x1="79" y1="805.7" x2="84.2" y2="805.7" stroke="#4f4f4f" stroke-width="1.3"/>
<text x="70" y="811.93" font-size="19" text-anchor="end" fill="#000" >0</text>
<line x1="170.4" y1="805.7" x2="170.4" y2="810.9" stroke="#4f4f4f" stroke-width="1.3"/>
<text x="172.6" y="829.4" font-size="19" text-anchor="end" transform="rotate(-15 172.6 829.4)">0 mcg/ml</text>
<line x1="256.7" y1="805.7" x2="256.7" y2="810.9" stroke="#4f4f4f" stroke-width="1.3"/>
<text x="258.9" y="829.4" font-size="19" text-anchor="end" transform="rotate(-15 258.9 829.4)">50 mcg/ml</text>
<line x1="343" y1="805.7" x2="343" y2="810.9" stroke="#4f4f4f" stroke-width="1.3"/>
<text x="345.2" y="829.4" font-size="19" text-anchor="end" transform="rotate(-15 345.2 829.4)">100 mcg/ml</text>
<line x1="429.2" y1="805.7" x2="429.2" y2="810.9" stroke="#4f4f4f" stroke-width="1.3"/>
<text x="431.4" y="829.4" font-size="19" text-anchor="end" transform="rotate(-15 431.4 829.4)">200 mcg/ml</text>
<text x="34.4" y="654.6" font-size="19.2" text-anchor="middle" transform="rotate(-90 34.4 654.6)">Grams</text>
<text x="255.3" y="473.2" font-size="28.7" text-anchor="start" fill="#000" >Weight</text>
<text transform="translate(53.16 479.02) scale(1.2133 1.1564)" x="0" y="0" font-size="50" fill="#414042" class="lt">b</text>
<circle cx="170.4" cy="563.5" r="4.3" fill="#000"/>
<circle cx="170.4" cy="559.7" r="3.8" fill="#fff" stroke="#111" stroke-width="1.0"/>
<polygon points="165.65,584.3 175.15,584.3 170.4,592.4" fill="#000"/>
<circle cx="170.4" cy="598.3" r="4.3" fill="#000"/>
<circle cx="170.4" cy="607" r="4.3" fill="#000"/>
<circle cx="170.4" cy="612" r="4.3" fill="#000"/>
<circle cx="170.4" cy="614.5" r="4.3" fill="#000"/>
<circle cx="170.4" cy="620.7" r="4.3" fill="#000"/>
<rect x="146.35" y="596.5" width="49.3" height="8" fill="#a9a9a9" stroke="#4a4a4a" stroke-width="0.9"/>
<polygon points="256.7,565.9 261.7,570.9 256.7,575.9 251.7,570.9" fill="#000"/>
<polygon points="256.7,569.6 261.7,574.6 256.7,579.6 251.7,574.6" fill="#000"/>
<polygon points="256.7,572.1 261.7,577.1 256.7,582.1 251.7,577.1" fill="#000"/>
<polygon points="256.7,574.6 261.7,579.6 256.7,584.6 251.7,579.6" fill="#000"/>
<polygon points="256.7,592.5 261.7,597.5 256.7,602.5 251.7,597.5" fill="#000"/>
<polygon points="256.7,600 261.7,605 256.7,610 251.7,605" fill="#000"/>
<polygon points="256.7,616.4 261.7,621.4 256.7,626.4 251.7,621.4" fill="#000"/>
<polygon points="256.7,636.4 261.7,641.4 256.7,646.4 251.7,641.4" fill="#000"/>
<rect x="232.05" y="595.2" width="49.3" height="8.3" fill="#a9a9a9" stroke="#4a4a4a" stroke-width="0.9"/>
<polygon points="338.25,573.2 347.75,573.2 343,565.1" fill="#000"/>
<polygon points="338.25,580.6 347.75,580.6 343,572.5" fill="#000"/>
<polygon points="338.25,584.4 347.75,584.4 343,576.3" fill="#000"/>
<polygon points="338.25,586.9 347.75,586.9 343,578.8" fill="#000"/>
<polygon points="338.25,594.3 347.75,594.3 343,586.2" fill="#000"/>
<polygon points="343,620.1 347.6,624.7 343,629.3 338.4,624.7" fill="#fff" stroke="#111" stroke-width="1.0"/>
<rect x="318.35" y="591.3" width="49.3" height="8.2" fill="#a9a9a9" stroke="#4a4a4a" stroke-width="0.9"/>
<polygon points="425.12,556.38 433.28,556.38 429.2,563.34" fill="#fff" stroke="#111" stroke-width="1.0"/>
<polygon points="429.2,571.2 425.38,573.45 425.38,577.95 429.2,580.2 433.02,577.95 433.02,573.45" fill="#000" stroke="#000" stroke-width="0.6" stroke-linejoin="round"/>
<polygon points="429.2,576 425.38,578.25 425.38,582.75 429.2,585 433.02,582.75 433.02,578.25" fill="#000" stroke="#000" stroke-width="0.6" stroke-linejoin="round"/>
<circle cx="429.2" cy="593" r="3.8" fill="#fff" stroke="#111" stroke-width="1.0"/>
<polygon points="429.2,593.5 425.38,595.75 425.38,600.25 429.2,602.5 433.02,600.25 433.02,595.75" fill="#000" stroke="#000" stroke-width="0.6" stroke-linejoin="round"/>
<polygon points="429.2,596.7 425.38,598.95 425.38,603.45 429.2,605.7 433.02,603.45 433.02,598.95" fill="#000" stroke="#000" stroke-width="0.6" stroke-linejoin="round"/>
<polygon points="429.2,642.4 425.72,644.45 425.72,648.55 429.2,650.6 432.68,648.55 432.68,644.45" fill="#fff" stroke="#111" stroke-width="1.0" stroke-linejoin="round"/>
<rect x="405.75" y="583.2" width="49.3" height="8.3" fill="#a9a9a9" stroke="#4a4a4a" stroke-width="0.9"/>
<rect x="515.4" y="558.3" width="109.80000000000007" height="247.60000000000002" fill="#fff" stroke="#555" stroke-width="1.4"/>
<circle cx="540" cy="574.8" r="4.08" fill="#000"/>
<text x="564.6" y="579.8" font-size="14.3" text-anchor="start" fill="#000" >Litter 1</text>
<circle cx="540" cy="592.68" r="3.61" fill="#fff" stroke="#111" stroke-width="1.0"/>
<text x="564.6" y="597.68" font-size="14.3" text-anchor="start" fill="#000" >Litter 2</text>
<polygon points="535.49,607.23 544.51,607.23 540,614.93" fill="#000"/>
<text x="564.6" y="615.56" font-size="14.3" text-anchor="start" fill="#000" >Litter 3</text>
<polygon points="536.12,631.41 543.88,631.41 540,624.79" fill="#fff" stroke="#111" stroke-width="1.0"/>
<text x="564.6" y="633.44" font-size="14.3" text-anchor="start" fill="#000" >Litter 4</text>
<rect x="536.29" y="642.61" width="7.41" height="7.41" fill="#000"/>
<text x="564.6" y="651.32" font-size="14.3" text-anchor="start" fill="#000" >Litter 5</text>
<rect x="536.77" y="660.97" width="6.46" height="6.46" fill="#fff" stroke="#333" stroke-width="1.0"/>
<text x="564.6" y="669.2" font-size="14.3" text-anchor="start" fill="#000" >Litter 6</text>
<polygon points="540,677.33 544.75,682.08 540,686.83 535.25,682.08" fill="#000"/>
<text x="564.6" y="687.08" font-size="14.3" text-anchor="start" fill="#000" >Litter 7</text>
<polygon points="540,695.59 544.37,699.96 540,704.33 535.63,699.96" fill="#fff" stroke="#111" stroke-width="1.0"/>
<text x="564.6" y="704.96" font-size="14.3" text-anchor="start" fill="#000" >Litter 8</text>
<polygon points="535.49,721.16 544.51,721.16 540,713.47" fill="#000"/>
<text x="564.6" y="722.84" font-size="14.3" text-anchor="start" fill="#000" >Litter 9</text>
<polygon points="536.12,732.75 543.88,732.75 540,739.37" fill="#fff" stroke="#111" stroke-width="1.0"/>
<text x="564.6" y="740.72" font-size="14.3" text-anchor="start" fill="#000" >Litter 10</text>
<polygon points="540,749.32 536.37,751.46 536.37,755.74 540,757.87 543.63,755.74 543.63,751.46" fill="#000" stroke="#000" stroke-width="0.6" stroke-linejoin="round"/>
<text x="564.6" y="758.6" font-size="14.3" text-anchor="start" fill="#000" >Litter 11</text>
<polygon points="540,767.58 536.69,769.53 536.69,773.43 540,775.37 543.31,773.43 543.31,769.53" fill="#fff" stroke="#111" stroke-width="1.0" stroke-linejoin="round"/>
<text x="564.6" y="776.48" font-size="14.3" text-anchor="start" fill="#000" >Litter 12</text>
<circle cx="540" cy="789.36" r="4.08" fill="#000"/>
<text x="564.6" y="794.36" font-size="14.3" text-anchor="start" fill="#000" >Litter 13</text>
</g>
<g id="chart-c">
<line x1="731.95" y1="503.1" x2="1164.25" y2="503.1" stroke="#6c6c6c" stroke-width="1.8"/>
<line x1="731.95" y1="804.8" x2="1164.25" y2="804.8" stroke="#6c6c6c" stroke-width="1.8"/>
<line x1="732.6" y1="503.1" x2="732.6" y2="804.8" stroke="#4f4f4f" stroke-width="1.3"/>
<line x1="1163.6" y1="503.1" x2="1163.6" y2="804.8" stroke="#4f4f4f" stroke-width="1.3"/>
<line x1="727.4" y1="503.2" x2="732.6" y2="503.2" stroke="#4f4f4f" stroke-width="1.3"/>
<text x="718.4" y="509.43" font-size="19" text-anchor="end" fill="#000" >165</text>
<line x1="727.4" y1="553.53" x2="732.6" y2="553.53" stroke="#4f4f4f" stroke-width="1.3"/>
<text x="718.4" y="559.76" font-size="19" text-anchor="end" fill="#000" >160</text>
<line x1="727.4" y1="603.87" x2="732.6" y2="603.87" stroke="#4f4f4f" stroke-width="1.3"/>
<text x="718.4" y="610.09" font-size="19" text-anchor="end" fill="#000" >155</text>
<line x1="727.4" y1="654.2" x2="732.6" y2="654.2" stroke="#4f4f4f" stroke-width="1.3"/>
<text x="718.4" y="660.43" font-size="19" text-anchor="end" fill="#000" >150</text>
<line x1="727.4" y1="704.53" x2="732.6" y2="704.53" stroke="#4f4f4f" stroke-width="1.3"/>
<text x="718.4" y="710.76" font-size="19" text-anchor="end" fill="#000" >145</text>
<line x1="727.4" y1="754.87" x2="732.6" y2="754.87" stroke="#4f4f4f" stroke-width="1.3"/>
<text x="718.4" y="761.09" font-size="19" text-anchor="end" fill="#000" >140</text>
<line x1="727.4" y1="805.2" x2="732.6" y2="805.2" stroke="#4f4f4f" stroke-width="1.3"/>
<text x="718.4" y="811.43" font-size="19" text-anchor="end" fill="#000" >135</text>
<line x1="818.5" y1="804.8" x2="818.5" y2="810" stroke="#4f4f4f" stroke-width="1.3"/>
<text x="820.7" y="828.5" font-size="19" text-anchor="end" transform="rotate(-15 820.7 828.5)">0 mcg/ml</text>
<line x1="904.9" y1="804.8" x2="904.9" y2="810" stroke="#4f4f4f" stroke-width="1.3"/>
<text x="907.1" y="828.5" font-size="19" text-anchor="end" transform="rotate(-15 907.1 828.5)">50 mcg/ml</text>
<line x1="991.2" y1="804.8" x2="991.2" y2="810" stroke="#4f4f4f" stroke-width="1.3"/>
<text x="993.4" y="828.5" font-size="19" text-anchor="end" transform="rotate(-15 993.4 828.5)">100 mcg/ml</text>
<line x1="1077.6" y1="804.8" x2="1077.6" y2="810" stroke="#4f4f4f" stroke-width="1.3"/>
<text x="1079.8" y="828.5" font-size="19" text-anchor="end" transform="rotate(-15 1079.8 828.5)">200 mcg/ml</text>
<text x="672.3" y="654" font-size="19.1" text-anchor="middle" transform="rotate(-90 672.3 654)">Cranial index</text>
<text x="864.7" y="472.5" font-size="28.7" text-anchor="start" fill="#000" >Cranial index</text>
<text transform="translate(701.71 479.46) scale(1.0558 1.0756)" x="0" y="0" font-size="50" fill="#414042" class="lt">c</text>
<circle cx="818.5" cy="533.5" r="4.3" fill="#000"/>
<polygon points="818.5,560 814.68,562.25 814.68,566.75 818.5,569 822.32,566.75 822.32,562.25" fill="#000" stroke="#000" stroke-width="0.6" stroke-linejoin="round"/>
<circle cx="818.5" cy="577.5" r="4.3" fill="#000"/>
<polygon points="813.75,581.5 823.25,581.5 818.5,589.6" fill="#000"/>
<circle cx="818.5" cy="591.2" r="4.3" fill="#000"/>
<circle cx="818.5" cy="600.5" r="4.3" fill="#000"/>
<circle cx="818.5" cy="629.7" r="3.8" fill="#fff" stroke="#111" stroke-width="1.0"/>
<circle cx="818.5" cy="646.3" r="4.3" fill="#000"/>
<circle cx="818.5" cy="658.2" r="3.8" fill="#fff" stroke="#111" stroke-width="1.0"/>
<circle cx="818.5" cy="671.2" r="4.3" fill="#000"/>
<circle cx="818.5" cy="678.5" r="3.8" fill="#fff" stroke="#111" stroke-width="1.0"/>
<rect x="792.55" y="609" width="49.3" height="8" fill="#a9a9a9" stroke="#4a4a4a" stroke-width="0.9"/>
<polygon points="904.9,560 909.9,565 904.9,570 899.9,565" fill="#000"/>
<polygon points="900.81,582.12 908.99,582.12 904.9,575.16" fill="#fff" stroke="#111" stroke-width="1.0"/>
<rect x="901.5" y="603.3" width="6.8" height="6.8" fill="#fff" stroke="#333" stroke-width="1.0"/>
<rect x="901.5" y="656.6" width="6.8" height="6.8" fill="#fff" stroke="#333" stroke-width="1.0"/>
<polygon points="904.9,665.5 909.9,670.5 904.9,675.5 899.9,670.5" fill="#000"/>
<polygon points="900.81,682.62 908.99,682.62 904.9,675.66" fill="#fff" stroke="#111" stroke-width="1.0"/>
<rect x="901.5" y="689.6" width="6.8" height="6.8" fill="#fff" stroke="#333" stroke-width="1.0"/>
<polygon points="904.9,705 909.9,710 904.9,715 899.9,710" fill="#000"/>
<polygon points="900.81,735.12 908.99,735.12 904.9,728.16" fill="#fff" stroke="#111" stroke-width="1.0"/>
<polygon points="904.9,723 909.9,728 904.9,733 899.9,728" fill="#000"/>
<rect x="901.5" y="764.8" width="6.8" height="6.8" fill="#fff" stroke="#333" stroke-width="1.0"/>
<rect x="880.25" y="670.5" width="49.3" height="8" fill="#a9a9a9" stroke="#4a4a4a" stroke-width="0.9"/>
<polygon points="991.2,555.9 995.8,560.5 991.2,565.1 986.6,560.5" fill="#fff" stroke="#111" stroke-width="1.0"/>
<polygon points="991.2,601.4 995.8,606 991.2,610.6 986.6,606" fill="#fff" stroke="#111" stroke-width="1.0"/>
<polygon points="991.2,610.4 995.8,615 991.2,619.6 986.6,615" fill="#fff" stroke="#111" stroke-width="1.0"/>
<polygon points="986.45,614.5 995.95,614.5 991.2,606.4" fill="#000"/>
<polygon points="991.2,618.4 995.8,623 991.2,627.6 986.6,623" fill="#fff" stroke="#111" stroke-width="1.0"/>
<polygon points="991.2,624.9 995.8,629.5 991.2,634.1 986.6,629.5" fill="#fff" stroke="#111" stroke-width="1.0"/>
<polygon points="986.45,653.5 995.95,653.5 991.2,645.4" fill="#000"/>
<polygon points="986.45,663 995.95,663 991.2,654.9" fill="#000"/>
<polygon points="986.45,672.7 995.95,672.7 991.2,664.6" fill="#000"/>
<polygon points="986.45,685.5 995.95,685.5 991.2,677.4" fill="#000"/>
<rect x="966.55" y="630.7" width="49.3" height="8" fill="#a9a9a9" stroke="#4a4a4a" stroke-width="0.9"/>
<polygon points="1077.6,568.5 1073.78,570.75 1073.78,575.25 1077.6,577.5 1081.42,575.25 1081.42,570.75" fill="#000" stroke="#000" stroke-width="0.6" stroke-linejoin="round"/>
<polygon points="1073.51,585.88 1081.68,585.88 1077.6,592.84" fill="#fff" stroke="#111" stroke-width="1.0"/>
<polygon points="1077.6,618.5 1073.78,620.75 1073.78,625.25 1077.6,627.5 1081.42,625.25 1081.42,620.75" fill="#000" stroke="#000" stroke-width="0.6" stroke-linejoin="round"/>
<rect x="1074.2" y="633.6" width="6.8" height="6.8" fill="#fff" stroke="#333" stroke-width="1.0"/>
<polygon points="1077.6,634.4 1074.12,636.45 1074.12,640.55 1077.6,642.6 1081.08,640.55 1081.08,636.45" fill="#fff" stroke="#111" stroke-width="1.0" stroke-linejoin="round"/>
<polygon points="1077.6,657.9 1074.12,659.95 1074.12,664.05 1077.6,666.1 1081.08,664.05 1081.08,659.95" fill="#fff" stroke="#111" stroke-width="1.0" stroke-linejoin="round"/>
<polygon points="1077.6,660.9 1074.12,662.95 1074.12,667.05 1077.6,669.1 1081.08,667.05 1081.08,662.95" fill="#fff" stroke="#111" stroke-width="1.0" stroke-linejoin="round"/>
<polygon points="1077.6,663.9 1074.12,665.95 1074.12,670.05 1077.6,672.1 1081.08,670.05 1081.08,665.95" fill="#fff" stroke="#111" stroke-width="1.0" stroke-linejoin="round"/>
<polygon points="1077.6,671.7 1073.78,673.95 1073.78,678.45 1077.6,680.7 1081.42,678.45 1081.42,673.95" fill="#000" stroke="#000" stroke-width="0.6" stroke-linejoin="round"/>
<polygon points="1073.51,685.58 1081.68,685.58 1077.6,692.54" fill="#fff" stroke="#111" stroke-width="1.0"/>
<polygon points="1077.6,723.4 1074.12,725.45 1074.12,729.55 1077.6,731.6 1081.08,729.55 1081.08,725.45" fill="#fff" stroke="#111" stroke-width="1.0" stroke-linejoin="round"/>
<rect x="1052.95" y="650" width="49.3" height="7.7" fill="#a9a9a9" stroke="#4a4a4a" stroke-width="0.9"/>
<line x1="821.1" y1="520.5" x2="905.6" y2="520.5" stroke="#666" stroke-width="1.1"/><text transform="translate(852.79 525.39) scale(0.8125 0.7714)" x="0" y="0" font-size="30" style="stroke-width:0.3px">**</text>
</g>
<g id="chart-d">
<rect x="84.2" y="945.7" width="431.5" height="301.9" fill="none" stroke="#4f4f4f" stroke-width="1.3"/>
<line x1="79" y1="945.7" x2="84.2" y2="945.7" stroke="#4f4f4f" stroke-width="1.3"/>
<text x="70" y="951.93" font-size="19" text-anchor="end" fill="#000" >7.5</text>
<line x1="79" y1="1006.08" x2="84.2" y2="1006.08" stroke="#4f4f4f" stroke-width="1.3"/>
<text x="70" y="1012.31" font-size="19" text-anchor="end" fill="#000" >7.0</text>
<line x1="79" y1="1066.46" x2="84.2" y2="1066.46" stroke="#4f4f4f" stroke-width="1.3"/>
<text x="70" y="1072.69" font-size="19" text-anchor="end" fill="#000" >6.5</text>
<line x1="79" y1="1126.84" x2="84.2" y2="1126.84" stroke="#4f4f4f" stroke-width="1.3"/>
<text x="70" y="1133.07" font-size="19" text-anchor="end" fill="#000" >6.0</text>
<line x1="79" y1="1187.22" x2="84.2" y2="1187.22" stroke="#4f4f4f" stroke-width="1.3"/>
<text x="70" y="1193.45" font-size="19" text-anchor="end" fill="#000" >5.5</text>
<line x1="79" y1="1247.6" x2="84.2" y2="1247.6" stroke="#4f4f4f" stroke-width="1.3"/>
<text x="70" y="1253.83" font-size="19" text-anchor="end" fill="#000" >5.0</text>
<line x1="170.3" y1="1247.6" x2="170.3" y2="1252.8" stroke="#4f4f4f" stroke-width="1.3"/>
<text x="172.5" y="1271.3" font-size="19" text-anchor="end" transform="rotate(-15 172.5 1271.3)">0 mcg/ml</text>
<line x1="256.7" y1="1247.6" x2="256.7" y2="1252.8" stroke="#4f4f4f" stroke-width="1.3"/>
<text x="258.9" y="1271.3" font-size="19" text-anchor="end" transform="rotate(-15 258.9 1271.3)">50 mcg/ml</text>
<line x1="343" y1="1247.6" x2="343" y2="1252.8" stroke="#4f4f4f" stroke-width="1.3"/>
<text x="345.2" y="1271.3" font-size="19" text-anchor="end" transform="rotate(-15 345.2 1271.3)">100 mcg/ml</text>
<line x1="429.3" y1="1247.6" x2="429.3" y2="1252.8" stroke="#4f4f4f" stroke-width="1.3"/>
<text x="431.5" y="1271.3" font-size="19" text-anchor="end" transform="rotate(-15 431.5 1271.3)">200 mcg/ml</text>
<text x="29.3" y="1097" font-size="19.2" text-anchor="middle" transform="rotate(-90 29.3 1097)">mm</text>
<text x="211.2" y="914.5" font-size="28.7" text-anchor="start" fill="#000" >Cranial height</text>
<text transform="translate(52.82 921.32) scale(1.1912 1.1618)" x="0" y="0" font-size="50" fill="#414042" class="lt">d</text>
<circle cx="170.3" cy="1028" r="4.3" fill="#000"/>
<circle cx="170.3" cy="1037" r="4.3" fill="#000"/>
<circle cx="170.3" cy="1042" r="4.3" fill="#000"/>
<circle cx="170.3" cy="1047.5" r="4.3" fill="#000"/>
<circle cx="170.3" cy="1068" r="4.3" fill="#000"/>
<circle cx="170.3" cy="1063" r="3.8" fill="#fff" stroke="#111" stroke-width="1.0"/>
<circle cx="170.3" cy="1077" r="4.3" fill="#000"/>
<circle cx="170.3" cy="1080.5" r="4.3" fill="#000"/>
<rect x="145.65" y="1051" width="49.3" height="8" fill="#a9a9a9" stroke="#4a4a4a" stroke-width="0.9"/>
<polygon points="252.61,1009.82 260.78,1009.82 256.7,1002.86" fill="#fff" stroke="#111" stroke-width="1.0"/>
<rect x="253.3" y="1025.3" width="6.8" height="6.8" fill="#fff" stroke="#333" stroke-width="1.0"/>
<polygon points="256.7,1014.5 261.7,1019.5 256.7,1024.5 251.7,1019.5" fill="#000"/>
<polygon points="256.7,1018 261.7,1023 256.7,1028 251.7,1023" fill="#000"/>
<polygon points="252.61,1045.62 260.78,1045.62 256.7,1038.66" fill="#fff" stroke="#111" stroke-width="1.0"/>
<polygon points="252.61,1051.12 260.78,1051.12 256.7,1044.16" fill="#fff" stroke="#111" stroke-width="1.0"/>
<polygon points="252.61,1058.62 260.78,1058.62 256.7,1051.66" fill="#fff" stroke="#111" stroke-width="1.0"/>
<rect x="253.3" y="1108.1" width="6.8" height="6.8" fill="#fff" stroke="#333" stroke-width="1.0"/>
<rect x="232.05" y="1032.5" width="49.3" height="8.2" fill="#a9a9a9" stroke="#4a4a4a" stroke-width="0.9"/>
<polygon points="343,1029.4 347.6,1034 343,1038.6 338.4,1034" fill="#fff" stroke="#111" stroke-width="1.0"/>
<polygon points="343,1042.4 347.6,1047 343,1051.6 338.4,1047" fill="#fff" stroke="#111" stroke-width="1.0"/>
<polygon points="343,1038.7 348,1043.7 343,1048.7 338,1043.7" fill="#000"/>
<polygon points="338.25,1066 347.75,1066 343,1057.9" fill="#000"/>
<polygon points="343,1061 348,1066 343,1071 338,1066" fill="#000"/>
<polygon points="338.25,1072.5 347.75,1072.5 343,1064.4" fill="#000"/>
<polygon points="343,1067 348,1072 343,1077 338,1072" fill="#000"/>
<polygon points="343,1071 348,1076 343,1081 338,1076" fill="#000"/>
<rect x="318.35" y="1051" width="49.3" height="8.5" fill="#a9a9a9" stroke="#4a4a4a" stroke-width="0.9"/>
<polygon points="425.22,1029.38 433.38,1029.38 429.3,1036.34" fill="#fff" stroke="#111" stroke-width="1.0"/>
<polygon points="425.22,1032.88 433.38,1032.88 429.3,1039.84" fill="#fff" stroke="#111" stroke-width="1.0"/>
<polygon points="429.3,1045.9 425.82,1047.95 425.82,1052.05 429.3,1054.1 432.78,1052.05 432.78,1047.95" fill="#fff" stroke="#111" stroke-width="1.0" stroke-linejoin="round"/>
<polygon points="429.3,1051 425.48,1053.25 425.48,1057.75 429.3,1060 433.12,1057.75 433.12,1053.25" fill="#000" stroke="#000" stroke-width="0.6" stroke-linejoin="round"/>
<polygon points="429.3,1056.9 425.82,1058.95 425.82,1063.05 429.3,1065.1 432.78,1063.05 432.78,1058.95" fill="#fff" stroke="#111" stroke-width="1.0" stroke-linejoin="round"/>
<polygon points="429.3,1099.5 425.48,1101.75 425.48,1106.25 429.3,1108.5 433.12,1106.25 433.12,1101.75" fill="#000" stroke="#000" stroke-width="0.6" stroke-linejoin="round"/>
<rect x="405.25" y="1038.7" width="49.3" height="8" fill="#a9a9a9" stroke="#4a4a4a" stroke-width="0.9"/>
</g>
<g id="chart-e">
<rect x="733" y="945.3" width="431.2" height="301.9" fill="none" stroke="#4f4f4f" stroke-width="1.3"/>
<line x1="727.8" y1="945" x2="733" y2="945" stroke="#4f4f4f" stroke-width="1.3"/>
<text x="718.8" y="951.23" font-size="19" text-anchor="end" fill="#000" >200</text>
<line x1="727.8" y1="1020.55" x2="733" y2="1020.55" stroke="#4f4f4f" stroke-width="1.3"/>
<text x="718.8" y="1026.78" font-size="19" text-anchor="end" fill="#000" >150</text>
<line x1="727.8" y1="1096.1" x2="733" y2="1096.1" stroke="#4f4f4f" stroke-width="1.3"/>
<text x="718.8" y="1102.33" font-size="19" text-anchor="end" fill="#000" >100</text>
<line x1="727.8" y1="1171.65" x2="733" y2="1171.65" stroke="#4f4f4f" stroke-width="1.3"/>
<text x="718.8" y="1177.88" font-size="19" text-anchor="end" fill="#000" >50</text>
<line x1="727.8" y1="1247.2" x2="733" y2="1247.2" stroke="#4f4f4f" stroke-width="1.3"/>
<text x="718.8" y="1253.43" font-size="19" text-anchor="end" fill="#000" >0</text>
<line x1="819" y1="1247.2" x2="819" y2="1252.4" stroke="#4f4f4f" stroke-width="1.3"/>
<text x="821.2" y="1270.9" font-size="19" text-anchor="end" transform="rotate(-15 821.2 1270.9)">0 mcg/ml</text>
<line x1="905" y1="1247.2" x2="905" y2="1252.4" stroke="#4f4f4f" stroke-width="1.3"/>
<text x="907.2" y="1270.9" font-size="19" text-anchor="end" transform="rotate(-15 907.2 1270.9)">50 mcg/ml</text>
<line x1="991.5" y1="1247.2" x2="991.5" y2="1252.4" stroke="#4f4f4f" stroke-width="1.3"/>
<text x="993.7" y="1270.9" font-size="19" text-anchor="end" transform="rotate(-15 993.7 1270.9)">100 mcg/ml</text>
<line x1="1078" y1="1247.2" x2="1078" y2="1252.4" stroke="#4f4f4f" stroke-width="1.3"/>
<text x="1080.2" y="1270.9" font-size="19" text-anchor="end" transform="rotate(-15 1080.2 1270.9)">200 mcg/ml</text>
<text x="672.3" y="1097" font-size="19.2" text-anchor="middle" transform="rotate(-90 672.3 1097)">micrometer</text>
<text x="816.7" y="914" font-size="28.7" text-anchor="start" fill="#000" >Coronal suture width</text>
<text transform="translate(701.64 921.35) scale(1.0894 1.0939)" x="0" y="0" font-size="50" fill="#414042" class="lt">e</text>
<polygon points="814.25,1010.2 823.75,1010.2 819,1018.3" fill="#000"/>
<circle cx="819" cy="1068" r="4.3" fill="#000"/>
<circle cx="819" cy="1089.5" r="4.3" fill="#000"/>
<circle cx="819" cy="1098.7" r="4.3" fill="#000"/>
<circle cx="819" cy="1100" r="4.3" fill="#000"/>
<circle cx="819" cy="1107" r="4.3" fill="#000"/>
<rect x="793.35" y="1068.7" width="49.3" height="8.3" fill="#a9a9a9" stroke="#4a4a4a" stroke-width="0.9"/>
<polygon points="905,985 910,990 905,995 900,990" fill="#000"/>
<rect x="901.1" y="988.6" width="7.8" height="7.8" fill="#000"/>
<rect x="901.1" y="992.1" width="7.8" height="7.8" fill="#000"/>
<rect x="901.1" y="996.1" width="7.8" height="7.8" fill="#000"/>
<rect x="901.1" y="1002.1" width="7.8" height="7.8" fill="#000"/>
<polygon points="905,999 910,1004 905,1009 900,1004" fill="#000"/>
<polygon points="905,1021 910,1026 905,1031 900,1026" fill="#000"/>
<polygon points="905,1027.5 910,1032.5 905,1037.5 900,1032.5" fill="#000"/>
<rect x="901.1" y="1051.1" width="7.8" height="7.8" fill="#000"/>
<rect x="901.1" y="1056.1" width="7.8" height="7.8" fill="#000"/>
<polygon points="905,1052 910,1057 905,1062 900,1057" fill="#000"/>
<rect x="901.6" y="1069.6" width="6.8" height="6.8" fill="#fff" stroke="#333" stroke-width="1.0"/>
<rect x="901.6" y="1081.6" width="6.8" height="6.8" fill="#fff" stroke="#333" stroke-width="1.0"/>
<polygon points="905,1076 910,1081 905,1086 900,1081" fill="#000"/>
<polygon points="905,1085 910,1090 905,1095 900,1090" fill="#000"/>
<polygon points="905,1087.5 910,1092.5 905,1097.5 900,1092.5" fill="#000"/>
<rect x="901.6" y="1137.9" width="6.8" height="6.8" fill="#fff" stroke="#333" stroke-width="1.0"/>
<rect x="880.35" y="1042.7" width="49.3" height="8" fill="#a9a9a9" stroke="#4a4a4a" stroke-width="0.9"/>
<polygon points="991.5,975.4 996.1,980 991.5,984.6 986.9,980" fill="#fff" stroke="#111" stroke-width="1.0"/>
<polygon points="991.5,1006.4 996.1,1011 991.5,1015.6 986.9,1011" fill="#fff" stroke="#111" stroke-width="1.0"/>
<polygon points="986.75,1017.2 996.25,1017.2 991.5,1009.1" fill="#000"/>
<polygon points="986.75,1021.5 996.25,1021.5 991.5,1013.4" fill="#000"/>
<polygon points="986.75,1036.5 996.25,1036.5 991.5,1028.4" fill="#000"/>
<polygon points="986.75,1059.2 996.25,1059.2 991.5,1051.1" fill="#000"/>
<polygon points="986.75,1084.2 996.25,1084.2 991.5,1076.1" fill="#000"/>
<polygon points="991.5,1085.4 996.1,1090 991.5,1094.6 986.9,1090" fill="#fff" stroke="#111" stroke-width="1.0"/>
<polygon points="986.75,1099.5 996.25,1099.5 991.5,1091.4" fill="#000"/>
<polygon points="991.5,1097.9 996.1,1102.5 991.5,1107.1 986.9,1102.5" fill="#fff" stroke="#111" stroke-width="1.0"/>
<polygon points="991.5,1101.4 996.1,1106 991.5,1110.6 986.9,1106" fill="#fff" stroke="#111" stroke-width="1.0"/>
<polygon points="991.5,1115 996.1,1119.6 991.5,1124.2 986.9,1119.6" fill="#fff" stroke="#111" stroke-width="1.0"/>
<rect x="966.85" y="1057" width="49.3" height="8" fill="#a9a9a9" stroke="#4a4a4a" stroke-width="0.9"/>
<circle cx="1078" cy="969" r="4.3" fill="#000"/>
<polygon points="1073.91,980.58 1082.09,980.58 1078,987.54" fill="#fff" stroke="#111" stroke-width="1.0"/>
<polygon points="1073.91,994.38 1082.09,994.38 1078,1001.34" fill="#fff" stroke="#111" stroke-width="1.0"/>
<polygon points="1078,1006.9 1074.52,1008.95 1074.52,1013.05 1078,1015.1 1081.48,1013.05 1081.48,1008.95" fill="#fff" stroke="#111" stroke-width="1.0" stroke-linejoin="round"/>
<polygon points="1078,1001.5 1074.18,1003.75 1074.18,1008.25 1078,1010.5 1081.82,1008.25 1081.82,1003.75" fill="#000" stroke="#000" stroke-width="0.6" stroke-linejoin="round"/>
<polygon points="1078,1016.5 1074.18,1018.75 1074.18,1023.25 1078,1025.5 1081.82,1023.25 1081.82,1018.75" fill="#000" stroke="#000" stroke-width="0.6" stroke-linejoin="round"/>
<polygon points="1078,1051.9 1074.52,1053.95 1074.52,1058.05 1078,1060.1 1081.48,1058.05 1081.48,1053.95" fill="#fff" stroke="#111" stroke-width="1.0" stroke-linejoin="round"/>
<polygon points="1078,1041.5 1074.18,1043.75 1074.18,1048.25 1078,1050.5 1081.82,1048.25 1081.82,1043.75" fill="#000" stroke="#000" stroke-width="0.6" stroke-linejoin="round"/>
<polygon points="1078,1045.5 1074.18,1047.75 1074.18,1052.25 1078,1054.5 1081.82,1052.25 1081.82,1047.75" fill="#000" stroke="#000" stroke-width="0.6" stroke-linejoin="round"/>
<polygon points="1078,1076.5 1074.18,1078.75 1074.18,1083.25 1078,1085.5 1081.82,1083.25 1081.82,1078.75" fill="#000" stroke="#000" stroke-width="0.6" stroke-linejoin="round"/>
<polygon points="1078,1081.4 1074.52,1083.45 1074.52,1087.55 1078,1089.6 1081.48,1087.55 1081.48,1083.45" fill="#fff" stroke="#111" stroke-width="1.0" stroke-linejoin="round"/>
<polygon points="1078,1093.9 1074.52,1095.95 1074.52,1100.05 1078,1102.1 1081.48,1100.05 1081.48,1095.95" fill="#fff" stroke="#111" stroke-width="1.0" stroke-linejoin="round"/>
<polygon points="1078,1022.5 1074.18,1024.75 1074.18,1029.25 1078,1031.5 1081.82,1029.25 1081.82,1024.75" fill="#000" stroke="#000" stroke-width="0.6" stroke-linejoin="round"/>
<rect x="1053.35" y="1031.7" width="49.3" height="8.3" fill="#a9a9a9" stroke="#4a4a4a" stroke-width="0.9"/>
</g>
<g id="chart-f">
<rect x="85.5" y="1380.2" width="431.5" height="301.5" fill="none" stroke="#4f4f4f" stroke-width="1.3"/>
<line x1="80.3" y1="1380.2" x2="85.5" y2="1380.2" stroke="#4f4f4f" stroke-width="1.3"/>
<text x="72.1" y="1385.53" font-size="16.4" text-anchor="end" fill="#000" >3.0</text>
<line x1="80.3" y1="1430.45" x2="85.5" y2="1430.45" stroke="#4f4f4f" stroke-width="1.3"/>
<text x="72.1" y="1435.78" font-size="16.4" text-anchor="end" fill="#000" >2.5</text>
<line x1="80.3" y1="1480.7" x2="85.5" y2="1480.7" stroke="#4f4f4f" stroke-width="1.3"/>
<text x="72.1" y="1486.03" font-size="16.4" text-anchor="end" fill="#000" >2.0</text>
<line x1="80.3" y1="1530.95" x2="85.5" y2="1530.95" stroke="#4f4f4f" stroke-width="1.3"/>
<text x="72.1" y="1536.28" font-size="16.4" text-anchor="end" fill="#000" >1.5</text>
<line x1="80.3" y1="1581.2" x2="85.5" y2="1581.2" stroke="#4f4f4f" stroke-width="1.3"/>
<text x="72.1" y="1586.53" font-size="16.4" text-anchor="end" fill="#000" >1.0</text>
<line x1="80.3" y1="1631.45" x2="85.5" y2="1631.45" stroke="#4f4f4f" stroke-width="1.3"/>
<text x="72.1" y="1636.78" font-size="16.4" text-anchor="end" fill="#000" >0.5</text>
<line x1="80.3" y1="1681.7" x2="85.5" y2="1681.7" stroke="#4f4f4f" stroke-width="1.3"/>
<text x="72.1" y="1687.03" font-size="16.4" text-anchor="end" fill="#000" >0.0</text>
<line x1="171.2" y1="1681.7" x2="171.2" y2="1686.9" stroke="#4f4f4f" stroke-width="1.3"/>
<text x="173.4" y="1705.4" font-size="19" text-anchor="end" transform="rotate(-15 173.4 1705.4)">0 mcg/ml</text>
<line x1="257.3" y1="1681.7" x2="257.3" y2="1686.9" stroke="#4f4f4f" stroke-width="1.3"/>
<text x="259.5" y="1705.4" font-size="19" text-anchor="end" transform="rotate(-15 259.5 1705.4)">50 mcg/ml</text>
<line x1="343.4" y1="1681.7" x2="343.4" y2="1686.9" stroke="#4f4f4f" stroke-width="1.3"/>
<text x="345.6" y="1705.4" font-size="19" text-anchor="end" transform="rotate(-15 345.6 1705.4)">100 mcg/ml</text>
<line x1="430" y1="1681.7" x2="430" y2="1686.9" stroke="#4f4f4f" stroke-width="1.3"/>
<text x="432.2" y="1705.4" font-size="19" text-anchor="end" transform="rotate(-15 432.2 1705.4)">200 mcg/ml</text>
<text x="34.4" y="1531" font-size="19.2" text-anchor="middle" transform="rotate(-90 34.4 1531)">Square micrometers</text>
<text x="175.2" y="1349" font-size="28.7" text-anchor="start" fill="#000" >Coronal suture area</text>
<text transform="translate(55.58 1352.7) scale(1.3875 1.1751)" x="0" y="0" font-size="50" fill="#414042" class="lt">f</text>
<line x1="171.6" y1="1507.2" x2="171.6" y2="1513.2" stroke="#2a2a2a" stroke-width="1.2"/>
<line x1="166.9" y1="1507.2" x2="176.3" y2="1507.2" stroke="#2a2a2a" stroke-width="1.2"/>
<rect x="145.9" y="1513.2" width="51.7" height="168.5" fill="#bcbcbc" stroke="#2a2a2a" stroke-width="1.25"/>
<line x1="257.8" y1="1489" x2="257.8" y2="1500.7" stroke="#2a2a2a" stroke-width="1.2"/>
<line x1="253.1" y1="1489" x2="262.5" y2="1489" stroke="#2a2a2a" stroke-width="1.2"/>
<rect x="232.1" y="1500.7" width="51.6" height="181" fill="#bcbcbc" stroke="#2a2a2a" stroke-width="1.25"/>
<line x1="344" y1="1437.5" x2="344" y2="1450.7" stroke="#2a2a2a" stroke-width="1.2"/>
<line x1="339.3" y1="1437.5" x2="348.7" y2="1437.5" stroke="#2a2a2a" stroke-width="1.2"/>
<rect x="317.9" y="1450.7" width="52" height="231" fill="#bcbcbc" stroke="#2a2a2a" stroke-width="1.25"/>
<line x1="430.4" y1="1406.5" x2="430.4" y2="1426.7" stroke="#2a2a2a" stroke-width="1.2"/>
<line x1="425.7" y1="1406.5" x2="435.1" y2="1406.5" stroke="#2a2a2a" stroke-width="1.2"/>
<rect x="404.5" y="1426.7" width="51.9" height="255" fill="#bcbcbc" stroke="#2a2a2a" stroke-width="1.25"/>
<polyline points="171.5,1505 171.5,1404.5 341.5,1404.5 341.5,1431" fill="none" stroke="#444" stroke-width="1"/>
<text transform="translate(248.06 1404.84) scale(0.6822 0.6571)" x="0" y="0" font-size="30" style="stroke-width:0.3px">*</text>
</g>
<g id="chart-g">
<line x1="594" y1="1381" x2="862" y2="1381" stroke="#8e8e8e" stroke-width="1.6"/>
<line x1="594" y1="1682.9" x2="862" y2="1682.9" stroke="#8e8e8e" stroke-width="1.6"/>
<line x1="594" y1="1380.2" x2="594" y2="1683.7" stroke="#8e8e8e" stroke-width="1.6"/>
<line x1="862" y1="1380.5" x2="1164.2" y2="1380.5" stroke="#666" stroke-width="1.1"/>
<line x1="862" y1="1682.5" x2="1164.2" y2="1682.5" stroke="#666" stroke-width="1.1"/>
<line x1="1164.2" y1="1379.95" x2="1164.2" y2="1683.05" stroke="#666" stroke-width="1.1"/>
<line x1="588.2" y1="1381.3" x2="594.2" y2="1381.3" stroke="#8e8e8e" stroke-width="1.6"/>
<text x="580.9" y="1386.08" font-size="14.8" text-anchor="end" fill="#000" >800</text>
<line x1="588.2" y1="1456.62" x2="594.2" y2="1456.62" stroke="#8e8e8e" stroke-width="1.6"/>
<text x="580.9" y="1461.41" font-size="14.8" text-anchor="end" fill="#000" >600</text>
<line x1="588.2" y1="1531.95" x2="594.2" y2="1531.95" stroke="#8e8e8e" stroke-width="1.6"/>
<text x="580.9" y="1536.73" font-size="14.8" text-anchor="end" fill="#000" >400</text>
<line x1="588.2" y1="1607.27" x2="594.2" y2="1607.27" stroke="#8e8e8e" stroke-width="1.6"/>
<text x="580.9" y="1612.06" font-size="14.8" text-anchor="end" fill="#000" >200</text>
<line x1="588.2" y1="1682.6" x2="594.2" y2="1682.6" stroke="#8e8e8e" stroke-width="1.6"/>
<text x="580.9" y="1687.38" font-size="14.8" text-anchor="end" fill="#000" >0</text>
<line x1="654.5" y1="1682.6" x2="654.5" y2="1688.6" stroke="#8e8e8e" stroke-width="1.6"/>
<text x="659.5" y="1705" font-size="19" text-anchor="end" transform="rotate(-30 659.5 1705)">0 mcg/ml</text>
<line x1="715" y1="1682.6" x2="715" y2="1688.6" stroke="#8e8e8e" stroke-width="1.6"/>
<text x="720" y="1705" font-size="19" text-anchor="end" transform="rotate(-30 720 1705)">50 mcg/ml</text>
<line x1="775.2" y1="1682.6" x2="775.2" y2="1688.6" stroke="#8e8e8e" stroke-width="1.6"/>
<text x="780.2" y="1705" font-size="19" text-anchor="end" transform="rotate(-30 780.2 1705)">100 mcg/ml</text>
<line x1="835.5" y1="1682.6" x2="835.5" y2="1688.6" stroke="#8e8e8e" stroke-width="1.6"/>
<text x="840.5" y="1705" font-size="19" text-anchor="end" transform="rotate(-30 840.5 1705)">200 mcg/ml</text>
<line x1="922.4" y1="1682.6" x2="922.4" y2="1688.6" stroke="#666" stroke-width="1.1"/>
<text x="927.4" y="1705" font-size="19" text-anchor="end" transform="rotate(-30 927.4 1705)">0 mcg/ml</text>
<line x1="982.8" y1="1682.6" x2="982.8" y2="1688.6" stroke="#666" stroke-width="1.1"/>
<text x="987.8" y="1705" font-size="19" text-anchor="end" transform="rotate(-30 987.8 1705)">50 mcg/ml</text>
<line x1="1043.3" y1="1682.6" x2="1043.3" y2="1688.6" stroke="#666" stroke-width="1.1"/>
<text x="1048.3" y="1705" font-size="19" text-anchor="end" transform="rotate(-30 1048.3 1705)">100 mcg/ml</text>
<line x1="1103.5" y1="1682.6" x2="1103.5" y2="1688.6" stroke="#666" stroke-width="1.1"/>
<text x="1108.5" y="1705" font-size="19" text-anchor="end" transform="rotate(-30 1108.5 1705)">200 mcg/ml</text>
<text x="543" y="1532" font-size="19.2" text-anchor="middle" transform="rotate(-90 543 1532)">Micrometers</text>
<text x="738.2" y="1348" font-size="28.7" text-anchor="start" fill="#000" >Synchondrosis height</text>
<text transform="translate(562.34 1356.66) scale(1.1824 1.0978)" x="0" y="0" font-size="50" fill="#414042" class="lt">g</text>
<circle cx="654.5" cy="1439.5" r="4.64" fill="#000"/>
<polygon points="649.37,1449.92 659.63,1449.92 654.5,1458.67" fill="#000"/>
<circle cx="654.5" cy="1466.7" r="4.64" fill="#000"/>
<circle cx="654.5" cy="1496.7" r="4.64" fill="#000"/>
<circle cx="654.5" cy="1513.7" r="4.64" fill="#000"/>
<circle cx="654.5" cy="1521.2" r="4.64" fill="#000"/>
<rect x="629.85" y="1483.5" width="49.3" height="8.2" fill="#a9a9a9" stroke="#4a4a4a" stroke-width="0.9"/>
<rect x="710.79" y="1434.49" width="8.42" height="8.42" fill="#000"/>
<rect x="710.79" y="1460.79" width="8.42" height="8.42" fill="#000"/>
<polygon points="715,1467.1 720.4,1472.5 715,1477.9 709.6,1472.5" fill="#000"/>
<polygon points="715,1475.1 720.4,1480.5 715,1485.9 709.6,1480.5" fill="#000"/>
<rect x="711.33" y="1488.33" width="7.34" height="7.34" fill="#fff" stroke="#333" stroke-width="1.0"/>
<polygon points="715,1481.6 720.4,1487 715,1492.4 709.6,1487" fill="#000"/>
<rect x="711.33" y="1503.33" width="7.34" height="7.34" fill="#fff" stroke="#333" stroke-width="1.0"/>
<rect x="711.33" y="1515.03" width="7.34" height="7.34" fill="#fff" stroke="#333" stroke-width="1.0"/>
<polygon points="715,1488.6 720.4,1494 715,1499.4 709.6,1494" fill="#000"/>
<rect x="711.33" y="1531.33" width="7.34" height="7.34" fill="#fff" stroke="#333" stroke-width="1.0"/>
<polygon points="715,1518.8 720.4,1524.2 715,1529.6 709.6,1524.2" fill="#000"/>
<polygon points="715,1528.3 720.4,1533.7 715,1539.1 709.6,1533.7" fill="#000"/>
<rect x="711.33" y="1563.83" width="7.34" height="7.34" fill="#fff" stroke="#333" stroke-width="1.0"/>
<rect x="690.35" y="1497.2" width="49.3" height="8.3" fill="#a9a9a9" stroke="#4a4a4a" stroke-width="0.9"/>
<polygon points="770.07,1462.98 780.33,1462.98 775.2,1454.23" fill="#000"/>
<polygon points="770.07,1468.78 780.33,1468.78 775.2,1460.03" fill="#000"/>
<polygon points="775.2,1471.03 780.17,1476 775.2,1480.97 770.23,1476" fill="#fff" stroke="#111" stroke-width="1.0"/>
<polygon points="770.07,1472.48 780.33,1472.48 775.2,1463.73" fill="#000"/>
<polygon points="770.07,1494.78 780.33,1494.78 775.2,1486.03" fill="#000"/>
<polygon points="775.2,1498.73 780.17,1503.7 775.2,1508.67 770.23,1503.7" fill="#fff" stroke="#111" stroke-width="1.0"/>
<polygon points="775.2,1507.53 780.17,1512.5 775.2,1517.47 770.23,1512.5" fill="#fff" stroke="#111" stroke-width="1.0"/>
<polygon points="775.2,1516.23 780.17,1521.2 775.2,1526.17 770.23,1521.2" fill="#fff" stroke="#111" stroke-width="1.0"/>
<polygon points="775.2,1521.03 780.17,1526 775.2,1530.97 770.23,1526" fill="#fff" stroke="#111" stroke-width="1.0"/>
<rect x="750.55" y="1482.5" width="49.3" height="8" fill="#a9a9a9" stroke="#4a4a4a" stroke-width="0.9"/>
<circle cx="835.5" cy="1444.3" r="4.64" fill="#000"/>
<circle cx="835.5" cy="1451" r="4.64" fill="#000"/>
<circle cx="835.5" cy="1458" r="4.64" fill="#000"/>
<circle cx="835.5" cy="1464" r="4.64" fill="#000"/>
<polygon points="831.09,1483.63 839.91,1483.63 835.5,1491.15" fill="#fff" stroke="#111" stroke-width="1.0"/>
<polygon points="831.09,1494.13 839.91,1494.13 835.5,1501.65" fill="#fff" stroke="#111" stroke-width="1.0"/>
<polygon points="831.09,1522.63 839.91,1522.63 835.5,1530.15" fill="#fff" stroke="#111" stroke-width="1.0"/>
<polygon points="835.5,1516.27 831.74,1518.49 831.74,1522.91 835.5,1525.13 839.26,1522.91 839.26,1518.49" fill="#fff" stroke="#111" stroke-width="1.0" stroke-linejoin="round"/>
<polygon points="835.5,1507.14 831.38,1509.57 831.38,1514.43 835.5,1516.86 839.62,1514.43 839.62,1509.57" fill="#000" stroke="#000" stroke-width="0.6" stroke-linejoin="round"/>
<circle cx="835.5" cy="1479" r="4.1" fill="#fff" stroke="#111" stroke-width="1.0"/>
<rect x="810.85" y="1468" width="49.3" height="8" fill="#a9a9a9" stroke="#4a4a4a" stroke-width="0.9"/>
<polygon points="917.27,1550.22 927.53,1550.22 922.4,1558.97" fill="#000"/>
<circle cx="922.4" cy="1566.7" r="4.64" fill="#000"/>
<circle cx="922.4" cy="1579" r="4.64" fill="#000"/>
<polygon points="917.27,1588.22 927.53,1588.22 922.4,1596.97" fill="#000"/>
<circle cx="922.4" cy="1598" r="4.64" fill="#000"/>
<circle cx="922.4" cy="1609" r="4.64" fill="#000"/>
<rect x="897.75" y="1580" width="49.3" height="8.3" fill="#a9a9a9" stroke="#4a4a4a" stroke-width="0.9"/>
<rect x="978.59" y="1535.79" width="8.42" height="8.42" fill="#000"/>
<polygon points="982.8,1529.4 988.2,1534.8 982.8,1540.2 977.4,1534.8" fill="#000"/>
<rect x="979.13" y="1553.73" width="7.34" height="7.34" fill="#fff" stroke="#333" stroke-width="1.0"/>
<polygon points="982.8,1555.6 988.2,1561 982.8,1566.4 977.4,1561" fill="#000"/>
<polygon points="982.8,1562.6 988.2,1568 982.8,1573.4 977.4,1568" fill="#000"/>
<rect x="978.59" y="1579.29" width="8.42" height="8.42" fill="#000"/>
<rect x="979.13" y="1590.33" width="7.34" height="7.34" fill="#fff" stroke="#333" stroke-width="1.0"/>
<polygon points="982.8,1580.6 988.2,1586 982.8,1591.4 977.4,1586" fill="#000"/>
<polygon points="982.8,1584.6 988.2,1590 982.8,1595.4 977.4,1590" fill="#000"/>
<rect x="979.13" y="1618.33" width="7.34" height="7.34" fill="#fff" stroke="#333" stroke-width="1.0"/>
<rect x="958.15" y="1573" width="49.3" height="8" fill="#a9a9a9" stroke="#4a4a4a" stroke-width="0.9"/>
<polygon points="1038.17,1548.78 1048.43,1548.78 1043.3,1540.03" fill="#000"/>
<polygon points="1038.17,1556.78 1048.43,1556.78 1043.3,1548.03" fill="#000"/>
<polygon points="1038.17,1563.78 1048.43,1563.78 1043.3,1555.03" fill="#000"/>
<polygon points="1038.17,1570.48 1048.43,1570.48 1043.3,1561.73" fill="#000"/>
<polygon points="1043.3,1581.03 1048.27,1586 1043.3,1590.97 1038.33,1586" fill="#fff" stroke="#111" stroke-width="1.0"/>
<polygon points="1043.3,1601.03 1048.27,1606 1043.3,1610.97 1038.33,1606" fill="#fff" stroke="#111" stroke-width="1.0"/>
<rect x="1018.65" y="1573" width="49.3" height="8.3" fill="#a9a9a9" stroke="#4a4a4a" stroke-width="0.9"/>
<polygon points="1099.09,1494.13 1107.91,1494.13 1103.5,1501.65" fill="#fff" stroke="#111" stroke-width="1.0"/>
<polygon points="1099.09,1500.03 1107.91,1500.03 1103.5,1507.55" fill="#fff" stroke="#111" stroke-width="1.0"/>
<polygon points="1099.09,1536.63 1107.91,1536.63 1103.5,1544.15" fill="#fff" stroke="#111" stroke-width="1.0"/>
<polygon points="1103.5,1542.14 1099.38,1544.57 1099.38,1549.43 1103.5,1551.86 1107.62,1549.43 1107.62,1544.57" fill="#000" stroke="#000" stroke-width="0.6" stroke-linejoin="round"/>
<polygon points="1103.5,1547.14 1099.38,1549.57 1099.38,1554.43 1103.5,1556.86 1107.62,1554.43 1107.62,1549.57" fill="#000" stroke="#000" stroke-width="0.6" stroke-linejoin="round"/>
<polygon points="1103.5,1566.14 1099.38,1568.57 1099.38,1573.43 1103.5,1575.86 1107.62,1573.43 1107.62,1568.57" fill="#000" stroke="#000" stroke-width="0.6" stroke-linejoin="round"/>
<polygon points="1103.5,1572.14 1099.38,1574.57 1099.38,1579.43 1103.5,1581.86 1107.62,1579.43 1107.62,1574.57" fill="#000" stroke="#000" stroke-width="0.6" stroke-linejoin="round"/>
<polygon points="1103.5,1578.54 1099.38,1580.97 1099.38,1585.83 1103.5,1588.26 1107.62,1585.83 1107.62,1580.97" fill="#000" stroke="#000" stroke-width="0.6" stroke-linejoin="round"/>
<polygon points="1103.5,1596.57 1099.74,1598.79 1099.74,1603.21 1103.5,1605.43 1107.26,1603.21 1107.26,1598.79" fill="#fff" stroke="#111" stroke-width="1.0" stroke-linejoin="round"/>
<rect x="1078.85" y="1557.4" width="49.3" height="8.3" fill="#a9a9a9" stroke="#4a4a4a" stroke-width="0.9"/>
<line x1="862" y1="1682.7" x2="896.5" y2="1682.7" stroke="#2a2a2a" stroke-width="1.5"/>
<text x="674.8" y="1791.8" font-size="19" text-anchor="start" fill="#000" >Spheno-occipital</text>
<text x="944.8" y="1791.8" font-size="19" text-anchor="start" fill="#000" >Inter-sphenoidal</text>
</g>
<g id="chart-h">
<line x1="86.7" y1="1879.4" x2="333" y2="1879.4" stroke="#666" stroke-width="1.1"/>
<line x1="86.7" y1="2181.4" x2="333" y2="2181.4" stroke="#666" stroke-width="1.1"/>
<line x1="86.7" y1="1878.85" x2="86.7" y2="2181.95" stroke="#666" stroke-width="1.1"/>
<line x1="333" y1="1878.8" x2="636" y2="1878.8" stroke="#8e8e8e" stroke-width="1.6"/>
<line x1="333" y1="2181" x2="636" y2="2181" stroke="#8e8e8e" stroke-width="1.6"/>
<line x1="636" y1="1878" x2="636" y2="2181.8" stroke="#8e8e8e" stroke-width="1.6"/>
<line x1="80.7" y1="1879.3" x2="86.7" y2="1879.3" stroke="#666" stroke-width="1.1"/>
<text x="71" y="1885.53" font-size="19" text-anchor="end" fill="#000" >2500</text>
<line x1="80.7" y1="1939.68" x2="86.7" y2="1939.68" stroke="#666" stroke-width="1.1"/>
<text x="71" y="1945.91" font-size="19" text-anchor="end" fill="#000" >2000</text>
<line x1="80.7" y1="2000.06" x2="86.7" y2="2000.06" stroke="#666" stroke-width="1.1"/>
<text x="71" y="2006.29" font-size="19" text-anchor="end" fill="#000" >1500</text>
<line x1="80.7" y1="2060.44" x2="86.7" y2="2060.44" stroke="#666" stroke-width="1.1"/>
<text x="71" y="2066.67" font-size="19" text-anchor="end" fill="#000" >1000</text>
<line x1="80.7" y1="2120.82" x2="86.7" y2="2120.82" stroke="#666" stroke-width="1.1"/>
<text x="71" y="2127.05" font-size="19" text-anchor="end" fill="#000" >500</text>
<line x1="80.7" y1="2181.2" x2="86.7" y2="2181.2" stroke="#666" stroke-width="1.1"/>
<text x="71" y="2187.43" font-size="19" text-anchor="end" fill="#000" >0</text>
<line x1="147" y1="2181.2" x2="147" y2="2187.2" stroke="#666" stroke-width="1.1"/>
<text x="152" y="2203.6" font-size="19" text-anchor="end" transform="rotate(-30 152 2203.6)">0 mcg/ml</text>
<line x1="207.5" y1="2181.2" x2="207.5" y2="2187.2" stroke="#666" stroke-width="1.1"/>
<text x="212.5" y="2203.6" font-size="19" text-anchor="end" transform="rotate(-30 212.5 2203.6)">50 mcg/ml</text>
<line x1="268" y1="2181.2" x2="268" y2="2187.2" stroke="#666" stroke-width="1.1"/>
<text x="273" y="2203.6" font-size="19" text-anchor="end" transform="rotate(-30 273 2203.6)">100 mcg/ml</text>
<line x1="328.4" y1="2181.2" x2="328.4" y2="2187.2" stroke="#666" stroke-width="1.1"/>
<text x="333.4" y="2203.6" font-size="19" text-anchor="end" transform="rotate(-30 333.4 2203.6)">200 mcg/ml</text>
<line x1="393.9" y1="2181.2" x2="393.9" y2="2187.2" stroke="#8e8e8e" stroke-width="1.6"/>
<text x="398.9" y="2203.6" font-size="19" text-anchor="end" transform="rotate(-30 398.9 2203.6)">0 mcg/ml</text>
<line x1="454.2" y1="2181.2" x2="454.2" y2="2187.2" stroke="#8e8e8e" stroke-width="1.6"/>
<text x="459.2" y="2203.6" font-size="19" text-anchor="end" transform="rotate(-30 459.2 2203.6)">50 mcg/ml</text>
<line x1="514.9" y1="2181.2" x2="514.9" y2="2187.2" stroke="#8e8e8e" stroke-width="1.6"/>
<text x="519.9" y="2203.6" font-size="19" text-anchor="end" transform="rotate(-30 519.9 2203.6)">100 mcg/ml</text>
<line x1="575.2" y1="2181.2" x2="575.2" y2="2187.2" stroke="#8e8e8e" stroke-width="1.6"/>
<text x="580.2" y="2203.6" font-size="19" text-anchor="end" transform="rotate(-30 580.2 2203.6)">200 mcg/ml</text>
<text x="14.4" y="2030" font-size="19.2" text-anchor="middle" transform="rotate(-90 14.4 2030)">Micrometers</text>
<text x="254.2" y="1847.5" font-size="28.7" text-anchor="start" fill="#000" >Synchondrosis width</text>
<text transform="translate(56.77 1854.9) scale(1.1524 1.1585)" x="0" y="0" font-size="50" fill="#414042" class="lt">h</text>
<polygon points="141.87,1944.22 152.13,1944.22 147,1952.97" fill="#000"/>
<circle cx="147" cy="1950" r="4.64" fill="#000"/>
<circle cx="147" cy="1965.7" r="4.64" fill="#000"/>
<rect x="122.35" y="1952.2" width="49.3" height="8.3" fill="#a9a9a9" stroke="#4a4a4a" stroke-width="0.9"/>
<polygon points="207.5,1925.6 212.9,1931 207.5,1936.4 202.1,1931" fill="#000"/>
<polygon points="207.5,1933.3 212.9,1938.7 207.5,1944.1 202.1,1938.7" fill="#000"/>
<rect x="203.83" y="1942.33" width="7.34" height="7.34" fill="#fff" stroke="#333" stroke-width="1.0"/>
<polygon points="207.5,1946.6 212.9,1952 207.5,1957.4 202.1,1952" fill="#000"/>
<rect x="203.83" y="1968.83" width="7.34" height="7.34" fill="#fff" stroke="#333" stroke-width="1.0"/>
<rect x="203.83" y="1974.33" width="7.34" height="7.34" fill="#fff" stroke="#333" stroke-width="1.0"/>
<polygon points="207.5,1960.6 212.9,1966 207.5,1971.4 202.1,1966" fill="#000"/>
<polygon points="207.5,1978.3 212.9,1983.7 207.5,1989.1 202.1,1983.7" fill="#000"/>
<rect x="203.83" y="1987.33" width="7.34" height="7.34" fill="#fff" stroke="#333" stroke-width="1.0"/>
<rect x="182.85" y="1953.2" width="49.3" height="8.5" fill="#a9a9a9" stroke="#4a4a4a" stroke-width="0.9"/>
<polygon points="268,1927.53 272.97,1932.5 268,1937.47 263.03,1932.5" fill="#fff" stroke="#111" stroke-width="1.0"/>
<polygon points="268,1931.03 272.97,1936 268,1940.97 263.03,1936" fill="#fff" stroke="#111" stroke-width="1.0"/>
<polygon points="262.87,1942.48 273.13,1942.48 268,1933.73" fill="#000"/>
<polygon points="268,1958.73 272.97,1963.7 268,1968.67 263.03,1963.7" fill="#fff" stroke="#111" stroke-width="1.0"/>
<polygon points="262.87,1966.28 273.13,1966.28 268,1957.53" fill="#000"/>
<rect x="243.35" y="1947.5" width="49.3" height="8.5" fill="#a9a9a9" stroke="#4a4a4a" stroke-width="0.9"/>
<polygon points="328.4,1936.87 324.64,1939.09 324.64,1943.51 328.4,1945.73 332.16,1943.51 332.16,1939.09" fill="#fff" stroke="#111" stroke-width="1.0" stroke-linejoin="round"/>
<circle cx="328.4" cy="1948" r="4.64" fill="#000"/>
<circle cx="328.4" cy="1952" r="4.64" fill="#000"/>
<circle cx="328.4" cy="1956" r="4.64" fill="#000"/>
<circle cx="328.4" cy="1967" r="4.64" fill="#000"/>
<rect x="303.75" y="1961" width="49.3" height="8.4" fill="#a9a9a9" stroke="#4a4a4a" stroke-width="0.9"/>
<circle cx="393.9" cy="2053.5" r="4.64" fill="#000"/>
<circle cx="393.9" cy="2058" r="4.64" fill="#000"/>
<circle cx="393.9" cy="2062" r="4.64" fill="#000"/>
<circle cx="393.9" cy="2065" r="4.64" fill="#000"/>
<circle cx="393.9" cy="2085.3" r="4.64" fill="#000"/>
<polygon points="388.77,2077.22 399.03,2077.22 393.9,2085.97" fill="#000"/>
<rect x="369.25" y="2068.8" width="49.3" height="8.2" fill="#a9a9a9" stroke="#4a4a4a" stroke-width="0.9"/>
<polygon points="454.2,2002.4 459.6,2007.8 454.2,2013.2 448.8,2007.8" fill="#000"/>
<rect x="449.99" y="2027.79" width="8.42" height="8.42" fill="#000"/>
<polygon points="454.2,2038.6 459.6,2044 454.2,2049.4 448.8,2044" fill="#000"/>
<polygon points="454.2,2042.6 459.6,2048 454.2,2053.4 448.8,2048" fill="#000"/>
<polygon points="454.2,2046.6 459.6,2052 454.2,2057.4 448.8,2052" fill="#000"/>
<rect x="450.53" y="2066.33" width="7.34" height="7.34" fill="#fff" stroke="#333" stroke-width="1.0"/>
<polygon points="454.2,2061.6 459.6,2067 454.2,2072.4 448.8,2067" fill="#000"/>
<polygon points="454.2,2071.9 459.6,2077.3 454.2,2082.7 448.8,2077.3" fill="#000"/>
<polygon points="454.2,2078.3 459.6,2083.7 454.2,2089.1 448.8,2083.7" fill="#000"/>
<rect x="429.55" y="2057" width="49.3" height="8" fill="#a9a9a9" stroke="#4a4a4a" stroke-width="0.9"/>
<polygon points="509.77,2036.78 520.03,2036.78 514.9,2028.03" fill="#000"/>
<polygon points="514.9,2037.03 519.87,2042 514.9,2046.97 509.93,2042" fill="#fff" stroke="#111" stroke-width="1.0"/>
<polygon points="509.77,2046.18 520.03,2046.18 514.9,2037.43" fill="#000"/>
<polygon points="509.77,2052.48 520.03,2052.48 514.9,2043.73" fill="#000"/>
<polygon points="514.9,2066.03 519.87,2071 514.9,2075.97 509.93,2071" fill="#fff" stroke="#111" stroke-width="1.0"/>
<polygon points="514.9,2070.03 519.87,2075 514.9,2079.97 509.93,2075" fill="#fff" stroke="#111" stroke-width="1.0"/>
<polygon points="509.77,2069.38 520.03,2069.38 514.9,2060.63" fill="#000"/>
<rect x="490.25" y="2055.7" width="49.3" height="8.3" fill="#a9a9a9" stroke="#4a4a4a" stroke-width="0.9"/>
<polygon points="570.79,2043.63 579.61,2043.63 575.2,2051.15" fill="#fff" stroke="#111" stroke-width="1.0"/>
<polygon points="575.2,2045.57 571.44,2047.79 571.44,2052.21 575.2,2054.43 578.96,2052.21 578.96,2047.79" fill="#fff" stroke="#111" stroke-width="1.0" stroke-linejoin="round"/>
<polygon points="575.2,2047.14 571.08,2049.57 571.08,2054.43 575.2,2056.86 579.32,2054.43 579.32,2049.57" fill="#000" stroke="#000" stroke-width="0.6" stroke-linejoin="round"/>
<polygon points="575.2,2053.14 571.08,2055.57 571.08,2060.43 575.2,2062.86 579.32,2060.43 579.32,2055.57" fill="#000" stroke="#000" stroke-width="0.6" stroke-linejoin="round"/>
<polygon points="575.2,2058.14 571.08,2060.57 571.08,2065.43 575.2,2067.86 579.32,2065.43 579.32,2060.57" fill="#000" stroke="#000" stroke-width="0.6" stroke-linejoin="round"/>
<polygon points="575.2,2061.14 571.08,2063.57 571.08,2068.43 575.2,2070.86 579.32,2068.43 579.32,2063.57" fill="#000" stroke="#000" stroke-width="0.6" stroke-linejoin="round"/>
<polygon points="570.79,2077.13 579.61,2077.13 575.2,2084.65" fill="#fff" stroke="#111" stroke-width="1.0"/>
<polygon points="575.2,2087.17 571.44,2089.39 571.44,2093.81 575.2,2096.03 578.96,2093.81 578.96,2089.39" fill="#fff" stroke="#111" stroke-width="1.0" stroke-linejoin="round"/>
<rect x="550.55" y="2069.4" width="49.3" height="7.9" fill="#a9a9a9" stroke="#4a4a4a" stroke-width="0.9"/>
<line x1="333.2" y1="2181.2" x2="388.8" y2="2181.2" stroke="#2a2a2a" stroke-width="1.5"/>
<line x1="204" y1="1913.2" x2="270.5" y2="1913.2" stroke="#666" stroke-width="1.1"/><text transform="translate(232.82 1916.81) scale(0.7570 0.7333)" x="0" y="0" font-size="30" style="stroke-width:0.3px">*</text>
<text x="166.8" y="2290.5" font-size="19" text-anchor="start" fill="#000" >Spheno-occipital</text>
<text x="416.8" y="2290.5" font-size="19" text-anchor="start" fill="#000" >Inter-sphenoidal</text>
</g>
<g id="chart-i">
<rect x="733" y="1880.5" width="431.2" height="301.2" fill="none" stroke="#4f4f4f" stroke-width="1.3"/>
<line x1="727.8" y1="1880.5" x2="733" y2="1880.5" stroke="#4f4f4f" stroke-width="1.3"/>
<text x="718.8" y="1886.73" font-size="19" text-anchor="end" fill="#000" >9.0</text>
<line x1="727.8" y1="1930.7" x2="733" y2="1930.7" stroke="#4f4f4f" stroke-width="1.3"/>
<text x="718.8" y="1936.93" font-size="19" text-anchor="end" fill="#000" >8.5</text>
<line x1="727.8" y1="1980.9" x2="733" y2="1980.9" stroke="#4f4f4f" stroke-width="1.3"/>
<text x="718.8" y="1987.13" font-size="19" text-anchor="end" fill="#000" >8.0</text>
<line x1="727.8" y1="2031.1" x2="733" y2="2031.1" stroke="#4f4f4f" stroke-width="1.3"/>
<text x="718.8" y="2037.33" font-size="19" text-anchor="end" fill="#000" >7.5</text>
<line x1="727.8" y1="2081.3" x2="733" y2="2081.3" stroke="#4f4f4f" stroke-width="1.3"/>
<text x="718.8" y="2087.53" font-size="19" text-anchor="end" fill="#000" >7.0</text>
<line x1="727.8" y1="2131.5" x2="733" y2="2131.5" stroke="#4f4f4f" stroke-width="1.3"/>
<text x="718.8" y="2137.73" font-size="19" text-anchor="end" fill="#000" >6.5</text>
<line x1="727.8" y1="2181.7" x2="733" y2="2181.7" stroke="#4f4f4f" stroke-width="1.3"/>
<text x="718.8" y="2187.93" font-size="19" text-anchor="end" fill="#000" >6.0</text>
<line x1="819" y1="2181.7" x2="819" y2="2186.9" stroke="#4f4f4f" stroke-width="1.3"/>
<text x="821.2" y="2205.4" font-size="19" text-anchor="end" transform="rotate(-15 821.2 2205.4)">0 mcg/ml</text>
<line x1="905" y1="2181.7" x2="905" y2="2186.9" stroke="#4f4f4f" stroke-width="1.3"/>
<text x="907.2" y="2205.4" font-size="19" text-anchor="end" transform="rotate(-15 907.2 2205.4)">50 mcg/ml</text>
<line x1="991.5" y1="2181.7" x2="991.5" y2="2186.9" stroke="#4f4f4f" stroke-width="1.3"/>
<text x="993.7" y="2205.4" font-size="19" text-anchor="end" transform="rotate(-15 993.7 2205.4)">100 mcg/ml</text>
<line x1="1078" y1="2181.7" x2="1078" y2="2186.9" stroke="#4f4f4f" stroke-width="1.3"/>
<text x="1080.2" y="2205.4" font-size="19" text-anchor="end" transform="rotate(-15 1080.2 2205.4)">200 mcg/ml</text>
<text x="677" y="2037" font-size="19.2" text-anchor="middle" transform="rotate(-90 677 2037)">mm</text>
<text x="824.7" y="1849" font-size="28.7" text-anchor="start" fill="#000" >Cranial base length</text>
<text transform="translate(699.81 1857.1) scale(1.4667 1.0839)" x="0" y="0" font-size="50" fill="#414042" class="lt">i</text>
<circle cx="819" cy="1956.7" r="4.3" fill="#000"/>
<circle cx="819" cy="1981.7" r="4.3" fill="#000"/>
<polygon points="814.25,2056.1 823.75,2056.1 819,2064.2" fill="#000"/>
<polygon points="819,2057.3 815.18,2059.55 815.18,2064.05 819,2066.3 822.82,2064.05 822.82,2059.55" fill="#000" stroke="#000" stroke-width="0.6" stroke-linejoin="round"/>
<polygon points="814.25,2089.9 823.75,2089.9 819,2098" fill="#000"/>
<rect x="794.35" y="2018" width="49.3" height="8" fill="#a9a9a9" stroke="#4a4a4a" stroke-width="0.9"/>
<polygon points="900.91,1956.12 909.09,1956.12 905,1949.16" fill="#fff" stroke="#111" stroke-width="1.0"/>
<polygon points="905,1961.2 910,1966.2 905,1971.2 900,1966.2" fill="#000"/>
<polygon points="905,1974.2 910,1979.2 905,1984.2 900,1979.2" fill="#000"/>
<polygon points="905,1985.5 910,1990.5 905,1995.5 900,1990.5" fill="#000"/>
<polygon points="900.91,2024.42 909.09,2024.42 905,2017.46" fill="#fff" stroke="#111" stroke-width="1.0"/>
<polygon points="900.91,2032.52 909.09,2032.52 905,2025.56" fill="#fff" stroke="#111" stroke-width="1.0"/>
<rect x="901.6" y="2033.6" width="6.8" height="6.8" fill="#fff" stroke="#333" stroke-width="1.0"/>
<polygon points="900.91,2083.02 909.09,2083.02 905,2076.06" fill="#fff" stroke="#111" stroke-width="1.0"/>
<rect x="880.35" y="1997.5" width="49.3" height="8.2" fill="#a9a9a9" stroke="#4a4a4a" stroke-width="0.9"/>
<polygon points="986.75,1989 996.25,1989 991.5,1980.9" fill="#000"/>
<polygon points="986.75,1995.5 996.25,1995.5 991.5,1987.4" fill="#000"/>
<polygon points="991.5,1997.9 996.1,2002.5 991.5,2007.1 986.9,2002.5" fill="#fff" stroke="#111" stroke-width="1.0"/>
<polygon points="991.5,2004.5 996.5,2009.5 991.5,2014.5 986.5,2009.5" fill="#000"/>
<polygon points="991.5,2011.4 996.1,2016 991.5,2020.6 986.9,2016" fill="#fff" stroke="#111" stroke-width="1.0"/>
<polygon points="991.5,2017.4 996.1,2022 991.5,2026.6 986.9,2022" fill="#fff" stroke="#111" stroke-width="1.0"/>
<polygon points="991.5,2041.4 996.1,2046 991.5,2050.6 986.9,2046" fill="#fff" stroke="#111" stroke-width="1.0"/>
<polygon points="986.75,2055 996.25,2055 991.5,2046.9" fill="#000"/>
<polygon points="986.75,2068.5 996.25,2068.5 991.5,2060.4" fill="#000"/>
<rect x="966.85" y="2028.5" width="49.3" height="7.5" fill="#a9a9a9" stroke="#4a4a4a" stroke-width="0.9"/>
<polygon points="1078,1994.5 1074.18,1996.75 1074.18,2001.25 1078,2003.5 1081.82,2001.25 1081.82,1996.75" fill="#000" stroke="#000" stroke-width="0.6" stroke-linejoin="round"/>
<polygon points="1073.91,2024.88 1082.09,2024.88 1078,2031.84" fill="#fff" stroke="#111" stroke-width="1.0"/>
<polygon points="1078,2030.7 1074.52,2032.75 1074.52,2036.85 1078,2038.9 1081.48,2036.85 1081.48,2032.75" fill="#fff" stroke="#111" stroke-width="1.0" stroke-linejoin="round"/>
<polygon points="1073.91,2041.88 1082.09,2041.88 1078,2048.84" fill="#fff" stroke="#111" stroke-width="1.0"/>
<polygon points="1073.91,2060.88 1082.09,2060.88 1078,2067.84" fill="#fff" stroke="#111" stroke-width="1.0"/>
<polygon points="1078,2066.3 1074.18,2068.55 1074.18,2073.05 1078,2075.3 1081.82,2073.05 1081.82,2068.55" fill="#000" stroke="#000" stroke-width="0.6" stroke-linejoin="round"/>
<polygon points="1073.91,2091.58 1082.09,2091.58 1078,2098.54" fill="#fff" stroke="#111" stroke-width="1.0"/>
<polygon points="1078,2087.5 1074.18,2089.75 1074.18,2094.25 1078,2096.5 1081.82,2094.25 1081.82,2089.75" fill="#000" stroke="#000" stroke-width="0.6" stroke-linejoin="round"/>
<rect x="1053.35" y="2048.8" width="49.3" height="8.1" fill="#a9a9a9" stroke="#4a4a4a" stroke-width="0.9"/>
<line x1="820.1" y1="1936.2" x2="904.6" y2="1936.2" stroke="#666" stroke-width="1.1"/><text transform="translate(853.48 1940.59) scale(0.8348 0.7714)" x="0" y="0" font-size="30" style="stroke-width:0.3px">**</text>
<line x1="905.4" y1="1925" x2="990" y2="1925" stroke="#666" stroke-width="1.1"/><text transform="translate(939.19 1929.09) scale(0.8170 0.7714)" x="0" y="0" font-size="30" style="stroke-width:0.3px">**</text>
</g>
</svg></body></html>
